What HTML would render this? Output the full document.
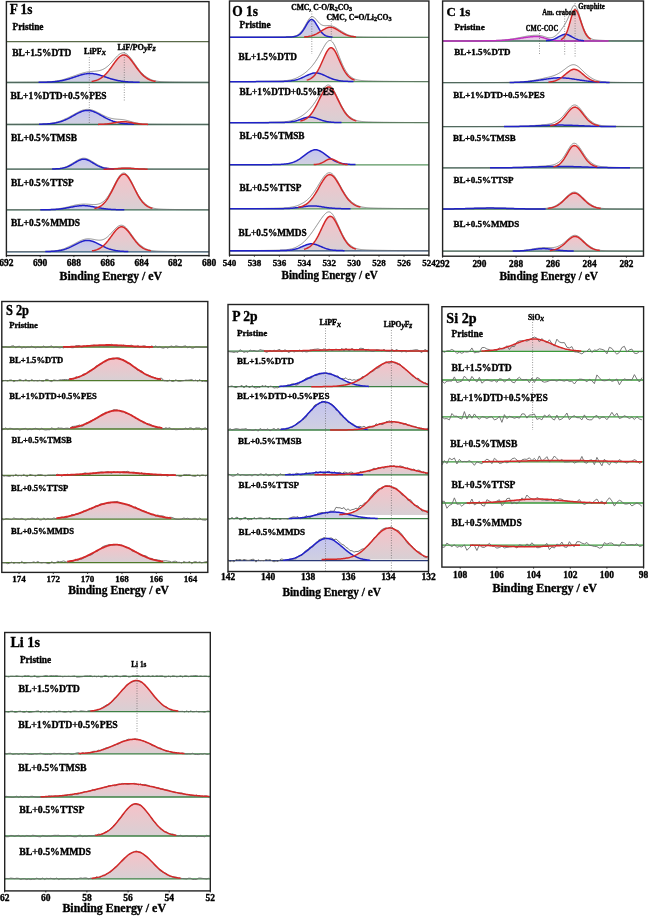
<!DOCTYPE html>
<html><head><meta charset="utf-8"><style>
html,body{margin:0;padding:0;background:#fff;}
svg{display:block;filter:blur(0.3px);}
text{font-family:"Liberation Serif",serif;fill:#000;stroke:#000;stroke-width:0.35px;}
</style></head><body>
<svg width="648" height="916" viewBox="0 0 648 916">
<defs>
<linearGradient id="gr" x1="0" y1="0" x2="0" y2="1"><stop offset="0" stop-color="#f6c2c8"/><stop offset="1" stop-color="#d8d0d4"/></linearGradient>
<linearGradient id="gb" x1="0" y1="0" x2="0" y2="1"><stop offset="0" stop-color="#c4c4f0"/><stop offset="1" stop-color="#d0d0e0"/></linearGradient>
<linearGradient id="gm" x1="0" y1="0" x2="0" y2="1"><stop offset="0" stop-color="#f0c4f0"/><stop offset="1" stop-color="#e0d0e0"/></linearGradient>
</defs>
<rect width="648" height="916" fill="#fff"/>
<clipPath id="cF"><rect x="6.4" y="1.6" width="202.6" height="254.0"/></clipPath>
<g clip-path="url(#cF)">
<line x1="6.4" y1="41.7" x2="209" y2="41.7" stroke="#5a6a48" stroke-width="1.3"/>
<path d="M38.6,82.31 L39.6,82.30 L40.6,82.29 L41.6,82.27 L42.6,82.25 L43.6,82.23 L44.6,82.20 L45.6,82.17 L46.6,82.14 L47.6,82.10 L48.6,82.06 L49.6,82.01 L50.6,81.95 L51.6,81.88 L52.6,81.81 L53.6,81.73 L54.6,81.64 L55.6,81.54 L56.6,81.42 L57.6,81.30 L58.6,81.16 L59.6,81.01 L60.6,80.84 L61.6,80.66 L62.6,80.46 L63.6,80.25 L64.6,80.02 L65.6,79.78 L66.6,79.52 L67.6,79.25 L68.6,78.97 L69.6,78.67 L70.6,78.36 L71.6,78.04 L72.6,77.71 L73.6,77.37 L74.6,77.04 L75.6,76.69 L76.6,76.36 L77.6,76.02 L78.6,75.69 L79.6,75.38 L80.6,75.07 L81.6,74.79 L82.6,74.52 L83.6,74.28 L84.6,74.07 L85.6,73.88 L86.6,73.73 L87.6,73.62 L88.6,73.54 L89.6,73.50 L90.6,73.51 L91.6,73.55 L92.6,73.62 L93.6,73.74 L94.6,73.89 L95.6,74.08 L96.6,74.29 L97.6,74.53 L98.6,74.80 L99.6,75.09 L100.6,75.39 L101.6,75.71 L102.6,76.03 L103.6,76.37 L104.6,76.71 L105.6,77.05 L106.6,77.39 L107.6,77.72 L108.6,78.05 L109.6,78.37 L110.6,78.68 L111.6,78.98 L112.6,79.26 L113.6,79.53 L114.6,79.79 L115.6,80.03 L116.6,80.26 L117.6,80.47 L118.6,80.67 L119.6,80.85 L120.6,81.01 L121.6,81.16 L122.6,81.30 L123.6,81.43 L124.6,81.54 L125.6,81.64 L126.6,81.73 L127.6,81.81 L128.6,81.89 L129.6,81.95 L130.6,82.01 L131.6,82.06 L132.6,82.10 L133.6,82.14 L134.6,82.17 L135.6,82.20 L136.6,82.23 L137.6,82.25 L138.6,82.27 L139.6,82.29 L140.6,82.30 L140.6,82.50 L38.6,82.50 Z" fill="url(#gb)" stroke="none"/>
<path d="M85.8,81.93 L86.8,81.88 L87.8,81.81 L88.8,81.73 L89.8,81.63 L90.8,81.51 L91.8,81.38 L92.8,81.21 L93.8,81.01 L94.8,80.77 L95.8,80.49 L96.8,80.16 L97.8,79.77 L98.8,79.33 L99.8,78.81 L100.8,78.23 L101.8,77.56 L102.8,76.82 L103.8,75.98 L104.8,75.07 L105.8,74.06 L106.8,72.97 L107.8,71.80 L108.8,70.56 L109.8,69.25 L110.8,67.89 L111.8,66.50 L112.8,65.09 L113.8,63.68 L114.8,62.29 L115.8,60.95 L116.8,59.68 L117.8,58.51 L118.8,57.46 L119.8,56.57 L120.8,55.85 L121.8,55.32 L122.8,55.00 L123.8,54.90 L124.8,55.02 L125.8,55.36 L126.8,55.91 L127.8,56.65 L128.8,57.56 L129.8,58.62 L130.8,59.80 L131.8,61.08 L132.8,62.43 L133.8,63.82 L134.8,65.23 L135.8,66.64 L136.8,68.03 L137.8,69.38 L138.8,70.68 L139.8,71.92 L140.8,73.08 L141.8,74.16 L142.8,75.16 L143.8,76.07 L144.8,76.90 L145.8,77.63 L146.8,78.29 L147.8,78.87 L148.8,79.38 L149.8,79.82 L150.8,80.20 L151.8,80.52 L152.8,80.80 L153.8,81.03 L154.8,81.23 L155.8,81.39 L156.8,81.53 L157.8,81.64 L158.8,81.74 L159.8,81.82 L160.8,81.88 L160.8,82.50 L85.8,82.50 Z" fill="url(#gr)" stroke="none"/>
<line x1="6.4" y1="82.5" x2="209" y2="82.5" stroke="#3f6f58" stroke-width="1.3"/>
<path d="M6.4,82.35 L7.4,82.35 L8.4,82.35 L9.4,82.35 L10.4,82.34 L11.4,82.34 L12.4,82.34 L13.4,82.33 L14.4,82.33 L15.4,82.32 L16.4,82.32 L17.4,82.32 L18.4,82.31 L19.4,82.31 L20.4,82.30 L21.4,82.30 L22.4,82.29 L23.4,82.29 L24.4,82.28 L25.4,82.28 L26.4,82.27 L27.4,82.26 L28.4,82.26 L29.4,82.25 L30.4,82.24 L31.4,82.23 L32.4,82.22 L33.4,82.21 L34.4,82.20 L35.4,82.19 L36.4,82.18 L37.4,82.16 L38.4,82.14 L39.4,82.13 L40.4,82.10 L41.4,82.08 L42.4,82.05 L43.4,82.02 L44.4,81.99 L45.4,81.95 L46.4,81.90 L47.4,81.85 L48.4,81.80 L49.4,81.73 L50.4,81.66 L51.4,81.57 L52.4,81.48 L53.4,81.38 L54.4,81.26 L55.4,81.13 L56.4,80.99 L57.4,80.83 L58.4,80.65 L59.4,80.46 L60.4,80.25 L61.4,80.02 L62.4,79.77 L63.4,79.50 L64.4,79.21 L65.4,78.90 L66.4,78.58 L67.4,78.23 L68.4,77.87 L69.4,77.49 L70.4,77.18 L71.4,76.85 L72.4,76.51 L73.4,76.17 L74.4,75.82 L75.4,75.47 L76.4,75.11 L77.4,74.76 L78.4,74.42 L79.4,74.08 L80.4,73.75 L81.4,73.44 L82.4,73.14 L83.4,72.87 L84.4,72.61 L85.4,72.38 L86.4,72.17 L87.4,71.98 L88.4,71.82 L89.4,71.69 L90.4,71.57 L91.4,71.47 L92.4,71.39 L93.4,71.31 L94.4,71.24 L95.4,71.15 L96.4,71.06 L97.4,70.93 L98.4,70.78 L99.4,70.58 L100.4,70.32 L101.4,70.01 L102.4,69.63 L103.4,69.17 L104.4,68.62 L105.4,68.00 L106.4,67.28 L107.4,66.48 L108.4,65.60 L109.4,64.65 L110.4,63.62 L111.4,62.54 L112.4,61.42 L113.4,60.29 L114.4,59.14 L115.4,58.02 L116.4,56.95 L117.4,55.95 L118.4,55.04 L119.4,54.26 L120.4,53.63 L121.4,53.16 L122.4,52.89 L123.4,52.82 L124.4,52.96 L125.4,53.30 L126.4,53.85 L127.4,54.59 L128.4,55.50 L129.4,56.57 L130.4,57.75 L131.4,59.04 L132.4,60.40 L133.4,61.82 L134.4,63.26 L135.4,64.70 L136.4,66.13 L137.4,67.53 L138.4,68.87 L139.4,70.16 L140.4,71.37 L141.4,72.50 L142.4,73.55 L143.4,74.51 L144.4,75.38 L145.4,76.16 L146.4,76.86 L147.4,77.48 L148.4,78.16 L149.4,78.75 L150.4,79.27 L151.4,79.71 L152.4,80.08 L153.4,80.40 L154.4,80.67 L155.4,80.90 L156.4,81.09 L157.4,81.25 L158.4,81.38 L159.4,81.49 L160.4,81.58 L161.4,81.66 L162.4,81.73 L163.4,81.78 L164.4,81.83 L165.4,81.87 L166.4,81.90 L167.4,81.93 L168.4,81.96 L169.4,81.98 L170.4,82.01 L171.4,82.03 L172.4,82.04 L173.4,82.06 L174.4,82.08 L175.4,82.09 L176.4,82.10 L177.4,82.12 L178.4,82.13 L179.4,82.14 L180.4,82.15 L181.4,82.16 L182.4,82.17 L183.4,82.18 L184.4,82.19 L185.4,82.20 L186.4,82.21 L187.4,82.22 L188.4,82.23 L189.4,82.23 L190.4,82.24 L191.4,82.25 L192.4,82.25 L193.4,82.26 L194.4,82.27 L195.4,82.27 L196.4,82.28 L197.4,82.28 L198.4,82.29 L199.4,82.29 L200.4,82.30 L201.4,82.30 L202.4,82.31 L203.4,82.31 L204.4,82.32 L205.4,82.32 L206.4,82.32 L207.4,82.33 L208.4,82.33" fill="none" stroke="#666" stroke-width="0.7"/>
<path d="M38.6,82.31 L39.6,82.30 L40.6,82.29 L41.6,82.27 L42.6,82.25 L43.6,82.23 L44.6,82.20 L45.6,82.17 L46.6,82.14 L47.6,82.10 L48.6,82.06 L49.6,82.01 L50.6,81.95 L51.6,81.88 L52.6,81.81 L53.6,81.73 L54.6,81.64 L55.6,81.54 L56.6,81.42 L57.6,81.30 L58.6,81.16 L59.6,81.01 L60.6,80.84 L61.6,80.66 L62.6,80.46 L63.6,80.25 L64.6,80.02 L65.6,79.78 L66.6,79.52 L67.6,79.25 L68.6,78.97 L69.6,78.67 L70.6,78.36 L71.6,78.04 L72.6,77.71 L73.6,77.37 L74.6,77.04 L75.6,76.69 L76.6,76.36 L77.6,76.02 L78.6,75.69 L79.6,75.38 L80.6,75.07 L81.6,74.79 L82.6,74.52 L83.6,74.28 L84.6,74.07 L85.6,73.88 L86.6,73.73 L87.6,73.62 L88.6,73.54 L89.6,73.50 L90.6,73.51 L91.6,73.55 L92.6,73.62 L93.6,73.74 L94.6,73.89 L95.6,74.08 L96.6,74.29 L97.6,74.53 L98.6,74.80 L99.6,75.09 L100.6,75.39 L101.6,75.71 L102.6,76.03 L103.6,76.37 L104.6,76.71 L105.6,77.05 L106.6,77.39 L107.6,77.72 L108.6,78.05 L109.6,78.37 L110.6,78.68 L111.6,78.98 L112.6,79.26 L113.6,79.53 L114.6,79.79 L115.6,80.03 L116.6,80.26 L117.6,80.47 L118.6,80.67 L119.6,80.85 L120.6,81.01 L121.6,81.16 L122.6,81.30 L123.6,81.43 L124.6,81.54 L125.6,81.64 L126.6,81.73 L127.6,81.81 L128.6,81.89 L129.6,81.95 L130.6,82.01 L131.6,82.06 L132.6,82.10 L133.6,82.14 L134.6,82.17 L135.6,82.20 L136.6,82.23 L137.6,82.25 L138.6,82.27 L139.6,82.29" fill="none" stroke="#2020c8" stroke-width="1.5"/>
<path d="M91.6,81.41 L92.6,81.25 L93.6,81.06 L94.6,80.83 L95.6,80.56 L96.6,80.25 L97.6,79.88 L98.6,79.45 L99.6,78.95 L100.6,78.38 L101.6,77.74 L102.6,77.01 L103.6,76.20 L104.6,75.30 L105.6,74.32 L106.6,73.25 L107.6,72.10 L108.6,70.87 L109.6,69.58 L110.6,68.24 L111.6,66.85 L112.6,65.44 L113.6,64.03 L114.6,62.63 L115.6,61.28 L116.6,59.99 L117.6,58.79 L118.6,57.71 L119.6,56.78 L120.6,56.01 L121.6,55.43 L122.6,55.06 L123.6,54.90 L124.6,54.97 L125.6,55.26 L126.6,55.75 L127.6,56.45 L128.6,57.32 L129.6,58.34 L130.6,59.50 L131.6,60.75 L132.6,62.08 L133.6,63.47 L134.6,64.88 L135.6,66.29 L136.6,67.69 L137.6,69.05 L138.6,70.36 L139.6,71.62 L140.6,72.80 L141.6,73.90 L142.6,74.92 L143.6,75.85 L144.6,76.70 L145.6,77.46 L146.6,78.13 L147.6,78.73 L148.6,79.26 L149.6,79.71 L150.6,80.11 L151.6,80.44 L152.6,80.73 L153.6,80.97 L154.6,81.18 L155.6,81.35" fill="none" stroke="#d42828" stroke-width="1.5"/>
<path d="M39.0,124.21 L40.0,124.19 L41.0,124.16 L42.0,124.13 L43.0,124.10 L44.0,124.06 L45.0,124.02 L46.0,123.96 L47.0,123.90 L48.0,123.84 L49.0,123.76 L50.0,123.67 L51.0,123.56 L52.0,123.45 L53.0,123.31 L54.0,123.16 L55.0,122.99 L56.0,122.81 L57.0,122.59 L58.0,122.36 L59.0,122.10 L60.0,121.82 L61.0,121.51 L62.0,121.17 L63.0,120.81 L64.0,120.42 L65.0,120.00 L66.0,119.56 L67.0,119.09 L68.0,118.60 L69.0,118.09 L70.0,117.56 L71.0,117.01 L72.0,116.46 L73.0,115.89 L74.0,115.33 L75.0,114.77 L76.0,114.21 L77.0,113.67 L78.0,113.15 L79.0,112.66 L80.0,112.20 L81.0,111.78 L82.0,111.41 L83.0,111.09 L84.0,110.82 L85.0,110.62 L86.0,110.48 L87.0,110.41 L88.0,110.41 L89.0,110.48 L90.0,110.61 L91.0,110.82 L92.0,111.08 L93.0,111.40 L94.0,111.77 L95.0,112.19 L96.0,112.65 L97.0,113.14 L98.0,113.66 L99.0,114.20 L100.0,114.76 L101.0,115.32 L102.0,115.88 L103.0,116.45 L104.0,117.00 L105.0,117.55 L106.0,118.08 L107.0,118.59 L108.0,119.08 L109.0,119.55 L110.0,119.99 L111.0,120.41 L112.0,120.80 L113.0,121.17 L114.0,121.50 L115.0,121.81 L116.0,122.10 L117.0,122.36 L118.0,122.59 L119.0,122.80 L120.0,122.99 L121.0,123.16 L122.0,123.31 L123.0,123.44 L124.0,123.56 L125.0,123.66 L126.0,123.76 L127.0,123.83 L128.0,123.90 L129.0,123.96 L130.0,124.02 L131.0,124.06 L132.0,124.10 L133.0,124.13 L134.0,124.16 L135.0,124.19 L136.0,124.21 L136.0,124.50 L39.0,124.50 Z" fill="url(#gb)" stroke="none"/>
<path d="M93.5,124.44 L94.5,124.43 L95.5,124.43 L96.5,124.41 L97.5,124.40 L98.5,124.38 L99.5,124.36 L100.5,124.33 L101.5,124.29 L102.5,124.24 L103.5,124.19 L104.5,124.12 L105.5,124.05 L106.5,123.95 L107.5,123.85 L108.5,123.73 L109.5,123.60 L110.5,123.45 L111.5,123.29 L112.5,123.12 L113.5,122.94 L114.5,122.76 L115.5,122.57 L116.5,122.40 L117.5,122.23 L118.5,122.07 L119.5,121.94 L120.5,121.83 L121.5,121.75 L122.5,121.71 L123.5,121.70 L124.5,121.73 L125.5,121.80 L126.5,121.89 L127.5,122.02 L128.5,122.16 L129.5,122.33 L130.5,122.50 L131.5,122.68 L132.5,122.87 L133.5,123.05 L134.5,123.22 L135.5,123.39 L136.5,123.54 L137.5,123.68 L138.5,123.80 L139.5,123.91 L140.5,124.01 L141.5,124.09 L142.5,124.16 L143.5,124.22 L144.5,124.27 L145.5,124.31 L146.5,124.34 L147.5,124.37 L148.5,124.39 L149.5,124.41 L150.5,124.42 L151.5,124.43 L152.5,124.44 L152.5,124.50 L93.5,124.50 Z" fill="url(#gr)" stroke="none"/>
<line x1="6.4" y1="124.5" x2="209" y2="124.5" stroke="#3f6f58" stroke-width="1.3"/>
<path d="M6.4,124.38 L7.4,124.38 L8.4,124.37 L9.4,124.37 L10.4,124.37 L11.4,124.37 L12.4,124.36 L13.4,124.36 L14.4,124.35 L15.4,124.35 L16.4,124.35 L17.4,124.34 L18.4,124.34 L19.4,124.33 L20.4,124.33 L21.4,124.32 L22.4,124.32 L23.4,124.31 L24.4,124.31 L25.4,124.30 L26.4,124.29 L27.4,124.29 L28.4,124.28 L29.4,124.27 L30.4,124.26 L31.4,124.25 L32.4,124.24 L33.4,124.23 L34.4,124.22 L35.4,124.20 L36.4,124.18 L37.4,124.17 L38.4,124.14 L39.4,124.12 L40.4,124.09 L41.4,124.06 L42.4,124.02 L43.4,123.97 L44.4,123.92 L45.4,123.86 L46.4,123.79 L47.4,123.71 L48.4,123.62 L49.4,123.52 L50.4,123.40 L51.4,123.26 L52.4,123.11 L53.4,122.93 L54.4,122.73 L55.4,122.51 L56.4,122.26 L57.4,121.99 L58.4,121.68 L59.4,121.35 L60.4,120.98 L61.4,120.58 L62.4,120.15 L63.4,119.68 L64.4,119.24 L65.4,118.81 L66.4,118.36 L67.4,117.88 L68.4,117.38 L69.4,116.86 L70.4,116.32 L71.4,115.77 L72.4,115.21 L73.4,114.64 L74.4,114.08 L75.4,113.52 L76.4,112.97 L77.4,112.44 L78.4,111.93 L79.4,111.44 L80.4,111.00 L81.4,110.60 L82.4,110.24 L83.4,109.94 L84.4,109.70 L85.4,109.52 L86.4,109.41 L87.4,109.37 L88.4,109.39 L89.4,109.49 L90.4,109.65 L91.4,109.87 L92.4,110.15 L93.4,110.49 L94.4,110.88 L95.4,111.30 L96.4,111.76 L97.4,112.25 L98.4,112.76 L99.4,113.29 L100.4,113.81 L101.4,114.34 L102.4,114.86 L103.4,115.37 L104.4,115.86 L105.4,116.32 L106.4,116.75 L107.4,117.16 L108.4,117.52 L109.4,117.85 L110.4,118.13 L111.4,118.38 L112.4,118.59 L113.4,118.77 L114.4,118.91 L115.4,119.03 L116.4,119.12 L117.4,119.20 L118.4,119.27 L119.4,119.33 L120.4,119.40 L121.4,119.48 L122.4,119.60 L123.4,119.74 L124.4,119.91 L125.4,120.11 L126.4,120.34 L127.4,120.58 L128.4,120.85 L129.4,121.12 L130.4,121.40 L131.4,121.68 L132.4,121.95 L133.4,122.22 L134.4,122.47 L135.4,122.71 L136.4,122.93 L137.4,123.12 L138.4,123.30 L139.4,123.46 L140.4,123.60 L141.4,123.72 L142.4,123.82 L143.4,123.90 L144.4,123.98 L145.4,124.04 L146.4,124.09 L147.4,124.13 L148.4,124.16 L149.4,124.19 L150.4,124.21 L151.4,124.23 L152.4,124.25 L153.4,124.26 L154.4,124.27 L155.4,124.28 L156.4,124.29 L157.4,124.30 L158.4,124.31 L159.4,124.31 L160.4,124.32 L161.4,124.32 L162.4,124.33 L163.4,124.34 L164.4,124.34 L165.4,124.34 L166.4,124.35 L167.4,124.35 L168.4,124.36 L169.4,124.36 L170.4,124.36 L171.4,124.37 L172.4,124.37 L173.4,124.37 L174.4,124.38 L175.4,124.38 L176.4,124.38 L177.4,124.39 L178.4,124.39 L179.4,124.39 L180.4,124.39 L181.4,124.40 L182.4,124.40 L183.4,124.40 L184.4,124.40 L185.4,124.41 L186.4,124.41 L187.4,124.41 L188.4,124.41 L189.4,124.41 L190.4,124.41 L191.4,124.42 L192.4,124.42 L193.4,124.42 L194.4,124.42 L195.4,124.42 L196.4,124.42 L197.4,124.43 L198.4,124.43 L199.4,124.43 L200.4,124.43 L201.4,124.43 L202.4,124.43 L203.4,124.43 L204.4,124.43 L205.4,124.44 L206.4,124.44 L207.4,124.44 L208.4,124.44" fill="none" stroke="#666" stroke-width="0.7"/>
<path d="M39.0,124.21 L40.0,124.19 L41.0,124.16 L42.0,124.13 L43.0,124.10 L44.0,124.06 L45.0,124.02 L46.0,123.96 L47.0,123.90 L48.0,123.84 L49.0,123.76 L50.0,123.67 L51.0,123.56 L52.0,123.45 L53.0,123.31 L54.0,123.16 L55.0,122.99 L56.0,122.81 L57.0,122.59 L58.0,122.36 L59.0,122.10 L60.0,121.82 L61.0,121.51 L62.0,121.17 L63.0,120.81 L64.0,120.42 L65.0,120.00 L66.0,119.56 L67.0,119.09 L68.0,118.60 L69.0,118.09 L70.0,117.56 L71.0,117.01 L72.0,116.46 L73.0,115.89 L74.0,115.33 L75.0,114.77 L76.0,114.21 L77.0,113.67 L78.0,113.15 L79.0,112.66 L80.0,112.20 L81.0,111.78 L82.0,111.41 L83.0,111.09 L84.0,110.82 L85.0,110.62 L86.0,110.48 L87.0,110.41 L88.0,110.41 L89.0,110.48 L90.0,110.61 L91.0,110.82 L92.0,111.08 L93.0,111.40 L94.0,111.77 L95.0,112.19 L96.0,112.65 L97.0,113.14 L98.0,113.66 L99.0,114.20 L100.0,114.76 L101.0,115.32 L102.0,115.88 L103.0,116.45 L104.0,117.00 L105.0,117.55 L106.0,118.08 L107.0,118.59 L108.0,119.08 L109.0,119.55 L110.0,119.99 L111.0,120.41 L112.0,120.80 L113.0,121.17 L114.0,121.50 L115.0,121.81 L116.0,122.10 L117.0,122.36 L118.0,122.59 L119.0,122.80 L120.0,122.99 L121.0,123.16 L122.0,123.31 L123.0,123.44 L124.0,123.56 L125.0,123.66 L126.0,123.76 L127.0,123.83 L128.0,123.90 L129.0,123.96 L130.0,124.02 L131.0,124.06 L132.0,124.10 L133.0,124.13 L134.0,124.16" fill="none" stroke="#2020c8" stroke-width="1.5"/>
<path d="M98.0,124.39 L99.0,124.37 L100.0,124.34 L101.0,124.31 L102.0,124.27 L103.0,124.22 L104.0,124.16 L105.0,124.09 L106.0,124.00 L107.0,123.90 L108.0,123.79 L109.0,123.66 L110.0,123.52 L111.0,123.37 L112.0,123.20 L113.0,123.03 L114.0,122.85 L115.0,122.67 L116.0,122.48 L117.0,122.31 L118.0,122.15 L119.0,122.00 L120.0,121.88 L121.0,121.79 L122.0,121.73 L123.0,121.70 L124.0,121.71 L125.0,121.76 L126.0,121.84 L127.0,121.95 L128.0,122.09 L129.0,122.24 L130.0,122.41 L131.0,122.59 L132.0,122.78 L133.0,122.96 L134.0,123.14 L135.0,123.30 L136.0,123.46 L137.0,123.61 L138.0,123.74 L139.0,123.86 L140.0,123.96 L141.0,124.05 L142.0,124.13 L143.0,124.19 L144.0,124.25 L145.0,124.29 L146.0,124.33 L147.0,124.36 L148.0,124.38" fill="none" stroke="#d42828" stroke-width="1.5"/>
<path d="M52.1,168.99 L53.1,168.97 L54.1,168.94 L55.1,168.90 L56.1,168.85 L57.1,168.79 L58.1,168.72 L59.1,168.63 L60.1,168.52 L61.1,168.38 L62.1,168.22 L63.1,168.02 L64.1,167.79 L65.1,167.52 L66.1,167.21 L67.1,166.85 L68.1,166.45 L69.1,166.00 L70.1,165.51 L71.1,164.98 L72.1,164.42 L73.1,163.83 L74.1,163.22 L75.1,162.61 L76.1,162.00 L77.1,161.42 L78.1,160.87 L79.1,160.37 L80.1,159.95 L81.1,159.60 L82.1,159.36 L83.1,159.23 L84.1,159.21 L85.1,159.30 L86.1,159.51 L87.1,159.81 L88.1,160.21 L89.1,160.68 L90.1,161.21 L91.1,161.79 L92.1,162.39 L93.1,163.00 L94.1,163.61 L95.1,164.21 L96.1,164.78 L97.1,165.33 L98.1,165.83 L99.1,166.29 L100.1,166.71 L101.1,167.08 L102.1,167.41 L103.1,167.70 L104.1,167.94 L105.1,168.15 L106.1,168.32 L107.1,168.47 L108.1,168.59 L109.1,168.69 L110.1,168.77 L111.1,168.83 L112.1,168.88 L113.1,168.93 L114.1,168.96 L115.1,168.99 L115.1,169.20 L52.1,169.20 Z" fill="url(#gb)" stroke="none"/>
<path d="M99.6,169.18 L100.6,169.18 L101.6,169.17 L102.6,169.17 L103.6,169.16 L104.6,169.15 L105.6,169.14 L106.6,169.13 L107.6,169.11 L108.6,169.09 L109.6,169.06 L110.6,169.03 L111.6,168.99 L112.6,168.94 L113.6,168.89 L114.6,168.83 L115.6,168.77 L116.6,168.70 L117.6,168.63 L118.6,168.55 L119.6,168.48 L120.6,168.41 L121.6,168.35 L122.6,168.29 L123.6,168.25 L124.6,168.22 L125.6,168.20 L126.6,168.20 L127.6,168.22 L128.6,168.25 L129.6,168.30 L130.6,168.36 L131.6,168.42 L132.6,168.49 L133.6,168.57 L134.6,168.64 L135.6,168.71 L136.6,168.78 L137.6,168.84 L138.6,168.90 L139.6,168.95 L140.6,169.00 L141.6,169.03 L142.6,169.06 L143.6,169.09 L144.6,169.11 L145.6,169.13 L146.6,169.14 L147.6,169.15 L148.6,169.16 L149.6,169.17 L150.6,169.17 L151.6,169.18 L151.6,169.20 L99.6,169.20 Z" fill="url(#gr)" stroke="none"/>
<line x1="6.4" y1="169.2" x2="209" y2="169.2" stroke="#3f6f58" stroke-width="1.3"/>
<path d="M6.4,169.16 L7.4,169.16 L8.4,169.16 L9.4,169.16 L10.4,169.16 L11.4,169.15 L12.4,169.15 L13.4,169.15 L14.4,169.15 L15.4,169.15 L16.4,169.15 L17.4,169.15 L18.4,169.14 L19.4,169.14 L20.4,169.14 L21.4,169.14 L22.4,169.14 L23.4,169.13 L24.4,169.13 L25.4,169.13 L26.4,169.13 L27.4,169.13 L28.4,169.12 L29.4,169.12 L30.4,169.12 L31.4,169.11 L32.4,169.11 L33.4,169.11 L34.4,169.10 L35.4,169.10 L36.4,169.10 L37.4,169.09 L38.4,169.09 L39.4,169.08 L40.4,169.08 L41.4,169.07 L42.4,169.07 L43.4,169.06 L44.4,169.05 L45.4,169.04 L46.4,169.04 L47.4,169.02 L48.4,169.01 L49.4,169.00 L50.4,168.98 L51.4,168.96 L52.4,168.93 L53.4,168.90 L54.4,168.86 L55.4,168.81 L56.4,168.74 L57.4,168.66 L58.4,168.57 L59.4,168.44 L60.4,168.30 L61.4,168.12 L62.4,167.90 L63.4,167.64 L64.4,167.34 L65.4,166.99 L66.4,166.58 L67.4,166.12 L68.4,165.60 L69.4,165.03 L70.4,164.40 L71.4,163.82 L72.4,163.25 L73.4,162.66 L74.4,162.05 L75.4,161.43 L76.4,160.83 L77.4,160.25 L78.4,159.72 L79.4,159.24 L80.4,158.84 L81.4,158.52 L82.4,158.31 L83.4,158.20 L84.4,158.21 L85.4,158.34 L86.4,158.57 L87.4,158.91 L88.4,159.33 L89.4,159.82 L90.4,160.36 L91.4,160.94 L92.4,161.55 L93.4,162.16 L94.4,162.77 L95.4,163.36 L96.4,163.92 L97.4,164.52 L98.4,165.13 L99.4,165.69 L100.4,166.19 L101.4,166.64 L102.4,167.03 L103.4,167.36 L104.4,167.65 L105.4,167.88 L106.4,168.07 L107.4,168.22 L108.4,168.34 L109.4,168.42 L110.4,168.48 L111.4,168.50 L112.4,168.51 L113.4,168.50 L114.4,168.46 L115.4,168.42 L116.4,168.36 L117.4,168.29 L118.4,168.21 L119.4,168.14 L120.4,168.06 L121.4,167.99 L122.4,167.92 L123.4,167.87 L124.4,167.84 L125.4,167.82 L126.4,167.83 L127.4,167.85 L128.4,167.89 L129.4,167.95 L130.4,168.03 L131.4,168.11 L132.4,168.20 L133.4,168.30 L134.4,168.39 L135.4,168.49 L136.4,168.58 L137.4,168.66 L138.4,168.73 L139.4,168.80 L140.4,168.86 L141.4,168.91 L142.4,168.96 L143.4,168.99 L144.4,169.02 L145.4,169.05 L146.4,169.07 L147.4,169.08 L148.4,169.10 L149.4,169.11 L150.4,169.11 L151.4,169.12 L152.4,169.12 L153.4,169.13 L154.4,169.13 L155.4,169.14 L156.4,169.14 L157.4,169.14 L158.4,169.14 L159.4,169.15 L160.4,169.15 L161.4,169.15 L162.4,169.15 L163.4,169.15 L164.4,169.15 L165.4,169.15 L166.4,169.16 L167.4,169.16 L168.4,169.16 L169.4,169.16 L170.4,169.16 L171.4,169.16 L172.4,169.16 L173.4,169.16 L174.4,169.16 L175.4,169.17 L176.4,169.17 L177.4,169.17 L178.4,169.17 L179.4,169.17 L180.4,169.17 L181.4,169.17 L182.4,169.17 L183.4,169.17 L184.4,169.17 L185.4,169.17 L186.4,169.17 L187.4,169.17 L188.4,169.17 L189.4,169.17 L190.4,169.18 L191.4,169.18 L192.4,169.18 L193.4,169.18 L194.4,169.18 L195.4,169.18 L196.4,169.18 L197.4,169.18 L198.4,169.18 L199.4,169.18 L200.4,169.18 L201.4,169.18 L202.4,169.18 L203.4,169.18 L204.4,169.18 L205.4,169.18 L206.4,169.18 L207.4,169.18 L208.4,169.18" fill="none" stroke="#666" stroke-width="0.7"/>
<path d="M52.1,168.99 L53.1,168.97 L54.1,168.94 L55.1,168.90 L56.1,168.85 L57.1,168.79 L58.1,168.72 L59.1,168.63 L60.1,168.52 L61.1,168.38 L62.1,168.22 L63.1,168.02 L64.1,167.79 L65.1,167.52 L66.1,167.21 L67.1,166.85 L68.1,166.45 L69.1,166.00 L70.1,165.51 L71.1,164.98 L72.1,164.42 L73.1,163.83 L74.1,163.22 L75.1,162.61 L76.1,162.00 L77.1,161.42 L78.1,160.87 L79.1,160.37 L80.1,159.95 L81.1,159.60 L82.1,159.36 L83.1,159.23 L84.1,159.21 L85.1,159.30 L86.1,159.51 L87.1,159.81 L88.1,160.21 L89.1,160.68 L90.1,161.21 L91.1,161.79 L92.1,162.39 L93.1,163.00 L94.1,163.61 L95.1,164.21 L96.1,164.78 L97.1,165.33 L98.1,165.83 L99.1,166.29 L100.1,166.71 L101.1,167.08 L102.1,167.41 L103.1,167.70 L104.1,167.94 L105.1,168.15 L106.1,168.32 L107.1,168.47 L108.1,168.59 L109.1,168.69 L110.1,168.77 L111.1,168.83 L112.1,168.88 L113.1,168.93 L114.1,168.96" fill="none" stroke="#2020c8" stroke-width="1.5"/>
<path d="M103.6,169.16 L104.6,169.15 L105.6,169.14 L106.6,169.13 L107.6,169.11 L108.6,169.09 L109.6,169.06 L110.6,169.03 L111.6,168.99 L112.6,168.94 L113.6,168.89 L114.6,168.83 L115.6,168.77 L116.6,168.70 L117.6,168.63 L118.6,168.55 L119.6,168.48 L120.6,168.41 L121.6,168.35 L122.6,168.29 L123.6,168.25 L124.6,168.22 L125.6,168.20 L126.6,168.20 L127.6,168.22 L128.6,168.25 L129.6,168.30 L130.6,168.36 L131.6,168.42 L132.6,168.49 L133.6,168.57 L134.6,168.64 L135.6,168.71 L136.6,168.78 L137.6,168.84 L138.6,168.90 L139.6,168.95 L140.6,169.00 L141.6,169.03 L142.6,169.06 L143.6,169.09 L144.6,169.11 L145.6,169.13 L146.6,169.14 L147.6,169.15" fill="none" stroke="#d42828" stroke-width="1.5"/>
<path d="M40.3,209.81 L41.3,209.80 L42.3,209.79 L43.3,209.78 L44.3,209.77 L45.3,209.76 L46.3,209.74 L47.3,209.72 L48.3,209.70 L49.3,209.67 L50.3,209.64 L51.3,209.60 L52.3,209.56 L53.3,209.51 L54.3,209.45 L55.3,209.39 L56.3,209.31 L57.3,209.23 L58.3,209.14 L59.3,209.04 L60.3,208.93 L61.3,208.80 L62.3,208.67 L63.3,208.53 L64.3,208.37 L65.3,208.21 L66.3,208.04 L67.3,207.86 L68.3,207.67 L69.3,207.48 L70.3,207.29 L71.3,207.09 L72.3,206.90 L73.3,206.71 L74.3,206.53 L75.3,206.35 L76.3,206.19 L77.3,206.04 L78.3,205.91 L79.3,205.80 L80.3,205.71 L81.3,205.65 L82.3,205.61 L83.3,205.60 L84.3,205.62 L85.3,205.66 L86.3,205.73 L87.3,205.82 L88.3,205.94 L89.3,206.07 L90.3,206.22 L91.3,206.39 L92.3,206.56 L93.3,206.75 L94.3,206.94 L95.3,207.13 L96.3,207.33 L97.3,207.52 L98.3,207.71 L99.3,207.90 L100.3,208.07 L101.3,208.24 L102.3,208.41 L103.3,208.56 L104.3,208.70 L105.3,208.83 L106.3,208.95 L107.3,209.06 L108.3,209.16 L109.3,209.25 L110.3,209.33 L111.3,209.40 L112.3,209.46 L113.3,209.52 L114.3,209.57 L115.3,209.61 L116.3,209.64 L117.3,209.67 L118.3,209.70 L119.3,209.72 L120.3,209.74 L121.3,209.76 L122.3,209.77 L123.3,209.79 L124.3,209.80 L125.3,209.81 L125.3,209.90 L40.3,209.90 Z" fill="url(#gb)" stroke="none"/>
<path d="M89.2,209.16 L90.2,209.08 L91.2,208.98 L92.2,208.87 L93.2,208.72 L94.2,208.54 L95.2,208.32 L96.2,208.06 L97.2,207.73 L98.2,207.35 L99.2,206.89 L100.2,206.34 L101.2,205.70 L102.2,204.95 L103.2,204.08 L104.2,203.10 L105.2,201.98 L106.2,200.72 L107.2,199.34 L108.2,197.82 L109.2,196.17 L110.2,194.41 L111.2,192.55 L112.2,190.61 L113.2,188.62 L114.2,186.62 L115.2,184.62 L116.2,182.68 L117.2,180.83 L118.2,179.13 L119.2,177.61 L120.2,176.31 L121.2,175.29 L122.2,174.57 L123.2,174.17 L124.2,174.12 L125.2,174.41 L126.2,175.04 L127.2,175.98 L128.2,177.19 L129.2,178.65 L130.2,180.31 L131.2,182.11 L132.2,184.03 L133.2,186.01 L134.2,188.02 L135.2,190.02 L136.2,191.98 L137.2,193.86 L138.2,195.65 L139.2,197.33 L140.2,198.89 L141.2,200.32 L142.2,201.62 L143.2,202.77 L144.2,203.80 L145.2,204.70 L146.2,205.48 L147.2,206.16 L148.2,206.73 L149.2,207.22 L150.2,207.63 L151.2,207.97 L152.2,208.25 L153.2,208.48 L154.2,208.67 L155.2,208.82 L156.2,208.95 L157.2,209.06 L158.2,209.14 L158.2,209.90 L89.2,209.90 Z" fill="url(#gr)" stroke="none"/>
<line x1="6.4" y1="209.9" x2="209" y2="209.9" stroke="#3f6f58" stroke-width="1.3"/>
<path d="M6.4,209.80 L7.4,209.79 L8.4,209.79 L9.4,209.79 L10.4,209.79 L11.4,209.78 L12.4,209.78 L13.4,209.78 L14.4,209.78 L15.4,209.77 L16.4,209.77 L17.4,209.77 L18.4,209.77 L19.4,209.76 L20.4,209.76 L21.4,209.76 L22.4,209.75 L23.4,209.75 L24.4,209.75 L25.4,209.74 L26.4,209.74 L27.4,209.73 L28.4,209.73 L29.4,209.73 L30.4,209.72 L31.4,209.72 L32.4,209.71 L33.4,209.70 L34.4,209.70 L35.4,209.69 L36.4,209.68 L37.4,209.68 L38.4,209.67 L39.4,209.66 L40.4,209.64 L41.4,209.63 L42.4,209.62 L43.4,209.60 L44.4,209.58 L45.4,209.56 L46.4,209.53 L47.4,209.50 L48.4,209.47 L49.4,209.43 L50.4,209.38 L51.4,209.33 L52.4,209.27 L53.4,209.20 L54.4,209.12 L55.4,209.04 L56.4,208.94 L57.4,208.83 L58.4,208.71 L59.4,208.57 L60.4,208.42 L61.4,208.26 L62.4,208.08 L63.4,207.90 L64.4,207.69 L65.4,207.48 L66.4,207.25 L67.4,207.02 L68.4,206.78 L69.4,206.52 L70.4,206.27 L71.4,206.01 L72.4,205.76 L73.4,205.51 L74.4,205.26 L75.4,205.03 L76.4,204.83 L77.4,204.67 L78.4,204.53 L79.4,204.40 L80.4,204.30 L81.4,204.21 L82.4,204.16 L83.4,204.12 L84.4,204.11 L85.4,204.12 L86.4,204.15 L87.4,204.20 L88.4,204.26 L89.4,204.33 L90.4,204.40 L91.4,204.46 L92.4,204.51 L93.4,204.54 L94.4,204.55 L95.4,204.51 L96.4,204.43 L97.4,204.28 L98.4,204.07 L99.4,203.77 L100.4,203.38 L101.4,202.88 L102.4,202.26 L103.4,201.52 L104.4,200.64 L105.4,199.62 L106.4,198.45 L107.4,197.14 L108.4,195.68 L109.4,194.10 L110.4,192.39 L111.4,190.58 L112.4,188.69 L113.4,186.75 L114.4,184.78 L115.4,182.84 L116.4,180.96 L117.4,179.17 L118.4,177.53 L119.4,176.09 L120.4,174.88 L121.4,173.94 L122.4,173.31 L123.4,173.02 L124.4,173.06 L125.4,173.45 L126.4,174.16 L127.4,175.18 L128.4,176.46 L129.4,177.98 L130.4,179.68 L131.4,181.52 L132.4,183.46 L133.4,185.46 L134.4,187.47 L135.4,189.46 L136.4,191.40 L137.4,193.27 L138.4,195.04 L139.4,196.69 L140.4,198.22 L141.4,199.62 L142.4,200.88 L143.4,202.00 L144.4,203.00 L145.4,203.87 L146.4,204.63 L147.4,205.37 L148.4,206.06 L149.4,206.64 L150.4,207.13 L151.4,207.54 L152.4,207.87 L153.4,208.15 L154.4,208.38 L155.4,208.56 L156.4,208.72 L157.4,208.84 L158.4,208.94 L159.4,209.03 L160.4,209.09 L161.4,209.15 L162.4,209.20 L163.4,209.24 L164.4,209.28 L165.4,209.31 L166.4,209.34 L167.4,209.37 L168.4,209.39 L169.4,209.41 L170.4,209.43 L171.4,209.45 L172.4,209.47 L173.4,209.48 L174.4,209.50 L175.4,209.51 L176.4,209.53 L177.4,209.54 L178.4,209.55 L179.4,209.56 L180.4,209.57 L181.4,209.59 L182.4,209.60 L183.4,209.60 L184.4,209.61 L185.4,209.62 L186.4,209.63 L187.4,209.64 L188.4,209.65 L189.4,209.65 L190.4,209.66 L191.4,209.67 L192.4,209.67 L193.4,209.68 L194.4,209.69 L195.4,209.69 L196.4,209.70 L197.4,209.70 L198.4,209.71 L199.4,209.71 L200.4,209.72 L201.4,209.72 L202.4,209.72 L203.4,209.73 L204.4,209.73 L205.4,209.74 L206.4,209.74 L207.4,209.74 L208.4,209.75" fill="none" stroke="#666" stroke-width="0.7"/>
<path d="M40.3,209.81 L41.3,209.80 L42.3,209.79 L43.3,209.78 L44.3,209.77 L45.3,209.76 L46.3,209.74 L47.3,209.72 L48.3,209.70 L49.3,209.67 L50.3,209.64 L51.3,209.60 L52.3,209.56 L53.3,209.51 L54.3,209.45 L55.3,209.39 L56.3,209.31 L57.3,209.23 L58.3,209.14 L59.3,209.04 L60.3,208.93 L61.3,208.80 L62.3,208.67 L63.3,208.53 L64.3,208.37 L65.3,208.21 L66.3,208.04 L67.3,207.86 L68.3,207.67 L69.3,207.48 L70.3,207.29 L71.3,207.09 L72.3,206.90 L73.3,206.71 L74.3,206.53 L75.3,206.35 L76.3,206.19 L77.3,206.04 L78.3,205.91 L79.3,205.80 L80.3,205.71 L81.3,205.65 L82.3,205.61 L83.3,205.60 L84.3,205.62 L85.3,205.66 L86.3,205.73 L87.3,205.82 L88.3,205.94 L89.3,206.07 L90.3,206.22 L91.3,206.39 L92.3,206.56 L93.3,206.75 L94.3,206.94 L95.3,207.13 L96.3,207.33 L97.3,207.52 L98.3,207.71 L99.3,207.90 L100.3,208.07 L101.3,208.24 L102.3,208.41 L103.3,208.56 L104.3,208.70 L105.3,208.83 L106.3,208.95 L107.3,209.06 L108.3,209.16 L109.3,209.25 L110.3,209.33 L111.3,209.40 L112.3,209.46 L113.3,209.52 L114.3,209.57 L115.3,209.61 L116.3,209.64 L117.3,209.67 L118.3,209.70 L119.3,209.72 L120.3,209.74 L121.3,209.76 L122.3,209.77 L123.3,209.79 L124.3,209.80" fill="none" stroke="#2020c8" stroke-width="1.5"/>
<path d="M94.4,208.49 L95.4,208.26 L96.4,207.98 L97.4,207.64 L98.4,207.24 L99.4,206.76 L100.4,206.19 L101.4,205.52 L102.4,204.74 L103.4,203.85 L104.4,202.83 L105.4,201.68 L106.4,200.39 L107.4,198.97 L108.4,197.42 L109.4,195.74 L110.4,193.95 L111.4,192.07 L112.4,190.12 L113.4,188.12 L114.4,186.11 L115.4,184.13 L116.4,182.21 L117.4,180.39 L118.4,178.73 L119.4,177.26 L120.4,176.03 L121.4,175.08 L122.4,174.44 L123.4,174.13 L124.4,174.16 L125.4,174.54 L126.4,175.25 L127.4,176.26 L128.4,177.54 L129.4,179.05 L130.4,180.75 L131.4,182.59 L132.4,184.52 L133.4,186.52 L134.4,188.52 L135.4,190.51 L136.4,192.45 L137.4,194.32 L138.4,196.08 L139.4,197.74 L140.4,199.26 L141.4,200.66 L142.4,201.92 L143.4,203.04 L144.4,204.04 L145.4,204.91 L146.4,205.66 L147.4,206.31 L148.4,206.86 L149.4,207.33 L150.4,207.72 L151.4,208.04 L152.4,208.31" fill="none" stroke="#d42828" stroke-width="1.5"/>
<path d="M45.3,251.57 L46.3,251.54 L47.3,251.52 L48.3,251.49 L49.3,251.46 L50.3,251.42 L51.3,251.37 L52.3,251.32 L53.3,251.25 L54.3,251.18 L55.3,251.09 L56.3,250.98 L57.3,250.87 L58.3,250.73 L59.3,250.57 L60.3,250.39 L61.3,250.19 L62.3,249.96 L63.3,249.71 L64.3,249.43 L65.3,249.12 L66.3,248.78 L67.3,248.41 L68.3,248.02 L69.3,247.60 L70.3,247.15 L71.3,246.68 L72.3,246.18 L73.3,245.68 L74.3,245.16 L75.3,244.64 L76.3,244.11 L77.3,243.59 L78.3,243.09 L79.3,242.61 L80.3,242.15 L81.3,241.74 L82.3,241.36 L83.3,241.04 L84.3,240.78 L85.3,240.58 L86.3,240.46 L87.3,240.40 L88.3,240.42 L89.3,240.51 L90.3,240.68 L91.3,240.91 L92.3,241.20 L93.3,241.55 L94.3,241.95 L95.3,242.39 L96.3,242.85 L97.3,243.35 L98.3,243.86 L99.3,244.38 L100.3,244.91 L101.3,245.43 L102.3,245.94 L103.3,246.44 L104.3,246.92 L105.3,247.38 L106.3,247.82 L107.3,248.23 L108.3,248.61 L109.3,248.96 L110.3,249.28 L111.3,249.58 L112.3,249.85 L113.3,250.09 L114.3,250.30 L115.3,250.49 L116.3,250.66 L117.3,250.80 L118.3,250.93 L119.3,251.04 L120.3,251.13 L121.3,251.22 L122.3,251.29 L123.3,251.35 L124.3,251.40 L125.3,251.44 L126.3,251.48 L127.3,251.51 L128.3,251.53 L129.3,251.56 L129.3,251.80 L45.3,251.80 Z" fill="url(#gb)" stroke="none"/>
<path d="M86.6,251.28 L87.6,251.23 L88.6,251.16 L89.6,251.08 L90.6,250.98 L91.6,250.86 L92.6,250.71 L93.6,250.53 L94.6,250.31 L95.6,250.04 L96.6,249.73 L97.6,249.36 L98.6,248.92 L99.6,248.41 L100.6,247.82 L101.6,247.15 L102.6,246.39 L103.6,245.54 L104.6,244.59 L105.6,243.56 L106.6,242.43 L107.6,241.23 L108.6,239.96 L109.6,238.63 L110.6,237.26 L111.6,235.87 L112.6,234.49 L113.6,233.13 L114.6,231.84 L115.6,230.63 L116.6,229.54 L117.6,228.59 L118.6,227.83 L119.6,227.26 L120.6,226.91 L121.6,226.80 L122.6,226.92 L123.6,227.28 L124.6,227.85 L125.6,228.63 L126.6,229.58 L127.6,230.67 L128.6,231.89 L129.6,233.19 L130.6,234.54 L131.6,235.93 L132.6,237.31 L133.6,238.68 L134.6,240.01 L135.6,241.28 L136.6,242.48 L137.6,243.60 L138.6,244.63 L139.6,245.57 L140.6,246.42 L141.6,247.18 L142.6,247.85 L143.6,248.43 L144.6,248.94 L145.6,249.37 L146.6,249.74 L147.6,250.05 L148.6,250.32 L149.6,250.53 L150.6,250.71 L151.6,250.86 L152.6,250.98 L153.6,251.08 L154.6,251.17 L155.6,251.23 L155.6,251.80 L86.6,251.80 Z" fill="url(#gr)" stroke="none"/>
<line x1="6.4" y1="251.8" x2="209" y2="251.8" stroke="#2f5a78" stroke-width="1.3"/>
<path d="M6.4,251.67 L7.4,251.67 L8.4,251.67 L9.4,251.67 L10.4,251.66 L11.4,251.66 L12.4,251.66 L13.4,251.65 L14.4,251.65 L15.4,251.65 L16.4,251.64 L17.4,251.64 L18.4,251.64 L19.4,251.63 L20.4,251.63 L21.4,251.62 L22.4,251.62 L23.4,251.61 L24.4,251.61 L25.4,251.60 L26.4,251.60 L27.4,251.59 L28.4,251.59 L29.4,251.58 L30.4,251.57 L31.4,251.57 L32.4,251.56 L33.4,251.55 L34.4,251.54 L35.4,251.54 L36.4,251.53 L37.4,251.52 L38.4,251.51 L39.4,251.49 L40.4,251.48 L41.4,251.46 L42.4,251.45 L43.4,251.43 L44.4,251.41 L45.4,251.38 L46.4,251.35 L47.4,251.32 L48.4,251.28 L49.4,251.23 L50.4,251.18 L51.4,251.11 L52.4,251.04 L53.4,250.95 L54.4,250.85 L55.4,250.73 L56.4,250.59 L57.4,250.44 L58.4,250.26 L59.4,250.05 L60.4,249.82 L61.4,249.56 L62.4,249.26 L63.4,248.93 L64.4,248.57 L65.4,248.17 L66.4,247.74 L67.4,247.26 L68.4,246.77 L69.4,246.33 L70.4,245.87 L71.4,245.39 L72.4,244.89 L73.4,244.37 L74.4,243.84 L75.4,243.31 L76.4,242.77 L77.4,242.24 L78.4,241.73 L79.4,241.23 L80.4,240.77 L81.4,240.34 L82.4,239.95 L83.4,239.61 L84.4,239.33 L85.4,239.10 L86.4,238.94 L87.4,238.84 L88.4,238.81 L89.4,238.83 L90.4,238.91 L91.4,239.03 L92.4,239.19 L93.4,239.37 L94.4,239.56 L95.4,239.75 L96.4,239.93 L97.4,240.06 L98.4,240.16 L99.4,240.19 L100.4,240.14 L101.4,240.01 L102.4,239.78 L103.4,239.45 L104.4,239.00 L105.4,238.44 L106.4,237.77 L107.4,236.99 L108.4,236.10 L109.4,235.13 L110.4,234.09 L111.4,232.99 L112.4,231.87 L113.4,230.74 L114.4,229.64 L115.4,228.60 L116.4,227.64 L117.4,226.81 L118.4,226.12 L119.4,225.62 L120.4,225.32 L121.4,225.23 L122.4,225.37 L123.4,225.73 L124.4,226.31 L125.4,227.09 L126.4,228.04 L127.4,229.13 L128.4,230.35 L129.4,231.65 L130.4,233.02 L131.4,234.41 L132.4,235.82 L133.4,237.20 L134.4,238.55 L135.4,239.84 L136.4,241.07 L137.4,242.21 L138.4,243.27 L139.4,244.24 L140.4,245.11 L141.4,245.90 L142.4,246.59 L143.4,247.29 L144.4,247.95 L145.4,248.52 L146.4,249.00 L147.4,249.41 L148.4,249.75 L149.4,250.04 L150.4,250.28 L151.4,250.48 L152.4,250.64 L153.4,250.77 L154.4,250.88 L155.4,250.97 L156.4,251.05 L157.4,251.11 L158.4,251.16 L159.4,251.20 L160.4,251.24 L161.4,251.27 L162.4,251.30 L163.4,251.32 L164.4,251.35 L165.4,251.37 L166.4,251.38 L167.4,251.40 L168.4,251.42 L169.4,251.43 L170.4,251.44 L171.4,251.46 L172.4,251.47 L173.4,251.48 L174.4,251.49 L175.4,251.50 L176.4,251.51 L177.4,251.52 L178.4,251.53 L179.4,251.54 L180.4,251.54 L181.4,251.55 L182.4,251.56 L183.4,251.56 L184.4,251.57 L185.4,251.58 L186.4,251.58 L187.4,251.59 L188.4,251.60 L189.4,251.60 L190.4,251.61 L191.4,251.61 L192.4,251.62 L193.4,251.62 L194.4,251.62 L195.4,251.63 L196.4,251.63 L197.4,251.64 L198.4,251.64 L199.4,251.64 L200.4,251.65 L201.4,251.65 L202.4,251.65 L203.4,251.66 L204.4,251.66 L205.4,251.66 L206.4,251.67 L207.4,251.67 L208.4,251.67" fill="none" stroke="#666" stroke-width="0.7"/>
<path d="M45.3,251.57 L46.3,251.54 L47.3,251.52 L48.3,251.49 L49.3,251.46 L50.3,251.42 L51.3,251.37 L52.3,251.32 L53.3,251.25 L54.3,251.18 L55.3,251.09 L56.3,250.98 L57.3,250.87 L58.3,250.73 L59.3,250.57 L60.3,250.39 L61.3,250.19 L62.3,249.96 L63.3,249.71 L64.3,249.43 L65.3,249.12 L66.3,248.78 L67.3,248.41 L68.3,248.02 L69.3,247.60 L70.3,247.15 L71.3,246.68 L72.3,246.18 L73.3,245.68 L74.3,245.16 L75.3,244.64 L76.3,244.11 L77.3,243.59 L78.3,243.09 L79.3,242.61 L80.3,242.15 L81.3,241.74 L82.3,241.36 L83.3,241.04 L84.3,240.78 L85.3,240.58 L86.3,240.46 L87.3,240.40 L88.3,240.42 L89.3,240.51 L90.3,240.68 L91.3,240.91 L92.3,241.20 L93.3,241.55 L94.3,241.95 L95.3,242.39 L96.3,242.85 L97.3,243.35 L98.3,243.86 L99.3,244.38 L100.3,244.91 L101.3,245.43 L102.3,245.94 L103.3,246.44 L104.3,246.92 L105.3,247.38 L106.3,247.82 L107.3,248.23 L108.3,248.61 L109.3,248.96 L110.3,249.28 L111.3,249.58 L112.3,249.85 L113.3,250.09 L114.3,250.30 L115.3,250.49 L116.3,250.66 L117.3,250.80 L118.3,250.93 L119.3,251.04 L120.3,251.13 L121.3,251.22 L122.3,251.29 L123.3,251.35 L124.3,251.40 L125.3,251.44 L126.3,251.48 L127.3,251.51 L128.3,251.53" fill="none" stroke="#2020c8" stroke-width="1.5"/>
<path d="M91.9,250.81 L92.9,250.66 L93.9,250.46 L94.9,250.23 L95.9,249.95 L96.9,249.62 L97.9,249.23 L98.9,248.77 L99.9,248.24 L100.9,247.63 L101.9,246.93 L102.9,246.14 L103.9,245.27 L104.9,244.29 L105.9,243.23 L106.9,242.08 L107.9,240.86 L108.9,239.56 L109.9,238.22 L110.9,236.84 L111.9,235.45 L112.9,234.08 L113.9,232.74 L114.9,231.46 L115.9,230.29 L116.9,229.24 L117.9,228.34 L118.9,227.63 L119.9,227.13 L120.9,226.85 L121.9,226.81 L122.9,227.01 L123.9,227.43 L124.9,228.06 L125.9,228.89 L126.9,229.89 L127.9,231.03 L128.9,232.27 L129.9,233.59 L130.9,234.96 L131.9,236.34 L132.9,237.73 L133.9,239.09 L134.9,240.40 L135.9,241.65 L136.9,242.83 L137.9,243.92 L138.9,244.93 L139.9,245.84 L140.9,246.66 L141.9,247.39 L142.9,248.03 L143.9,248.59 L144.9,249.08 L145.9,249.49 L146.9,249.84 L147.9,250.14 L148.9,250.39 L149.9,250.59 L150.9,250.76" fill="none" stroke="#d42828" stroke-width="1.5"/>
<line x1="89.3" y1="57" x2="89.3" y2="124" stroke="#555" stroke-width="0.6" stroke-dasharray="1,1.5"/>
<line x1="124.3" y1="52" x2="124.3" y2="102" stroke="#555" stroke-width="0.6" stroke-dasharray="1,1.5"/>
</g>
<rect x="6.4" y="1.6" width="202.6" height="254.0" fill="none" stroke="#222" stroke-width="1.4"/>
<line x1="6.4" y1="255.6" x2="6.4" y2="257.1" stroke="#222" stroke-width="1"/>
<line x1="40.2" y1="255.6" x2="40.2" y2="257.1" stroke="#222" stroke-width="1"/>
<line x1="73.9" y1="255.6" x2="73.9" y2="257.1" stroke="#222" stroke-width="1"/>
<line x1="107.7" y1="255.6" x2="107.7" y2="257.1" stroke="#222" stroke-width="1"/>
<line x1="141.5" y1="255.6" x2="141.5" y2="257.1" stroke="#222" stroke-width="1"/>
<line x1="175.2" y1="255.6" x2="175.2" y2="257.1" stroke="#222" stroke-width="1"/>
<line x1="209.0" y1="255.6" x2="209.0" y2="257.1" stroke="#222" stroke-width="1"/>
<text x="6.4" y="266.0" font-size="9.5" text-anchor="middle" font-weight="bold">692</text>
<text x="40.2" y="266.0" font-size="9.5" text-anchor="middle" font-weight="bold">690</text>
<text x="73.9" y="266.0" font-size="9.5" text-anchor="middle" font-weight="bold">688</text>
<text x="107.7" y="266.0" font-size="9.5" text-anchor="middle" font-weight="bold">686</text>
<text x="141.5" y="266.0" font-size="9.5" text-anchor="middle" font-weight="bold">684</text>
<text x="175.2" y="266.0" font-size="9.5" text-anchor="middle" font-weight="bold">682</text>
<text x="209.0" y="266.0" font-size="9.5" text-anchor="middle" font-weight="bold">680</text>
<text x="59.6" y="279.9" font-size="12.2" text-anchor="start" font-weight="bold" textLength="102.4" lengthAdjust="spacingAndGlyphs">Binding Energy / eV</text>
<text x="9.7" y="14.4" font-size="14.0" text-anchor="start" font-weight="bold" textLength="22.7" lengthAdjust="spacingAndGlyphs">F 1s</text>
<text x="12.5" y="29.6" font-size="9.3" text-anchor="start" font-weight="bold">Pristine</text>
<text x="12.2" y="56.0" font-size="9.45" text-anchor="start" font-weight="bold">BL+1.5%DTD</text>
<text x="10.5" y="99.3" font-size="9.45" text-anchor="start" font-weight="bold">BL+1%DTD+0.5%PES</text>
<text x="11.0" y="140.7" font-size="9.45" text-anchor="start" font-weight="bold">BL+0.5%TMSB</text>
<text x="11.0" y="185.7" font-size="9.45" text-anchor="start" font-weight="bold">BL+0.5%TTSP</text>
<text x="11.0" y="225.5" font-size="9.45" text-anchor="start" font-weight="bold">BL+0.5%MMDS</text>
<text x="84" y="53.9" font-size="7.6" font-weight="bold" textLength="21.8" lengthAdjust="spacingAndGlyphs"><tspan dy="0">LiPF</tspan><tspan dy="1.3" font-style="italic" font-size="7.6">x</tspan></text>
<text x="117.4" y="49.7" font-size="7.6" font-weight="bold" textLength="38.4" lengthAdjust="spacingAndGlyphs"><tspan dy="0">LiF/PO</tspan><tspan dy="1.3" font-style="italic" font-size="7.6">y</tspan><tspan dy="-1.3">F</tspan><tspan dy="1.3" font-style="italic" font-size="7.6">z</tspan></text>
<clipPath id="cO"><rect x="229.5" y="1" width="199.39999999999998" height="254.2"/></clipPath>
<g clip-path="url(#cO)">
<path d="M291.5,36.93 L292.5,36.85 L293.5,36.74 L294.5,36.58 L295.5,36.37 L296.5,36.07 L297.5,35.68 L298.5,35.15 L299.5,34.47 L300.5,33.62 L301.5,32.57 L302.5,31.33 L303.5,29.90 L304.5,28.31 L305.5,26.63 L306.5,24.91 L307.5,23.24 L308.5,21.75 L309.5,20.54 L310.5,19.73 L311.5,19.40 L312.5,19.60 L313.5,20.29 L314.5,21.40 L315.5,22.84 L316.5,24.46 L317.5,26.18 L318.5,27.88 L319.5,29.50 L320.5,30.97 L321.5,32.26 L322.5,33.36 L323.5,34.27 L324.5,34.99 L325.5,35.55 L326.5,35.98 L327.5,36.30 L328.5,36.53 L329.5,36.70 L330.5,36.82 L331.5,36.91 L331.5,37.40 L291.5,37.40 Z" fill="url(#gb)" stroke="none"/>
<path d="M299.3,37.13 L300.3,37.11 L301.3,37.07 L302.3,37.03 L303.3,36.98 L304.3,36.91 L305.3,36.83 L306.3,36.73 L307.3,36.61 L308.3,36.46 L309.3,36.29 L310.3,36.08 L311.3,35.83 L312.3,35.54 L313.3,35.21 L314.3,34.83 L315.3,34.41 L316.3,33.93 L317.3,33.42 L318.3,32.86 L319.3,32.27 L320.3,31.66 L321.3,31.02 L322.3,30.39 L323.3,29.77 L324.3,29.18 L325.3,28.63 L326.3,28.15 L327.3,27.75 L328.3,27.45 L329.3,27.27 L330.3,27.20 L331.3,27.26 L332.3,27.44 L333.3,27.74 L334.3,28.13 L335.3,28.61 L336.3,29.16 L337.3,29.75 L338.3,30.37 L339.3,31.00 L340.3,31.63 L341.3,32.25 L342.3,32.84 L343.3,33.40 L344.3,33.91 L345.3,34.39 L346.3,34.81 L347.3,35.20 L348.3,35.53 L349.3,35.82 L350.3,36.07 L351.3,36.28 L352.3,36.46 L353.3,36.60 L354.3,36.73 L355.3,36.83 L356.3,36.91 L357.3,36.97 L358.3,37.03 L359.3,37.07 L360.3,37.10 L361.3,37.13 L361.3,37.40 L299.3,37.40 Z" fill="url(#gr)" stroke="none"/>
<line x1="229.5" y1="37.4" x2="428.9" y2="37.4" stroke="#5a9660" stroke-width="1.3"/>
<path d="M229.5,37.34 L230.5,37.33 L231.5,37.33 L232.5,37.33 L233.5,37.33 L234.5,37.33 L235.5,37.33 L236.5,37.32 L237.5,37.32 L238.5,37.32 L239.5,37.32 L240.5,37.32 L241.5,37.31 L242.5,37.31 L243.5,37.31 L244.5,37.31 L245.5,37.30 L246.5,37.30 L247.5,37.30 L248.5,37.30 L249.5,37.29 L250.5,37.29 L251.5,37.29 L252.5,37.28 L253.5,37.28 L254.5,37.28 L255.5,37.27 L256.5,37.27 L257.5,37.26 L258.5,37.26 L259.5,37.26 L260.5,37.25 L261.5,37.25 L262.5,37.24 L263.5,37.23 L264.5,37.23 L265.5,37.22 L266.5,37.21 L267.5,37.21 L268.5,37.20 L269.5,37.19 L270.5,37.18 L271.5,37.17 L272.5,37.16 L273.5,37.15 L274.5,37.14 L275.5,37.13 L276.5,37.12 L277.5,37.10 L278.5,37.09 L279.5,37.07 L280.5,37.05 L281.5,37.03 L282.5,37.01 L283.5,36.99 L284.5,36.96 L285.5,36.93 L286.5,36.90 L287.5,36.87 L288.5,36.82 L289.5,36.77 L290.5,36.70 L291.5,36.62 L292.5,36.50 L293.5,36.35 L294.5,36.14 L295.5,35.86 L296.5,35.47 L297.5,34.94 L298.5,34.26 L299.5,33.37 L300.5,32.29 L301.5,31.20 L302.5,29.90 L303.5,28.41 L304.5,26.76 L305.5,24.98 L306.5,23.16 L307.5,21.38 L308.5,19.74 L309.5,18.36 L310.5,17.34 L311.5,16.77 L312.5,16.68 L313.5,17.05 L314.5,17.78 L315.5,18.79 L316.5,19.94 L317.5,21.13 L318.5,22.27 L319.5,23.28 L320.5,24.13 L321.5,24.79 L322.5,25.25 L323.5,25.53 L324.5,25.66 L325.5,25.69 L326.5,25.65 L327.5,25.58 L328.5,25.54 L329.5,25.55 L330.5,25.63 L331.5,25.80 L332.5,26.08 L333.5,26.44 L334.5,26.90 L335.5,27.42 L336.5,28.00 L337.5,28.62 L338.5,29.26 L339.5,29.91 L340.5,30.56 L341.5,31.18 L342.5,31.78 L343.5,32.34 L344.5,32.97 L345.5,33.56 L346.5,34.10 L347.5,34.57 L348.5,34.98 L349.5,35.34 L350.5,35.65 L351.5,35.91 L352.5,36.13 L353.5,36.31 L354.5,36.47 L355.5,36.59 L356.5,36.69 L357.5,36.78 L358.5,36.84 L359.5,36.90 L360.5,36.94 L361.5,36.98 L362.5,37.01 L363.5,37.04 L364.5,37.06 L365.5,37.08 L366.5,37.10 L367.5,37.12 L368.5,37.13 L369.5,37.14 L370.5,37.15 L371.5,37.16 L372.5,37.17 L373.5,37.18 L374.5,37.19 L375.5,37.20 L376.5,37.21 L377.5,37.21 L378.5,37.22 L379.5,37.23 L380.5,37.23 L381.5,37.24 L382.5,37.24 L383.5,37.25 L384.5,37.25 L385.5,37.26 L386.5,37.26 L387.5,37.27 L388.5,37.27 L389.5,37.28 L390.5,37.28 L391.5,37.28 L392.5,37.29 L393.5,37.29 L394.5,37.29 L395.5,37.30 L396.5,37.30 L397.5,37.30 L398.5,37.30 L399.5,37.31 L400.5,37.31 L401.5,37.31 L402.5,37.31 L403.5,37.32 L404.5,37.32 L405.5,37.32 L406.5,37.32 L407.5,37.32 L408.5,37.33 L409.5,37.33 L410.5,37.33 L411.5,37.33 L412.5,37.33 L413.5,37.33 L414.5,37.33 L415.5,37.34 L416.5,37.34 L417.5,37.34 L418.5,37.34 L419.5,37.34 L420.5,37.34 L421.5,37.34 L422.5,37.34 L423.5,37.35 L424.5,37.35 L425.5,37.35 L426.5,37.35 L427.5,37.35 L428.5,37.35" fill="none" stroke="#666" stroke-width="0.7"/>
<path d="M229.5,37.37 L230.5,37.37 L231.5,37.37 L232.5,37.37 L233.5,37.37 L234.5,37.37 L235.5,37.37 L236.5,37.37 L237.5,37.37 L238.5,37.37 L239.5,37.36 L240.5,37.36 L241.5,37.36 L242.5,37.36 L243.5,37.36 L244.5,37.36 L245.5,37.36 L246.5,37.36 L247.5,37.36 L248.5,37.35 L249.5,37.35 L250.5,37.35 L251.5,37.35 L252.5,37.35 L253.5,37.35 L254.5,37.34 L255.5,37.34 L256.5,37.34 L257.5,37.34 L258.5,37.34 L259.5,37.33 L260.5,37.33 L261.5,37.33 L262.5,37.32 L263.5,37.32 L264.5,37.32 L265.5,37.31 L266.5,37.31 L267.5,37.31 L268.5,37.30 L269.5,37.30 L270.5,37.29 L271.5,37.29 L272.5,37.28 L273.5,37.28 L274.5,37.27 L275.5,37.26 L276.5,37.26 L277.5,37.25 L278.5,37.24 L279.5,37.23 L280.5,37.22 L281.5,37.21 L282.5,37.19 L283.5,37.18 L284.5,37.16 L285.5,37.15 L286.5,37.12 L287.5,37.10 L288.5,37.07 L289.5,37.04 L290.5,36.99 L291.5,36.93 L292.5,36.85 L293.5,36.73 L294.5,36.58 L295.5,36.36 L296.5,36.06 L297.5,35.66 L298.5,35.13 L299.5,34.45 L300.5,33.59 L301.5,32.53 L302.5,31.29 L303.5,29.85 L304.5,28.26 L305.5,26.57 L306.5,24.85 L307.5,23.20 L308.5,21.71 L309.5,20.51 L310.5,19.71 L311.5,19.40 L312.5,19.61 L313.5,20.32 L314.5,21.44 L315.5,22.88 L316.5,24.51 L317.5,26.23 L318.5,27.93 L319.5,29.55 L320.5,31.01 L321.5,32.30 L322.5,33.39 L323.5,34.29 L324.5,35.01 L325.5,35.57 L326.5,35.99 L327.5,36.31 L328.5,36.54 L329.5,36.71 L330.5,36.83 L331.5,36.91 L332.5,36.98" fill="none" stroke="#2020c8" stroke-width="1.5"/>
<path d="M304.0,36.93 L305.0,36.86 L306.0,36.76 L307.0,36.65 L308.0,36.51 L309.0,36.34 L310.0,36.14 L311.0,35.91 L312.0,35.63 L313.0,35.31 L314.0,34.95 L315.0,34.54 L316.0,34.08 L317.0,33.58 L318.0,33.03 L319.0,32.45 L320.0,31.84 L321.0,31.22 L322.0,30.58 L323.0,29.96 L324.0,29.35 L325.0,28.79 L326.0,28.29 L327.0,27.86 L328.0,27.53 L329.0,27.31 L330.0,27.21 L331.0,27.23 L332.0,27.38 L333.0,27.64 L334.0,28.01 L335.0,28.46 L336.0,28.99 L337.0,29.57 L338.0,30.18 L339.0,30.81 L340.0,31.44 L341.0,32.06 L342.0,32.66 L343.0,33.23 L344.0,33.76 L345.0,34.25 L346.0,34.69 L347.0,35.09 L348.0,35.43 L349.0,35.74 L350.0,36.00 L351.0,36.22 L352.0,36.41 L353.0,36.56 L354.0,36.69 L355.0,36.80 L356.0,36.88" fill="none" stroke="#d42828" stroke-width="1.5"/>
<path d="M280.2,81.47 L281.2,81.45 L282.2,81.42 L283.2,81.39 L284.2,81.36 L285.2,81.32 L286.2,81.26 L287.2,81.20 L288.2,81.13 L289.2,81.04 L290.2,80.93 L291.2,80.81 L292.2,80.66 L293.2,80.50 L294.2,80.30 L295.2,80.08 L296.2,79.83 L297.2,79.55 L298.2,79.24 L299.2,78.90 L300.2,78.53 L301.2,78.13 L302.2,77.71 L303.2,77.27 L304.2,76.80 L305.2,76.33 L306.2,75.86 L307.2,75.38 L308.2,74.93 L309.2,74.49 L310.2,74.09 L311.2,73.73 L312.2,73.42 L313.2,73.18 L314.2,73.01 L315.2,72.92 L316.2,72.91 L317.2,72.98 L318.2,73.12 L319.2,73.35 L320.2,73.64 L321.2,73.98 L322.2,74.37 L323.2,74.80 L324.2,75.25 L325.2,75.72 L326.2,76.20 L327.2,76.67 L328.2,77.14 L329.2,77.59 L330.2,78.02 L331.2,78.42 L332.2,78.80 L333.2,79.15 L334.2,79.47 L335.2,79.76 L336.2,80.02 L337.2,80.24 L338.2,80.44 L339.2,80.62 L340.2,80.77 L341.2,80.90 L342.2,81.01 L343.2,81.10 L344.2,81.18 L345.2,81.25 L346.2,81.30 L347.2,81.35 L348.2,81.39 L349.2,81.42 L350.2,81.44 L351.2,81.47 L351.2,81.70 L280.2,81.70 Z" fill="url(#gb)" stroke="none"/>
<path d="M302.4,80.81 L303.4,80.71 L304.4,80.58 L305.4,80.42 L306.4,80.22 L307.4,79.97 L308.4,79.65 L309.4,79.25 L310.4,78.76 L311.4,78.16 L312.4,77.44 L313.4,76.57 L314.4,75.54 L315.4,74.34 L316.4,72.97 L317.4,71.41 L318.4,69.67 L319.4,67.76 L320.4,65.70 L321.4,63.53 L322.4,61.27 L323.4,58.99 L324.4,56.74 L325.4,54.58 L326.4,52.59 L327.4,50.85 L328.4,49.43 L329.4,48.40 L330.4,47.82 L331.4,47.72 L332.4,48.10 L333.4,48.95 L334.4,50.21 L335.4,51.83 L336.4,53.72 L337.4,55.82 L338.4,58.04 L339.4,60.32 L340.4,62.59 L341.4,64.80 L342.4,66.91 L343.4,68.88 L344.4,70.70 L345.4,72.33 L346.4,73.79 L347.4,75.06 L348.4,76.16 L349.4,77.09 L350.4,77.88 L351.4,78.53 L352.4,79.06 L353.4,79.49 L354.4,79.84 L355.4,80.12 L356.4,80.34 L357.4,80.52 L358.4,80.66 L359.4,80.77 L359.4,81.70 L302.4,81.70 Z" fill="url(#gr)" stroke="none"/>
<line x1="229.5" y1="81.7" x2="428.9" y2="81.7" stroke="#5a9660" stroke-width="1.3"/>
<path d="M229.5,81.55 L230.5,81.54 L231.5,81.54 L232.5,81.54 L233.5,81.53 L234.5,81.53 L235.5,81.53 L236.5,81.52 L237.5,81.52 L238.5,81.51 L239.5,81.51 L240.5,81.51 L241.5,81.50 L242.5,81.50 L243.5,81.49 L244.5,81.49 L245.5,81.48 L246.5,81.48 L247.5,81.47 L248.5,81.46 L249.5,81.46 L250.5,81.45 L251.5,81.44 L252.5,81.44 L253.5,81.43 L254.5,81.42 L255.5,81.42 L256.5,81.41 L257.5,81.40 L258.5,81.39 L259.5,81.38 L260.5,81.37 L261.5,81.36 L262.5,81.35 L263.5,81.34 L264.5,81.33 L265.5,81.31 L266.5,81.30 L267.5,81.29 L268.5,81.27 L269.5,81.26 L270.5,81.24 L271.5,81.22 L272.5,81.20 L273.5,81.18 L274.5,81.16 L275.5,81.14 L276.5,81.11 L277.5,81.08 L278.5,81.05 L279.5,81.01 L280.5,80.97 L281.5,80.92 L282.5,80.87 L283.5,80.80 L284.5,80.73 L285.5,80.64 L286.5,80.54 L287.5,80.42 L288.5,80.28 L289.5,80.11 L290.5,79.92 L291.5,79.70 L292.5,79.44 L293.5,79.14 L294.5,78.81 L295.5,78.42 L296.5,77.98 L297.5,77.49 L298.5,76.95 L299.5,76.42 L300.5,75.89 L301.5,75.31 L302.5,74.68 L303.5,74.00 L304.5,73.27 L305.5,72.49 L306.5,71.66 L307.5,70.77 L308.5,69.83 L309.5,68.83 L310.5,67.77 L311.5,66.65 L312.5,65.45 L313.5,64.19 L314.5,62.84 L315.5,61.41 L316.5,59.90 L317.5,58.30 L318.5,56.61 L319.5,54.86 L320.5,53.05 L321.5,51.20 L322.5,49.34 L323.5,47.52 L324.5,45.79 L325.5,44.20 L326.5,42.80 L327.5,41.68 L328.5,40.90 L329.5,40.51 L330.5,40.55 L331.5,41.07 L332.5,42.04 L333.5,43.44 L334.5,45.23 L335.5,47.32 L336.5,49.65 L337.5,52.14 L338.5,54.71 L339.5,57.30 L340.5,59.84 L341.5,62.29 L342.5,64.60 L343.5,66.75 L344.5,68.71 L345.5,70.47 L346.5,72.03 L347.5,73.39 L348.5,74.57 L349.5,75.56 L350.5,76.40 L351.5,77.19 L352.5,77.91 L353.5,78.49 L354.5,78.96 L355.5,79.34 L356.5,79.65 L357.5,79.89 L358.5,80.09 L359.5,80.25 L360.5,80.38 L361.5,80.48 L362.5,80.57 L363.5,80.65 L364.5,80.71 L365.5,80.77 L366.5,80.82 L367.5,80.87 L368.5,80.91 L369.5,80.94 L370.5,80.98 L371.5,81.01 L372.5,81.04 L373.5,81.07 L374.5,81.09 L375.5,81.12 L376.5,81.14 L377.5,81.16 L378.5,81.18 L379.5,81.20 L380.5,81.22 L381.5,81.24 L382.5,81.25 L383.5,81.27 L384.5,81.28 L385.5,81.30 L386.5,81.31 L387.5,81.32 L388.5,81.33 L389.5,81.35 L390.5,81.36 L391.5,81.37 L392.5,81.38 L393.5,81.39 L394.5,81.40 L395.5,81.40 L396.5,81.41 L397.5,81.42 L398.5,81.43 L399.5,81.44 L400.5,81.44 L401.5,81.45 L402.5,81.46 L403.5,81.46 L404.5,81.47 L405.5,81.47 L406.5,81.48 L407.5,81.49 L408.5,81.49 L409.5,81.50 L410.5,81.50 L411.5,81.50 L412.5,81.51 L413.5,81.51 L414.5,81.52 L415.5,81.52 L416.5,81.53 L417.5,81.53 L418.5,81.53 L419.5,81.54 L420.5,81.54 L421.5,81.54 L422.5,81.55 L423.5,81.55 L424.5,81.55 L425.5,81.56 L426.5,81.56 L427.5,81.56 L428.5,81.56" fill="none" stroke="#666" stroke-width="0.7"/>
<path d="M229.5,81.66 L230.5,81.66 L231.5,81.66 L232.5,81.66 L233.5,81.66 L234.5,81.66 L235.5,81.66 L236.5,81.66 L237.5,81.65 L238.5,81.65 L239.5,81.65 L240.5,81.65 L241.5,81.65 L242.5,81.65 L243.5,81.65 L244.5,81.65 L245.5,81.64 L246.5,81.64 L247.5,81.64 L248.5,81.64 L249.5,81.64 L250.5,81.64 L251.5,81.63 L252.5,81.63 L253.5,81.63 L254.5,81.63 L255.5,81.63 L256.5,81.62 L257.5,81.62 L258.5,81.62 L259.5,81.61 L260.5,81.61 L261.5,81.61 L262.5,81.61 L263.5,81.60 L264.5,81.60 L265.5,81.59 L266.5,81.59 L267.5,81.59 L268.5,81.58 L269.5,81.58 L270.5,81.57 L271.5,81.56 L272.5,81.56 L273.5,81.55 L274.5,81.54 L275.5,81.53 L276.5,81.52 L277.5,81.51 L278.5,81.50 L279.5,81.48 L280.5,81.46 L281.5,81.44 L282.5,81.42 L283.5,81.38 L284.5,81.35 L285.5,81.30 L286.5,81.24 L287.5,81.18 L288.5,81.10 L289.5,81.00 L290.5,80.89 L291.5,80.76 L292.5,80.61 L293.5,80.43 L294.5,80.23 L295.5,80.00 L296.5,79.74 L297.5,79.45 L298.5,79.13 L299.5,78.78 L300.5,78.40 L301.5,77.99 L302.5,77.56 L303.5,77.11 L304.5,76.64 L305.5,76.17 L306.5,75.69 L307.5,75.23 L308.5,74.77 L309.5,74.35 L310.5,73.96 L311.5,73.62 L312.5,73.33 L313.5,73.11 L314.5,72.97 L315.5,72.90 L316.5,72.92 L317.5,73.02 L318.5,73.19 L319.5,73.44 L320.5,73.75 L321.5,74.11 L322.5,74.51 L323.5,74.95 L324.5,75.41 L325.5,75.88 L326.5,76.36 L327.5,76.83 L328.5,77.29 L329.5,77.74 L330.5,78.16 L331.5,78.56 L332.5,78.92 L333.5,79.26 L334.5,79.57 L335.5,79.85 L336.5,80.10 L337.5,80.31 L338.5,80.51 L339.5,80.67 L340.5,80.82 L341.5,80.94 L342.5,81.04 L343.5,81.13 L344.5,81.21 L345.5,81.27 L346.5,81.32 L347.5,81.36 L348.5,81.40 L349.5,81.43 L350.5,81.45 L351.5,81.47 L352.5,81.49 L353.5,81.50" fill="none" stroke="#2020c8" stroke-width="1.5"/>
<path d="M306.7,80.14 L307.7,79.86 L308.7,79.52 L309.7,79.09 L310.7,78.57 L311.7,77.93 L312.7,77.15 L313.7,76.23 L314.7,75.14 L315.7,73.88 L316.7,72.44 L317.7,70.82 L318.7,69.02 L319.7,67.05 L320.7,64.95 L321.7,62.75 L322.7,60.48 L323.7,58.20 L324.7,55.97 L325.7,53.86 L326.7,51.95 L327.7,50.32 L328.7,49.03 L329.7,48.15 L330.7,47.73 L331.7,47.80 L332.7,48.35 L333.7,49.35 L334.7,50.74 L335.7,52.46 L336.7,54.44 L337.7,56.58 L338.7,58.83 L339.7,61.12 L340.7,63.37 L341.7,65.55 L342.7,67.62 L343.7,69.54 L344.7,71.29 L345.7,72.86 L346.7,74.25 L347.7,75.46 L348.7,76.50 L349.7,77.38 L350.7,78.12 L351.7,78.73 L352.7,79.22 L353.7,79.62 L354.7,79.95" fill="none" stroke="#d42828" stroke-width="1.5"/>
<path d="M279.2,122.55 L280.2,122.54 L281.2,122.52 L282.2,122.50 L283.2,122.47 L284.2,122.43 L285.2,122.38 L286.2,122.33 L287.2,122.26 L288.2,122.18 L289.2,122.08 L290.2,121.96 L291.2,121.82 L292.2,121.66 L293.2,121.47 L294.2,121.25 L295.2,121.01 L296.2,120.75 L297.2,120.46 L298.2,120.14 L299.2,119.81 L300.2,119.47 L301.2,119.12 L302.2,118.77 L303.2,118.43 L304.2,118.10 L305.2,117.81 L306.2,117.55 L307.2,117.35 L308.2,117.20 L309.2,117.12 L310.2,117.10 L311.2,117.16 L312.2,117.28 L313.2,117.47 L314.2,117.71 L315.2,117.99 L316.2,118.30 L317.2,118.64 L318.2,118.98 L319.2,119.34 L320.2,119.68 L321.2,120.02 L322.2,120.34 L323.2,120.64 L324.2,120.92 L325.2,121.17 L326.2,121.39 L327.2,121.59 L328.2,121.76 L329.2,121.91 L330.2,122.04 L331.2,122.14 L332.2,122.23 L333.2,122.30 L334.2,122.36 L335.2,122.41 L336.2,122.45 L337.2,122.48 L338.2,122.51 L339.2,122.53 L340.2,122.55 L340.2,122.70 L279.2,122.70 Z" fill="url(#gb)" stroke="none"/>
<path d="M295.3,121.77 L296.3,121.68 L297.3,121.57 L298.3,121.43 L299.3,121.27 L300.3,121.07 L301.3,120.82 L302.3,120.53 L303.3,120.17 L304.3,119.75 L305.3,119.24 L306.3,118.63 L307.3,117.92 L308.3,117.10 L309.3,116.15 L310.3,115.06 L311.3,113.84 L312.3,112.47 L313.3,110.96 L314.3,109.31 L315.3,107.54 L316.3,105.66 L317.3,103.68 L318.3,101.64 L319.3,99.58 L320.3,97.51 L321.3,95.50 L322.3,93.59 L323.3,91.82 L324.3,90.25 L325.3,88.94 L326.3,87.92 L327.3,87.24 L328.3,86.92 L329.3,86.99 L330.3,87.43 L331.3,88.23 L332.3,89.35 L333.3,90.76 L334.3,92.40 L335.3,94.22 L336.3,96.18 L337.3,98.21 L338.3,100.28 L339.3,102.34 L340.3,104.36 L341.3,106.31 L342.3,108.16 L343.3,109.89 L344.3,111.49 L345.3,112.95 L346.3,114.27 L347.3,115.45 L348.3,116.48 L349.3,117.39 L350.3,118.18 L351.3,118.85 L352.3,119.42 L353.3,119.90 L354.3,120.30 L355.3,120.64 L356.3,120.91 L357.3,121.14 L358.3,121.33 L359.3,121.48 L360.3,121.61 L361.3,121.71 L361.3,122.70 L295.3,122.70 Z" fill="url(#gr)" stroke="none"/>
<line x1="229.5" y1="122.7" x2="428.9" y2="122.7" stroke="#5a9660" stroke-width="1.3"/>
<path d="M229.5,122.55 L230.5,122.54 L231.5,122.54 L232.5,122.54 L233.5,122.53 L234.5,122.53 L235.5,122.53 L236.5,122.52 L237.5,122.52 L238.5,122.51 L239.5,122.51 L240.5,122.51 L241.5,122.50 L242.5,122.50 L243.5,122.49 L244.5,122.49 L245.5,122.48 L246.5,122.48 L247.5,122.47 L248.5,122.46 L249.5,122.46 L250.5,122.45 L251.5,122.44 L252.5,122.44 L253.5,122.43 L254.5,122.42 L255.5,122.41 L256.5,122.41 L257.5,122.40 L258.5,122.39 L259.5,122.38 L260.5,122.37 L261.5,122.36 L262.5,122.35 L263.5,122.34 L264.5,122.33 L265.5,122.31 L266.5,122.30 L267.5,122.29 L268.5,122.27 L269.5,122.26 L270.5,122.24 L271.5,122.22 L272.5,122.20 L273.5,122.18 L274.5,122.16 L275.5,122.14 L276.5,122.11 L277.5,122.08 L278.5,122.05 L279.5,122.02 L280.5,121.98 L281.5,121.93 L282.5,121.87 L283.5,121.81 L284.5,121.74 L285.5,121.65 L286.5,121.54 L287.5,121.42 L288.5,121.28 L289.5,121.10 L290.5,120.90 L291.5,120.67 L292.5,120.39 L293.5,120.08 L294.5,119.72 L295.5,119.31 L296.5,118.85 L297.5,118.33 L298.5,117.76 L299.5,117.24 L300.5,116.68 L301.5,116.08 L302.5,115.42 L303.5,114.71 L304.5,113.95 L305.5,113.14 L306.5,112.27 L307.5,111.34 L308.5,110.36 L309.5,109.31 L310.5,108.20 L311.5,107.02 L312.5,105.77 L313.5,104.42 L314.5,103.00 L315.5,101.49 L316.5,99.90 L317.5,98.25 L318.5,96.56 L319.5,94.84 L320.5,93.13 L321.5,91.47 L322.5,89.90 L323.5,88.46 L324.5,87.22 L325.5,86.21 L326.5,85.48 L327.5,85.07 L328.5,85.01 L329.5,85.30 L330.5,85.95 L331.5,86.93 L332.5,88.21 L333.5,89.74 L334.5,91.49 L335.5,93.39 L336.5,95.40 L337.5,97.48 L338.5,99.57 L339.5,101.65 L340.5,103.67 L341.5,105.61 L342.5,107.44 L343.5,109.15 L344.5,110.73 L345.5,112.17 L346.5,113.46 L347.5,114.61 L348.5,115.62 L349.5,116.50 L350.5,117.26 L351.5,117.97 L352.5,118.66 L353.5,119.24 L354.5,119.73 L355.5,120.13 L356.5,120.46 L357.5,120.74 L358.5,120.96 L359.5,121.15 L360.5,121.30 L361.5,121.43 L362.5,121.53 L363.5,121.62 L364.5,121.70 L365.5,121.76 L366.5,121.82 L367.5,121.86 L368.5,121.91 L369.5,121.95 L370.5,121.98 L371.5,122.01 L372.5,122.04 L373.5,122.07 L374.5,122.10 L375.5,122.12 L376.5,122.14 L377.5,122.16 L378.5,122.18 L379.5,122.20 L380.5,122.22 L381.5,122.24 L382.5,122.25 L383.5,122.27 L384.5,122.28 L385.5,122.30 L386.5,122.31 L387.5,122.32 L388.5,122.33 L389.5,122.35 L390.5,122.36 L391.5,122.37 L392.5,122.38 L393.5,122.39 L394.5,122.39 L395.5,122.40 L396.5,122.41 L397.5,122.42 L398.5,122.43 L399.5,122.43 L400.5,122.44 L401.5,122.45 L402.5,122.45 L403.5,122.46 L404.5,122.47 L405.5,122.47 L406.5,122.48 L407.5,122.48 L408.5,122.49 L409.5,122.49 L410.5,122.50 L411.5,122.50 L412.5,122.51 L413.5,122.51 L414.5,122.52 L415.5,122.52 L416.5,122.52 L417.5,122.53 L418.5,122.53 L419.5,122.54 L420.5,122.54 L421.5,122.54 L422.5,122.55 L423.5,122.55 L424.5,122.55 L425.5,122.55 L426.5,122.56 L427.5,122.56 L428.5,122.56" fill="none" stroke="#666" stroke-width="0.7"/>
<path d="M229.5,122.68 L230.5,122.68 L231.5,122.68 L232.5,122.68 L233.5,122.68 L234.5,122.68 L235.5,122.68 L236.5,122.68 L237.5,122.67 L238.5,122.67 L239.5,122.67 L240.5,122.67 L241.5,122.67 L242.5,122.67 L243.5,122.67 L244.5,122.67 L245.5,122.67 L246.5,122.67 L247.5,122.67 L248.5,122.67 L249.5,122.66 L250.5,122.66 L251.5,122.66 L252.5,122.66 L253.5,122.66 L254.5,122.66 L255.5,122.66 L256.5,122.65 L257.5,122.65 L258.5,122.65 L259.5,122.65 L260.5,122.65 L261.5,122.65 L262.5,122.64 L263.5,122.64 L264.5,122.64 L265.5,122.64 L266.5,122.63 L267.5,122.63 L268.5,122.63 L269.5,122.62 L270.5,122.62 L271.5,122.61 L272.5,122.61 L273.5,122.60 L274.5,122.60 L275.5,122.59 L276.5,122.58 L277.5,122.57 L278.5,122.56 L279.5,122.55 L280.5,122.53 L281.5,122.51 L282.5,122.49 L283.5,122.46 L284.5,122.42 L285.5,122.37 L286.5,122.31 L287.5,122.24 L288.5,122.15 L289.5,122.05 L290.5,121.92 L291.5,121.77 L292.5,121.60 L293.5,121.41 L294.5,121.19 L295.5,120.94 L296.5,120.66 L297.5,120.37 L298.5,120.05 L299.5,119.71 L300.5,119.37 L301.5,119.02 L302.5,118.67 L303.5,118.33 L304.5,118.01 L305.5,117.73 L306.5,117.49 L307.5,117.30 L308.5,117.17 L309.5,117.11 L310.5,117.11 L311.5,117.19 L312.5,117.33 L313.5,117.53 L314.5,117.78 L315.5,118.08 L316.5,118.40 L317.5,118.74 L318.5,119.09 L319.5,119.44 L320.5,119.78 L321.5,120.11 L322.5,120.43 L323.5,120.72 L324.5,120.99 L325.5,121.23 L326.5,121.45 L327.5,121.64 L328.5,121.81 L329.5,121.95 L330.5,122.07 L331.5,122.17 L332.5,122.25 L333.5,122.32 L334.5,122.38 L335.5,122.43 L336.5,122.46 L337.5,122.49 L338.5,122.52 L339.5,122.54 L340.5,122.55 L341.5,122.57" fill="none" stroke="#2020c8" stroke-width="1.5"/>
<path d="M300.3,121.06 L301.3,120.81 L302.3,120.51 L303.3,120.15 L304.3,119.72 L305.3,119.21 L306.3,118.60 L307.3,117.88 L308.3,117.05 L309.3,116.10 L310.3,115.00 L311.3,113.77 L312.3,112.40 L313.3,110.88 L314.3,109.23 L315.3,107.45 L316.3,105.56 L317.3,103.58 L318.3,101.54 L319.3,99.47 L320.3,97.41 L321.3,95.40 L322.3,93.50 L323.3,91.74 L324.3,90.18 L325.3,88.88 L326.3,87.87 L327.3,87.21 L328.3,86.91 L329.3,87.00 L330.3,87.46 L331.3,88.28 L332.3,89.42 L333.3,90.84 L334.3,92.49 L335.3,94.32 L336.3,96.28 L337.3,98.31 L338.3,100.38 L339.3,102.44 L340.3,104.46 L341.3,106.40 L342.3,108.25 L343.3,109.97 L344.3,111.56 L345.3,113.02 L346.3,114.33 L347.3,115.50 L348.3,116.53 L349.3,117.43 L350.3,118.21 L351.3,118.88 L352.3,119.45 L353.3,119.92 L354.3,120.32 L355.3,120.65 L356.3,120.92" fill="none" stroke="#d42828" stroke-width="1.5"/>
<path d="M277.6,164.51 L278.6,164.47 L279.6,164.43 L280.6,164.39 L281.6,164.33 L282.6,164.26 L283.6,164.19 L284.6,164.09 L285.6,163.98 L286.6,163.85 L287.6,163.70 L288.6,163.52 L289.6,163.31 L290.6,163.06 L291.6,162.79 L292.6,162.47 L293.6,162.11 L294.6,161.71 L295.6,161.26 L296.6,160.77 L297.6,160.23 L298.6,159.65 L299.6,159.02 L300.6,158.35 L301.6,157.65 L302.6,156.91 L303.6,156.16 L304.6,155.40 L305.6,154.63 L306.6,153.87 L307.6,153.14 L308.6,152.45 L309.6,151.80 L310.6,151.22 L311.6,150.73 L312.6,150.33 L313.6,150.03 L314.6,149.86 L315.6,149.80 L316.6,149.87 L317.6,150.06 L318.6,150.36 L319.6,150.77 L320.6,151.28 L321.6,151.86 L322.6,152.51 L323.6,153.21 L324.6,153.95 L325.6,154.71 L326.6,155.47 L327.6,156.24 L328.6,156.99 L329.6,157.72 L330.6,158.42 L331.6,159.08 L332.6,159.71 L333.6,160.29 L334.6,160.82 L335.6,161.31 L336.6,161.75 L337.6,162.15 L338.6,162.50 L339.6,162.82 L340.6,163.09 L341.6,163.33 L342.6,163.54 L343.6,163.71 L344.6,163.86 L345.6,163.99 L346.6,164.10 L347.6,164.19 L348.6,164.27 L349.6,164.34 L350.6,164.39 L351.6,164.44 L352.6,164.48 L352.6,164.90 L277.6,164.90 Z" fill="url(#gb)" stroke="none"/>
<path d="M310.7,164.74 L311.7,164.72 L312.7,164.68 L313.7,164.63 L314.7,164.56 L315.7,164.46 L316.7,164.33 L317.7,164.15 L318.7,163.92 L319.7,163.64 L320.7,163.29 L321.7,162.88 L322.7,162.40 L323.7,161.87 L324.7,161.31 L325.7,160.74 L326.7,160.18 L327.7,159.68 L328.7,159.28 L329.7,159.01 L330.7,158.90 L331.7,158.97 L332.7,159.20 L333.7,159.57 L334.7,160.05 L335.7,160.59 L336.7,161.16 L337.7,161.73 L338.7,162.27 L339.7,162.76 L340.7,163.19 L341.7,163.55 L342.7,163.86 L343.7,164.10 L344.7,164.28 L345.7,164.43 L346.7,164.53 L347.7,164.61 L348.7,164.67 L349.7,164.71 L350.7,164.74 L350.7,164.90 L310.7,164.90 Z" fill="url(#gr)" stroke="none"/>
<line x1="229.5" y1="164.9" x2="428.9" y2="164.9" stroke="#5a9660" stroke-width="1.3"/>
<path d="M229.5,164.83 L230.5,164.83 L231.5,164.82 L232.5,164.82 L233.5,164.82 L234.5,164.82 L235.5,164.82 L236.5,164.81 L237.5,164.81 L238.5,164.81 L239.5,164.81 L240.5,164.80 L241.5,164.80 L242.5,164.80 L243.5,164.80 L244.5,164.79 L245.5,164.79 L246.5,164.79 L247.5,164.78 L248.5,164.78 L249.5,164.78 L250.5,164.77 L251.5,164.77 L252.5,164.77 L253.5,164.76 L254.5,164.76 L255.5,164.75 L256.5,164.75 L257.5,164.74 L258.5,164.74 L259.5,164.73 L260.5,164.73 L261.5,164.72 L262.5,164.71 L263.5,164.71 L264.5,164.70 L265.5,164.69 L266.5,164.68 L267.5,164.68 L268.5,164.67 L269.5,164.66 L270.5,164.64 L271.5,164.63 L272.5,164.62 L273.5,164.60 L274.5,164.58 L275.5,164.56 L276.5,164.54 L277.5,164.51 L278.5,164.48 L279.5,164.44 L280.5,164.39 L281.5,164.33 L282.5,164.27 L283.5,164.19 L284.5,164.10 L285.5,163.99 L286.5,163.86 L287.5,163.70 L288.5,163.53 L289.5,163.32 L290.5,163.08 L291.5,162.80 L292.5,162.49 L293.5,162.13 L294.5,161.73 L295.5,161.29 L296.5,160.80 L297.5,160.26 L298.5,159.68 L299.5,159.05 L300.5,158.38 L301.5,157.68 L302.5,156.95 L303.5,156.20 L304.5,155.44 L305.5,154.67 L306.5,153.91 L307.5,153.18 L308.5,152.48 L309.5,151.83 L310.5,151.25 L311.5,150.75 L312.5,150.35 L313.5,150.05 L314.5,149.86 L315.5,149.80 L316.5,149.86 L317.5,150.05 L318.5,150.35 L319.5,150.75 L320.5,151.25 L321.5,151.83 L322.5,152.48 L323.5,153.18 L324.5,153.91 L325.5,154.67 L326.5,155.44 L327.5,156.20 L328.5,156.95 L329.5,157.68 L330.5,158.38 L331.5,159.05 L332.5,159.68 L333.5,160.26 L334.5,160.80 L335.5,161.29 L336.5,161.73 L337.5,162.13 L338.5,162.49 L339.5,162.80 L340.5,163.08 L341.5,163.32 L342.5,163.53 L343.5,163.70 L344.5,163.86 L345.5,163.99 L346.5,164.10 L347.5,164.19 L348.5,164.27 L349.5,164.33 L350.5,164.39 L351.5,164.44 L352.5,164.48 L353.5,164.51 L354.5,164.54 L355.5,164.56" fill="none" stroke="#2020c8" stroke-width="1.5"/>
<path d="M313.7,164.62 L314.7,164.55 L315.7,164.45 L316.7,164.32 L317.7,164.14 L318.7,163.91 L319.7,163.62 L320.7,163.27 L321.7,162.85 L322.7,162.37 L323.7,161.84 L324.7,161.28 L325.7,160.71 L326.7,160.15 L327.7,159.66 L328.7,159.26 L329.7,159.00 L330.7,158.90 L331.7,158.97 L332.7,159.21 L333.7,159.59 L334.7,160.07 L335.7,160.62 L336.7,161.19 L337.7,161.76 L338.7,162.29 L339.7,162.78 L340.7,163.21 L341.7,163.57 L342.7,163.87 L343.7,164.11 L344.7,164.29 L345.7,164.43 L346.7,164.54 L347.7,164.61" fill="none" stroke="#d42828" stroke-width="1.5"/>
<path d="M276.1,208.72 L277.1,208.72 L278.1,208.71 L279.1,208.70 L280.1,208.69 L281.1,208.67 L282.1,208.66 L283.1,208.64 L284.1,208.61 L285.1,208.59 L286.1,208.55 L287.1,208.51 L288.1,208.47 L289.1,208.42 L290.1,208.36 L291.1,208.29 L292.1,208.21 L293.1,208.12 L294.1,208.03 L295.1,207.92 L296.1,207.80 L297.1,207.68 L298.1,207.54 L299.1,207.40 L300.1,207.25 L301.1,207.10 L302.1,206.95 L303.1,206.79 L304.1,206.64 L305.1,206.50 L306.1,206.36 L307.1,206.24 L308.1,206.13 L309.1,206.04 L310.1,205.97 L311.1,205.92 L312.1,205.90 L313.1,205.91 L314.1,205.94 L315.1,205.99 L316.1,206.07 L317.1,206.17 L318.1,206.29 L319.1,206.42 L320.1,206.56 L321.1,206.70 L322.1,206.86 L323.1,207.01 L324.1,207.16 L325.1,207.31 L326.1,207.46 L327.1,207.60 L328.1,207.73 L329.1,207.85 L330.1,207.96 L331.1,208.07 L332.1,208.16 L333.1,208.24 L334.1,208.32 L335.1,208.38 L336.1,208.44 L337.1,208.49 L338.1,208.53 L339.1,208.57 L340.1,208.60 L341.1,208.62 L342.1,208.65 L343.1,208.67 L344.1,208.68 L345.1,208.69 L346.1,208.70 L347.1,208.71 L348.1,208.72 L348.1,208.80 L276.1,208.80 Z" fill="url(#gb)" stroke="none"/>
<path d="M292.8,207.91 L293.8,207.83 L294.8,207.74 L295.8,207.63 L296.8,207.50 L297.8,207.34 L298.8,207.15 L299.8,206.93 L300.8,206.66 L301.8,206.34 L302.8,205.97 L303.8,205.53 L304.8,205.02 L305.8,204.43 L306.8,203.76 L307.8,202.98 L308.8,202.11 L309.8,201.13 L310.8,200.04 L311.8,198.84 L312.8,197.53 L313.8,196.11 L314.8,194.60 L315.8,192.99 L316.8,191.31 L317.8,189.58 L318.8,187.80 L319.8,186.02 L320.8,184.25 L321.8,182.53 L322.8,180.89 L323.8,179.37 L324.8,178.00 L325.8,176.82 L326.8,175.87 L327.8,175.16 L328.8,174.74 L329.8,174.60 L330.8,174.76 L331.8,175.21 L332.8,175.93 L333.8,176.91 L334.8,178.11 L335.8,179.49 L336.8,181.02 L337.8,182.67 L338.8,184.39 L339.8,186.16 L340.8,187.95 L341.8,189.72 L342.8,191.45 L343.8,193.12 L344.8,194.72 L345.8,196.23 L346.8,197.64 L347.8,198.94 L348.8,200.13 L349.8,201.21 L350.8,202.18 L351.8,203.05 L352.8,203.81 L353.8,204.48 L354.8,205.07 L355.8,205.57 L356.8,206.00 L357.8,206.37 L358.8,206.68 L359.8,206.95 L360.8,207.17 L361.8,207.35 L362.8,207.51 L363.8,207.64 L364.8,207.75 L365.8,207.84 L365.8,208.80 L292.8,208.80 Z" fill="url(#gr)" stroke="none"/>
<line x1="229.5" y1="208.8" x2="428.9" y2="208.8" stroke="#5a9660" stroke-width="1.3"/>
<path d="M229.5,208.64 L230.5,208.63 L231.5,208.63 L232.5,208.63 L233.5,208.62 L234.5,208.62 L235.5,208.62 L236.5,208.61 L237.5,208.61 L238.5,208.60 L239.5,208.60 L240.5,208.59 L241.5,208.59 L242.5,208.59 L243.5,208.58 L244.5,208.57 L245.5,208.57 L246.5,208.56 L247.5,208.56 L248.5,208.55 L249.5,208.55 L250.5,208.54 L251.5,208.53 L252.5,208.53 L253.5,208.52 L254.5,208.51 L255.5,208.50 L256.5,208.50 L257.5,208.49 L258.5,208.48 L259.5,208.47 L260.5,208.46 L261.5,208.45 L262.5,208.44 L263.5,208.43 L264.5,208.42 L265.5,208.40 L266.5,208.39 L267.5,208.38 L268.5,208.36 L269.5,208.35 L270.5,208.33 L271.5,208.31 L272.5,208.30 L273.5,208.28 L274.5,208.26 L275.5,208.23 L276.5,208.21 L277.5,208.18 L278.5,208.15 L279.5,208.12 L280.5,208.08 L281.5,208.04 L282.5,207.99 L283.5,207.94 L284.5,207.88 L285.5,207.81 L286.5,207.73 L287.5,207.64 L288.5,207.53 L289.5,207.41 L290.5,207.27 L291.5,207.12 L292.5,206.94 L293.5,206.73 L294.5,206.49 L295.5,206.23 L296.5,205.92 L297.5,205.57 L298.5,205.18 L299.5,204.74 L300.5,204.23 L301.5,203.70 L302.5,203.19 L303.5,202.62 L304.5,201.99 L305.5,201.29 L306.5,200.51 L307.5,199.65 L308.5,198.71 L309.5,197.68 L310.5,196.57 L311.5,195.37 L312.5,194.09 L313.5,192.72 L314.5,191.28 L315.5,189.77 L316.5,188.20 L317.5,186.59 L318.5,184.95 L319.5,183.30 L320.5,181.66 L321.5,180.07 L322.5,178.56 L323.5,177.15 L324.5,175.87 L325.5,174.77 L326.5,173.88 L327.5,173.22 L328.5,172.83 L329.5,172.71 L330.5,172.88 L331.5,173.33 L332.5,174.05 L333.5,175.02 L334.5,176.22 L335.5,177.61 L336.5,179.15 L337.5,180.80 L338.5,182.55 L339.5,184.34 L340.5,186.15 L341.5,187.95 L342.5,189.72 L343.5,191.43 L344.5,193.07 L345.5,194.63 L346.5,196.08 L347.5,197.43 L348.5,198.66 L349.5,199.79 L350.5,200.80 L351.5,201.71 L352.5,202.51 L353.5,203.21 L354.5,203.83 L355.5,204.50 L356.5,205.07 L357.5,205.56 L358.5,205.97 L359.5,206.32 L360.5,206.62 L361.5,206.87 L362.5,207.08 L363.5,207.25 L364.5,207.40 L365.5,207.52 L366.5,207.62 L367.5,207.71 L368.5,207.79 L369.5,207.85 L370.5,207.91 L371.5,207.96 L372.5,208.00 L373.5,208.04 L374.5,208.07 L375.5,208.11 L376.5,208.13 L377.5,208.16 L378.5,208.19 L379.5,208.21 L380.5,208.23 L381.5,208.25 L382.5,208.27 L383.5,208.29 L384.5,208.31 L385.5,208.32 L386.5,208.34 L387.5,208.35 L388.5,208.37 L389.5,208.38 L390.5,208.40 L391.5,208.41 L392.5,208.42 L393.5,208.43 L394.5,208.44 L395.5,208.45 L396.5,208.46 L397.5,208.47 L398.5,208.48 L399.5,208.49 L400.5,208.50 L401.5,208.51 L402.5,208.51 L403.5,208.52 L404.5,208.53 L405.5,208.53 L406.5,208.54 L407.5,208.55 L408.5,208.55 L409.5,208.56 L410.5,208.57 L411.5,208.57 L412.5,208.58 L413.5,208.58 L414.5,208.59 L415.5,208.59 L416.5,208.60 L417.5,208.60 L418.5,208.60 L419.5,208.61 L420.5,208.61 L421.5,208.62 L422.5,208.62 L423.5,208.62 L424.5,208.63 L425.5,208.63 L426.5,208.63 L427.5,208.64 L428.5,208.64" fill="none" stroke="#666" stroke-width="0.7"/>
<path d="M229.5,208.79 L230.5,208.79 L231.5,208.79 L232.5,208.79 L233.5,208.78 L234.5,208.78 L235.5,208.78 L236.5,208.78 L237.5,208.78 L238.5,208.78 L239.5,208.78 L240.5,208.78 L241.5,208.78 L242.5,208.78 L243.5,208.78 L244.5,208.78 L245.5,208.78 L246.5,208.78 L247.5,208.78 L248.5,208.78 L249.5,208.78 L250.5,208.78 L251.5,208.77 L252.5,208.77 L253.5,208.77 L254.5,208.77 L255.5,208.77 L256.5,208.77 L257.5,208.77 L258.5,208.77 L259.5,208.77 L260.5,208.77 L261.5,208.76 L262.5,208.76 L263.5,208.76 L264.5,208.76 L265.5,208.76 L266.5,208.76 L267.5,208.75 L268.5,208.75 L269.5,208.75 L270.5,208.75 L271.5,208.74 L272.5,208.74 L273.5,208.74 L274.5,208.73 L275.5,208.73 L276.5,208.72 L277.5,208.71 L278.5,208.71 L279.5,208.70 L280.5,208.68 L281.5,208.67 L282.5,208.65 L283.5,208.63 L284.5,208.60 L285.5,208.57 L286.5,208.54 L287.5,208.50 L288.5,208.45 L289.5,208.39 L290.5,208.33 L291.5,208.26 L292.5,208.18 L293.5,208.08 L294.5,207.98 L295.5,207.87 L296.5,207.75 L297.5,207.62 L298.5,207.49 L299.5,207.34 L300.5,207.19 L301.5,207.04 L302.5,206.89 L303.5,206.73 L304.5,206.58 L305.5,206.44 L306.5,206.31 L307.5,206.19 L308.5,206.09 L309.5,206.01 L310.5,205.95 L311.5,205.91 L312.5,205.90 L313.5,205.92 L314.5,205.96 L315.5,206.02 L316.5,206.11 L317.5,206.21 L318.5,206.34 L319.5,206.47 L320.5,206.61 L321.5,206.76 L322.5,206.92 L323.5,207.07 L324.5,207.22 L325.5,207.37 L326.5,207.51 L327.5,207.65 L328.5,207.78 L329.5,207.90 L330.5,208.00 L331.5,208.10 L332.5,208.19 L333.5,208.27 L334.5,208.34 L335.5,208.41 L336.5,208.46 L337.5,208.51 L338.5,208.55 L339.5,208.58 L340.5,208.61 L341.5,208.63 L342.5,208.65 L343.5,208.67 L344.5,208.69 L345.5,208.70 L346.5,208.71 L347.5,208.72 L348.5,208.72 L349.5,208.73 L350.5,208.73" fill="none" stroke="#2020c8" stroke-width="1.5"/>
<path d="M298.4,207.23 L299.4,207.02 L300.4,206.77 L301.4,206.48 L302.4,206.13 L303.4,205.72 L304.4,205.24 L305.4,204.68 L306.4,204.04 L307.4,203.31 L308.4,202.47 L309.4,201.54 L310.4,200.49 L311.4,199.33 L312.4,198.07 L313.4,196.69 L314.4,195.21 L315.4,193.64 L316.4,191.99 L317.4,190.28 L318.4,188.52 L319.4,186.73 L320.4,184.96 L321.4,183.21 L322.4,181.54 L323.4,179.96 L324.4,178.53 L325.4,177.27 L326.4,176.22 L327.4,175.41 L328.4,174.87 L329.4,174.62 L330.4,174.66 L331.4,175.00 L332.4,175.61 L333.4,176.49 L334.4,177.60 L335.4,178.92 L336.4,180.39 L337.4,182.00 L338.4,183.70 L339.4,185.45 L340.4,187.23 L341.4,189.01 L342.4,190.76 L343.4,192.46 L344.4,194.09 L345.4,195.64 L346.4,197.09 L347.4,198.43 L348.4,199.67 L349.4,200.79 L350.4,201.81 L351.4,202.72 L352.4,203.52 L353.4,204.23 L354.4,204.84 L355.4,205.38 L356.4,205.84 L357.4,206.23 L358.4,206.56 L359.4,206.85 L360.4,207.08" fill="none" stroke="#d42828" stroke-width="1.5"/>
<path d="M280.6,250.62 L281.6,250.60 L282.6,250.57 L283.6,250.55 L284.6,250.51 L285.6,250.46 L286.6,250.41 L287.6,250.34 L288.6,250.26 L289.6,250.16 L290.6,250.04 L291.6,249.89 L292.6,249.72 L293.6,249.52 L294.6,249.30 L295.6,249.04 L296.6,248.75 L297.6,248.42 L298.6,248.07 L299.6,247.69 L300.6,247.28 L301.6,246.86 L302.6,246.42 L303.6,245.99 L304.6,245.56 L305.6,245.16 L306.6,244.78 L307.6,244.45 L308.6,244.18 L309.6,243.97 L310.6,243.84 L311.6,243.80 L312.6,243.84 L313.6,243.97 L314.6,244.17 L315.6,244.44 L316.6,244.77 L317.6,245.14 L318.6,245.55 L319.6,245.97 L320.6,246.41 L321.6,246.84 L322.6,247.26 L323.6,247.67 L324.6,248.05 L325.6,248.41 L326.6,248.73 L327.6,249.03 L328.6,249.29 L329.6,249.52 L330.6,249.72 L331.6,249.89 L332.6,250.03 L333.6,250.15 L334.6,250.25 L335.6,250.34 L336.6,250.41 L337.6,250.46 L338.6,250.51 L339.6,250.54 L340.6,250.57 L341.6,250.60 L342.6,250.62 L342.6,250.80 L280.6,250.80 Z" fill="url(#gb)" stroke="none"/>
<path d="M299.3,249.90 L300.3,249.81 L301.3,249.69 L302.3,249.54 L303.3,249.37 L304.3,249.14 L305.3,248.87 L306.3,248.54 L307.3,248.13 L308.3,247.63 L309.3,247.04 L310.3,246.33 L311.3,245.49 L312.3,244.52 L313.3,243.39 L314.3,242.11 L315.3,240.67 L316.3,239.08 L317.3,237.33 L318.3,235.45 L319.3,233.45 L320.3,231.37 L321.3,229.24 L322.3,227.10 L323.3,225.00 L324.3,222.99 L325.3,221.15 L326.3,219.52 L327.3,218.17 L328.3,217.15 L329.3,216.52 L330.3,216.30 L331.3,216.50 L332.3,217.12 L333.3,218.12 L334.3,219.46 L335.3,221.08 L336.3,222.92 L337.3,224.91 L338.3,227.01 L339.3,229.15 L340.3,231.29 L341.3,233.37 L342.3,235.37 L343.3,237.26 L344.3,239.01 L345.3,240.61 L346.3,242.06 L347.3,243.34 L348.3,244.47 L349.3,245.45 L350.3,246.30 L351.3,247.01 L352.3,247.61 L353.3,248.11 L354.3,248.52 L355.3,248.86 L356.3,249.13 L357.3,249.36 L358.3,249.54 L359.3,249.68 L360.3,249.80 L361.3,249.90 L361.3,250.80 L299.3,250.80 Z" fill="url(#gr)" stroke="none"/>
<line x1="229.5" y1="250.8" x2="428.9" y2="250.8" stroke="#2a4a72" stroke-width="1.3"/>
<path d="M229.5,250.65 L230.5,250.65 L231.5,250.64 L232.5,250.64 L233.5,250.64 L234.5,250.63 L235.5,250.63 L236.5,250.62 L237.5,250.62 L238.5,250.62 L239.5,250.61 L240.5,250.61 L241.5,250.60 L242.5,250.60 L243.5,250.59 L244.5,250.59 L245.5,250.58 L246.5,250.58 L247.5,250.57 L248.5,250.57 L249.5,250.56 L250.5,250.55 L251.5,250.55 L252.5,250.54 L253.5,250.53 L254.5,250.52 L255.5,250.52 L256.5,250.51 L257.5,250.50 L258.5,250.49 L259.5,250.48 L260.5,250.47 L261.5,250.46 L262.5,250.45 L263.5,250.44 L264.5,250.43 L265.5,250.41 L266.5,250.40 L267.5,250.39 L268.5,250.37 L269.5,250.36 L270.5,250.34 L271.5,250.32 L272.5,250.30 L273.5,250.28 L274.5,250.26 L275.5,250.24 L276.5,250.21 L277.5,250.18 L278.5,250.15 L279.5,250.12 L280.5,250.08 L281.5,250.03 L282.5,249.98 L283.5,249.92 L284.5,249.85 L285.5,249.77 L286.5,249.67 L287.5,249.56 L288.5,249.42 L289.5,249.26 L290.5,249.06 L291.5,248.83 L292.5,248.56 L293.5,248.25 L294.5,247.88 L295.5,247.46 L296.5,246.97 L297.5,246.41 L298.5,245.79 L299.5,245.22 L300.5,244.59 L301.5,243.88 L302.5,243.11 L303.5,242.26 L304.5,241.34 L305.5,240.34 L306.5,239.28 L307.5,238.14 L308.5,236.94 L309.5,235.69 L310.5,234.38 L311.5,233.03 L312.5,231.63 L313.5,230.20 L314.5,228.74 L315.5,227.26 L316.5,225.76 L317.5,224.25 L318.5,222.75 L319.5,221.25 L320.5,219.78 L321.5,218.36 L322.5,216.98 L323.5,215.70 L324.5,214.53 L325.5,213.52 L326.5,212.71 L327.5,212.15 L328.5,211.88 L329.5,211.94 L330.5,212.36 L331.5,213.13 L332.5,214.24 L333.5,215.67 L334.5,217.37 L335.5,219.29 L336.5,221.37 L337.5,223.55 L338.5,225.79 L339.5,228.04 L340.5,230.25 L341.5,232.38 L342.5,234.41 L343.5,236.31 L344.5,238.07 L345.5,239.66 L346.5,241.09 L347.5,242.36 L348.5,243.48 L349.5,244.44 L350.5,245.26 L351.5,246.00 L352.5,246.74 L353.5,247.35 L354.5,247.85 L355.5,248.26 L356.5,248.60 L357.5,248.87 L358.5,249.10 L359.5,249.28 L360.5,249.43 L361.5,249.55 L362.5,249.65 L363.5,249.73 L364.5,249.80 L365.5,249.87 L366.5,249.92 L367.5,249.97 L368.5,250.01 L369.5,250.05 L370.5,250.08 L371.5,250.11 L372.5,250.14 L373.5,250.17 L374.5,250.20 L375.5,250.22 L376.5,250.24 L377.5,250.27 L378.5,250.29 L379.5,250.30 L380.5,250.32 L381.5,250.34 L382.5,250.36 L383.5,250.37 L384.5,250.39 L385.5,250.40 L386.5,250.41 L387.5,250.43 L388.5,250.44 L389.5,250.45 L390.5,250.46 L391.5,250.47 L392.5,250.48 L393.5,250.49 L394.5,250.50 L395.5,250.51 L396.5,250.51 L397.5,250.52 L398.5,250.53 L399.5,250.54 L400.5,250.54 L401.5,250.55 L402.5,250.56 L403.5,250.56 L404.5,250.57 L405.5,250.58 L406.5,250.58 L407.5,250.59 L408.5,250.59 L409.5,250.60 L410.5,250.60 L411.5,250.61 L412.5,250.61 L413.5,250.62 L414.5,250.62 L415.5,250.62 L416.5,250.63 L417.5,250.63 L418.5,250.63 L419.5,250.64 L420.5,250.64 L421.5,250.64 L422.5,250.65 L423.5,250.65 L424.5,250.65 L425.5,250.66 L426.5,250.66 L427.5,250.66 L428.5,250.67" fill="none" stroke="#666" stroke-width="0.7"/>
<path d="M229.5,250.78 L230.5,250.77 L231.5,250.77 L232.5,250.77 L233.5,250.77 L234.5,250.77 L235.5,250.77 L236.5,250.77 L237.5,250.77 L238.5,250.77 L239.5,250.77 L240.5,250.77 L241.5,250.77 L242.5,250.76 L243.5,250.76 L244.5,250.76 L245.5,250.76 L246.5,250.76 L247.5,250.76 L248.5,250.76 L249.5,250.76 L250.5,250.76 L251.5,250.75 L252.5,250.75 L253.5,250.75 L254.5,250.75 L255.5,250.75 L256.5,250.75 L257.5,250.74 L258.5,250.74 L259.5,250.74 L260.5,250.74 L261.5,250.73 L262.5,250.73 L263.5,250.73 L264.5,250.73 L265.5,250.72 L266.5,250.72 L267.5,250.72 L268.5,250.71 L269.5,250.71 L270.5,250.70 L271.5,250.70 L272.5,250.70 L273.5,250.69 L274.5,250.68 L275.5,250.68 L276.5,250.67 L277.5,250.66 L278.5,250.65 L279.5,250.63 L280.5,250.62 L281.5,250.60 L282.5,250.58 L283.5,250.55 L284.5,250.51 L285.5,250.47 L286.5,250.41 L287.5,250.35 L288.5,250.27 L289.5,250.17 L290.5,250.05 L291.5,249.91 L292.5,249.74 L293.5,249.54 L294.5,249.32 L295.5,249.06 L296.5,248.77 L297.5,248.45 L298.5,248.10 L299.5,247.72 L300.5,247.31 L301.5,246.89 L302.5,246.46 L303.5,246.03 L304.5,245.60 L305.5,245.19 L306.5,244.81 L307.5,244.48 L308.5,244.20 L309.5,243.99 L310.5,243.85 L311.5,243.80 L312.5,243.83 L313.5,243.95 L314.5,244.15 L315.5,244.42 L316.5,244.74 L317.5,245.11 L318.5,245.51 L319.5,245.94 L320.5,246.37 L321.5,246.81 L322.5,247.23 L323.5,247.64 L324.5,248.02 L325.5,248.38 L326.5,248.71 L327.5,249.00 L328.5,249.27 L329.5,249.50 L330.5,249.70 L331.5,249.87 L332.5,250.02 L333.5,250.14 L334.5,250.25 L335.5,250.33 L336.5,250.40 L337.5,250.46 L338.5,250.50 L339.5,250.54 L340.5,250.57 L341.5,250.60 L342.5,250.62 L343.5,250.63 L344.5,250.65" fill="none" stroke="#2020c8" stroke-width="1.5"/>
<path d="M304.0,249.22 L305.0,248.96 L306.0,248.64 L307.0,248.26 L308.0,247.79 L309.0,247.23 L310.0,246.55 L311.0,245.76 L312.0,244.82 L313.0,243.74 L314.0,242.51 L315.0,241.12 L316.0,239.57 L317.0,237.87 L318.0,236.03 L319.0,234.06 L320.0,232.00 L321.0,229.88 L322.0,227.74 L323.0,225.62 L324.0,223.58 L325.0,221.68 L326.0,219.98 L327.0,218.54 L328.0,217.42 L329.0,216.67 L330.0,216.32 L331.0,216.40 L332.0,216.89 L333.0,217.78 L334.0,219.02 L335.0,220.56 L336.0,222.34 L337.0,224.30 L338.0,226.37 L339.0,228.51 L340.0,230.65 L341.0,232.75 L342.0,234.78 L343.0,236.70 L344.0,238.50 L345.0,240.15 L346.0,241.64 L347.0,242.97 L348.0,244.15 L349.0,245.18 L350.0,246.06 L351.0,246.81 L352.0,247.44 L353.0,247.97 L354.0,248.41 L355.0,248.77 L356.0,249.06" fill="none" stroke="#d42828" stroke-width="1.5"/>
<line x1="311.8" y1="11" x2="311.8" y2="54" stroke="#555" stroke-width="0.6" stroke-dasharray="1,1.5"/>
<line x1="331.3" y1="21" x2="331.3" y2="41" stroke="#555" stroke-width="0.6" stroke-dasharray="1,1.5"/>
</g>
<rect x="229.5" y="1" width="199.39999999999998" height="254.2" fill="none" stroke="#222" stroke-width="1.4"/>
<line x1="229.5" y1="255.2" x2="229.5" y2="256.7" stroke="#222" stroke-width="1"/>
<line x1="254.4" y1="255.2" x2="254.4" y2="256.7" stroke="#222" stroke-width="1"/>
<line x1="279.4" y1="255.2" x2="279.4" y2="256.7" stroke="#222" stroke-width="1"/>
<line x1="304.3" y1="255.2" x2="304.3" y2="256.7" stroke="#222" stroke-width="1"/>
<line x1="329.2" y1="255.2" x2="329.2" y2="256.7" stroke="#222" stroke-width="1"/>
<line x1="354.1" y1="255.2" x2="354.1" y2="256.7" stroke="#222" stroke-width="1"/>
<line x1="379.0" y1="255.2" x2="379.0" y2="256.7" stroke="#222" stroke-width="1"/>
<line x1="404.0" y1="255.2" x2="404.0" y2="256.7" stroke="#222" stroke-width="1"/>
<line x1="428.9" y1="255.2" x2="428.9" y2="256.7" stroke="#222" stroke-width="1"/>
<text x="229.5" y="265.6" font-size="9.0" text-anchor="middle" font-weight="bold">540</text>
<text x="254.4" y="265.6" font-size="9.0" text-anchor="middle" font-weight="bold">538</text>
<text x="279.4" y="265.6" font-size="9.0" text-anchor="middle" font-weight="bold">536</text>
<text x="304.3" y="265.6" font-size="9.0" text-anchor="middle" font-weight="bold">534</text>
<text x="329.2" y="265.6" font-size="9.0" text-anchor="middle" font-weight="bold">532</text>
<text x="354.1" y="265.6" font-size="9.0" text-anchor="middle" font-weight="bold">530</text>
<text x="379.0" y="265.6" font-size="9.0" text-anchor="middle" font-weight="bold">528</text>
<text x="404.0" y="265.6" font-size="9.0" text-anchor="middle" font-weight="bold">526</text>
<text x="428.9" y="265.6" font-size="9.0" text-anchor="middle" font-weight="bold">524</text>
<text x="281.5" y="279.0" font-size="12.4" text-anchor="start" font-weight="bold" textLength="96.3" lengthAdjust="spacingAndGlyphs">Binding Energy / eV</text>
<text x="232.2" y="16.2" font-size="13.7" text-anchor="start" font-weight="bold" textLength="25.8" lengthAdjust="spacingAndGlyphs">O 1s</text>
<text x="239.6" y="28.4" font-size="9.3" text-anchor="start" font-weight="bold">Pristine</text>
<text x="238.6" y="60.0" font-size="9.3" text-anchor="start" font-weight="bold">BL+1.5%DTD</text>
<text x="239.6" y="94.6" font-size="9.3" text-anchor="start" font-weight="bold">BL+1%DTD+0.5%PES</text>
<text x="239.6" y="139.3" font-size="9.3" text-anchor="start" font-weight="bold">BL+0.5%TMSB</text>
<text x="239.6" y="190.8" font-size="9.3" text-anchor="start" font-weight="bold">BL+0.5%TTSP</text>
<text x="238.6" y="236.2" font-size="9.3" text-anchor="start" font-weight="bold">BL+0.5%MMDS</text>
<text x="291.2" y="10.2" font-size="7.2" font-weight="bold" textLength="61" lengthAdjust="spacingAndGlyphs"><tspan dy="0">CMC, C-O/R</tspan><tspan dy="1.2" font-size="5.8">2</tspan><tspan dy="-1.2">CO</tspan><tspan dy="1.2" font-size="5.8">3</tspan></text>
<text x="326.6" y="19.6" font-size="7.2" font-weight="bold" textLength="65" lengthAdjust="spacingAndGlyphs"><tspan dy="0">CMC, C=O/Li</tspan><tspan dy="1.2" font-size="5.8">2</tspan><tspan dy="-1.2">CO</tspan><tspan dy="1.2" font-size="5.8">3</tspan></text>
<clipPath id="cC"><rect x="442.6" y="1" width="200.89999999999998" height="255.2"/></clipPath>
<g clip-path="url(#cC)">
<path d="M481.1,40.88 L482.1,40.88 L483.1,40.87 L484.1,40.86 L485.1,40.85 L486.1,40.84 L487.1,40.83 L488.1,40.82 L489.1,40.80 L490.1,40.78 L491.1,40.77 L492.1,40.75 L493.1,40.72 L494.1,40.70 L495.1,40.67 L496.1,40.63 L497.1,40.60 L498.1,40.56 L499.1,40.51 L500.1,40.46 L501.1,40.41 L502.1,40.35 L503.1,40.29 L504.1,40.22 L505.1,40.14 L506.1,40.06 L507.1,39.97 L508.1,39.88 L509.1,39.78 L510.1,39.67 L511.1,39.56 L512.1,39.44 L513.1,39.31 L514.1,39.18 L515.1,39.05 L516.1,38.91 L517.1,38.76 L518.1,38.61 L519.1,38.46 L520.1,38.31 L521.1,38.15 L522.1,38.00 L523.1,37.85 L524.1,37.69 L525.1,37.55 L526.1,37.40 L527.1,37.27 L528.1,37.13 L529.1,37.01 L530.1,36.90 L531.1,36.80 L532.1,36.71 L533.1,36.64 L534.1,36.58 L535.1,36.54 L536.1,36.51 L537.1,36.50 L538.1,36.53 L539.1,36.64 L540.1,36.81 L541.1,37.04 L542.1,37.31 L543.1,37.61 L544.1,37.93 L545.1,38.26 L546.1,38.59 L547.1,38.90 L548.1,39.19 L549.1,39.46 L550.1,39.71 L551.1,39.92 L552.1,40.11 L553.1,40.27 L554.1,40.40 L555.1,40.51 L556.1,40.60 L557.1,40.67 L558.1,40.73 L559.1,40.77 L560.1,40.81 L561.1,40.84 L562.1,40.86 L563.1,40.88 L563.1,41.00 L481.1,41.00 Z" fill="url(#gm)" stroke="none"/>
<path d="M542.5,40.83 L543.5,40.80 L544.5,40.76 L545.5,40.72 L546.5,40.66 L547.5,40.57 L548.5,40.47 L549.5,40.33 L550.5,40.15 L551.5,39.92 L552.5,39.65 L553.5,39.32 L554.5,38.93 L555.5,38.49 L556.5,37.99 L557.5,37.46 L558.5,36.90 L559.5,36.33 L560.5,35.78 L561.5,35.28 L562.5,34.85 L563.5,34.53 L564.5,34.35 L565.5,34.30 L566.5,34.41 L567.5,34.67 L568.5,35.04 L569.5,35.50 L570.5,36.03 L571.5,36.59 L572.5,37.16 L573.5,37.71 L574.5,38.22 L575.5,38.70 L576.5,39.11 L577.5,39.48 L578.5,39.78 L579.5,40.03 L580.5,40.23 L581.5,40.39 L582.5,40.52 L583.5,40.61 L584.5,40.69 L585.5,40.74 L586.5,40.78 L587.5,40.81 L587.5,41.00 L542.5,41.00 Z" fill="url(#gb)" stroke="none"/>
<path d="M558.3,40.18 L559.3,40.01 L560.3,39.75 L561.3,39.36 L562.3,38.79 L563.3,37.97 L564.3,36.82 L565.3,35.27 L566.3,33.25 L567.3,30.73 L568.3,27.75 L569.3,24.37 L570.3,20.78 L571.3,17.22 L572.3,14.00 L573.3,11.48 L574.3,9.99 L575.3,9.75 L576.3,10.53 L577.3,12.14 L578.3,14.42 L579.3,17.16 L580.3,20.15 L581.3,23.19 L582.3,26.13 L583.3,28.84 L584.3,31.26 L585.3,33.33 L586.3,35.04 L587.3,36.43 L588.3,37.51 L589.3,38.33 L590.3,38.95 L591.3,39.40 L592.3,39.72 L593.3,39.96 L594.3,40.12 L594.3,41.00 L558.3,41.00 Z" fill="url(#gr)" stroke="none"/>
<line x1="442.6" y1="41" x2="643.5" y2="41" stroke="#3f6f58" stroke-width="1.3"/>
<path d="M442.6,40.93 L443.6,40.93 L444.6,40.92 L445.6,40.92 L446.6,40.92 L447.6,40.92 L448.6,40.92 L449.6,40.92 L450.6,40.91 L451.6,40.91 L452.6,40.91 L453.6,40.91 L454.6,40.91 L455.6,40.90 L456.6,40.90 L457.6,40.90 L458.6,40.90 L459.6,40.90 L460.6,40.89 L461.6,40.89 L462.6,40.89 L463.6,40.89 L464.6,40.88 L465.6,40.88 L466.6,40.88 L467.6,40.87 L468.6,40.87 L469.6,40.87 L470.6,40.86 L471.6,40.86 L472.6,40.86 L473.6,40.85 L474.6,40.85 L475.6,40.84 L476.6,40.83 L477.6,40.83 L478.6,40.82 L479.6,40.81 L480.6,40.81 L481.6,40.80 L482.6,40.79 L483.6,40.78 L484.6,40.76 L485.6,40.75 L486.6,40.74 L487.6,40.72 L488.6,40.70 L489.6,40.68 L490.6,40.66 L491.6,40.63 L492.6,40.60 L493.6,40.57 L494.6,40.53 L495.6,40.49 L496.6,40.45 L497.6,40.40 L498.6,40.34 L499.6,40.28 L500.6,40.21 L501.6,40.14 L502.6,40.06 L503.6,39.98 L504.6,39.88 L505.6,39.78 L506.6,39.67 L507.6,39.56 L508.6,39.43 L509.6,39.30 L510.6,39.16 L511.6,39.01 L512.6,38.85 L513.6,38.69 L514.6,38.52 L515.6,38.34 L516.6,38.15 L517.6,37.97 L518.6,37.77 L519.6,37.58 L520.6,37.38 L521.6,37.18 L522.6,36.98 L523.6,36.78 L524.6,36.58 L525.6,36.39 L526.6,36.21 L527.6,36.03 L528.6,35.89 L529.6,35.76 L530.6,35.65 L531.6,35.54 L532.6,35.45 L533.6,35.37 L534.6,35.31 L535.6,35.26 L536.6,35.22 L537.6,35.21 L538.6,35.26 L539.6,35.37 L540.6,35.55 L541.6,35.77 L542.6,36.03 L543.6,36.37 L544.6,36.71 L545.6,37.03 L546.6,37.32 L547.6,37.55 L548.6,37.72 L549.6,37.81 L550.6,37.79 L551.6,37.66 L552.6,37.38 L553.6,36.96 L554.6,36.37 L555.6,35.68 L556.6,34.92 L557.6,34.02 L558.6,32.98 L559.6,31.81 L560.6,30.54 L561.6,29.19 L562.6,27.76 L563.6,26.27 L564.6,24.70 L565.6,23.02 L566.6,21.19 L567.6,19.13 L568.6,16.82 L569.6,14.31 L570.6,11.70 L571.6,9.19 L572.6,7.08 L573.6,5.68 L574.6,5.29 L575.6,6.02 L576.6,7.59 L577.6,9.87 L578.6,12.67 L579.6,15.79 L580.6,19.04 L581.6,22.25 L582.6,25.27 L583.6,28.02 L584.6,30.43 L585.6,32.47 L586.6,34.14 L587.6,35.47 L588.6,36.64 L589.6,37.62 L590.6,38.35 L591.6,38.89 L592.6,39.28 L593.6,39.56 L594.6,39.76 L595.6,39.91 L596.6,40.03 L597.6,40.12 L598.6,40.19 L599.6,40.25 L600.6,40.31 L601.6,40.35 L602.6,40.40 L603.6,40.43 L604.6,40.47 L605.6,40.50 L606.6,40.53 L607.6,40.55 L608.6,40.57 L609.6,40.60 L610.6,40.62 L611.6,40.64 L612.6,40.65 L613.6,40.67 L614.6,40.68 L615.6,40.70 L616.6,40.71 L617.6,40.72 L618.6,40.74 L619.6,40.75 L620.6,40.76 L621.6,40.77 L622.6,40.77 L623.6,40.78 L624.6,40.79 L625.6,40.80 L626.6,40.81 L627.6,40.81 L628.6,40.82 L629.6,40.83 L630.6,40.83 L631.6,40.84 L632.6,40.84 L633.6,40.85 L634.6,40.85 L635.6,40.86 L636.6,40.86 L637.6,40.86 L638.6,40.87 L639.6,40.87 L640.6,40.88 L641.6,40.88 L642.6,40.88" fill="none" stroke="#666" stroke-width="0.7"/>
<path d="M442.6,40.96 L443.6,40.96 L444.6,40.96 L445.6,40.96 L446.6,40.96 L447.6,40.96 L448.6,40.96 L449.6,40.96 L450.6,40.95 L451.6,40.95 L452.6,40.95 L453.6,40.95 L454.6,40.95 L455.6,40.95 L456.6,40.95 L457.6,40.95 L458.6,40.95 L459.6,40.94 L460.6,40.94 L461.6,40.94 L462.6,40.94 L463.6,40.94 L464.6,40.94 L465.6,40.93 L466.6,40.93 L467.6,40.93 L468.6,40.93 L469.6,40.93 L470.6,40.92 L471.6,40.92 L472.6,40.92 L473.6,40.92 L474.6,40.91 L475.6,40.91 L476.6,40.91 L477.6,40.90 L478.6,40.90 L479.6,40.89 L480.6,40.89 L481.6,40.88 L482.6,40.87 L483.6,40.86 L484.6,40.86 L485.6,40.85 L486.6,40.84 L487.6,40.82 L488.6,40.81 L489.6,40.79 L490.6,40.78 L491.6,40.76 L492.6,40.73 L493.6,40.71 L494.6,40.68 L495.6,40.65 L496.6,40.62 L497.6,40.58 L498.6,40.54 L499.6,40.49 L500.6,40.44 L501.6,40.38 L502.6,40.32 L503.6,40.25 L504.6,40.18 L505.6,40.10 L506.6,40.02 L507.6,39.93 L508.6,39.83 L509.6,39.73 L510.6,39.62 L511.6,39.50 L512.6,39.38 L513.6,39.25 L514.6,39.12 L515.6,38.98 L516.6,38.84 L517.6,38.69 L518.6,38.54 L519.6,38.39 L520.6,38.23 L521.6,38.08 L522.6,37.92 L523.6,37.77 L524.6,37.62 L525.6,37.47 L526.6,37.33 L527.6,37.20 L528.6,37.07 L529.6,36.96 L530.6,36.85 L531.6,36.76 L532.6,36.67 L533.6,36.61 L534.6,36.56 L535.6,36.52 L536.6,36.50 L537.6,36.51 L538.6,36.57 L539.6,36.71 L540.6,36.91 L541.6,37.17 L542.6,37.46 L543.6,37.77 L544.6,38.10 L545.6,38.42 L546.6,38.74 L547.6,39.05 L548.6,39.33 L549.6,39.59 L550.6,39.82 L551.6,40.02 L552.6,40.19 L553.6,40.34 L554.6,40.46 L555.6,40.56 L556.6,40.64 L557.6,40.70 L558.6,40.75 L559.6,40.79 L560.6,40.82 L561.6,40.85 L562.6,40.87 L563.6,40.88 L564.6,40.89 L565.6,40.90 L566.6,40.91 L567.6,40.92 L568.6,40.92 L569.6,40.93 L570.6,40.93 L571.6,40.94 L572.6,40.94 L573.6,40.94 L574.6,40.95 L575.6,40.95 L576.6,40.95 L577.6,40.95 L578.6,40.96 L579.6,40.96 L580.6,40.96 L581.6,40.96 L582.6,40.96 L583.6,40.96 L584.6,40.97 L585.6,40.97 L586.6,40.97 L587.6,40.97 L588.6,40.97 L589.6,40.97 L590.6,40.97 L591.6,40.97 L592.6,40.97 L593.6,40.98 L594.6,40.98 L595.6,40.98 L596.6,40.98 L597.6,40.98 L598.6,40.98 L599.6,40.98 L600.6,40.98 L601.6,40.98 L602.6,40.98 L603.6,40.98 L604.6,40.98 L605.6,40.98 L606.6,40.98 L607.6,40.98 L608.6,40.98" fill="none" stroke="#c030c0" stroke-width="1.5"/>
<path d="M546.0,40.69 L547.0,40.62 L548.0,40.53 L549.0,40.41 L550.0,40.25 L551.0,40.05 L552.0,39.81 L553.0,39.51 L554.0,39.15 L555.0,38.74 L556.0,38.27 L557.0,37.76 L558.0,37.21 L559.0,36.64 L560.0,36.08 L561.0,35.55 L562.0,35.08 L563.0,34.70 L564.0,34.43 L565.0,34.31 L566.0,34.34 L567.0,34.51 L568.0,34.82 L569.0,35.24 L570.0,35.74 L571.0,36.28 L572.0,36.85 L573.0,37.41 L574.0,37.94 L575.0,38.44 L576.0,38.89 L577.0,39.28 L578.0,39.62 L579.0,39.90 L580.0,40.13 L581.0,40.31 L582.0,40.45 L583.0,40.57 L584.0,40.65" fill="none" stroke="#2020c8" stroke-width="1.5"/>
<path d="M560.9,39.56 L561.9,39.09 L562.9,38.40 L563.9,37.41 L564.9,36.06 L565.9,34.27 L566.9,31.99 L567.9,29.22 L568.9,26.01 L569.9,22.50 L570.9,18.89 L571.9,15.47 L572.9,12.57 L573.9,10.55 L574.9,9.71 L575.9,10.05 L576.9,11.28 L577.9,13.27 L578.9,15.82 L579.9,18.71 L580.9,21.75 L581.9,24.75 L582.9,27.59 L583.9,30.15 L584.9,32.39 L585.9,34.27 L586.9,35.81 L587.9,37.03 L588.9,37.97 L589.9,38.68 L590.9,39.20" fill="none" stroke="#d42828" stroke-width="1.5"/>
<path d="M500.6,82.57 L501.6,82.57 L502.6,82.56 L503.6,82.55 L504.6,82.54 L505.6,82.53 L506.6,82.52 L507.6,82.51 L508.6,82.49 L509.6,82.47 L510.6,82.46 L511.6,82.44 L512.6,82.41 L513.6,82.39 L514.6,82.36 L515.6,82.33 L516.6,82.30 L517.6,82.26 L518.6,82.22 L519.6,82.17 L520.6,82.12 L521.6,82.07 L522.6,82.01 L523.6,81.94 L524.6,81.87 L525.6,81.80 L526.6,81.72 L527.6,81.63 L528.6,81.54 L529.6,81.44 L530.6,81.33 L531.6,81.22 L532.6,81.10 L533.6,80.98 L534.6,80.85 L535.6,80.71 L536.6,80.57 L537.6,80.43 L538.6,80.28 L539.6,80.13 L540.6,79.97 L541.6,79.82 L542.6,79.66 L543.6,79.50 L544.6,79.34 L545.6,79.18 L546.6,79.03 L547.6,78.88 L548.6,78.73 L549.6,78.59 L550.6,78.46 L551.6,78.34 L552.6,78.22 L553.6,78.12 L554.6,78.03 L555.6,77.96 L556.6,77.89 L557.6,77.85 L558.6,77.82 L559.6,77.80 L560.6,77.80 L561.6,77.82 L562.6,77.86 L563.6,77.91 L564.6,77.97 L565.6,78.05 L566.6,78.14 L567.6,78.25 L568.6,78.36 L569.6,78.49 L570.6,78.62 L571.6,78.76 L572.6,78.91 L573.6,79.06 L574.6,79.21 L575.6,79.37 L576.6,79.53 L577.6,79.69 L578.6,79.85 L579.6,80.00 L580.6,80.16 L581.6,80.31 L582.6,80.46 L583.6,80.60 L584.6,80.74 L585.6,80.88 L586.6,81.00 L587.6,81.13 L588.6,81.24 L589.6,81.35 L590.6,81.46 L591.6,81.56 L592.6,81.65 L593.6,81.73 L594.6,81.81 L595.6,81.89 L596.6,81.96 L597.6,82.02 L598.6,82.08 L599.6,82.13 L600.6,82.18 L601.6,82.23 L602.6,82.27 L603.6,82.30 L604.6,82.34 L605.6,82.37 L606.6,82.39 L607.6,82.42 L608.6,82.44 L609.6,82.46 L610.6,82.48 L611.6,82.49 L612.6,82.51 L613.6,82.52 L614.6,82.53 L615.6,82.54 L616.6,82.55 L617.6,82.56 L618.6,82.57 L618.6,82.70 L500.6,82.70 Z" fill="url(#gb)" stroke="none"/>
<path d="M543.9,82.35 L544.9,82.31 L545.9,82.27 L546.9,82.21 L547.9,82.14 L548.9,82.05 L549.9,81.94 L550.9,81.80 L551.9,81.63 L552.9,81.43 L553.9,81.18 L554.9,80.89 L555.9,80.54 L556.9,80.14 L557.9,79.68 L558.9,79.15 L559.9,78.56 L560.9,77.90 L561.9,77.19 L562.9,76.42 L563.9,75.61 L564.9,74.78 L565.9,73.93 L566.9,73.08 L567.9,72.27 L568.9,71.50 L569.9,70.81 L570.9,70.23 L571.9,69.77 L572.9,69.46 L573.9,69.31 L574.9,69.34 L575.9,69.53 L576.9,69.88 L577.9,70.38 L578.9,71.00 L579.9,71.71 L580.9,72.49 L581.9,73.32 L582.9,74.16 L583.9,75.01 L584.9,75.84 L585.9,76.64 L586.9,77.39 L587.9,78.09 L588.9,78.73 L589.9,79.30 L590.9,79.81 L591.9,80.26 L592.9,80.65 L593.9,80.98 L594.9,81.26 L595.9,81.49 L596.9,81.68 L597.9,81.84 L598.9,81.97 L599.9,82.07 L600.9,82.16 L601.9,82.23 L602.9,82.28 L603.9,82.32 L603.9,82.70 L543.9,82.70 Z" fill="url(#gr)" stroke="none"/>
<line x1="442.6" y1="82.7" x2="643.5" y2="82.7" stroke="#3f6f58" stroke-width="1.3"/>
<path d="M442.6,82.64 L443.6,82.64 L444.6,82.64 L445.6,82.64 L446.6,82.63 L447.6,82.63 L448.6,82.63 L449.6,82.63 L450.6,82.63 L451.6,82.63 L452.6,82.63 L453.6,82.63 L454.6,82.63 L455.6,82.62 L456.6,82.62 L457.6,82.62 L458.6,82.62 L459.6,82.62 L460.6,82.62 L461.6,82.62 L462.6,82.61 L463.6,82.61 L464.6,82.61 L465.6,82.61 L466.6,82.61 L467.6,82.60 L468.6,82.60 L469.6,82.60 L470.6,82.60 L471.6,82.60 L472.6,82.59 L473.6,82.59 L474.6,82.59 L475.6,82.59 L476.6,82.58 L477.6,82.58 L478.6,82.58 L479.6,82.58 L480.6,82.57 L481.6,82.57 L482.6,82.57 L483.6,82.56 L484.6,82.56 L485.6,82.56 L486.6,82.55 L487.6,82.55 L488.6,82.55 L489.6,82.54 L490.6,82.54 L491.6,82.53 L492.6,82.53 L493.6,82.52 L494.6,82.52 L495.6,82.51 L496.6,82.50 L497.6,82.50 L498.6,82.49 L499.6,82.48 L500.6,82.47 L501.6,82.46 L502.6,82.45 L503.6,82.44 L504.6,82.42 L505.6,82.41 L506.6,82.39 L507.6,82.37 L508.6,82.35 L509.6,82.33 L510.6,82.30 L511.6,82.27 L512.6,82.24 L513.6,82.21 L514.6,82.17 L515.6,82.13 L516.6,82.08 L517.6,82.03 L518.6,81.98 L519.6,81.91 L520.6,81.85 L521.6,81.77 L522.6,81.70 L523.6,81.61 L524.6,81.52 L525.6,81.42 L526.6,81.31 L527.6,81.19 L528.6,81.07 L529.6,80.94 L530.6,80.80 L531.6,80.65 L532.6,80.49 L533.6,80.33 L534.6,80.15 L535.6,79.97 L536.6,79.78 L537.6,79.59 L538.6,79.39 L539.6,79.18 L540.6,78.96 L541.6,78.74 L542.6,78.51 L543.6,78.28 L544.6,78.03 L545.6,77.78 L546.6,77.56 L547.6,77.34 L548.6,77.11 L549.6,76.87 L550.6,76.61 L551.6,76.33 L552.6,76.03 L553.6,75.69 L554.6,75.33 L555.6,74.92 L556.6,74.48 L557.6,73.99 L558.6,73.45 L559.6,72.87 L560.6,72.23 L561.6,71.56 L562.6,70.84 L563.6,70.10 L564.6,69.33 L565.6,68.57 L566.6,67.81 L567.6,67.08 L568.6,66.41 L569.6,65.82 L570.6,65.33 L571.6,64.97 L572.6,64.75 L573.6,64.70 L574.6,64.82 L575.6,65.12 L576.6,65.58 L577.6,66.19 L578.6,66.92 L579.6,67.76 L580.6,68.68 L581.6,69.64 L582.6,70.63 L583.6,71.63 L584.6,72.61 L585.6,73.55 L586.6,74.45 L587.6,75.29 L588.6,76.06 L589.6,76.77 L590.6,77.41 L591.6,78.04 L592.6,78.66 L593.6,79.21 L594.6,79.68 L595.6,80.08 L596.6,80.42 L597.6,80.71 L598.6,80.96 L599.6,81.17 L600.6,81.34 L601.6,81.49 L602.6,81.61 L603.6,81.72 L604.6,81.81 L605.6,81.89 L606.6,81.95 L607.6,82.01 L608.6,82.06 L609.6,82.10 L610.6,82.14 L611.6,82.18 L612.6,82.21 L613.6,82.24 L614.6,82.26 L615.6,82.29 L616.6,82.31 L617.6,82.33 L618.6,82.34 L619.6,82.36 L620.6,82.38 L621.6,82.39 L622.6,82.40 L623.6,82.41 L624.6,82.42 L625.6,82.43 L626.6,82.44 L627.6,82.45 L628.6,82.46 L629.6,82.47 L630.6,82.48 L631.6,82.48 L632.6,82.49 L633.6,82.50 L634.6,82.50 L635.6,82.51 L636.6,82.51 L637.6,82.52 L638.6,82.52 L639.6,82.53 L640.6,82.53 L641.6,82.54 L642.6,82.54" fill="none" stroke="#666" stroke-width="0.7"/>
<path d="M509.6,82.47 L510.6,82.46 L511.6,82.44 L512.6,82.41 L513.6,82.39 L514.6,82.36 L515.6,82.33 L516.6,82.30 L517.6,82.26 L518.6,82.22 L519.6,82.17 L520.6,82.12 L521.6,82.07 L522.6,82.01 L523.6,81.94 L524.6,81.87 L525.6,81.80 L526.6,81.72 L527.6,81.63 L528.6,81.54 L529.6,81.44 L530.6,81.33 L531.6,81.22 L532.6,81.10 L533.6,80.98 L534.6,80.85 L535.6,80.71 L536.6,80.57 L537.6,80.43 L538.6,80.28 L539.6,80.13 L540.6,79.97 L541.6,79.82 L542.6,79.66 L543.6,79.50 L544.6,79.34 L545.6,79.18 L546.6,79.03 L547.6,78.88 L548.6,78.73 L549.6,78.59 L550.6,78.46 L551.6,78.34 L552.6,78.22 L553.6,78.12 L554.6,78.03 L555.6,77.96 L556.6,77.89 L557.6,77.85 L558.6,77.82 L559.6,77.80 L560.6,77.80 L561.6,77.82 L562.6,77.86 L563.6,77.91 L564.6,77.97 L565.6,78.05 L566.6,78.14 L567.6,78.25 L568.6,78.36 L569.6,78.49 L570.6,78.62 L571.6,78.76 L572.6,78.91 L573.6,79.06 L574.6,79.21 L575.6,79.37 L576.6,79.53 L577.6,79.69 L578.6,79.85 L579.6,80.00 L580.6,80.16 L581.6,80.31 L582.6,80.46 L583.6,80.60 L584.6,80.74 L585.6,80.88 L586.6,81.00 L587.6,81.13 L588.6,81.24 L589.6,81.35 L590.6,81.46 L591.6,81.56 L592.6,81.65 L593.6,81.73 L594.6,81.81 L595.6,81.89 L596.6,81.96 L597.6,82.02 L598.6,82.08 L599.6,82.13 L600.6,82.18 L601.6,82.23 L602.6,82.27 L603.6,82.30 L604.6,82.34 L605.6,82.37 L606.6,82.39 L607.6,82.42 L608.6,82.44 L609.6,82.46" fill="none" stroke="#2020c8" stroke-width="1.5"/>
<path d="M548.5,82.08 L549.5,81.98 L550.5,81.86 L551.5,81.70 L552.5,81.51 L553.5,81.29 L554.5,81.01 L555.5,80.69 L556.5,80.31 L557.5,79.87 L558.5,79.37 L559.5,78.80 L560.5,78.17 L561.5,77.48 L562.5,76.73 L563.5,75.94 L564.5,75.11 L565.5,74.27 L566.5,73.42 L567.5,72.59 L568.5,71.80 L569.5,71.08 L570.5,70.45 L571.5,69.94 L572.5,69.56 L573.5,69.35 L574.5,69.30 L575.5,69.43 L576.5,69.72 L577.5,70.16 L578.5,70.74 L579.5,71.41 L580.5,72.17 L581.5,72.98 L582.5,73.82 L583.5,74.68 L584.5,75.51 L585.5,76.33 L586.5,77.10 L587.5,77.82 L588.5,78.48 L589.5,79.08 L590.5,79.62 L591.5,80.09 L592.5,80.50 L593.5,80.85 L594.5,81.15 L595.5,81.40 L596.5,81.61 L597.5,81.78 L598.5,81.92 L599.5,82.03" fill="none" stroke="#d42828" stroke-width="1.5"/>
<path d="M494.0,126.56 L495.0,126.56 L496.0,126.56 L497.0,126.55 L498.0,126.55 L499.0,126.55 L500.0,126.55 L501.0,126.54 L502.0,126.54 L503.0,126.54 L504.0,126.53 L505.0,126.53 L506.0,126.52 L507.0,126.51 L508.0,126.51 L509.0,126.50 L510.0,126.49 L511.0,126.48 L512.0,126.47 L513.0,126.46 L514.0,126.45 L515.0,126.44 L516.0,126.43 L517.0,126.41 L518.0,126.40 L519.0,126.38 L520.0,126.36 L521.0,126.34 L522.0,126.32 L523.0,126.30 L524.0,126.27 L525.0,126.25 L526.0,126.22 L527.0,126.19 L528.0,126.16 L529.0,126.13 L530.0,126.10 L531.0,126.06 L532.0,126.03 L533.0,125.99 L534.0,125.95 L535.0,125.91 L536.0,125.87 L537.0,125.83 L538.0,125.78 L539.0,125.74 L540.0,125.70 L541.0,125.65 L542.0,125.61 L543.0,125.57 L544.0,125.52 L545.0,125.48 L546.0,125.44 L547.0,125.40 L548.0,125.36 L549.0,125.32 L550.0,125.29 L551.0,125.25 L552.0,125.22 L553.0,125.20 L554.0,125.17 L555.0,125.15 L556.0,125.13 L557.0,125.12 L558.0,125.11 L559.0,125.10 L560.0,125.10 L561.0,125.10 L562.0,125.11 L563.0,125.12 L564.0,125.13 L565.0,125.15 L566.0,125.17 L567.0,125.20 L568.0,125.22 L569.0,125.25 L570.0,125.29 L571.0,125.32 L572.0,125.36 L573.0,125.40 L574.0,125.44 L575.0,125.48 L576.0,125.52 L577.0,125.57 L578.0,125.61 L579.0,125.65 L580.0,125.70 L581.0,125.74 L582.0,125.78 L583.0,125.83 L584.0,125.87 L585.0,125.91 L586.0,125.95 L587.0,125.99 L588.0,126.03 L589.0,126.06 L590.0,126.10 L591.0,126.13 L592.0,126.16 L593.0,126.19 L594.0,126.22 L595.0,126.25 L596.0,126.27 L597.0,126.30 L598.0,126.32 L599.0,126.34 L600.0,126.36 L601.0,126.38 L602.0,126.40 L603.0,126.41 L604.0,126.43 L605.0,126.44 L606.0,126.45 L607.0,126.46 L608.0,126.47 L609.0,126.48 L610.0,126.49 L611.0,126.50 L612.0,126.51 L613.0,126.51 L614.0,126.52 L615.0,126.53 L616.0,126.53 L617.0,126.54 L618.0,126.54 L619.0,126.54 L620.0,126.55 L621.0,126.55 L622.0,126.55 L623.0,126.55 L624.0,126.56 L625.0,126.56 L626.0,126.56 L626.0,126.60 L494.0,126.60 Z" fill="url(#gb)" stroke="none"/>
<path d="M545.8,126.09 L546.8,126.03 L547.8,125.96 L548.8,125.87 L549.8,125.76 L550.8,125.62 L551.8,125.44 L552.8,125.22 L553.8,124.94 L554.8,124.61 L555.8,124.21 L556.8,123.72 L557.8,123.15 L558.8,122.49 L559.8,121.72 L560.8,120.86 L561.8,119.89 L562.8,118.82 L563.8,117.67 L564.8,116.45 L565.8,115.18 L566.8,113.89 L567.8,112.60 L568.8,111.36 L569.8,110.21 L570.8,109.17 L571.8,108.31 L572.8,107.66 L573.8,107.25 L574.8,107.10 L575.8,107.23 L576.8,107.62 L577.8,108.25 L578.8,109.10 L579.8,110.12 L580.8,111.27 L581.8,112.50 L582.8,113.79 L583.8,115.08 L584.8,116.35 L585.8,117.58 L586.8,118.73 L587.8,119.81 L588.8,120.78 L589.8,121.66 L590.8,122.43 L591.8,123.10 L592.8,123.68 L593.8,124.17 L594.8,124.58 L595.8,124.92 L596.8,125.20 L597.8,125.42 L598.8,125.60 L599.8,125.75 L600.8,125.86 L601.8,125.96 L602.8,126.03 L603.8,126.09 L603.8,126.60 L545.8,126.60 Z" fill="url(#gr)" stroke="none"/>
<line x1="442.6" y1="126.6" x2="643.5" y2="126.6" stroke="#3f6f58" stroke-width="1.3"/>
<path d="M442.6,126.56 L443.6,126.56 L444.6,126.55 L445.6,126.55 L446.6,126.55 L447.6,126.55 L448.6,126.55 L449.6,126.55 L450.6,126.55 L451.6,126.55 L452.6,126.55 L453.6,126.55 L454.6,126.55 L455.6,126.55 L456.6,126.54 L457.6,126.54 L458.6,126.54 L459.6,126.54 L460.6,126.54 L461.6,126.54 L462.6,126.54 L463.6,126.54 L464.6,126.54 L465.6,126.53 L466.6,126.53 L467.6,126.53 L468.6,126.53 L469.6,126.53 L470.6,126.53 L471.6,126.53 L472.6,126.52 L473.6,126.52 L474.6,126.52 L475.6,126.52 L476.6,126.52 L477.6,126.52 L478.6,126.51 L479.6,126.51 L480.6,126.51 L481.6,126.51 L482.6,126.51 L483.6,126.50 L484.6,126.50 L485.6,126.50 L486.6,126.50 L487.6,126.49 L488.6,126.49 L489.6,126.49 L490.6,126.48 L491.6,126.48 L492.6,126.48 L493.6,126.47 L494.6,126.47 L495.6,126.47 L496.6,126.46 L497.6,126.46 L498.6,126.45 L499.6,126.44 L500.6,126.44 L501.6,126.43 L502.6,126.42 L503.6,126.42 L504.6,126.41 L505.6,126.40 L506.6,126.39 L507.6,126.38 L508.6,126.36 L509.6,126.35 L510.6,126.34 L511.6,126.32 L512.6,126.30 L513.6,126.29 L514.6,126.27 L515.6,126.25 L516.6,126.22 L517.6,126.20 L518.6,126.17 L519.6,126.14 L520.6,126.11 L521.6,126.08 L522.6,126.05 L523.6,126.01 L524.6,125.97 L525.6,125.93 L526.6,125.89 L527.6,125.84 L528.6,125.79 L529.6,125.74 L530.6,125.69 L531.6,125.63 L532.6,125.58 L533.6,125.52 L534.6,125.45 L535.6,125.39 L536.6,125.32 L537.6,125.25 L538.6,125.18 L539.6,125.10 L540.6,125.02 L541.6,124.94 L542.6,124.85 L543.6,124.76 L544.6,124.65 L545.6,124.55 L546.6,124.42 L547.6,124.29 L548.6,124.13 L549.6,123.95 L550.6,123.73 L551.6,123.48 L552.6,123.18 L553.6,122.81 L554.6,122.38 L555.6,121.87 L556.6,121.33 L557.6,120.76 L558.6,120.11 L559.6,119.35 L560.6,118.50 L561.6,117.55 L562.6,116.51 L563.6,115.39 L564.6,114.19 L565.6,112.95 L566.6,111.68 L567.6,110.42 L568.6,109.20 L569.6,108.06 L570.6,107.04 L571.6,106.18 L572.6,105.53 L573.6,105.12 L574.6,104.97 L575.6,105.09 L576.6,105.49 L577.6,106.13 L578.6,106.99 L579.6,108.03 L580.6,109.20 L581.6,110.47 L582.6,111.79 L583.6,113.12 L584.6,114.44 L585.6,115.72 L586.6,116.93 L587.6,118.05 L588.6,119.08 L589.6,120.01 L590.6,120.83 L591.6,121.55 L592.6,122.32 L593.6,122.98 L594.6,123.55 L595.6,124.02 L596.6,124.40 L597.6,124.72 L598.6,124.99 L599.6,125.20 L600.6,125.37 L601.6,125.51 L602.6,125.63 L603.6,125.73 L604.6,125.80 L605.6,125.87 L606.6,125.93 L607.6,125.98 L608.6,126.02 L609.6,126.06 L610.6,126.09 L611.6,126.12 L612.6,126.15 L613.6,126.17 L614.6,126.19 L615.6,126.22 L616.6,126.23 L617.6,126.25 L618.6,126.27 L619.6,126.28 L620.6,126.30 L621.6,126.31 L622.6,126.32 L623.6,126.33 L624.6,126.35 L625.6,126.36 L626.6,126.36 L627.6,126.37 L628.6,126.38 L629.6,126.39 L630.6,126.40 L631.6,126.40 L632.6,126.41 L633.6,126.42 L634.6,126.42 L635.6,126.43 L636.6,126.43 L637.6,126.44 L638.6,126.44 L639.6,126.45 L640.6,126.45 L641.6,126.46 L642.6,126.46" fill="none" stroke="#666" stroke-width="0.7"/>
<path d="M504.0,126.53 L505.0,126.53 L506.0,126.52 L507.0,126.51 L508.0,126.51 L509.0,126.50 L510.0,126.49 L511.0,126.48 L512.0,126.47 L513.0,126.46 L514.0,126.45 L515.0,126.44 L516.0,126.43 L517.0,126.41 L518.0,126.40 L519.0,126.38 L520.0,126.36 L521.0,126.34 L522.0,126.32 L523.0,126.30 L524.0,126.27 L525.0,126.25 L526.0,126.22 L527.0,126.19 L528.0,126.16 L529.0,126.13 L530.0,126.10 L531.0,126.06 L532.0,126.03 L533.0,125.99 L534.0,125.95 L535.0,125.91 L536.0,125.87 L537.0,125.83 L538.0,125.78 L539.0,125.74 L540.0,125.70 L541.0,125.65 L542.0,125.61 L543.0,125.57 L544.0,125.52 L545.0,125.48 L546.0,125.44 L547.0,125.40 L548.0,125.36 L549.0,125.32 L550.0,125.29 L551.0,125.25 L552.0,125.22 L553.0,125.20 L554.0,125.17 L555.0,125.15 L556.0,125.13 L557.0,125.12 L558.0,125.11 L559.0,125.10 L560.0,125.10 L561.0,125.10 L562.0,125.11 L563.0,125.12 L564.0,125.13 L565.0,125.15 L566.0,125.17 L567.0,125.20 L568.0,125.22 L569.0,125.25 L570.0,125.29 L571.0,125.32 L572.0,125.36 L573.0,125.40 L574.0,125.44 L575.0,125.48 L576.0,125.52 L577.0,125.57 L578.0,125.61 L579.0,125.65 L580.0,125.70 L581.0,125.74 L582.0,125.78 L583.0,125.83 L584.0,125.87 L585.0,125.91 L586.0,125.95 L587.0,125.99 L588.0,126.03 L589.0,126.06 L590.0,126.10 L591.0,126.13 L592.0,126.16 L593.0,126.19 L594.0,126.22 L595.0,126.25 L596.0,126.27 L597.0,126.30 L598.0,126.32 L599.0,126.34 L600.0,126.36 L601.0,126.38 L602.0,126.40 L603.0,126.41 L604.0,126.43 L605.0,126.44 L606.0,126.45 L607.0,126.46 L608.0,126.47 L609.0,126.48 L610.0,126.49 L611.0,126.50 L612.0,126.51 L613.0,126.51 L614.0,126.52 L615.0,126.53 L616.0,126.53" fill="none" stroke="#2020c8" stroke-width="1.5"/>
<path d="M550.2,125.70 L551.2,125.55 L552.2,125.35 L553.2,125.11 L554.2,124.82 L555.2,124.46 L556.2,124.02 L557.2,123.51 L558.2,122.90 L559.2,122.20 L560.2,121.39 L561.2,120.48 L562.2,119.47 L563.2,118.37 L564.2,117.19 L565.2,115.95 L566.2,114.67 L567.2,113.37 L568.2,112.10 L569.2,110.89 L570.2,109.78 L571.2,108.81 L572.2,108.02 L573.2,107.46 L574.2,107.16 L575.2,107.12 L576.2,107.35 L577.2,107.84 L578.2,108.57 L579.2,109.49 L580.2,110.56 L581.2,111.75 L582.2,113.01 L583.2,114.30 L584.2,115.59 L585.2,116.85 L586.2,118.05 L587.2,119.17 L588.2,120.21 L589.2,121.14 L590.2,121.98 L591.2,122.71 L592.2,123.35 L593.2,123.89 L594.2,124.34 L595.2,124.72 L596.2,125.04 L597.2,125.29 L598.2,125.50 L599.2,125.66" fill="none" stroke="#d42828" stroke-width="1.5"/>
<path d="M477.5,167.86 L478.5,167.86 L479.5,167.86 L480.5,167.86 L481.5,167.85 L482.5,167.85 L483.5,167.85 L484.5,167.85 L485.5,167.85 L486.5,167.84 L487.5,167.84 L488.5,167.84 L489.5,167.83 L490.5,167.83 L491.5,167.83 L492.5,167.82 L493.5,167.82 L494.5,167.81 L495.5,167.81 L496.5,167.80 L497.5,167.79 L498.5,167.79 L499.5,167.78 L500.5,167.77 L501.5,167.76 L502.5,167.75 L503.5,167.74 L504.5,167.73 L505.5,167.72 L506.5,167.71 L507.5,167.70 L508.5,167.68 L509.5,167.67 L510.5,167.65 L511.5,167.64 L512.5,167.62 L513.5,167.60 L514.5,167.58 L515.5,167.56 L516.5,167.54 L517.5,167.52 L518.5,167.50 L519.5,167.47 L520.5,167.45 L521.5,167.42 L522.5,167.40 L523.5,167.37 L524.5,167.34 L525.5,167.31 L526.5,167.28 L527.5,167.25 L528.5,167.22 L529.5,167.19 L530.5,167.15 L531.5,167.12 L532.5,167.08 L533.5,167.05 L534.5,167.02 L535.5,166.98 L536.5,166.95 L537.5,166.91 L538.5,166.88 L539.5,166.84 L540.5,166.81 L541.5,166.77 L542.5,166.74 L543.5,166.71 L544.5,166.67 L545.5,166.64 L546.5,166.61 L547.5,166.59 L548.5,166.56 L549.5,166.54 L550.5,166.51 L551.5,166.49 L552.5,166.47 L553.5,166.45 L554.5,166.44 L555.5,166.43 L556.5,166.42 L557.5,166.41 L558.5,166.40 L559.5,166.40 L560.5,166.40 L561.5,166.40 L562.5,166.41 L563.5,166.42 L564.5,166.43 L565.5,166.44 L566.5,166.45 L567.5,166.47 L568.5,166.49 L569.5,166.51 L570.5,166.54 L571.5,166.56 L572.5,166.59 L573.5,166.61 L574.5,166.64 L575.5,166.67 L576.5,166.71 L577.5,166.74 L578.5,166.77 L579.5,166.81 L580.5,166.84 L581.5,166.88 L582.5,166.91 L583.5,166.95 L584.5,166.98 L585.5,167.02 L586.5,167.05 L587.5,167.08 L588.5,167.12 L589.5,167.15 L590.5,167.19 L591.5,167.22 L592.5,167.25 L593.5,167.28 L594.5,167.31 L595.5,167.34 L596.5,167.37 L597.5,167.40 L598.5,167.42 L599.5,167.45 L600.5,167.47 L601.5,167.50 L602.5,167.52 L603.5,167.54 L604.5,167.56 L605.5,167.58 L606.5,167.60 L607.5,167.62 L608.5,167.64 L609.5,167.65 L610.5,167.67 L611.5,167.68 L612.5,167.70 L613.5,167.71 L614.5,167.72 L615.5,167.73 L616.5,167.74 L617.5,167.75 L618.5,167.76 L619.5,167.77 L620.5,167.78 L621.5,167.79 L622.5,167.79 L623.5,167.80 L624.5,167.81 L625.5,167.81 L626.5,167.82 L627.5,167.82 L628.5,167.83 L629.5,167.83 L630.5,167.83 L631.5,167.84 L632.5,167.84 L633.5,167.84 L634.5,167.85 L635.5,167.85 L636.5,167.85 L637.5,167.85 L638.5,167.85 L639.5,167.86 L640.5,167.86 L641.5,167.86 L642.5,167.86 L642.5,167.90 L477.5,167.90 Z" fill="url(#gb)" stroke="none"/>
<path d="M549.5,167.32 L550.5,167.24 L551.5,167.13 L552.5,167.00 L553.5,166.82 L554.5,166.59 L555.5,166.30 L556.5,165.92 L557.5,165.45 L558.5,164.85 L559.5,164.13 L560.5,163.25 L561.5,162.22 L562.5,161.03 L563.5,159.68 L564.5,158.18 L565.5,156.57 L566.5,154.86 L567.5,153.12 L568.5,151.40 L569.5,149.76 L570.5,148.29 L571.5,147.06 L572.5,146.15 L573.5,145.62 L574.5,145.51 L575.5,145.76 L576.5,146.33 L577.5,147.19 L578.5,148.29 L579.5,149.58 L580.5,151.00 L581.5,152.51 L582.5,154.04 L583.5,155.57 L584.5,157.05 L585.5,158.46 L586.5,159.76 L587.5,160.96 L588.5,162.02 L589.5,162.97 L590.5,163.79 L591.5,164.49 L592.5,165.08 L593.5,165.57 L594.5,165.97 L595.5,166.30 L596.5,166.56 L597.5,166.77 L598.5,166.94 L599.5,167.07 L600.5,167.18 L601.5,167.26 L601.5,167.90 L549.5,167.90 Z" fill="url(#gr)" stroke="none"/>
<line x1="442.6" y1="167.9" x2="643.5" y2="167.9" stroke="#3f6f58" stroke-width="1.3"/>
<path d="M442.6,167.85 L443.6,167.85 L444.6,167.85 L445.6,167.85 L446.6,167.85 L447.6,167.85 L448.6,167.85 L449.6,167.85 L450.6,167.85 L451.6,167.85 L452.6,167.84 L453.6,167.84 L454.6,167.84 L455.6,167.84 L456.6,167.84 L457.6,167.84 L458.6,167.84 L459.6,167.84 L460.6,167.84 L461.6,167.83 L462.6,167.83 L463.6,167.83 L464.6,167.83 L465.6,167.83 L466.6,167.83 L467.6,167.83 L468.6,167.82 L469.6,167.82 L470.6,167.82 L471.6,167.82 L472.6,167.82 L473.6,167.81 L474.6,167.81 L475.6,167.81 L476.6,167.81 L477.6,167.80 L478.6,167.80 L479.6,167.80 L480.6,167.80 L481.6,167.79 L482.6,167.79 L483.6,167.78 L484.6,167.78 L485.6,167.78 L486.6,167.77 L487.6,167.77 L488.6,167.76 L489.6,167.76 L490.6,167.75 L491.6,167.74 L492.6,167.74 L493.6,167.73 L494.6,167.72 L495.6,167.71 L496.6,167.70 L497.6,167.69 L498.6,167.68 L499.6,167.67 L500.6,167.66 L501.6,167.64 L502.6,167.63 L503.6,167.62 L504.6,167.60 L505.6,167.58 L506.6,167.57 L507.6,167.55 L508.6,167.53 L509.6,167.51 L510.6,167.48 L511.6,167.46 L512.6,167.43 L513.6,167.41 L514.6,167.38 L515.6,167.35 L516.6,167.32 L517.6,167.29 L518.6,167.26 L519.6,167.22 L520.6,167.18 L521.6,167.15 L522.6,167.11 L523.6,167.07 L524.6,167.02 L525.6,166.98 L526.6,166.94 L527.6,166.89 L528.6,166.84 L529.6,166.79 L530.6,166.74 L531.6,166.69 L532.6,166.64 L533.6,166.58 L534.6,166.53 L535.6,166.47 L536.6,166.41 L537.6,166.35 L538.6,166.29 L539.6,166.23 L540.6,166.17 L541.6,166.10 L542.6,166.04 L543.6,165.97 L544.6,165.90 L545.6,165.83 L546.6,165.75 L547.6,165.66 L548.6,165.57 L549.6,165.46 L550.6,165.33 L551.6,165.17 L552.6,164.98 L553.6,164.73 L554.6,164.42 L555.6,164.03 L556.6,163.54 L557.6,162.93 L558.6,162.32 L559.6,161.59 L560.6,160.71 L561.6,159.67 L562.6,158.48 L563.6,157.12 L564.6,155.63 L565.6,154.02 L566.6,152.33 L567.6,150.61 L568.6,148.91 L569.6,147.30 L570.6,145.86 L571.6,144.67 L572.6,143.80 L573.6,143.32 L574.6,143.26 L575.6,143.56 L576.6,144.18 L577.6,145.08 L578.6,146.23 L579.6,147.56 L580.6,149.02 L581.6,150.56 L582.6,152.13 L583.6,153.70 L584.6,155.21 L585.6,156.64 L586.6,157.98 L587.6,159.20 L588.6,160.30 L589.6,161.27 L590.6,162.11 L591.6,162.84 L592.6,163.59 L593.6,164.24 L594.6,164.78 L595.6,165.22 L596.6,165.58 L597.6,165.88 L598.6,166.12 L599.6,166.31 L600.6,166.47 L601.6,166.61 L602.6,166.72 L603.6,166.81 L604.6,166.89 L605.6,166.96 L606.6,167.02 L607.6,167.08 L608.6,167.13 L609.6,167.17 L610.6,167.21 L611.6,167.25 L612.6,167.29 L613.6,167.32 L614.6,167.35 L615.6,167.38 L616.6,167.41 L617.6,167.43 L618.6,167.46 L619.6,167.48 L620.6,167.50 L621.6,167.52 L622.6,167.54 L623.6,167.55 L624.6,167.57 L625.6,167.58 L626.6,167.60 L627.6,167.61 L628.6,167.62 L629.6,167.63 L630.6,167.65 L631.6,167.66 L632.6,167.66 L633.6,167.67 L634.6,167.68 L635.6,167.69 L636.6,167.70 L637.6,167.70 L638.6,167.71 L639.6,167.72 L640.6,167.72 L641.6,167.73 L642.6,167.73" fill="none" stroke="#666" stroke-width="0.7"/>
<path d="M490.0,167.83 L491.0,167.83 L492.0,167.82 L493.0,167.82 L494.0,167.81 L495.0,167.81 L496.0,167.80 L497.0,167.80 L498.0,167.79 L499.0,167.78 L500.0,167.77 L501.0,167.77 L502.0,167.76 L503.0,167.75 L504.0,167.74 L505.0,167.73 L506.0,167.71 L507.0,167.70 L508.0,167.69 L509.0,167.68 L510.0,167.66 L511.0,167.64 L512.0,167.63 L513.0,167.61 L514.0,167.59 L515.0,167.57 L516.0,167.55 L517.0,167.53 L518.0,167.51 L519.0,167.49 L520.0,167.46 L521.0,167.44 L522.0,167.41 L523.0,167.38 L524.0,167.35 L525.0,167.33 L526.0,167.30 L527.0,167.26 L528.0,167.23 L529.0,167.20 L530.0,167.17 L531.0,167.14 L532.0,167.10 L533.0,167.07 L534.0,167.03 L535.0,167.00 L536.0,166.96 L537.0,166.93 L538.0,166.89 L539.0,166.86 L540.0,166.82 L541.0,166.79 L542.0,166.76 L543.0,166.72 L544.0,166.69 L545.0,166.66 L546.0,166.63 L547.0,166.60 L548.0,166.57 L549.0,166.55 L550.0,166.52 L551.0,166.50 L552.0,166.48 L553.0,166.46 L554.0,166.45 L555.0,166.43 L556.0,166.42 L557.0,166.41 L558.0,166.41 L559.0,166.40 L560.0,166.40 L561.0,166.40 L562.0,166.41 L563.0,166.41 L564.0,166.42 L565.0,166.43 L566.0,166.45 L567.0,166.46 L568.0,166.48 L569.0,166.50 L570.0,166.52 L571.0,166.55 L572.0,166.57 L573.0,166.60 L574.0,166.63 L575.0,166.66 L576.0,166.69 L577.0,166.72 L578.0,166.76 L579.0,166.79 L580.0,166.82 L581.0,166.86 L582.0,166.89 L583.0,166.93 L584.0,166.96 L585.0,167.00 L586.0,167.03 L587.0,167.07 L588.0,167.10 L589.0,167.14 L590.0,167.17 L591.0,167.20 L592.0,167.23 L593.0,167.26 L594.0,167.30 L595.0,167.33 L596.0,167.35 L597.0,167.38 L598.0,167.41 L599.0,167.44 L600.0,167.46 L601.0,167.49 L602.0,167.51 L603.0,167.53 L604.0,167.55 L605.0,167.57 L606.0,167.59 L607.0,167.61 L608.0,167.63 L609.0,167.64 L610.0,167.66 L611.0,167.68 L612.0,167.69 L613.0,167.70 L614.0,167.71 L615.0,167.73 L616.0,167.74 L617.0,167.75 L618.0,167.76 L619.0,167.77 L620.0,167.77 L621.0,167.78 L622.0,167.79 L623.0,167.80 L624.0,167.80 L625.0,167.81 L626.0,167.81 L627.0,167.82 L628.0,167.82 L629.0,167.83 L630.0,167.83" fill="none" stroke="#2020c8" stroke-width="1.5"/>
<path d="M553.3,166.87 L554.3,166.66 L555.3,166.38 L556.3,166.03 L557.3,165.58 L558.3,165.01 L559.3,164.32 L560.3,163.49 L561.3,162.50 L562.3,161.34 L563.3,160.03 L564.3,158.57 L565.3,156.98 L566.3,155.29 L567.3,153.56 L568.3,151.82 L569.3,150.16 L570.3,148.64 L571.3,147.34 L572.3,146.34 L573.3,145.72 L574.3,145.50 L575.3,145.67 L576.3,146.16 L577.3,146.95 L578.3,148.00 L579.3,149.24 L580.3,150.64 L581.3,152.13 L582.3,153.66 L583.3,155.19 L584.3,156.69 L585.3,158.11 L586.3,159.45 L587.3,160.67 L588.3,161.77 L589.3,162.74 L590.3,163.59 L591.3,164.32 L592.3,164.94 L593.3,165.45 L594.3,165.88 L595.3,166.22 L596.3,166.50 L597.3,166.73" fill="none" stroke="#d42828" stroke-width="1.5"/>
<path d="M442.6,209.01 L443.6,209.00 L444.6,209.00 L445.6,208.99 L446.6,208.98 L447.6,208.97 L448.6,208.96 L449.6,208.95 L450.6,208.93 L451.6,208.92 L452.6,208.90 L453.6,208.89 L454.6,208.87 L455.6,208.85 L456.6,208.84 L457.6,208.82 L458.6,208.79 L459.6,208.77 L460.6,208.75 L461.6,208.73 L462.6,208.70 L463.6,208.68 L464.6,208.65 L465.6,208.62 L466.6,208.60 L467.6,208.57 L468.6,208.54 L469.6,208.51 L470.6,208.48 L471.6,208.45 L472.6,208.42 L473.6,208.39 L474.6,208.37 L475.6,208.34 L476.6,208.31 L477.6,208.28 L478.6,208.26 L479.6,208.23 L480.6,208.21 L481.6,208.19 L482.6,208.17 L483.6,208.15 L484.6,208.14 L485.6,208.13 L486.6,208.12 L487.6,208.11 L488.6,208.10 L489.6,208.10 L490.6,208.10 L491.6,208.10 L492.6,208.11 L493.6,208.12 L494.6,208.13 L495.6,208.14 L496.6,208.16 L497.6,208.17 L498.6,208.19 L499.6,208.22 L500.6,208.24 L501.6,208.26 L502.6,208.29 L503.6,208.32 L504.6,208.34 L505.6,208.37 L506.6,208.40 L507.6,208.43 L508.6,208.46 L509.6,208.49 L510.6,208.52 L511.6,208.54 L512.6,208.57 L513.6,208.60 L514.6,208.63 L515.6,208.66 L516.6,208.68 L517.6,208.71 L518.6,208.73 L519.6,208.75 L520.6,208.78 L521.6,208.80 L522.6,208.82 L523.6,208.84 L524.6,208.86 L525.6,208.88 L526.6,208.89 L527.6,208.91 L528.6,208.92 L529.6,208.94 L530.6,208.95 L531.6,208.96 L532.6,208.97 L533.6,208.98 L534.6,208.99 L535.6,209.00 L536.6,209.01 L537.6,209.01 L538.6,209.02 L539.6,209.03 L540.6,209.03 L541.6,209.04 L542.6,209.04 L543.6,209.05 L544.6,209.05 L545.6,209.05 L546.6,209.06 L547.6,209.06 L548.6,209.06 L549.6,209.06 L550.6,209.07 L551.6,209.07 L552.6,209.07 L553.6,209.07 L554.6,209.07 L555.6,209.07 L555.6,209.10 L442.6,209.10 Z" fill="url(#gb)" stroke="none"/>
<path d="M542.9,208.68 L543.9,208.64 L544.9,208.59 L545.9,208.52 L546.9,208.44 L547.9,208.34 L548.9,208.21 L549.9,208.06 L550.9,207.88 L551.9,207.65 L552.9,207.39 L553.9,207.07 L554.9,206.69 L555.9,206.25 L556.9,205.75 L557.9,205.17 L558.9,204.52 L559.9,203.80 L560.9,203.01 L561.9,202.16 L562.9,201.25 L563.9,200.31 L564.9,199.33 L565.9,198.35 L566.9,197.38 L567.9,196.44 L568.9,195.57 L569.9,194.79 L570.9,194.14 L571.9,193.62 L572.9,193.27 L573.9,193.11 L574.9,193.14 L575.9,193.36 L576.9,193.76 L577.9,194.32 L578.9,195.02 L579.9,195.83 L580.9,196.72 L581.9,197.66 L582.9,198.64 L583.9,199.62 L584.9,200.59 L585.9,201.53 L586.9,202.42 L587.9,203.26 L588.9,204.02 L589.9,204.72 L590.9,205.35 L591.9,205.90 L592.9,206.39 L593.9,206.81 L594.9,207.17 L595.9,207.47 L596.9,207.73 L597.9,207.94 L598.9,208.11 L599.9,208.25 L600.9,208.37 L601.9,208.46 L602.9,208.54 L603.9,208.60 L604.9,208.65 L604.9,209.10 L542.9,209.10 Z" fill="url(#gr)" stroke="none"/>
<line x1="442.6" y1="209.1" x2="643.5" y2="209.1" stroke="#3f6f58" stroke-width="1.3"/>
<path d="M442.6,208.96 L443.6,208.95 L444.6,208.94 L445.6,208.93 L446.6,208.92 L447.6,208.90 L448.6,208.89 L449.6,208.87 L450.6,208.86 L451.6,208.84 L452.6,208.82 L453.6,208.80 L454.6,208.78 L455.6,208.76 L456.6,208.73 L457.6,208.71 L458.6,208.68 L459.6,208.65 L460.6,208.62 L461.6,208.59 L462.6,208.56 L463.6,208.53 L464.6,208.50 L465.6,208.46 L466.6,208.43 L467.6,208.39 L468.6,208.35 L469.6,208.32 L470.6,208.28 L471.6,208.24 L472.6,208.21 L473.6,208.17 L474.6,208.13 L475.6,208.10 L476.6,208.06 L477.6,208.03 L478.6,207.99 L479.6,207.96 L480.6,207.93 L481.6,207.91 L482.6,207.88 L483.6,207.86 L484.6,207.84 L485.6,207.82 L486.6,207.81 L487.6,207.79 L488.6,207.79 L489.6,207.78 L490.6,207.78 L491.6,207.78 L492.6,207.79 L493.6,207.80 L494.6,207.81 L495.6,207.82 L496.6,207.84 L497.6,207.86 L498.6,207.88 L499.6,207.91 L500.6,207.93 L501.6,207.96 L502.6,207.99 L503.6,208.02 L504.6,208.05 L505.6,208.09 L506.6,208.12 L507.6,208.15 L508.6,208.18 L509.6,208.22 L510.6,208.25 L511.6,208.28 L512.6,208.31 L513.6,208.35 L514.6,208.38 L515.6,208.40 L516.6,208.43 L517.6,208.46 L518.6,208.48 L519.6,208.51 L520.6,208.53 L521.6,208.55 L522.6,208.57 L523.6,208.59 L524.6,208.60 L525.6,208.62 L526.6,208.63 L527.6,208.64 L528.6,208.65 L529.6,208.66 L530.6,208.66 L531.6,208.67 L532.6,208.67 L533.6,208.67 L534.6,208.67 L535.6,208.66 L536.6,208.65 L537.6,208.64 L538.6,208.63 L539.6,208.61 L540.6,208.59 L541.6,208.56 L542.6,208.52 L543.6,208.48 L544.6,208.42 L545.6,208.35 L546.6,208.26 L547.6,208.14 L548.6,208.00 L549.6,207.83 L550.6,207.62 L551.6,207.36 L552.6,207.04 L553.6,206.67 L554.6,206.23 L555.6,205.71 L556.6,205.11 L557.6,204.42 L558.6,203.73 L559.6,203.04 L560.6,202.27 L561.6,201.44 L562.6,200.56 L563.6,199.62 L564.6,198.65 L565.6,197.67 L566.6,196.69 L567.6,195.75 L568.6,194.85 L569.6,194.04 L570.6,193.33 L571.6,192.77 L572.6,192.36 L573.6,192.13 L574.6,192.09 L575.6,192.25 L576.6,192.59 L577.6,193.09 L578.6,193.75 L579.6,194.52 L580.6,195.38 L581.6,196.32 L582.6,197.29 L583.6,198.27 L584.6,199.25 L585.6,200.20 L586.6,201.10 L587.6,201.96 L588.6,202.75 L589.6,203.48 L590.6,204.13 L591.6,204.86 L592.6,205.50 L593.6,206.05 L594.6,206.52 L595.6,206.93 L596.6,207.27 L597.6,207.55 L598.6,207.78 L599.6,207.97 L600.6,208.13 L601.6,208.26 L602.6,208.36 L603.6,208.44 L604.6,208.51 L605.6,208.57 L606.6,208.61 L607.6,208.65 L608.6,208.68 L609.6,208.71 L610.6,208.73 L611.6,208.75 L612.6,208.77 L613.6,208.79 L614.6,208.80 L615.6,208.82 L616.6,208.83 L617.6,208.84 L618.6,208.85 L619.6,208.86 L620.6,208.87 L621.6,208.88 L622.6,208.89 L623.6,208.90 L624.6,208.90 L625.6,208.91 L626.6,208.92 L627.6,208.92 L628.6,208.93 L629.6,208.94 L630.6,208.94 L631.6,208.95 L632.6,208.95 L633.6,208.96 L634.6,208.96 L635.6,208.96 L636.6,208.97 L637.6,208.97 L638.6,208.98 L639.6,208.98 L640.6,208.98 L641.6,208.99 L642.6,208.99" fill="none" stroke="#666" stroke-width="0.7"/>
<path d="M442.6,209.01 L443.6,209.00 L444.6,209.00 L445.6,208.99 L446.6,208.98 L447.6,208.97 L448.6,208.96 L449.6,208.95 L450.6,208.93 L451.6,208.92 L452.6,208.90 L453.6,208.89 L454.6,208.87 L455.6,208.85 L456.6,208.84 L457.6,208.82 L458.6,208.79 L459.6,208.77 L460.6,208.75 L461.6,208.73 L462.6,208.70 L463.6,208.68 L464.6,208.65 L465.6,208.62 L466.6,208.60 L467.6,208.57 L468.6,208.54 L469.6,208.51 L470.6,208.48 L471.6,208.45 L472.6,208.42 L473.6,208.39 L474.6,208.37 L475.6,208.34 L476.6,208.31 L477.6,208.28 L478.6,208.26 L479.6,208.23 L480.6,208.21 L481.6,208.19 L482.6,208.17 L483.6,208.15 L484.6,208.14 L485.6,208.13 L486.6,208.12 L487.6,208.11 L488.6,208.10 L489.6,208.10 L490.6,208.10 L491.6,208.10 L492.6,208.11 L493.6,208.12 L494.6,208.13 L495.6,208.14 L496.6,208.16 L497.6,208.17 L498.6,208.19 L499.6,208.22 L500.6,208.24 L501.6,208.26 L502.6,208.29 L503.6,208.32 L504.6,208.34 L505.6,208.37 L506.6,208.40 L507.6,208.43 L508.6,208.46 L509.6,208.49 L510.6,208.52 L511.6,208.54 L512.6,208.57 L513.6,208.60 L514.6,208.63 L515.6,208.66 L516.6,208.68 L517.6,208.71 L518.6,208.73 L519.6,208.75 L520.6,208.78 L521.6,208.80 L522.6,208.82 L523.6,208.84 L524.6,208.86 L525.6,208.88 L526.6,208.89 L527.6,208.91 L528.6,208.92 L529.6,208.94 L530.6,208.95 L531.6,208.96 L532.6,208.97 L533.6,208.98 L534.6,208.99 L535.6,209.00 L536.6,209.01 L537.6,209.01 L538.6,209.02 L539.6,209.03 L540.6,209.03 L541.6,209.04 L542.6,209.04 L543.6,209.05 L544.6,209.05 L545.6,209.05" fill="none" stroke="#2020c8" stroke-width="1.5"/>
<path d="M547.7,208.37 L548.7,208.25 L549.7,208.10 L550.7,207.93 L551.7,207.71 L552.7,207.46 L553.7,207.15 L554.7,206.79 L555.7,206.37 L556.7,205.88 L557.7,205.32 L558.7,204.69 L559.7,203.99 L560.7,203.21 L561.7,202.38 L562.7,201.48 L563.7,200.55 L564.7,199.58 L565.7,198.59 L566.7,197.62 L567.7,196.67 L568.7,195.78 L569.7,194.98 L570.7,194.29 L571.7,193.73 L572.7,193.34 L573.7,193.13 L574.7,193.12 L575.7,193.29 L576.7,193.64 L577.7,194.16 L578.7,194.83 L579.7,195.61 L580.7,196.49 L581.7,197.42 L582.7,198.40 L583.7,199.38 L584.7,200.35 L585.7,201.30 L586.7,202.20 L587.7,203.05 L588.7,203.84 L589.7,204.55 L590.7,205.20 L591.7,205.77 L592.7,206.27 L593.7,206.71 L594.7,207.08 L595.7,207.40 L596.7,207.67 L597.7,207.89 L598.7,208.07 L599.7,208.22 L600.7,208.34" fill="none" stroke="#d42828" stroke-width="1.5"/>
<path d="M507.2,251.13 L508.2,251.13 L509.2,251.12 L510.2,251.11 L511.2,251.10 L512.2,251.09 L513.2,251.07 L514.2,251.06 L515.2,251.03 L516.2,251.01 L517.2,250.98 L518.2,250.94 L519.2,250.90 L520.2,250.86 L521.2,250.80 L522.2,250.74 L523.2,250.67 L524.2,250.59 L525.2,250.51 L526.2,250.41 L527.2,250.30 L528.2,250.19 L529.2,250.07 L530.2,249.95 L531.2,249.81 L532.2,249.68 L533.2,249.54 L534.2,249.40 L535.2,249.27 L536.2,249.14 L537.2,249.01 L538.2,248.90 L539.2,248.80 L540.2,248.72 L541.2,248.66 L542.2,248.62 L543.2,248.60 L544.2,248.61 L545.2,248.63 L546.2,248.68 L547.2,248.75 L548.2,248.84 L549.2,248.95 L550.2,249.06 L551.2,249.19 L552.2,249.32 L553.2,249.46 L554.2,249.59 L555.2,249.73 L556.2,249.87 L557.2,250.00 L558.2,250.12 L559.2,250.24 L560.2,250.35 L561.2,250.45 L562.2,250.54 L563.2,250.62 L564.2,250.70 L565.2,250.77 L566.2,250.82 L567.2,250.88 L568.2,250.92 L569.2,250.96 L570.2,250.99 L571.2,251.02 L572.2,251.04 L573.2,251.06 L574.2,251.08 L575.2,251.09 L576.2,251.10 L577.2,251.11 L578.2,251.12 L579.2,251.13 L579.2,251.20 L507.2,251.20 Z" fill="url(#gb)" stroke="none"/>
<path d="M545.3,250.81 L546.3,250.77 L547.3,250.72 L548.3,250.65 L549.3,250.57 L550.3,250.47 L551.3,250.34 L552.3,250.18 L553.3,249.98 L554.3,249.74 L555.3,249.46 L556.3,249.11 L557.3,248.71 L558.3,248.23 L559.3,247.69 L560.3,247.07 L561.3,246.38 L562.3,245.61 L563.3,244.78 L564.3,243.89 L565.3,242.97 L566.3,242.01 L567.3,241.05 L568.3,240.11 L569.3,239.22 L570.3,238.40 L571.3,237.68 L572.3,237.10 L573.3,236.68 L574.3,236.45 L575.3,236.41 L576.3,236.57 L577.3,236.91 L578.3,237.43 L579.3,238.10 L580.3,238.88 L581.3,239.75 L582.3,240.67 L583.3,241.63 L584.3,242.59 L585.3,243.53 L586.3,244.43 L587.3,245.29 L588.3,246.08 L589.3,246.80 L590.3,247.45 L591.3,248.02 L592.3,248.53 L593.3,248.96 L594.3,249.33 L595.3,249.64 L596.3,249.89 L597.3,250.10 L598.3,250.28 L599.3,250.42 L600.3,250.53 L601.3,250.62 L602.3,250.69 L603.3,250.75 L604.3,250.80 L604.3,251.20 L545.3,251.20 Z" fill="url(#gr)" stroke="none"/>
<line x1="442.6" y1="251.2" x2="643.5" y2="251.2" stroke="#3f6f58" stroke-width="1.3"/>
<path d="M442.6,251.17 L443.6,251.17 L444.6,251.16 L445.6,251.16 L446.6,251.16 L447.6,251.16 L448.6,251.16 L449.6,251.16 L450.6,251.16 L451.6,251.16 L452.6,251.16 L453.6,251.16 L454.6,251.16 L455.6,251.16 L456.6,251.16 L457.6,251.16 L458.6,251.15 L459.6,251.15 L460.6,251.15 L461.6,251.15 L462.6,251.15 L463.6,251.15 L464.6,251.15 L465.6,251.15 L466.6,251.15 L467.6,251.15 L468.6,251.14 L469.6,251.14 L470.6,251.14 L471.6,251.14 L472.6,251.14 L473.6,251.14 L474.6,251.14 L475.6,251.14 L476.6,251.13 L477.6,251.13 L478.6,251.13 L479.6,251.13 L480.6,251.13 L481.6,251.13 L482.6,251.12 L483.6,251.12 L484.6,251.12 L485.6,251.12 L486.6,251.12 L487.6,251.11 L488.6,251.11 L489.6,251.11 L490.6,251.11 L491.6,251.10 L492.6,251.10 L493.6,251.10 L494.6,251.09 L495.6,251.09 L496.6,251.09 L497.6,251.08 L498.6,251.08 L499.6,251.08 L500.6,251.07 L501.6,251.07 L502.6,251.06 L503.6,251.05 L504.6,251.05 L505.6,251.04 L506.6,251.03 L507.6,251.02 L508.6,251.01 L509.6,251.00 L510.6,250.99 L511.6,250.97 L512.6,250.95 L513.6,250.93 L514.6,250.90 L515.6,250.87 L516.6,250.83 L517.6,250.79 L518.6,250.73 L519.6,250.68 L520.6,250.61 L521.6,250.53 L522.6,250.45 L523.6,250.35 L524.6,250.24 L525.6,250.12 L526.6,249.99 L527.6,249.85 L528.6,249.70 L529.6,249.54 L530.6,249.37 L531.6,249.19 L532.6,249.01 L533.6,248.83 L534.6,248.65 L535.6,248.47 L536.6,248.29 L537.6,248.13 L538.6,247.98 L539.6,247.85 L540.6,247.74 L541.6,247.65 L542.6,247.58 L543.6,247.54 L544.6,247.52 L545.6,247.52 L546.6,247.53 L547.6,247.56 L548.6,247.59 L549.6,247.61 L550.6,247.63 L551.6,247.62 L552.6,247.57 L553.6,247.49 L554.6,247.34 L555.6,247.13 L556.6,246.85 L557.6,246.47 L558.6,246.05 L559.6,245.59 L560.6,245.06 L561.6,244.44 L562.6,243.74 L563.6,242.98 L564.6,242.15 L565.6,241.27 L566.6,240.37 L567.6,239.46 L568.6,238.57 L569.6,237.73 L570.6,236.97 L571.6,236.32 L572.6,235.81 L573.6,235.46 L574.6,235.30 L575.6,235.33 L576.6,235.56 L577.6,235.97 L578.6,236.54 L579.6,237.25 L580.6,238.07 L581.6,238.96 L582.6,239.90 L583.6,240.86 L584.6,241.82 L585.6,242.76 L586.6,243.65 L587.6,244.49 L588.6,245.26 L589.6,245.96 L590.6,246.69 L591.6,247.38 L592.6,247.99 L593.6,248.50 L594.6,248.94 L595.6,249.31 L596.6,249.61 L597.6,249.87 L598.6,250.07 L599.6,250.23 L600.6,250.37 L601.6,250.47 L602.6,250.56 L603.6,250.63 L604.6,250.69 L605.6,250.73 L606.6,250.77 L607.6,250.80 L608.6,250.83 L609.6,250.85 L610.6,250.87 L611.6,250.89 L612.6,250.90 L613.6,250.92 L614.6,250.93 L615.6,250.94 L616.6,250.95 L617.6,250.96 L618.6,250.97 L619.6,250.98 L620.6,250.99 L621.6,251.00 L622.6,251.01 L623.6,251.02 L624.6,251.02 L625.6,251.03 L626.6,251.03 L627.6,251.04 L628.6,251.05 L629.6,251.05 L630.6,251.06 L631.6,251.06 L632.6,251.07 L633.6,251.07 L634.6,251.07 L635.6,251.08 L636.6,251.08 L637.6,251.08 L638.6,251.09 L639.6,251.09 L640.6,251.09 L641.6,251.10 L642.6,251.10" fill="none" stroke="#666" stroke-width="0.7"/>
<path d="M512.7,251.08 L513.7,251.06 L514.7,251.04 L515.7,251.02 L516.7,250.99 L517.7,250.96 L518.7,250.92 L519.7,250.88 L520.7,250.83 L521.7,250.77 L522.7,250.71 L523.7,250.63 L524.7,250.55 L525.7,250.46 L526.7,250.36 L527.7,250.25 L528.7,250.13 L529.7,250.01 L530.7,249.88 L531.7,249.75 L532.7,249.61 L533.7,249.47 L534.7,249.33 L535.7,249.20 L536.7,249.07 L537.7,248.96 L538.7,248.85 L539.7,248.76 L540.7,248.69 L541.7,248.64 L542.7,248.61 L543.7,248.60 L544.7,248.62 L545.7,248.66 L546.7,248.72 L547.7,248.80 L548.7,248.89 L549.7,249.00 L550.7,249.12 L551.7,249.25 L552.7,249.39 L553.7,249.53 L554.7,249.66 L555.7,249.80 L556.7,249.93 L557.7,250.06 L558.7,250.18 L559.7,250.29 L560.7,250.40 L561.7,250.50 L562.7,250.58 L563.7,250.66 L564.7,250.73 L565.7,250.80 L566.7,250.85 L567.7,250.90 L568.7,250.94 L569.7,250.98 L570.7,251.01 L571.7,251.03 L572.7,251.05 L573.7,251.07" fill="none" stroke="#2020c8" stroke-width="1.5"/>
<path d="M549.8,250.52 L550.8,250.41 L551.8,250.26 L552.8,250.09 L553.8,249.87 L554.8,249.61 L555.8,249.29 L556.8,248.92 L557.8,248.48 L558.8,247.97 L559.8,247.39 L560.8,246.73 L561.8,246.00 L562.8,245.20 L563.8,244.34 L564.8,243.43 L565.8,242.49 L566.8,241.53 L567.8,240.58 L568.8,239.66 L569.8,238.79 L570.8,238.02 L571.8,237.37 L572.8,236.87 L573.8,236.54 L574.8,236.40 L575.8,236.46 L576.8,236.72 L577.8,237.15 L578.8,237.75 L579.8,238.47 L580.8,239.30 L581.8,240.20 L582.8,241.15 L583.8,242.11 L584.8,243.06 L585.8,243.98 L586.8,244.87 L587.8,245.69 L588.8,246.45 L589.8,247.13 L590.8,247.75 L591.8,248.28 L592.8,248.75 L593.8,249.15 L594.8,249.49 L595.8,249.77 L596.8,250.00 L597.8,250.20 L598.8,250.35 L599.8,250.48" fill="none" stroke="#d42828" stroke-width="1.5"/>
<line x1="539.5" y1="33" x2="539.5" y2="55" stroke="#555" stroke-width="0.6" stroke-dasharray="1,1.5"/>
<line x1="564.7" y1="16" x2="564.7" y2="55" stroke="#555" stroke-width="0.6" stroke-dasharray="1,1.5"/>
<line x1="575.1" y1="3" x2="575.1" y2="58" stroke="#555" stroke-width="0.6" stroke-dasharray="1,1.5"/>
</g>
<rect x="442.6" y="1" width="200.89999999999998" height="255.2" fill="none" stroke="#222" stroke-width="1.4"/>
<line x1="442.6" y1="256.2" x2="442.6" y2="257.7" stroke="#222" stroke-width="1"/>
<line x1="479.4" y1="256.2" x2="479.4" y2="257.7" stroke="#222" stroke-width="1"/>
<line x1="516.1" y1="256.2" x2="516.1" y2="257.7" stroke="#222" stroke-width="1"/>
<line x1="552.9" y1="256.2" x2="552.9" y2="257.7" stroke="#222" stroke-width="1"/>
<line x1="589.6" y1="256.2" x2="589.6" y2="257.7" stroke="#222" stroke-width="1"/>
<line x1="626.4" y1="256.2" x2="626.4" y2="257.7" stroke="#222" stroke-width="1"/>
<text x="442.6" y="266.6" font-size="9.3" text-anchor="middle" font-weight="bold">292</text>
<text x="479.4" y="266.6" font-size="9.3" text-anchor="middle" font-weight="bold">290</text>
<text x="516.1" y="266.6" font-size="9.3" text-anchor="middle" font-weight="bold">288</text>
<text x="552.9" y="266.6" font-size="9.3" text-anchor="middle" font-weight="bold">286</text>
<text x="589.6" y="266.6" font-size="9.3" text-anchor="middle" font-weight="bold">284</text>
<text x="626.4" y="266.6" font-size="9.3" text-anchor="middle" font-weight="bold">282</text>
<text x="499.4" y="279.9" font-size="12.6" text-anchor="start" font-weight="bold" textLength="98.6" lengthAdjust="spacingAndGlyphs">Binding Energy / eV</text>
<text x="446.4" y="16.0" font-size="12.9" text-anchor="start" font-weight="bold">C 1s</text>
<text x="454.4" y="29.9" font-size="9.1" text-anchor="start" font-weight="bold">Pristine</text>
<text x="454.2" y="55.2" font-size="9.0" text-anchor="start" font-weight="bold">BL+1.5%DTD</text>
<text x="453.3" y="97.5" font-size="9.0" text-anchor="start" font-weight="bold">BL+1%DTD+0.5%PES</text>
<text x="452.9" y="140.8" font-size="9.0" text-anchor="start" font-weight="bold">BL+0.5%TMSB</text>
<text x="453.5" y="183.4" font-size="9.0" text-anchor="start" font-weight="bold">BL+0.5%TTSP</text>
<text x="453.5" y="226.8" font-size="9.0" text-anchor="start" font-weight="bold">BL+0.5%MMDS</text>
<text x="578.3" y="9.4" font-size="7.6" font-weight="bold" textLength="26.4" lengthAdjust="spacingAndGlyphs">Graphite</text>
<text x="542.2" y="15" font-size="7.6" font-weight="bold" textLength="33.4" lengthAdjust="spacingAndGlyphs">Am. crabon</text>
<text x="525.8" y="31.2" font-size="7.6" font-weight="bold" textLength="32.4" lengthAdjust="spacingAndGlyphs">CMC-COC</text>
<clipPath id="cS"><rect x="1.8" y="301.5" width="206.0" height="270.9"/></clipPath>
<g clip-path="url(#cS)">
<path d="M48.6,346.99 L49.6,346.99 L50.6,346.99 L51.6,346.99 L52.6,346.98 L53.6,346.98 L54.6,346.98 L55.6,346.97 L56.6,346.97 L57.6,346.96 L58.6,346.95 L59.6,346.95 L60.6,346.94 L61.6,346.93 L62.6,346.92 L63.6,346.90 L64.6,346.89 L65.6,346.88 L66.6,346.86 L67.6,346.84 L68.6,346.82 L69.6,346.79 L70.6,346.77 L71.6,346.74 L72.6,346.71 L73.6,346.68 L74.6,346.64 L75.6,346.60 L76.6,346.56 L77.6,346.52 L78.6,346.47 L79.6,346.42 L80.6,346.37 L81.6,346.32 L82.6,346.26 L83.6,346.20 L84.6,346.14 L85.6,346.08 L86.6,346.01 L87.6,345.95 L88.6,345.88 L89.6,345.81 L90.6,345.75 L91.6,345.68 L92.6,345.61 L93.6,345.55 L94.6,345.48 L95.6,345.42 L96.6,345.36 L97.6,345.31 L98.6,345.25 L99.6,345.21 L100.6,345.16 L101.6,345.12 L102.6,345.09 L103.6,345.06 L104.6,345.04 L105.6,345.02 L106.6,345.01 L107.6,345.00 L108.6,345.00 L109.6,345.01 L110.6,345.02 L111.6,345.04 L112.6,345.06 L113.6,345.09 L114.6,345.13 L115.6,345.17 L116.6,345.22 L117.6,345.27 L118.6,345.32 L119.6,345.38 L120.6,345.43 L121.6,345.50 L122.6,345.56 L123.6,345.63 L124.6,345.69 L125.6,345.76 L126.6,345.83 L127.6,345.89 L128.6,345.96 L129.6,346.03 L130.6,346.09 L131.6,346.15 L132.6,346.21 L133.6,346.27 L134.6,346.33 L135.6,346.38 L136.6,346.43 L137.6,346.48 L138.6,346.53 L139.6,346.57 L140.6,346.61 L141.6,346.65 L142.6,346.68 L143.6,346.72 L144.6,346.75 L145.6,346.77 L146.6,346.80 L147.6,346.82 L148.6,346.84 L149.6,346.86 L150.6,346.88 L151.6,346.89 L152.6,346.91 L153.6,346.92 L154.6,346.93 L155.6,346.94 L156.6,346.95 L157.6,346.96 L158.6,346.96 L159.6,346.97 L160.6,346.97 L161.6,346.98 L162.6,346.98 L163.6,346.98 L164.6,346.99 L165.6,346.99 L166.6,346.99 L166.6,347.00 L48.6,347.00 Z" fill="url(#gr)" stroke="none"/>
<line x1="1.8" y1="347" x2="207.8" y2="347" stroke="#4f7a2c" stroke-width="1.3"/>
<path d="M1.8,346.37 L3.8,347.11 L5.8,346.69 L7.8,347.25 L9.8,347.30 L11.8,345.96 L13.8,345.83 L15.8,347.81 L17.8,346.42 L19.8,346.36 L21.8,348.19 L23.8,346.93 L25.8,347.81 L27.8,346.94 L29.8,347.33 L31.8,346.16 L33.8,347.32 L35.8,347.88 L37.8,347.05 L39.8,347.58 L41.8,347.41 L43.8,345.95 L45.8,347.61 L47.8,347.21 L49.8,346.51 L51.8,345.86 L53.8,347.86 L55.8,346.90 L57.8,347.48 L59.8,347.85 L61.8,347.44 L63.8,347.91 L65.8,346.62 L67.8,347.56 L69.8,346.66 L71.8,347.78 L73.8,347.58 L75.8,345.63 L77.8,345.64 L79.8,345.73 L81.8,347.42 L83.8,346.04 L85.8,346.37 L87.8,345.46 L89.8,345.82 L91.8,345.39 L93.8,345.18 L95.8,345.61 L97.8,345.50 L99.8,346.17 L101.8,345.55 L103.8,346.08 L105.8,345.87 L107.8,346.18 L109.8,345.42 L111.8,344.24 L113.8,345.97 L115.8,346.29 L117.8,346.25 L119.8,345.55 L121.8,346.02 L123.8,344.95 L125.8,346.57 L127.8,346.08 L129.8,345.52 L131.8,345.12 L133.8,347.13 L135.8,347.57 L137.8,345.50 L139.8,347.30 L141.8,346.44 L143.8,345.89 L145.8,346.28 L147.8,347.47 L149.8,347.76 L151.8,345.80 L153.8,347.20 L155.8,345.85 L157.8,347.48 L159.8,346.56 L161.8,347.89 L163.8,348.14 L165.8,347.00 L167.8,348.19 L169.8,346.54 L171.8,345.98 L173.8,347.24 L175.8,345.87 L177.8,346.27 L179.8,346.78 L181.8,347.26 L183.8,346.17 L185.8,345.90 L187.8,347.88 L189.8,346.55 L191.8,348.10 L193.8,347.95 L195.8,346.71 L197.8,346.90 L199.8,347.05 L201.8,347.35 L203.8,347.23 L205.8,347.14 L207.8,347.29" fill="none" stroke="#6a6a6a" stroke-width="0.9"/>
<path d="M63.0,346.91 L64.0,346.90 L65.0,346.88 L66.0,346.87 L67.0,346.85 L68.0,346.83 L69.0,346.81 L70.0,346.78 L71.0,346.76 L72.0,346.73 L73.0,346.70 L74.0,346.66 L75.0,346.63 L76.0,346.59 L77.0,346.55 L78.0,346.50 L79.0,346.45 L80.0,346.40 L81.0,346.35 L82.0,346.30 L83.0,346.24 L84.0,346.18 L85.0,346.12 L86.0,346.05 L87.0,345.99 L88.0,345.92 L89.0,345.85 L90.0,345.79 L91.0,345.72 L92.0,345.65 L93.0,345.59 L94.0,345.52 L95.0,345.46 L96.0,345.40 L97.0,345.34 L98.0,345.29 L99.0,345.24 L100.0,345.19 L101.0,345.15 L102.0,345.11 L103.0,345.08 L104.0,345.05 L105.0,345.03 L106.0,345.01 L107.0,345.00 L108.0,345.00 L109.0,345.00 L110.0,345.01 L111.0,345.03 L112.0,345.05 L113.0,345.08 L114.0,345.11 L115.0,345.15 L116.0,345.19 L117.0,345.24 L118.0,345.29 L119.0,345.34 L120.0,345.40 L121.0,345.46 L122.0,345.52 L123.0,345.59 L124.0,345.65 L125.0,345.72 L126.0,345.79 L127.0,345.85 L128.0,345.92 L129.0,345.99 L130.0,346.05 L131.0,346.12 L132.0,346.18 L133.0,346.24 L134.0,346.30 L135.0,346.35 L136.0,346.40 L137.0,346.45 L138.0,346.50 L139.0,346.55 L140.0,346.59 L141.0,346.63 L142.0,346.66 L143.0,346.70 L144.0,346.73 L145.0,346.76 L146.0,346.78 L147.0,346.81 L148.0,346.83 L149.0,346.85 L150.0,346.87 L151.0,346.88 L152.0,346.90 L153.0,346.91" fill="none" stroke="#d42828" stroke-width="1.8"/>
<path d="M51.8,380.50 L52.8,380.49 L53.8,380.46 L54.8,380.44 L55.8,380.41 L56.8,380.38 L57.8,380.34 L58.8,380.30 L59.8,380.25 L60.8,380.19 L61.8,380.13 L62.8,380.06 L63.8,379.98 L64.8,379.88 L65.8,379.78 L66.8,379.67 L67.8,379.54 L68.8,379.39 L69.8,379.23 L70.8,379.05 L71.8,378.86 L72.8,378.64 L73.8,378.41 L74.8,378.15 L75.8,377.87 L76.8,377.57 L77.8,377.24 L78.8,376.89 L79.8,376.51 L80.8,376.10 L81.8,375.67 L82.8,375.21 L83.8,374.73 L84.8,374.21 L85.8,373.67 L86.8,373.11 L87.8,372.52 L88.8,371.91 L89.8,371.28 L90.8,370.63 L91.8,369.96 L92.8,369.28 L93.8,368.59 L94.8,367.89 L95.8,367.19 L96.8,366.48 L97.8,365.78 L98.8,365.09 L99.8,364.41 L100.8,363.74 L101.8,363.09 L102.8,362.47 L103.8,361.88 L104.8,361.32 L105.8,360.80 L106.8,360.32 L107.8,359.88 L108.8,359.49 L109.8,359.15 L110.8,358.87 L111.8,358.64 L112.8,358.47 L113.8,358.36 L114.8,358.30 L115.8,358.31 L116.8,358.38 L117.8,358.51 L118.8,358.70 L119.8,358.94 L120.8,359.24 L121.8,359.59 L122.8,360.00 L123.8,360.45 L124.8,360.94 L125.8,361.47 L126.8,362.04 L127.8,362.64 L128.8,363.27 L129.8,363.93 L130.8,364.60 L131.8,365.28 L132.8,365.98 L133.8,366.68 L134.8,367.38 L135.8,368.09 L136.8,368.78 L137.8,369.47 L138.8,370.15 L139.8,370.81 L140.8,371.46 L141.8,372.08 L142.8,372.69 L143.8,373.27 L144.8,373.83 L145.8,374.36 L146.8,374.86 L147.8,375.34 L148.8,375.79 L149.8,376.22 L150.8,376.62 L151.8,376.99 L152.8,377.34 L153.8,377.66 L154.8,377.95 L155.8,378.23 L156.8,378.48 L157.8,378.71 L158.8,378.92 L159.8,379.11 L160.8,379.28 L161.8,379.43 L162.8,379.57 L163.8,379.70 L164.8,379.81 L165.8,379.91 L166.8,380.00 L167.8,380.08 L168.8,380.15 L169.8,380.21 L170.8,380.27 L171.8,380.31 L172.8,380.35 L173.8,380.39 L174.8,380.42 L175.8,380.45 L176.8,380.47 L177.8,380.49 L177.8,380.60 L51.8,380.60 Z" fill="url(#gr)" stroke="none"/>
<line x1="1.8" y1="380.6" x2="207.8" y2="380.6" stroke="#4f7a2c" stroke-width="1.3"/>
<path d="M1.8,381.66 L3.8,380.62 L5.8,380.43 L7.8,381.13 L9.8,379.97 L11.8,380.12 L13.8,381.75 L15.8,380.65 L17.8,380.72 L19.8,379.43 L21.8,380.40 L23.8,380.79 L25.8,379.45 L27.8,380.88 L29.8,380.92 L31.8,379.54 L33.8,380.90 L35.8,380.51 L37.8,381.02 L39.8,380.24 L41.8,381.08 L43.8,381.15 L45.8,379.42 L47.8,379.50 L49.8,380.96 L51.8,381.62 L53.8,379.87 L55.8,380.31 L57.8,380.57 L59.8,379.82 L61.8,379.81 L63.8,379.53 L65.8,379.47 L67.8,379.77 L69.8,378.76 L71.8,378.57 L73.8,379.07 L75.8,376.75 L77.8,377.42 L79.8,377.09 L81.8,375.23 L83.8,374.08 L85.8,374.42 L87.8,371.92 L89.8,370.55 L91.8,369.83 L93.8,369.09 L95.8,366.26 L97.8,365.38 L99.8,364.03 L101.8,363.92 L103.8,361.76 L105.8,361.67 L107.8,359.10 L109.8,358.77 L111.8,359.01 L113.8,359.28 L115.8,358.19 L117.8,357.84 L119.8,358.02 L121.8,359.65 L123.8,359.69 L125.8,362.19 L127.8,363.43 L129.8,363.14 L131.8,364.72 L133.8,367.39 L135.8,368.40 L137.8,370.18 L139.8,370.41 L141.8,371.17 L143.8,372.75 L145.8,375.04 L147.8,374.78 L149.8,375.83 L151.8,376.78 L153.8,377.45 L155.8,378.00 L157.8,379.71 L159.8,378.27 L161.8,378.24 L163.8,380.76 L165.8,380.82 L167.8,381.25 L169.8,380.05 L171.8,381.39 L173.8,381.41 L175.8,379.78 L177.8,381.08 L179.8,381.33 L181.8,380.94 L183.8,380.61 L185.8,380.07 L187.8,380.20 L189.8,379.93 L191.8,379.56 L193.8,380.81 L195.8,380.09 L197.8,381.34 L199.8,379.51 L201.8,381.57 L203.8,381.06 L205.8,381.62 L207.8,381.55" fill="none" stroke="#6a6a6a" stroke-width="0.9"/>
<path d="M69.1,379.35 L70.1,379.18 L71.1,379.00 L72.1,378.80 L73.1,378.58 L74.1,378.34 L75.1,378.08 L76.1,377.79 L77.1,377.48 L78.1,377.15 L79.1,376.78 L80.1,376.40 L81.1,375.99 L82.1,375.55 L83.1,375.08 L84.1,374.58 L85.1,374.06 L86.1,373.52 L87.1,372.95 L88.1,372.35 L89.1,371.74 L90.1,371.10 L91.1,370.44 L92.1,369.77 L93.1,369.09 L94.1,368.39 L95.1,367.69 L96.1,366.99 L97.1,366.29 L98.1,365.59 L99.1,364.90 L100.1,364.22 L101.1,363.56 L102.1,362.92 L103.1,362.30 L104.1,361.72 L105.1,361.17 L106.1,360.66 L107.1,360.19 L108.1,359.77 L109.1,359.39 L110.1,359.07 L111.1,358.80 L112.1,358.59 L113.1,358.43 L114.1,358.34 L115.1,358.30 L116.1,358.33 L117.1,358.41 L118.1,358.56 L119.1,358.76 L120.1,359.02 L121.1,359.34 L122.1,359.70 L123.1,360.12 L124.1,360.58 L125.1,361.09 L126.1,361.63 L127.1,362.21 L128.1,362.82 L129.1,363.45 L130.1,364.11 L131.1,364.79 L132.1,365.48 L133.1,366.17 L134.1,366.88 L135.1,367.58 L136.1,368.28 L137.1,368.98 L138.1,369.66 L139.1,370.34 L140.1,370.99 L141.1,371.63 L142.1,372.25 L143.1,372.85 L144.1,373.43 L145.1,373.98 L146.1,374.50 L147.1,375.00 L148.1,375.47 L149.1,375.92 L150.1,376.33 L151.1,376.72 L152.1,377.09 L153.1,377.43 L154.1,377.74 L155.1,378.03 L156.1,378.30 L157.1,378.54 L158.1,378.77 L159.1,378.97 L160.1,379.16 L161.1,379.32" fill="none" stroke="#d42828" stroke-width="1.8"/>
<path d="M53.0,428.92 L54.0,428.91 L55.0,428.89 L56.0,428.87 L57.0,428.84 L58.0,428.82 L59.0,428.79 L60.0,428.75 L61.0,428.71 L62.0,428.66 L63.0,428.61 L64.0,428.55 L65.0,428.48 L66.0,428.41 L67.0,428.32 L68.0,428.22 L69.0,428.12 L70.0,428.00 L71.0,427.86 L72.0,427.72 L73.0,427.56 L74.0,427.38 L75.0,427.18 L76.0,426.97 L77.0,426.74 L78.0,426.49 L79.0,426.21 L80.0,425.92 L81.0,425.61 L82.0,425.27 L83.0,424.91 L84.0,424.53 L85.0,424.13 L86.0,423.70 L87.0,423.25 L88.0,422.79 L89.0,422.30 L90.0,421.79 L91.0,421.27 L92.0,420.73 L93.0,420.17 L94.0,419.61 L95.0,419.04 L96.0,418.46 L97.0,417.87 L98.0,417.29 L99.0,416.71 L100.0,416.13 L101.0,415.57 L102.0,415.01 L103.0,414.48 L104.0,413.96 L105.0,413.47 L106.0,413.01 L107.0,412.57 L108.0,412.17 L109.0,411.81 L110.0,411.49 L111.0,411.21 L112.0,410.97 L113.0,410.78 L114.0,410.64 L115.0,410.55 L116.0,410.50 L117.0,410.51 L118.0,410.57 L119.0,410.67 L120.0,410.83 L121.0,411.03 L122.0,411.28 L123.0,411.57 L124.0,411.91 L125.0,412.28 L126.0,412.69 L127.0,413.13 L128.0,413.61 L129.0,414.10 L130.0,414.63 L131.0,415.17 L132.0,415.72 L133.0,416.29 L134.0,416.87 L135.0,417.45 L136.0,418.04 L137.0,418.62 L138.0,419.20 L139.0,419.77 L140.0,420.33 L141.0,420.88 L142.0,421.42 L143.0,421.93 L144.0,422.44 L145.0,422.92 L146.0,423.38 L147.0,423.82 L148.0,424.24 L149.0,424.64 L150.0,425.01 L151.0,425.37 L152.0,425.70 L153.0,426.01 L154.0,426.29 L155.0,426.56 L156.0,426.80 L157.0,427.03 L158.0,427.24 L159.0,427.43 L160.0,427.60 L161.0,427.76 L162.0,427.90 L163.0,428.03 L164.0,428.15 L165.0,428.25 L166.0,428.35 L167.0,428.43 L168.0,428.50 L169.0,428.57 L170.0,428.63 L171.0,428.68 L172.0,428.72 L173.0,428.76 L174.0,428.80 L175.0,428.83 L176.0,428.85 L177.0,428.87 L178.0,428.89 L179.0,428.91 L179.0,429.00 L53.0,429.00 Z" fill="url(#gr)" stroke="none"/>
<line x1="1.8" y1="429" x2="207.8" y2="429" stroke="#4f7a2c" stroke-width="1.3"/>
<path d="M1.8,429.96 L3.8,429.18 L5.8,427.83 L7.8,429.59 L9.8,428.21 L11.8,428.52 L13.8,429.39 L15.8,429.06 L17.8,428.79 L19.8,430.05 L21.8,429.27 L23.8,428.62 L25.8,428.41 L27.8,429.87 L29.8,428.94 L31.8,429.68 L33.8,428.64 L35.8,428.27 L37.8,429.08 L39.8,429.75 L41.8,428.20 L43.8,429.69 L45.8,429.99 L47.8,429.70 L49.8,429.73 L51.8,427.75 L53.8,429.22 L55.8,429.74 L57.8,427.74 L59.8,428.21 L61.8,428.12 L63.8,428.63 L65.8,428.24 L67.8,428.18 L69.8,428.69 L71.8,426.56 L73.8,426.35 L75.8,426.13 L77.8,425.65 L79.8,424.96 L81.8,426.49 L83.8,425.47 L85.8,422.81 L87.8,422.90 L89.8,421.47 L91.8,420.41 L93.8,419.39 L95.8,418.95 L97.8,417.64 L99.8,415.94 L101.8,414.40 L103.8,413.67 L105.8,412.21 L107.8,412.40 L109.8,412.08 L111.8,410.74 L113.8,409.66 L115.8,409.74 L117.8,410.24 L119.8,411.04 L121.8,411.90 L123.8,411.54 L125.8,413.31 L127.8,413.78 L129.8,414.33 L131.8,415.28 L133.8,416.72 L135.8,418.38 L137.8,418.87 L139.8,420.66 L141.8,421.19 L143.8,421.71 L145.8,423.36 L147.8,424.61 L149.8,423.90 L151.8,425.44 L153.8,426.05 L155.8,427.66 L157.8,428.24 L159.8,427.26 L161.8,428.82 L163.8,428.82 L165.8,427.75 L167.8,428.40 L169.8,427.71 L171.8,429.46 L173.8,429.18 L175.8,429.78 L177.8,429.59 L179.8,429.32 L181.8,429.51 L183.8,429.11 L185.8,428.02 L187.8,429.19 L189.8,427.80 L191.8,428.14 L193.8,429.65 L195.8,427.90 L197.8,428.02 L199.8,428.04 L201.8,429.91 L203.8,428.23 L205.8,427.86 L207.8,429.82" fill="none" stroke="#6a6a6a" stroke-width="0.9"/>
<path d="M70.3,427.96 L71.3,427.82 L72.3,427.67 L73.3,427.51 L74.3,427.32 L75.3,427.12 L76.3,426.91 L77.3,426.67 L78.3,426.41 L79.3,426.13 L80.3,425.84 L81.3,425.51 L82.3,425.17 L83.3,424.81 L84.3,424.42 L85.3,424.01 L86.3,423.58 L87.3,423.12 L88.3,422.65 L89.3,422.16 L90.3,421.65 L91.3,421.12 L92.3,420.57 L93.3,420.02 L94.3,419.45 L95.3,418.87 L96.3,418.29 L97.3,417.71 L98.3,417.13 L99.3,416.55 L100.3,415.97 L101.3,415.41 L102.3,414.86 L103.3,414.33 L104.3,413.82 L105.3,413.34 L106.3,412.88 L107.3,412.46 L108.3,412.07 L109.3,411.72 L110.3,411.40 L111.3,411.14 L112.3,410.91 L113.3,410.74 L114.3,410.61 L115.3,410.53 L116.3,410.50 L117.3,410.52 L118.3,410.59 L119.3,410.71 L120.3,410.88 L121.3,411.10 L122.3,411.36 L123.3,411.66 L124.3,412.01 L125.3,412.39 L126.3,412.81 L127.3,413.26 L128.3,413.74 L129.3,414.25 L130.3,414.78 L131.3,415.32 L132.3,415.88 L133.3,416.45 L134.3,417.03 L135.3,417.62 L136.3,418.20 L137.3,418.78 L138.3,419.36 L139.3,419.93 L140.3,420.49 L141.3,421.03 L142.3,421.56 L143.3,422.08 L144.3,422.57 L145.3,423.05 L146.3,423.51 L147.3,423.94 L148.3,424.35 L149.3,424.75 L150.3,425.11 L151.3,425.46 L152.3,425.79 L153.3,426.09 L154.3,426.37 L155.3,426.63 L156.3,426.87 L157.3,427.09 L158.3,427.29 L159.3,427.48 L160.3,427.65 L161.3,427.80 L162.3,427.94" fill="none" stroke="#d42828" stroke-width="1.8"/>
<path d="M33.5,475.39 L34.5,475.38 L35.5,475.38 L36.5,475.38 L37.5,475.38 L38.5,475.37 L39.5,475.37 L40.5,475.37 L41.5,475.36 L42.5,475.36 L43.5,475.35 L44.5,475.34 L45.5,475.34 L46.5,475.33 L47.5,475.32 L48.5,475.31 L49.5,475.30 L50.5,475.29 L51.5,475.28 L52.5,475.27 L53.5,475.26 L54.5,475.24 L55.5,475.22 L56.5,475.21 L57.5,475.19 L58.5,475.17 L59.5,475.14 L60.5,475.12 L61.5,475.09 L62.5,475.07 L63.5,475.04 L64.5,475.00 L65.5,474.97 L66.5,474.94 L67.5,474.90 L68.5,474.86 L69.5,474.81 L70.5,474.77 L71.5,474.72 L72.5,474.67 L73.5,474.62 L74.5,474.57 L75.5,474.51 L76.5,474.45 L77.5,474.39 L78.5,474.33 L79.5,474.26 L80.5,474.20 L81.5,474.13 L82.5,474.06 L83.5,473.98 L84.5,473.91 L85.5,473.83 L86.5,473.76 L87.5,473.68 L88.5,473.60 L89.5,473.52 L90.5,473.44 L91.5,473.36 L92.5,473.28 L93.5,473.20 L94.5,473.12 L95.5,473.04 L96.5,472.97 L97.5,472.89 L98.5,472.82 L99.5,472.75 L100.5,472.68 L101.5,472.61 L102.5,472.55 L103.5,472.49 L104.5,472.43 L105.5,472.38 L106.5,472.33 L107.5,472.29 L108.5,472.25 L109.5,472.21 L110.5,472.18 L111.5,472.15 L112.5,472.13 L113.5,472.12 L114.5,472.11 L115.5,472.10 L116.5,472.10 L117.5,472.11 L118.5,472.12 L119.5,472.13 L120.5,472.15 L121.5,472.18 L122.5,472.21 L123.5,472.25 L124.5,472.29 L125.5,472.33 L126.5,472.38 L127.5,472.43 L128.5,472.49 L129.5,472.55 L130.5,472.61 L131.5,472.68 L132.5,472.75 L133.5,472.82 L134.5,472.89 L135.5,472.97 L136.5,473.04 L137.5,473.12 L138.5,473.20 L139.5,473.28 L140.5,473.36 L141.5,473.44 L142.5,473.52 L143.5,473.60 L144.5,473.68 L145.5,473.76 L146.5,473.83 L147.5,473.91 L148.5,473.98 L149.5,474.06 L150.5,474.13 L151.5,474.20 L152.5,474.26 L153.5,474.33 L154.5,474.39 L155.5,474.45 L156.5,474.51 L157.5,474.57 L158.5,474.62 L159.5,474.67 L160.5,474.72 L161.5,474.77 L162.5,474.81 L163.5,474.86 L164.5,474.90 L165.5,474.94 L166.5,474.97 L167.5,475.00 L168.5,475.04 L169.5,475.07 L170.5,475.09 L171.5,475.12 L172.5,475.14 L173.5,475.17 L174.5,475.19 L175.5,475.21 L176.5,475.22 L177.5,475.24 L178.5,475.26 L179.5,475.27 L180.5,475.28 L181.5,475.29 L182.5,475.30 L183.5,475.31 L184.5,475.32 L185.5,475.33 L186.5,475.34 L187.5,475.34 L188.5,475.35 L189.5,475.36 L190.5,475.36 L191.5,475.37 L192.5,475.37 L193.5,475.37 L194.5,475.38 L195.5,475.38 L196.5,475.38 L197.5,475.38 L198.5,475.39 L198.5,475.40 L33.5,475.40 Z" fill="url(#gr)" stroke="none"/>
<line x1="1.8" y1="475.4" x2="207.8" y2="475.4" stroke="#4f7a2c" stroke-width="1.3"/>
<path d="M1.8,474.49 L3.8,476.23 L5.8,475.82 L7.8,476.21 L9.8,476.49 L11.8,475.59 L13.8,476.12 L15.8,474.29 L17.8,476.04 L19.8,475.43 L21.8,475.91 L23.8,474.45 L25.8,475.99 L27.8,476.44 L29.8,474.34 L31.8,474.97 L33.8,475.54 L35.8,476.17 L37.8,474.76 L39.8,474.60 L41.8,474.76 L43.8,475.63 L45.8,475.94 L47.8,475.07 L49.8,474.98 L51.8,475.03 L53.8,474.89 L55.8,475.02 L57.8,474.18 L59.8,475.14 L61.8,476.22 L63.8,474.82 L65.8,475.55 L67.8,474.07 L69.8,475.26 L71.8,475.32 L73.8,475.02 L75.8,474.54 L77.8,474.33 L79.8,474.59 L81.8,475.06 L83.8,473.12 L85.8,472.84 L87.8,474.25 L89.8,474.49 L91.8,473.38 L93.8,473.04 L95.8,473.54 L97.8,472.11 L99.8,472.17 L101.8,471.87 L103.8,472.68 L105.8,471.92 L107.8,471.63 L109.8,472.66 L111.8,473.23 L113.8,471.62 L115.8,472.59 L117.8,471.90 L119.8,472.99 L121.8,472.39 L123.8,471.70 L125.8,471.67 L127.8,471.30 L129.8,472.52 L131.8,472.42 L133.8,472.05 L135.8,472.65 L137.8,472.72 L139.8,473.96 L141.8,472.61 L143.8,474.80 L145.8,473.73 L147.8,474.17 L149.8,474.00 L151.8,475.02 L153.8,475.12 L155.8,474.61 L157.8,474.54 L159.8,475.22 L161.8,475.64 L163.8,474.63 L165.8,475.51 L167.8,476.12 L169.8,475.00 L171.8,474.48 L173.8,474.54 L175.8,475.73 L177.8,475.67 L179.8,476.37 L181.8,476.15 L183.8,474.70 L185.8,474.59 L187.8,474.77 L189.8,474.61 L191.8,475.86 L193.8,476.23 L195.8,476.34 L197.8,474.80 L199.8,476.26 L201.8,474.94 L203.8,475.21 L205.8,475.94 L207.8,474.40" fill="none" stroke="#6a6a6a" stroke-width="0.9"/>
<path d="M56.0,475.21 L57.0,475.20 L58.0,475.18 L59.0,475.15 L60.0,475.13 L61.0,475.11 L62.0,475.08 L63.0,475.05 L64.0,475.02 L65.0,474.99 L66.0,474.95 L67.0,474.92 L68.0,474.88 L69.0,474.84 L70.0,474.79 L71.0,474.75 L72.0,474.70 L73.0,474.65 L74.0,474.60 L75.0,474.54 L76.0,474.48 L77.0,474.42 L78.0,474.36 L79.0,474.30 L80.0,474.23 L81.0,474.16 L82.0,474.09 L83.0,474.02 L84.0,473.95 L85.0,473.87 L86.0,473.79 L87.0,473.72 L88.0,473.64 L89.0,473.56 L90.0,473.48 L91.0,473.40 L92.0,473.32 L93.0,473.24 L94.0,473.16 L95.0,473.08 L96.0,473.00 L97.0,472.93 L98.0,472.85 L99.0,472.78 L100.0,472.71 L101.0,472.64 L102.0,472.58 L103.0,472.52 L104.0,472.46 L105.0,472.40 L106.0,472.35 L107.0,472.31 L108.0,472.26 L109.0,472.23 L110.0,472.19 L111.0,472.17 L112.0,472.14 L113.0,472.12 L114.0,472.11 L115.0,472.10 L116.0,472.10 L117.0,472.10 L118.0,472.11 L119.0,472.12 L120.0,472.14 L121.0,472.17 L122.0,472.19 L123.0,472.23 L124.0,472.26 L125.0,472.31 L126.0,472.35 L127.0,472.40 L128.0,472.46 L129.0,472.52 L130.0,472.58 L131.0,472.64 L132.0,472.71 L133.0,472.78 L134.0,472.85 L135.0,472.93 L136.0,473.00 L137.0,473.08 L138.0,473.16 L139.0,473.24 L140.0,473.32 L141.0,473.40 L142.0,473.48 L143.0,473.56 L144.0,473.64 L145.0,473.72 L146.0,473.79 L147.0,473.87 L148.0,473.95 L149.0,474.02 L150.0,474.09 L151.0,474.16 L152.0,474.23 L153.0,474.30 L154.0,474.36 L155.0,474.42 L156.0,474.48 L157.0,474.54 L158.0,474.60 L159.0,474.65 L160.0,474.70 L161.0,474.75 L162.0,474.79 L163.0,474.84 L164.0,474.88 L165.0,474.92 L166.0,474.95 L167.0,474.99 L168.0,475.02 L169.0,475.05 L170.0,475.08 L171.0,475.11 L172.0,475.13 L173.0,475.15 L174.0,475.18 L175.0,475.20 L176.0,475.21" fill="none" stroke="#d42828" stroke-width="1.8"/>
<path d="M34.8,519.03 L35.8,519.02 L36.8,519.00 L37.8,518.99 L38.8,518.98 L39.8,518.96 L40.8,518.94 L41.8,518.92 L42.8,518.89 L43.8,518.87 L44.8,518.84 L45.8,518.80 L46.8,518.77 L47.8,518.73 L48.8,518.68 L49.8,518.63 L50.8,518.58 L51.8,518.52 L52.8,518.45 L53.8,518.38 L54.8,518.30 L55.8,518.21 L56.8,518.12 L57.8,518.02 L58.8,517.91 L59.8,517.79 L60.8,517.66 L61.8,517.52 L62.8,517.37 L63.8,517.22 L64.8,517.05 L65.8,516.86 L66.8,516.67 L67.8,516.47 L68.8,516.25 L69.8,516.02 L70.8,515.78 L71.8,515.52 L72.8,515.25 L73.8,514.97 L74.8,514.67 L75.8,514.37 L76.8,514.05 L77.8,513.71 L78.8,513.37 L79.8,513.01 L80.8,512.65 L81.8,512.27 L82.8,511.88 L83.8,511.49 L84.8,511.09 L85.8,510.68 L86.8,510.26 L87.8,509.84 L88.8,509.42 L89.8,509.00 L90.8,508.57 L91.8,508.15 L92.8,507.73 L93.8,507.31 L94.8,506.90 L95.8,506.50 L96.8,506.10 L97.8,505.72 L98.8,505.35 L99.8,505.00 L100.8,504.66 L101.8,504.34 L102.8,504.03 L103.8,503.75 L104.8,503.49 L105.8,503.25 L106.8,503.04 L107.8,502.85 L108.8,502.69 L109.8,502.56 L110.8,502.45 L111.8,502.37 L112.8,502.32 L113.8,502.30 L114.8,502.31 L115.8,502.35 L116.8,502.41 L117.8,502.51 L118.8,502.63 L119.8,502.78 L120.8,502.96 L121.8,503.16 L122.8,503.39 L123.8,503.64 L124.8,503.92 L125.8,504.21 L126.8,504.53 L127.8,504.86 L128.8,505.21 L129.8,505.57 L130.8,505.95 L131.8,506.34 L132.8,506.74 L133.8,507.15 L134.8,507.56 L135.8,507.98 L136.8,508.40 L137.8,508.83 L138.8,509.25 L139.8,509.67 L140.8,510.09 L141.8,510.51 L142.8,510.92 L143.8,511.33 L144.8,511.73 L145.8,512.12 L146.8,512.50 L147.8,512.87 L148.8,513.23 L149.8,513.58 L150.8,513.91 L151.8,514.24 L152.8,514.55 L153.8,514.85 L154.8,515.14 L155.8,515.41 L156.8,515.67 L157.8,515.92 L158.8,516.16 L159.8,516.38 L160.8,516.59 L161.8,516.79 L162.8,516.97 L163.8,517.15 L164.8,517.31 L165.8,517.46 L166.8,517.61 L167.8,517.74 L168.8,517.86 L169.8,517.97 L170.8,518.08 L171.8,518.18 L172.8,518.26 L173.8,518.35 L174.8,518.42 L175.8,518.49 L176.8,518.55 L177.8,518.61 L178.8,518.66 L179.8,518.71 L180.8,518.75 L181.8,518.79 L182.8,518.82 L183.8,518.86 L184.8,518.88 L185.8,518.91 L186.8,518.93 L187.8,518.95 L188.8,518.97 L189.8,518.99 L190.8,519.00 L191.8,519.01 L192.8,519.02 L192.8,519.10 L34.8,519.10 Z" fill="url(#gr)" stroke="none"/>
<line x1="1.8" y1="519.1" x2="207.8" y2="519.1" stroke="#4f7a2c" stroke-width="1.3"/>
<path d="M1.8,518.12 L3.8,519.90 L5.8,518.60 L7.8,518.76 L9.8,519.29 L11.8,519.52 L13.8,517.91 L15.8,518.70 L17.8,518.94 L19.8,519.06 L21.8,518.39 L23.8,519.29 L25.8,520.17 L27.8,518.81 L29.8,519.17 L31.8,518.14 L33.8,518.50 L35.8,519.41 L37.8,518.06 L39.8,519.89 L41.8,519.90 L43.8,517.90 L45.8,519.86 L47.8,518.42 L49.8,519.28 L51.8,519.13 L53.8,517.89 L55.8,518.63 L57.8,518.39 L59.8,518.52 L61.8,516.96 L63.8,517.83 L65.8,517.97 L67.8,516.88 L69.8,516.11 L71.8,514.59 L73.8,514.95 L75.8,514.01 L77.8,514.24 L79.8,513.44 L81.8,512.43 L83.8,510.73 L85.8,511.03 L87.8,510.16 L89.8,508.23 L91.8,509.08 L93.8,507.68 L95.8,505.59 L97.8,506.76 L99.8,504.14 L101.8,503.93 L103.8,504.28 L105.8,503.49 L107.8,502.98 L109.8,502.91 L111.8,502.27 L113.8,501.85 L115.8,501.57 L117.8,501.47 L119.8,503.30 L121.8,503.77 L123.8,503.75 L125.8,504.79 L127.8,504.52 L129.8,505.01 L131.8,506.06 L133.8,508.04 L135.8,506.88 L137.8,508.84 L139.8,509.07 L141.8,511.16 L143.8,510.98 L145.8,511.72 L147.8,512.64 L149.8,513.68 L151.8,514.89 L153.8,514.50 L155.8,516.25 L157.8,514.99 L159.8,515.83 L161.8,515.83 L163.8,516.22 L165.8,518.13 L167.8,518.28 L169.8,517.22 L171.8,517.43 L173.8,518.15 L175.8,519.07 L177.8,519.37 L179.8,519.31 L181.8,519.01 L183.8,518.01 L185.8,518.66 L187.8,518.22 L189.8,519.05 L191.8,519.18 L193.8,518.32 L195.8,518.45 L197.8,519.74 L199.8,517.94 L201.8,519.81 L203.8,520.02 L205.8,520.17 L207.8,518.81" fill="none" stroke="#6a6a6a" stroke-width="0.9"/>
<path d="M56.4,518.16 L57.4,518.06 L58.4,517.95 L59.4,517.84 L60.4,517.71 L61.4,517.58 L62.4,517.43 L63.4,517.28 L64.4,517.11 L65.4,516.94 L66.4,516.75 L67.4,516.55 L68.4,516.34 L69.4,516.11 L70.4,515.87 L71.4,515.62 L72.4,515.36 L73.4,515.08 L74.4,514.79 L75.4,514.49 L76.4,514.18 L77.4,513.85 L78.4,513.51 L79.4,513.16 L80.4,512.79 L81.4,512.42 L82.4,512.04 L83.4,511.65 L84.4,511.25 L85.4,510.84 L86.4,510.43 L87.4,510.01 L88.4,509.59 L89.4,509.16 L90.4,508.74 L91.4,508.32 L92.4,507.89 L93.4,507.48 L94.4,507.06 L95.4,506.66 L96.4,506.26 L97.4,505.87 L98.4,505.50 L99.4,505.14 L100.4,504.79 L101.4,504.46 L102.4,504.15 L103.4,503.86 L104.4,503.59 L105.4,503.34 L106.4,503.12 L107.4,502.92 L108.4,502.75 L109.4,502.61 L110.4,502.49 L111.4,502.40 L112.4,502.34 L113.4,502.31 L114.4,502.30 L115.4,502.33 L116.4,502.38 L117.4,502.47 L118.4,502.58 L119.4,502.72 L120.4,502.89 L121.4,503.08 L122.4,503.30 L123.4,503.54 L124.4,503.81 L125.4,504.09 L126.4,504.40 L127.4,504.72 L128.4,505.07 L129.4,505.43 L130.4,505.80 L131.4,506.18 L132.4,506.58 L133.4,506.98 L134.4,507.39 L135.4,507.81 L136.4,508.23 L137.4,508.66 L138.4,509.08 L139.4,509.50 L140.4,509.93 L141.4,510.34 L142.4,510.76 L143.4,511.17 L144.4,511.57 L145.4,511.96 L146.4,512.35 L147.4,512.72 L148.4,513.09 L149.4,513.44 L150.4,513.78 L151.4,514.11 L152.4,514.43 L153.4,514.73 L154.4,515.03 L155.4,515.31 L156.4,515.57 L157.4,515.82 L158.4,516.07 L159.4,516.29 L160.4,516.51 L161.4,516.71 L162.4,516.90 L163.4,517.08 L164.4,517.25 L165.4,517.40 L166.4,517.55 L167.4,517.69 L168.4,517.81 L169.4,517.93 L170.4,518.04 L171.4,518.14" fill="none" stroke="#d42828" stroke-width="1.8"/>
<path d="M49.2,562.52 L50.2,562.51 L51.2,562.49 L52.2,562.47 L53.2,562.45 L54.2,562.43 L55.2,562.40 L56.2,562.37 L57.2,562.33 L58.2,562.29 L59.2,562.24 L60.2,562.19 L61.2,562.13 L62.2,562.06 L63.2,561.99 L64.2,561.90 L65.2,561.81 L66.2,561.70 L67.2,561.59 L68.2,561.46 L69.2,561.32 L70.2,561.17 L71.2,561.00 L72.2,560.82 L73.2,560.62 L74.2,560.40 L75.2,560.16 L76.2,559.91 L77.2,559.64 L78.2,559.35 L79.2,559.04 L80.2,558.71 L81.2,558.36 L82.2,557.99 L83.2,557.60 L84.2,557.19 L85.2,556.76 L86.2,556.31 L87.2,555.84 L88.2,555.36 L89.2,554.87 L90.2,554.36 L91.2,553.84 L92.2,553.31 L93.2,552.77 L94.2,552.23 L95.2,551.68 L96.2,551.14 L97.2,550.59 L98.2,550.06 L99.2,549.53 L100.2,549.01 L101.2,548.51 L102.2,548.03 L103.2,547.57 L104.2,547.13 L105.2,546.72 L106.2,546.33 L107.2,545.98 L108.2,545.67 L109.2,545.39 L110.2,545.15 L111.2,544.96 L112.2,544.80 L113.2,544.69 L114.2,544.62 L115.2,544.60 L116.2,544.62 L117.2,544.69 L118.2,544.80 L119.2,544.96 L120.2,545.15 L121.2,545.39 L122.2,545.67 L123.2,545.98 L124.2,546.33 L125.2,546.72 L126.2,547.13 L127.2,547.57 L128.2,548.03 L129.2,548.51 L130.2,549.01 L131.2,549.53 L132.2,550.06 L133.2,550.59 L134.2,551.14 L135.2,551.68 L136.2,552.23 L137.2,552.77 L138.2,553.31 L139.2,553.84 L140.2,554.36 L141.2,554.87 L142.2,555.36 L143.2,555.84 L144.2,556.31 L145.2,556.76 L146.2,557.19 L147.2,557.60 L148.2,557.99 L149.2,558.36 L150.2,558.71 L151.2,559.04 L152.2,559.35 L153.2,559.64 L154.2,559.91 L155.2,560.16 L156.2,560.40 L157.2,560.62 L158.2,560.82 L159.2,561.00 L160.2,561.17 L161.2,561.32 L162.2,561.46 L163.2,561.59 L164.2,561.70 L165.2,561.81 L166.2,561.90 L167.2,561.99 L168.2,562.06 L169.2,562.13 L170.2,562.19 L171.2,562.24 L172.2,562.29 L173.2,562.33 L174.2,562.37 L175.2,562.40 L176.2,562.43 L177.2,562.45 L178.2,562.47 L179.2,562.49 L180.2,562.51 L181.2,562.52 L181.2,562.60 L49.2,562.60 Z" fill="url(#gr)" stroke="none"/>
<line x1="1.8" y1="562.6" x2="207.8" y2="562.6" stroke="#4f7a2c" stroke-width="1.3"/>
<path d="M1.8,562.73 L3.8,562.80 L5.8,562.92 L7.8,563.74 L9.8,563.05 L11.8,562.12 L13.8,563.46 L15.8,562.56 L17.8,562.84 L19.8,563.14 L21.8,561.41 L23.8,563.25 L25.8,562.99 L27.8,562.58 L29.8,562.65 L31.8,562.50 L33.8,561.86 L35.8,562.66 L37.8,561.48 L39.8,562.59 L41.8,562.93 L43.8,562.44 L45.8,562.71 L47.8,563.64 L49.8,563.46 L51.8,561.61 L53.8,563.14 L55.8,562.68 L57.8,561.23 L59.8,561.88 L61.8,561.45 L63.8,560.92 L65.8,561.84 L67.8,562.55 L69.8,560.81 L71.8,561.78 L73.8,560.95 L75.8,559.14 L77.8,560.33 L79.8,559.08 L81.8,559.16 L83.8,557.87 L85.8,557.07 L87.8,555.18 L89.8,555.30 L91.8,554.56 L93.8,553.31 L95.8,551.20 L97.8,550.89 L99.8,549.18 L101.8,547.28 L103.8,546.20 L105.8,545.47 L107.8,545.07 L109.8,544.43 L111.8,544.85 L113.8,545.12 L115.8,544.70 L117.8,544.56 L119.8,545.43 L121.8,545.09 L123.8,546.10 L125.8,547.58 L127.8,547.60 L129.8,548.04 L131.8,550.80 L133.8,551.45 L135.8,551.69 L137.8,552.78 L139.8,554.22 L141.8,555.40 L143.8,555.46 L145.8,555.82 L147.8,557.13 L149.8,559.25 L151.8,558.37 L153.8,559.71 L155.8,559.58 L157.8,560.04 L159.8,560.31 L161.8,561.18 L163.8,560.86 L165.8,560.73 L167.8,561.10 L169.8,561.37 L171.8,562.25 L173.8,561.30 L175.8,561.27 L177.8,562.34 L179.8,562.28 L181.8,563.02 L183.8,561.47 L185.8,562.33 L187.8,562.33 L189.8,561.45 L191.8,563.71 L193.8,561.92 L195.8,561.62 L197.8,562.54 L199.8,561.79 L201.8,562.89 L203.8,562.23 L205.8,561.70 L207.8,561.52" fill="none" stroke="#6a6a6a" stroke-width="0.9"/>
<path d="M67.2,561.59 L68.2,561.46 L69.2,561.32 L70.2,561.17 L71.2,561.00 L72.2,560.82 L73.2,560.62 L74.2,560.40 L75.2,560.16 L76.2,559.91 L77.2,559.64 L78.2,559.35 L79.2,559.04 L80.2,558.71 L81.2,558.36 L82.2,557.99 L83.2,557.60 L84.2,557.19 L85.2,556.76 L86.2,556.31 L87.2,555.84 L88.2,555.36 L89.2,554.87 L90.2,554.36 L91.2,553.84 L92.2,553.31 L93.2,552.77 L94.2,552.23 L95.2,551.68 L96.2,551.14 L97.2,550.59 L98.2,550.06 L99.2,549.53 L100.2,549.01 L101.2,548.51 L102.2,548.03 L103.2,547.57 L104.2,547.13 L105.2,546.72 L106.2,546.33 L107.2,545.98 L108.2,545.67 L109.2,545.39 L110.2,545.15 L111.2,544.96 L112.2,544.80 L113.2,544.69 L114.2,544.62 L115.2,544.60 L116.2,544.62 L117.2,544.69 L118.2,544.80 L119.2,544.96 L120.2,545.15 L121.2,545.39 L122.2,545.67 L123.2,545.98 L124.2,546.33 L125.2,546.72 L126.2,547.13 L127.2,547.57 L128.2,548.03 L129.2,548.51 L130.2,549.01 L131.2,549.53 L132.2,550.06 L133.2,550.59 L134.2,551.14 L135.2,551.68 L136.2,552.23 L137.2,552.77 L138.2,553.31 L139.2,553.84 L140.2,554.36 L141.2,554.87 L142.2,555.36 L143.2,555.84 L144.2,556.31 L145.2,556.76 L146.2,557.19 L147.2,557.60 L148.2,557.99 L149.2,558.36 L150.2,558.71 L151.2,559.04 L152.2,559.35 L153.2,559.64 L154.2,559.91 L155.2,560.16 L156.2,560.40 L157.2,560.62 L158.2,560.82 L159.2,561.00 L160.2,561.17 L161.2,561.32 L162.2,561.46 L163.2,561.59" fill="none" stroke="#d42828" stroke-width="1.8"/>
</g>
<rect x="1.8" y="301.5" width="206.0" height="270.9" fill="none" stroke="#222" stroke-width="1.4"/>
<line x1="19.0" y1="572.4" x2="19.0" y2="573.9" stroke="#222" stroke-width="1"/>
<line x1="53.3" y1="572.4" x2="53.3" y2="573.9" stroke="#222" stroke-width="1"/>
<line x1="87.6" y1="572.4" x2="87.6" y2="573.9" stroke="#222" stroke-width="1"/>
<line x1="122.0" y1="572.4" x2="122.0" y2="573.9" stroke="#222" stroke-width="1"/>
<line x1="156.3" y1="572.4" x2="156.3" y2="573.9" stroke="#222" stroke-width="1"/>
<line x1="190.6" y1="572.4" x2="190.6" y2="573.9" stroke="#222" stroke-width="1"/>
<text x="19.0" y="582.2" font-size="9.0" text-anchor="middle" font-weight="bold">174</text>
<text x="53.3" y="582.2" font-size="9.0" text-anchor="middle" font-weight="bold">172</text>
<text x="87.6" y="582.2" font-size="9.0" text-anchor="middle" font-weight="bold">170</text>
<text x="122.0" y="582.2" font-size="9.0" text-anchor="middle" font-weight="bold">168</text>
<text x="156.3" y="582.2" font-size="9.0" text-anchor="middle" font-weight="bold">166</text>
<text x="190.6" y="582.2" font-size="9.0" text-anchor="middle" font-weight="bold">164</text>
<text x="68.3" y="594.3" font-size="12.2" text-anchor="start" font-weight="bold" textLength="100.6" lengthAdjust="spacingAndGlyphs">Binding Energy / eV</text>
<text x="5.9" y="314.8" font-size="13.8" text-anchor="start" font-weight="bold" textLength="23.1" lengthAdjust="spacingAndGlyphs">S 2p</text>
<text x="9.3" y="328.2" font-size="8.6" text-anchor="start" font-weight="bold">Pristine</text>
<text x="9.3" y="363.0" font-size="8.6" text-anchor="start" font-weight="bold">BL+1.5%DTD</text>
<text x="9.3" y="399.0" font-size="8.6" text-anchor="start" font-weight="bold">BL+1%DTD+0.5%PES</text>
<text x="11.6" y="443.1" font-size="8.6" text-anchor="start" font-weight="bold">BL+0.5%TMSB</text>
<text x="11.0" y="490.9" font-size="8.6" text-anchor="start" font-weight="bold">BL+0.5%TTSP</text>
<text x="11.0" y="534.0" font-size="8.6" text-anchor="start" font-weight="bold">BL+0.5%MMDS</text>
<clipPath id="cP"><rect x="228" y="304.5" width="200.5" height="267.0"/></clipPath>
<g clip-path="url(#cP)">
<path d="M249.0,351.09 L250.0,351.09 L251.0,351.09 L252.0,351.09 L253.0,351.09 L254.0,351.09 L255.0,351.09 L256.0,351.09 L257.0,351.08 L258.0,351.08 L259.0,351.08 L260.0,351.08 L261.0,351.08 L262.0,351.08 L263.0,351.07 L264.0,351.07 L265.0,351.07 L266.0,351.06 L267.0,351.06 L268.0,351.06 L269.0,351.05 L270.0,351.05 L271.0,351.04 L272.0,351.04 L273.0,351.03 L274.0,351.03 L275.0,351.02 L276.0,351.02 L277.0,351.01 L278.0,351.00 L279.0,350.99 L280.0,350.99 L281.0,350.98 L282.0,350.97 L283.0,350.96 L284.0,350.95 L285.0,350.93 L286.0,350.92 L287.0,350.91 L288.0,350.90 L289.0,350.88 L290.0,350.87 L291.0,350.85 L292.0,350.84 L293.0,350.82 L294.0,350.80 L295.0,350.78 L296.0,350.77 L297.0,350.75 L298.0,350.73 L299.0,350.70 L300.0,350.68 L301.0,350.66 L302.0,350.64 L303.0,350.61 L304.0,350.59 L305.0,350.56 L306.0,350.54 L307.0,350.51 L308.0,350.48 L309.0,350.46 L310.0,350.43 L311.0,350.40 L312.0,350.37 L313.0,350.34 L314.0,350.31 L315.0,350.28 L316.0,350.25 L317.0,350.22 L318.0,350.19 L319.0,350.16 L320.0,350.13 L321.0,350.10 L322.0,350.07 L323.0,350.04 L324.0,350.01 L325.0,349.98 L326.0,349.95 L327.0,349.93 L328.0,349.90 L329.0,349.87 L330.0,349.85 L331.0,349.82 L332.0,349.80 L333.0,349.78 L334.0,349.75 L335.0,349.73 L336.0,349.72 L337.0,349.70 L338.0,349.68 L339.0,349.67 L340.0,349.65 L341.0,349.64 L342.0,349.63 L343.0,349.62 L344.0,349.61 L345.0,349.61 L346.0,349.60 L347.0,349.60 L348.0,349.60 L349.0,349.60 L350.0,349.60 L351.0,349.61 L352.0,349.61 L353.0,349.62 L354.0,349.63 L355.0,349.64 L356.0,349.65 L357.0,349.67 L358.0,349.68 L359.0,349.70 L360.0,349.72 L361.0,349.73 L362.0,349.75 L363.0,349.78 L364.0,349.80 L365.0,349.82 L366.0,349.85 L367.0,349.87 L368.0,349.90 L369.0,349.93 L370.0,349.95 L371.0,349.98 L372.0,350.01 L373.0,350.04 L374.0,350.07 L375.0,350.10 L376.0,350.13 L377.0,350.16 L378.0,350.19 L379.0,350.22 L380.0,350.25 L381.0,350.28 L382.0,350.31 L383.0,350.34 L384.0,350.37 L385.0,350.40 L386.0,350.43 L387.0,350.46 L388.0,350.48 L389.0,350.51 L390.0,350.54 L391.0,350.56 L392.0,350.59 L393.0,350.61 L394.0,350.64 L395.0,350.66 L396.0,350.68 L397.0,350.70 L398.0,350.73 L399.0,350.75 L400.0,350.77 L401.0,350.78 L402.0,350.80 L403.0,350.82 L404.0,350.84 L405.0,350.85 L406.0,350.87 L407.0,350.88 L408.0,350.90 L409.0,350.91 L410.0,350.92 L411.0,350.93 L412.0,350.95 L413.0,350.96 L414.0,350.97 L415.0,350.98 L416.0,350.99 L417.0,350.99 L418.0,351.00 L419.0,351.01 L420.0,351.02 L421.0,351.02 L422.0,351.03 L423.0,351.03 L424.0,351.04 L425.0,351.04 L426.0,351.05 L427.0,351.05 L428.0,351.06 L428.0,351.10 L249.0,351.10 Z" fill="url(#gr)" stroke="none"/>
<line x1="228" y1="351.1" x2="428.5" y2="351.1" stroke="#3d8045" stroke-width="1.3"/>
<path d="M228.0,351.47 L230.0,351.82 L232.0,351.98 L234.0,352.43 L236.0,351.82 L238.0,352.37 L240.0,349.68 L242.0,350.99 L244.0,352.43 L246.0,351.54 L248.0,352.30 L250.0,349.93 L252.0,351.00 L254.0,350.33 L256.0,351.22 L258.0,351.31 L260.0,349.62 L262.0,350.23 L264.0,350.41 L266.0,352.31 L268.0,351.85 L270.0,350.03 L272.0,351.93 L274.0,349.94 L276.0,351.37 L278.0,349.88 L280.0,349.49 L282.0,352.08 L284.0,350.07 L286.0,350.07 L288.0,352.34 L290.0,351.99 L292.0,350.21 L294.0,352.19 L296.0,350.88 L298.0,351.26 L300.0,349.80 L302.0,351.96 L304.0,351.16 L306.0,351.94 L308.0,351.66 L310.0,349.82 L312.0,349.95 L314.0,349.31 L316.0,349.19 L318.0,348.89 L320.0,349.53 L322.0,350.38 L324.0,348.52 L326.0,350.49 L328.0,349.41 L330.0,349.28 L332.0,350.75 L334.0,349.70 L336.0,349.16 L338.0,349.62 L340.0,350.27 L342.0,348.30 L344.0,351.04 L346.0,348.17 L348.0,350.35 L350.0,350.64 L352.0,348.17 L354.0,350.49 L356.0,349.25 L358.0,349.92 L360.0,348.24 L362.0,348.39 L364.0,348.84 L366.0,351.21 L368.0,348.99 L370.0,350.72 L372.0,351.30 L374.0,351.40 L376.0,349.66 L378.0,349.75 L380.0,350.32 L382.0,351.14 L384.0,349.19 L386.0,351.17 L388.0,351.38 L390.0,351.62 L392.0,349.20 L394.0,351.97 L396.0,349.46 L398.0,350.25 L400.0,351.10 L402.0,352.06 L404.0,350.36 L406.0,352.14 L408.0,351.03 L410.0,350.36 L412.0,350.40 L414.0,350.00 L416.0,349.72 L418.0,349.95 L420.0,351.58 L422.0,352.52 L424.0,350.02 L426.0,349.69 L428.0,352.52" fill="none" stroke="#6a6a6a" stroke-width="0.9"/>
<path d="M264.0,351.07 L265.0,351.07 L266.0,351.06 L267.0,351.06 L268.0,351.06 L269.0,351.05 L270.0,351.05 L271.0,351.04 L272.0,351.04 L273.0,351.03 L274.0,351.03 L275.0,351.02 L276.0,351.02 L277.0,351.01 L278.0,351.00 L279.0,350.99 L280.0,350.99 L281.0,350.98 L282.0,350.97 L283.0,350.96 L284.0,350.95 L285.0,350.93 L286.0,350.92 L287.0,350.91 L288.0,350.90 L289.0,350.88 L290.0,350.87 L291.0,350.85 L292.0,350.84 L293.0,350.82 L294.0,350.80 L295.0,350.78 L296.0,350.77 L297.0,350.75 L298.0,350.73 L299.0,350.70 L300.0,350.68 L301.0,350.66 L302.0,350.64 L303.0,350.61 L304.0,350.59 L305.0,350.56 L306.0,350.54 L307.0,350.51 L308.0,350.48 L309.0,350.46 L310.0,350.43 L311.0,350.40 L312.0,350.37 L313.0,350.34 L314.0,350.31 L315.0,350.28 L316.0,350.25 L317.0,350.22 L318.0,350.19 L319.0,350.16 L320.0,350.13 L321.0,350.10 L322.0,350.07 L323.0,350.04 L324.0,350.01 L325.0,349.98 L326.0,349.95 L327.0,349.93 L328.0,349.90 L329.0,349.87 L330.0,349.85 L331.0,349.82 L332.0,349.80 L333.0,349.78 L334.0,349.75 L335.0,349.73 L336.0,349.72 L337.0,349.70 L338.0,349.68 L339.0,349.67 L340.0,349.65 L341.0,349.64 L342.0,349.63 L343.0,349.62 L344.0,349.61 L345.0,349.61 L346.0,349.60 L347.0,349.60 L348.0,349.60 L349.0,349.60 L350.0,349.60 L351.0,349.61 L352.0,349.61 L353.0,349.62 L354.0,349.63 L355.0,349.64 L356.0,349.65 L357.0,349.67 L358.0,349.68 L359.0,349.70 L360.0,349.72 L361.0,349.73 L362.0,349.75 L363.0,349.78 L364.0,349.80 L365.0,349.82 L366.0,349.85 L367.0,349.87 L368.0,349.90 L369.0,349.93 L370.0,349.95 L371.0,349.98 L372.0,350.01 L373.0,350.04 L374.0,350.07 L375.0,350.10 L376.0,350.13 L377.0,350.16 L378.0,350.19 L379.0,350.22 L380.0,350.25 L381.0,350.28 L382.0,350.31 L383.0,350.34 L384.0,350.37 L385.0,350.40 L386.0,350.43 L387.0,350.46 L388.0,350.48 L389.0,350.51 L390.0,350.54 L391.0,350.56 L392.0,350.59 L393.0,350.61 L394.0,350.64 L395.0,350.66 L396.0,350.68 L397.0,350.70 L398.0,350.73 L399.0,350.75 L400.0,350.77 L401.0,350.78 L402.0,350.80 L403.0,350.82 L404.0,350.84 L405.0,350.85 L406.0,350.87 L407.0,350.88 L408.0,350.90 L409.0,350.91 L410.0,350.92 L411.0,350.93 L412.0,350.95 L413.0,350.96 L414.0,350.97 L415.0,350.98 L416.0,350.99 L417.0,350.99 L418.0,351.00 L419.0,351.01 L420.0,351.02 L421.0,351.02 L422.0,351.03 L423.0,351.03 L424.0,351.04 L425.0,351.04 L426.0,351.05 L427.0,351.05 L428.0,351.06" fill="none" stroke="#d42828" stroke-width="1.5"/>
<path d="M270.8,386.64 L271.8,386.63 L272.8,386.61 L273.8,386.59 L274.8,386.57 L275.8,386.54 L276.8,386.51 L277.8,386.48 L278.8,386.43 L279.8,386.39 L280.8,386.33 L281.8,386.26 L282.8,386.19 L283.8,386.10 L284.8,386.00 L285.8,385.89 L286.8,385.76 L287.8,385.62 L288.8,385.46 L289.8,385.28 L290.8,385.09 L291.8,384.87 L292.8,384.64 L293.8,384.38 L294.8,384.10 L295.8,383.79 L296.8,383.47 L297.8,383.12 L298.8,382.74 L299.8,382.35 L300.8,381.93 L301.8,381.50 L302.8,381.04 L303.8,380.57 L304.8,380.09 L305.8,379.59 L306.8,379.09 L307.8,378.58 L308.8,378.07 L309.8,377.57 L310.8,377.07 L311.8,376.58 L312.8,376.11 L313.8,375.66 L314.8,375.23 L315.8,374.83 L316.8,374.47 L317.8,374.14 L318.8,373.85 L319.8,373.61 L320.8,373.41 L321.8,373.26 L322.8,373.16 L323.8,373.11 L324.8,373.11 L325.8,373.16 L326.8,373.27 L327.8,373.42 L328.8,373.62 L329.8,373.87 L330.8,374.16 L331.8,374.50 L332.8,374.86 L333.8,375.27 L334.8,375.69 L335.8,376.15 L336.8,376.62 L337.8,377.11 L338.8,377.61 L339.8,378.12 L340.8,378.62 L341.8,379.13 L342.8,379.63 L343.8,380.13 L344.8,380.61 L345.8,381.08 L346.8,381.53 L347.8,381.97 L348.8,382.38 L349.8,382.78 L350.8,383.15 L351.8,383.49 L352.8,383.82 L353.8,384.12 L354.8,384.40 L355.8,384.66 L356.8,384.89 L357.8,385.11 L358.8,385.30 L359.8,385.47 L360.8,385.63 L361.8,385.77 L362.8,385.90 L363.8,386.01 L364.8,386.11 L365.8,386.19 L366.8,386.27 L367.8,386.33 L368.8,386.39 L369.8,386.44 L370.8,386.48 L371.8,386.52 L372.8,386.55 L373.8,386.57 L374.8,386.60 L375.8,386.61 L376.8,386.63 L376.8,386.70 L270.8,386.70 Z" fill="url(#gb)" stroke="none"/>
<path d="M325.2,386.59 L326.2,386.57 L327.2,386.55 L328.2,386.53 L329.2,386.50 L330.2,386.46 L331.2,386.42 L332.2,386.38 L333.2,386.33 L334.2,386.27 L335.2,386.21 L336.2,386.13 L337.2,386.05 L338.2,385.96 L339.2,385.85 L340.2,385.74 L341.2,385.61 L342.2,385.46 L343.2,385.30 L344.2,385.13 L345.2,384.93 L346.2,384.72 L347.2,384.49 L348.2,384.23 L349.2,383.95 L350.2,383.65 L351.2,383.33 L352.2,382.98 L353.2,382.60 L354.2,382.20 L355.2,381.77 L356.2,381.31 L357.2,380.83 L358.2,380.32 L359.2,379.78 L360.2,379.21 L361.2,378.62 L362.2,378.00 L363.2,377.35 L364.2,376.69 L365.2,376.00 L366.2,375.30 L367.2,374.58 L368.2,373.85 L369.2,373.10 L370.2,372.35 L371.2,371.60 L372.2,370.84 L373.2,370.09 L374.2,369.35 L375.2,368.62 L376.2,367.90 L377.2,367.21 L378.2,366.54 L379.2,365.90 L380.2,365.30 L381.2,364.73 L382.2,364.20 L383.2,363.71 L384.2,363.28 L385.2,362.90 L386.2,362.57 L387.2,362.29 L388.2,362.08 L389.2,361.92 L390.2,361.83 L391.2,361.80 L392.2,361.84 L393.2,361.97 L394.2,362.18 L395.2,362.48 L396.2,362.85 L397.2,363.30 L398.2,363.82 L399.2,364.41 L400.2,365.06 L401.2,365.76 L402.2,366.50 L403.2,367.29 L404.2,368.11 L405.2,368.96 L406.2,369.83 L407.2,370.71 L408.2,371.60 L409.2,372.48 L410.2,373.37 L411.2,374.24 L412.2,375.09 L413.2,375.92 L414.2,376.73 L415.2,377.51 L416.2,378.26 L417.2,378.97 L418.2,379.65 L419.2,380.29 L420.2,380.89 L421.2,381.45 L422.2,381.98 L423.2,382.47 L424.2,382.92 L425.2,383.33 L426.2,383.71 L427.2,384.06 L428.2,384.37 L428.2,386.70 L325.2,386.70 Z" fill="url(#gr)" stroke="none"/>
<line x1="228" y1="386.7" x2="428.5" y2="386.7" stroke="#3d8045" stroke-width="1.3"/>
<path d="M228.0,386.80 L230.0,386.42 L232.0,385.91 L234.0,386.98 L236.0,387.68 L238.0,386.57 L240.0,386.47 L242.0,385.37 L244.0,387.95 L246.0,385.30 L248.0,386.68 L250.0,387.71 L252.0,385.59 L254.0,387.39 L256.0,388.05 L258.0,387.09 L260.0,387.56 L262.0,385.51 L264.0,386.49 L266.0,385.63 L268.0,387.70 L270.0,386.04 L272.0,386.49 L274.0,388.09 L276.0,387.60 L278.0,387.90 L280.0,386.24 L282.0,386.21 L284.0,386.77 L286.0,385.81 L288.0,384.97 L290.0,384.97 L292.0,383.78 L294.0,383.97 L296.0,385.21 L298.0,384.44 L300.0,382.66 L302.0,381.42 L304.0,380.01 L306.0,378.28 L308.0,377.81 L310.0,378.33 L312.0,377.60 L314.0,375.16 L316.0,375.61 L318.0,374.88 L320.0,374.11 L322.0,373.67 L324.0,373.79 L326.0,372.64 L328.0,373.89 L330.0,373.03 L332.0,374.20 L334.0,375.72 L336.0,376.24 L338.0,375.85 L340.0,378.59 L342.0,378.45 L344.0,378.91 L346.0,377.75 L348.0,379.76 L350.0,379.10 L352.0,380.41 L354.0,379.64 L356.0,380.35 L358.0,379.30 L360.0,379.02 L362.0,376.76 L364.0,376.58 L366.0,375.66 L368.0,374.62 L370.0,371.80 L372.0,371.84 L374.0,370.48 L376.0,368.53 L378.0,368.05 L380.0,366.75 L382.0,364.33 L384.0,363.44 L386.0,361.62 L388.0,363.12 L390.0,363.15 L392.0,361.76 L394.0,362.71 L396.0,363.43 L398.0,364.41 L400.0,363.94 L402.0,367.19 L404.0,368.19 L406.0,370.15 L408.0,371.18 L410.0,373.56 L412.0,375.74 L414.0,376.98 L416.0,378.77 L418.0,378.10 L420.0,379.75 L422.0,381.70 L424.0,383.28 L426.0,382.79 L428.0,384.87" fill="none" stroke="#6a6a6a" stroke-width="0.9"/>
<path d="M278.9,386.43 L279.9,386.38 L280.9,386.32 L281.9,386.25 L282.9,386.18 L283.9,386.09 L284.9,385.99 L285.9,385.88 L286.9,385.75 L287.9,385.60 L288.9,385.44 L289.9,385.27 L290.9,385.07 L291.9,384.85 L292.9,384.61 L293.9,384.35 L294.9,384.07 L295.9,383.76 L296.9,383.43 L297.9,383.08 L298.9,382.71 L299.9,382.31 L300.9,381.89 L301.9,381.45 L302.9,381.00 L303.9,380.53 L304.9,380.04 L305.9,379.54 L306.9,379.04 L307.9,378.53 L308.9,378.02 L309.9,377.52 L310.9,377.02 L311.9,376.53 L312.9,376.06 L313.9,375.62 L314.9,375.19 L315.9,374.80 L316.9,374.43 L317.9,374.11 L318.9,373.82 L319.9,373.58 L320.9,373.39 L321.9,373.24 L322.9,373.15 L323.9,373.10 L324.9,373.11 L325.9,373.17 L326.9,373.28 L327.9,373.44 L328.9,373.65 L329.9,373.90 L330.9,374.20 L331.9,374.53 L332.9,374.90 L333.9,375.31 L334.9,375.74 L335.9,376.19 L336.9,376.67 L337.9,377.16 L338.9,377.66 L339.9,378.17 L340.9,378.68 L341.9,379.18 L342.9,379.68 L343.9,380.18 L344.9,380.66 L345.9,381.13 L346.9,381.58 L347.9,382.01 L348.9,382.42 L349.9,382.81 L350.9,383.18 L351.9,383.53 L352.9,383.85 L353.9,384.15 L354.9,384.43 L355.9,384.68 L356.9,384.91 L357.9,385.13 L358.9,385.32 L359.9,385.49 L360.9,385.65 L361.9,385.79 L362.9,385.91 L363.9,386.02 L364.9,386.12 L365.9,386.20 L366.9,386.27 L367.9,386.34 L368.9,386.39" fill="none" stroke="#2020c8" stroke-width="1.5"/>
<path d="M311.2,386.69 L312.2,386.69 L313.2,386.69 L314.2,386.68 L315.2,386.68 L316.2,386.68 L317.2,386.67 L318.2,386.67 L319.2,386.66 L320.2,386.65 L321.2,386.65 L322.2,386.64 L323.2,386.62 L324.2,386.61 L325.2,386.59 L326.2,386.57 L327.2,386.55 L328.2,386.53 L329.2,386.50 L330.2,386.46 L331.2,386.42 L332.2,386.38 L333.2,386.33 L334.2,386.27 L335.2,386.21 L336.2,386.13 L337.2,386.05 L338.2,385.96 L339.2,385.85 L340.2,385.74 L341.2,385.61 L342.2,385.46 L343.2,385.30 L344.2,385.13 L345.2,384.93 L346.2,384.72 L347.2,384.49 L348.2,384.23 L349.2,383.95 L350.2,383.65 L351.2,383.33 L352.2,382.98 L353.2,382.60 L354.2,382.20 L355.2,381.77 L356.2,381.31 L357.2,380.83 L358.2,380.32 L359.2,379.78 L360.2,379.21 L361.2,378.62 L362.2,378.00 L363.2,377.35 L364.2,376.69 L365.2,376.00 L366.2,375.30 L367.2,374.58 L368.2,373.85 L369.2,373.10 L370.2,372.35 L371.2,371.60 L372.2,370.84 L373.2,370.09 L374.2,369.35 L375.2,368.62 L376.2,367.90 L377.2,367.21 L378.2,366.54 L379.2,365.90 L380.2,365.30 L381.2,364.73 L382.2,364.20 L383.2,363.71 L384.2,363.28 L385.2,362.90 L386.2,362.57 L387.2,362.29 L388.2,362.08 L389.2,361.92 L390.2,361.83 L391.2,361.80 L392.2,361.84 L393.2,361.97 L394.2,362.18 L395.2,362.48 L396.2,362.85 L397.2,363.30 L398.2,363.82 L399.2,364.41 L400.2,365.06 L401.2,365.76 L402.2,366.50 L403.2,367.29 L404.2,368.11 L405.2,368.96 L406.2,369.83 L407.2,370.71 L408.2,371.60 L409.2,372.48 L410.2,373.37 L411.2,374.24 L412.2,375.09 L413.2,375.92 L414.2,376.73 L415.2,377.51 L416.2,378.26 L417.2,378.97 L418.2,379.65 L419.2,380.29 L420.2,380.89 L421.2,381.45 L422.2,381.98 L423.2,382.47 L424.2,382.92 L425.2,383.33 L426.2,383.71 L427.2,384.06 L428.2,384.37" fill="none" stroke="#d42828" stroke-width="1.5"/>
<path d="M272.8,429.88 L273.8,429.85 L274.8,429.82 L275.8,429.77 L276.8,429.73 L277.8,429.67 L278.8,429.60 L279.8,429.52 L280.8,429.42 L281.8,429.31 L282.8,429.18 L283.8,429.03 L284.8,428.85 L285.8,428.65 L286.8,428.43 L287.8,428.17 L288.8,427.88 L289.8,427.55 L290.8,427.18 L291.8,426.77 L292.8,426.32 L293.8,425.82 L294.8,425.27 L295.8,424.67 L296.8,424.02 L297.8,423.32 L298.8,422.57 L299.8,421.77 L300.8,420.92 L301.8,420.02 L302.8,419.07 L303.8,418.09 L304.8,417.07 L305.8,416.02 L306.8,414.95 L307.8,413.86 L308.8,412.76 L309.8,411.67 L310.8,410.59 L311.8,409.52 L312.8,408.49 L313.8,407.50 L314.8,406.55 L315.8,405.67 L316.8,404.86 L317.8,404.13 L318.8,403.49 L319.8,402.94 L320.8,402.49 L321.8,402.15 L322.8,401.93 L323.8,401.81 L324.8,401.82 L325.8,401.93 L326.8,402.17 L327.8,402.51 L328.8,402.96 L329.8,403.51 L330.8,404.16 L331.8,404.89 L332.8,405.71 L333.8,406.59 L334.8,407.54 L335.8,408.53 L336.8,409.56 L337.8,410.63 L338.8,411.71 L339.8,412.81 L340.8,413.90 L341.8,414.99 L342.8,416.06 L343.8,417.11 L344.8,418.13 L345.8,419.11 L346.8,420.05 L347.8,420.95 L348.8,421.80 L349.8,422.60 L350.8,423.35 L351.8,424.05 L352.8,424.70 L353.8,425.29 L354.8,425.84 L355.8,426.34 L356.8,426.79 L357.8,427.20 L358.8,427.56 L359.8,427.89 L360.8,428.18 L361.8,428.44 L362.8,428.66 L363.8,428.86 L364.8,429.03 L365.8,429.18 L366.8,429.31 L367.8,429.42 L368.8,429.52 L369.8,429.60 L370.8,429.67 L371.8,429.73 L372.8,429.78 L373.8,429.82 L374.8,429.85 L374.8,430.00 L272.8,430.00 Z" fill="url(#gb)" stroke="none"/>
<path d="M341.0,429.96 L342.0,429.96 L343.0,429.95 L344.0,429.93 L345.0,429.92 L346.0,429.90 L347.0,429.88 L348.0,429.86 L349.0,429.83 L350.0,429.80 L351.0,429.76 L352.0,429.72 L353.0,429.67 L354.0,429.61 L355.0,429.54 L356.0,429.47 L357.0,429.38 L358.0,429.29 L359.0,429.18 L360.0,429.06 L361.0,428.93 L362.0,428.78 L363.0,428.62 L364.0,428.45 L365.0,428.26 L366.0,428.06 L367.0,427.84 L368.0,427.61 L369.0,427.36 L370.0,427.10 L371.0,426.82 L372.0,426.54 L373.0,426.24 L374.0,425.93 L375.0,425.62 L376.0,425.31 L377.0,424.99 L378.0,424.67 L379.0,424.35 L380.0,424.05 L381.0,423.75 L382.0,423.46 L383.0,423.18 L384.0,422.93 L385.0,422.69 L386.0,422.48 L387.0,422.29 L388.0,422.13 L389.0,422.00 L390.0,421.90 L391.0,421.84 L392.0,421.80 L393.0,421.80 L394.0,421.84 L395.0,421.91 L396.0,422.01 L397.0,422.14 L398.0,422.30 L399.0,422.49 L400.0,422.70 L401.0,422.94 L402.0,423.19 L403.0,423.47 L404.0,423.76 L405.0,424.06 L406.0,424.37 L407.0,424.68 L408.0,425.00 L409.0,425.32 L410.0,425.64 L411.0,425.95 L412.0,426.25 L413.0,426.55 L414.0,426.83 L415.0,427.11 L416.0,427.37 L417.0,427.62 L418.0,427.85 L419.0,428.07 L420.0,428.27 L421.0,428.46 L422.0,428.63 L423.0,428.79 L424.0,428.94 L425.0,429.07 L426.0,429.18 L427.0,429.29 L428.0,429.39 L428.0,430.00 L341.0,430.00 Z" fill="url(#gr)" stroke="none"/>
<line x1="228" y1="430" x2="428.5" y2="430" stroke="#3d8045" stroke-width="1.3"/>
<path d="M228.0,430.39 L230.0,428.63 L232.0,429.91 L234.0,429.18 L236.0,428.66 L238.0,428.90 L240.0,429.45 L242.0,429.04 L244.0,429.08 L246.0,428.61 L248.0,429.90 L250.0,429.64 L252.0,430.33 L254.0,430.27 L256.0,429.21 L258.0,431.21 L260.0,428.50 L262.0,429.71 L264.0,429.32 L266.0,429.70 L268.0,428.80 L270.0,430.93 L272.0,429.52 L274.0,428.45 L276.0,430.11 L278.0,428.44 L280.0,429.64 L282.0,428.80 L284.0,429.24 L286.0,429.99 L288.0,429.07 L290.0,427.24 L292.0,427.63 L294.0,426.15 L296.0,424.17 L298.0,422.12 L300.0,421.91 L302.0,420.04 L304.0,419.28 L306.0,417.23 L308.0,413.99 L310.0,411.03 L312.0,410.51 L314.0,405.83 L316.0,404.35 L318.0,404.21 L320.0,403.20 L322.0,401.03 L324.0,402.19 L326.0,403.14 L328.0,402.21 L330.0,403.41 L332.0,404.21 L334.0,406.12 L336.0,410.12 L338.0,410.44 L340.0,414.36 L342.0,416.38 L344.0,417.52 L346.0,418.47 L348.0,422.41 L350.0,422.53 L352.0,423.64 L354.0,424.46 L356.0,427.34 L358.0,426.53 L360.0,426.37 L362.0,427.20 L364.0,426.21 L366.0,427.64 L368.0,426.88 L370.0,426.10 L372.0,427.12 L374.0,426.75 L376.0,423.74 L378.0,424.70 L380.0,423.32 L382.0,424.74 L384.0,423.76 L386.0,421.71 L388.0,421.43 L390.0,420.86 L392.0,423.27 L394.0,421.22 L396.0,422.33 L398.0,422.22 L400.0,423.13 L402.0,423.50 L404.0,424.48 L406.0,423.22 L408.0,425.78 L410.0,425.03 L412.0,426.35 L414.0,426.34 L416.0,426.75 L418.0,427.93 L420.0,428.16 L422.0,428.21 L424.0,429.67 L426.0,429.45 L428.0,427.99" fill="none" stroke="#6a6a6a" stroke-width="0.9"/>
<path d="M280.6,429.44 L281.6,429.33 L282.6,429.21 L283.6,429.06 L284.6,428.89 L285.6,428.70 L286.6,428.47 L287.6,428.22 L288.6,427.94 L289.6,427.62 L290.6,427.26 L291.6,426.86 L292.6,426.41 L293.6,425.92 L294.6,425.38 L295.6,424.80 L296.6,424.16 L297.6,423.47 L298.6,422.73 L299.6,421.93 L300.6,421.09 L301.6,420.20 L302.6,419.26 L303.6,418.29 L304.6,417.27 L305.6,416.23 L306.6,415.16 L307.6,414.08 L308.6,412.98 L309.6,411.89 L310.6,410.80 L311.6,409.73 L312.6,408.69 L313.6,407.69 L314.6,406.74 L315.6,405.84 L316.6,405.02 L317.6,404.27 L318.6,403.61 L319.6,403.04 L320.6,402.57 L321.6,402.21 L322.6,401.96 L323.6,401.83 L324.6,401.81 L325.6,401.90 L326.6,402.11 L327.6,402.43 L328.6,402.86 L329.6,403.39 L330.6,404.02 L331.6,404.74 L332.6,405.54 L333.6,406.41 L334.6,407.34 L335.6,408.33 L336.6,409.35 L337.6,410.41 L338.6,411.50 L339.6,412.59 L340.6,413.68 L341.6,414.77 L342.6,415.85 L343.6,416.90 L344.6,417.93 L345.6,418.92 L346.6,419.87 L347.6,420.77 L348.6,421.63 L349.6,422.45 L350.6,423.21 L351.6,423.91 L352.6,424.57 L353.6,425.18 L354.6,425.73 L355.6,426.24 L356.6,426.70 L357.6,427.12 L358.6,427.49 L359.6,427.83 L360.6,428.12 L361.6,428.39 L362.6,428.62 L363.6,428.82 L364.6,429.00 L365.6,429.16 L366.6,429.29 L367.6,429.40" fill="none" stroke="#2020c8" stroke-width="1.5"/>
<path d="M330.1,430.00 L331.1,430.00 L332.1,430.00 L333.1,429.99 L334.1,429.99 L335.1,429.99 L336.1,429.99 L337.1,429.99 L338.1,429.98 L339.1,429.98 L340.1,429.97 L341.1,429.96 L342.1,429.96 L343.1,429.95 L344.1,429.93 L345.1,429.92 L346.1,429.90 L347.1,429.88 L348.1,429.86 L349.1,429.83 L350.1,429.80 L351.1,429.76 L352.1,429.71 L353.1,429.66 L354.1,429.60 L355.1,429.54 L356.1,429.46 L357.1,429.38 L358.1,429.28 L359.1,429.17 L360.1,429.05 L361.1,428.92 L362.1,428.77 L363.1,428.61 L364.1,428.44 L365.1,428.25 L366.1,428.04 L367.1,427.82 L368.1,427.59 L369.1,427.34 L370.1,427.08 L371.1,426.80 L372.1,426.51 L373.1,426.22 L374.1,425.91 L375.1,425.60 L376.1,425.28 L377.1,424.96 L378.1,424.64 L379.1,424.33 L380.1,424.02 L381.1,423.72 L382.1,423.43 L383.1,423.16 L384.1,422.91 L385.1,422.67 L386.1,422.46 L387.1,422.28 L388.1,422.12 L389.1,421.99 L390.1,421.90 L391.1,421.83 L392.1,421.80 L393.1,421.81 L394.1,421.84 L395.1,421.91 L396.1,422.02 L397.1,422.15 L398.1,422.31 L399.1,422.50 L400.1,422.72 L401.1,422.96 L402.1,423.21 L403.1,423.49 L404.1,423.78 L405.1,424.08 L406.1,424.39 L407.1,424.71 L408.1,425.03 L409.1,425.34 L410.1,425.66 L411.1,425.97 L412.1,426.28 L413.1,426.57 L414.1,426.86 L415.1,427.13 L416.1,427.39 L417.1,427.63 L418.1,427.87 L419.1,428.08 L420.1,428.29 L421.1,428.47 L422.1,428.64 L423.1,428.80 L424.1,428.95 L425.1,429.08 L426.1,429.19 L427.1,429.30 L428.1,429.39" fill="none" stroke="#d42828" stroke-width="1.5"/>
<path d="M278.1,474.79 L279.1,474.79 L280.1,474.78 L281.1,474.78 L282.1,474.77 L283.1,474.77 L284.1,474.76 L285.1,474.75 L286.1,474.74 L287.1,474.72 L288.1,474.71 L289.1,474.69 L290.1,474.67 L291.1,474.64 L292.1,474.62 L293.1,474.58 L294.1,474.55 L295.1,474.50 L296.1,474.46 L297.1,474.41 L298.1,474.35 L299.1,474.29 L300.1,474.22 L301.1,474.14 L302.1,474.06 L303.1,473.97 L304.1,473.88 L305.1,473.78 L306.1,473.68 L307.1,473.58 L308.1,473.47 L309.1,473.36 L310.1,473.25 L311.1,473.13 L312.1,473.02 L313.1,472.91 L314.1,472.81 L315.1,472.70 L316.1,472.61 L317.1,472.52 L318.1,472.44 L319.1,472.37 L320.1,472.31 L321.1,472.27 L322.1,472.23 L323.1,472.21 L324.1,472.20 L325.1,472.20 L326.1,472.22 L327.1,472.25 L328.1,472.29 L329.1,472.35 L330.1,472.41 L331.1,472.49 L332.1,472.57 L333.1,472.67 L334.1,472.76 L335.1,472.87 L336.1,472.98 L337.1,473.09 L338.1,473.20 L339.1,473.31 L340.1,473.42 L341.1,473.53 L342.1,473.64 L343.1,473.74 L344.1,473.84 L345.1,473.94 L346.1,474.03 L347.1,474.11 L348.1,474.19 L349.1,474.26 L350.1,474.32 L351.1,474.38 L352.1,474.44 L353.1,474.49 L354.1,474.53 L355.1,474.57 L356.1,474.60 L357.1,474.63 L358.1,474.66 L359.1,474.68 L360.1,474.70 L361.1,474.72 L362.1,474.73 L363.1,474.74 L364.1,474.75 L365.1,474.76 L366.1,474.77 L367.1,474.78 L368.1,474.78 L369.1,474.78 L370.1,474.79 L370.1,474.80 L278.1,474.80 Z" fill="url(#gb)" stroke="none"/>
<path d="M328.1,474.76 L329.1,474.76 L330.1,474.75 L331.1,474.74 L332.1,474.73 L333.1,474.72 L334.1,474.70 L335.1,474.69 L336.1,474.67 L337.1,474.65 L338.1,474.63 L339.1,474.60 L340.1,474.57 L341.1,474.53 L342.1,474.50 L343.1,474.45 L344.1,474.41 L345.1,474.35 L346.1,474.30 L347.1,474.23 L348.1,474.16 L349.1,474.08 L350.1,474.00 L351.1,473.90 L352.1,473.80 L353.1,473.69 L354.1,473.57 L355.1,473.44 L356.1,473.30 L357.1,473.16 L358.1,473.00 L359.1,472.83 L360.1,472.65 L361.1,472.47 L362.1,472.27 L363.1,472.06 L364.1,471.85 L365.1,471.62 L366.1,471.39 L367.1,471.15 L368.1,470.90 L369.1,470.65 L370.1,470.39 L371.1,470.13 L372.1,469.87 L373.1,469.60 L374.1,469.34 L375.1,469.08 L376.1,468.82 L377.1,468.56 L378.1,468.32 L379.1,468.08 L380.1,467.84 L381.1,467.62 L382.1,467.42 L383.1,467.22 L384.1,467.04 L385.1,466.88 L386.1,466.74 L387.1,466.61 L388.1,466.51 L389.1,466.42 L390.1,466.36 L391.1,466.32 L392.1,466.30 L393.1,466.30 L394.1,466.33 L395.1,466.38 L396.1,466.45 L397.1,466.54 L398.1,466.65 L399.1,466.78 L400.1,466.93 L401.1,467.10 L402.1,467.28 L403.1,467.48 L404.1,467.69 L405.1,467.91 L406.1,468.15 L407.1,468.39 L408.1,468.64 L409.1,468.90 L410.1,469.16 L411.1,469.42 L412.1,469.68 L413.1,469.95 L414.1,470.21 L415.1,470.47 L416.1,470.73 L417.1,470.98 L418.1,471.22 L419.1,471.46 L420.1,471.69 L421.1,471.91 L422.1,472.12 L423.1,472.33 L424.1,472.52 L425.1,472.71 L426.1,472.88 L427.1,473.05 L428.1,473.20 L428.1,474.80 L328.1,474.80 Z" fill="url(#gr)" stroke="none"/>
<line x1="228" y1="474.8" x2="428.5" y2="474.8" stroke="#3d8045" stroke-width="1.3"/>
<path d="M228.0,474.06 L230.0,474.67 L232.0,476.05 L234.0,475.96 L236.0,474.94 L238.0,473.34 L240.0,475.64 L242.0,474.58 L244.0,475.03 L246.0,475.42 L248.0,475.20 L250.0,474.75 L252.0,476.04 L254.0,474.46 L256.0,474.48 L258.0,475.86 L260.0,473.89 L262.0,474.19 L264.0,475.79 L266.0,473.50 L268.0,475.81 L270.0,475.38 L272.0,474.60 L274.0,474.15 L276.0,475.64 L278.0,476.02 L280.0,473.71 L282.0,474.71 L284.0,474.91 L286.0,474.73 L288.0,474.20 L290.0,473.63 L292.0,474.88 L294.0,475.49 L296.0,473.17 L298.0,473.54 L300.0,475.18 L302.0,474.94 L304.0,474.38 L306.0,472.27 L308.0,474.15 L310.0,474.69 L312.0,474.53 L314.0,473.42 L316.0,471.26 L318.0,473.47 L320.0,471.47 L322.0,472.66 L324.0,473.54 L326.0,472.83 L328.0,471.16 L330.0,471.73 L332.0,473.75 L334.0,471.61 L336.0,473.17 L338.0,472.76 L340.0,472.17 L342.0,473.70 L344.0,472.08 L346.0,472.35 L348.0,473.19 L350.0,472.24 L352.0,472.12 L354.0,473.54 L356.0,473.85 L358.0,474.01 L360.0,471.48 L362.0,472.02 L364.0,471.28 L366.0,471.69 L368.0,470.89 L370.0,471.73 L372.0,469.52 L374.0,468.04 L376.0,469.45 L378.0,467.30 L380.0,468.27 L382.0,467.46 L384.0,468.30 L386.0,466.92 L388.0,466.89 L390.0,465.66 L392.0,466.46 L394.0,465.59 L396.0,467.19 L398.0,466.68 L400.0,465.81 L402.0,466.45 L404.0,467.27 L406.0,468.82 L408.0,467.64 L410.0,469.76 L412.0,470.11 L414.0,468.93 L416.0,471.19 L418.0,469.96 L420.0,470.53 L422.0,472.38 L424.0,471.71 L426.0,473.99 L428.0,473.12" fill="none" stroke="#6a6a6a" stroke-width="0.9"/>
<path d="M285.1,474.75 L286.1,474.74 L287.1,474.72 L288.1,474.71 L289.1,474.69 L290.1,474.67 L291.1,474.64 L292.1,474.62 L293.1,474.58 L294.1,474.55 L295.1,474.50 L296.1,474.46 L297.1,474.41 L298.1,474.35 L299.1,474.29 L300.1,474.22 L301.1,474.14 L302.1,474.06 L303.1,473.97 L304.1,473.88 L305.1,473.78 L306.1,473.68 L307.1,473.58 L308.1,473.47 L309.1,473.36 L310.1,473.25 L311.1,473.13 L312.1,473.02 L313.1,472.91 L314.1,472.81 L315.1,472.70 L316.1,472.61 L317.1,472.52 L318.1,472.44 L319.1,472.37 L320.1,472.31 L321.1,472.27 L322.1,472.23 L323.1,472.21 L324.1,472.20 L325.1,472.20 L326.1,472.22 L327.1,472.25 L328.1,472.29 L329.1,472.35 L330.1,472.41 L331.1,472.49 L332.1,472.57 L333.1,472.67 L334.1,472.76 L335.1,472.87 L336.1,472.98 L337.1,473.09 L338.1,473.20 L339.1,473.31 L340.1,473.42 L341.1,473.53 L342.1,473.64 L343.1,473.74 L344.1,473.84 L345.1,473.94 L346.1,474.03 L347.1,474.11 L348.1,474.19 L349.1,474.26 L350.1,474.32 L351.1,474.38 L352.1,474.44 L353.1,474.49 L354.1,474.53 L355.1,474.57 L356.1,474.60 L357.1,474.63 L358.1,474.66 L359.1,474.68 L360.1,474.70 L361.1,474.72 L362.1,474.73 L363.1,474.74" fill="none" stroke="#2020c8" stroke-width="1.5"/>
<path d="M314.5,474.80 L315.5,474.80 L316.5,474.80 L317.5,474.79 L318.5,474.79 L319.5,474.79 L320.5,474.79 L321.5,474.79 L322.5,474.79 L323.5,474.78 L324.5,474.78 L325.5,474.78 L326.5,474.77 L327.5,474.77 L328.5,474.76 L329.5,474.75 L330.5,474.75 L331.5,474.74 L332.5,474.73 L333.5,474.71 L334.5,474.70 L335.5,474.68 L336.5,474.66 L337.5,474.64 L338.5,474.62 L339.5,474.59 L340.5,474.56 L341.5,474.52 L342.5,474.48 L343.5,474.44 L344.5,474.39 L345.5,474.33 L346.5,474.27 L347.5,474.21 L348.5,474.13 L349.5,474.05 L350.5,473.96 L351.5,473.87 L352.5,473.76 L353.5,473.65 L354.5,473.53 L355.5,473.40 L356.5,473.25 L357.5,473.10 L358.5,472.94 L359.5,472.77 L360.5,472.59 L361.5,472.40 L362.5,472.20 L363.5,471.99 L364.5,471.77 L365.5,471.54 L366.5,471.31 L367.5,471.06 L368.5,470.81 L369.5,470.56 L370.5,470.30 L371.5,470.04 L372.5,469.78 L373.5,469.51 L374.5,469.25 L375.5,468.99 L376.5,468.73 L377.5,468.48 L378.5,468.23 L379.5,467.99 L380.5,467.77 L381.5,467.55 L382.5,467.35 L383.5,467.16 L384.5,466.99 L385.5,466.83 L386.5,466.69 L387.5,466.57 L388.5,466.48 L389.5,466.40 L390.5,466.34 L391.5,466.31 L392.5,466.30 L393.5,466.31 L394.5,466.34 L395.5,466.40 L396.5,466.48 L397.5,466.57 L398.5,466.69 L399.5,466.83 L400.5,466.99 L401.5,467.16 L402.5,467.35 L403.5,467.55 L404.5,467.77 L405.5,467.99 L406.5,468.23 L407.5,468.48 L408.5,468.73 L409.5,468.99 L410.5,469.25 L411.5,469.51 L412.5,469.78 L413.5,470.04 L414.5,470.30 L415.5,470.56 L416.5,470.81 L417.5,471.06 L418.5,471.31 L419.5,471.54 L420.5,471.77 L421.5,471.99 L422.5,472.20 L423.5,472.40 L424.5,472.59 L425.5,472.77 L426.5,472.94 L427.5,473.10 L428.5,473.25" fill="none" stroke="#d42828" stroke-width="1.5"/>
<path d="M280.7,518.57 L281.7,518.57 L282.7,518.56 L283.7,518.55 L284.7,518.54 L285.7,518.52 L286.7,518.51 L287.7,518.49 L288.7,518.47 L289.7,518.44 L290.7,518.42 L291.7,518.38 L292.7,518.34 L293.7,518.30 L294.7,518.25 L295.7,518.19 L296.7,518.13 L297.7,518.06 L298.7,517.98 L299.7,517.89 L300.7,517.79 L301.7,517.68 L302.7,517.57 L303.7,517.44 L304.7,517.29 L305.7,517.14 L306.7,516.98 L307.7,516.80 L308.7,516.61 L309.7,516.42 L310.7,516.21 L311.7,515.99 L312.7,515.76 L313.7,515.53 L314.7,515.29 L315.7,515.05 L316.7,514.80 L317.7,514.55 L318.7,514.30 L319.7,514.05 L320.7,513.81 L321.7,513.57 L322.7,513.34 L323.7,513.13 L324.7,512.93 L325.7,512.74 L326.7,512.57 L327.7,512.42 L328.7,512.29 L329.7,512.18 L330.7,512.10 L331.7,512.04 L332.7,512.01 L333.7,512.00 L334.7,512.02 L335.7,512.06 L336.7,512.13 L337.7,512.22 L338.7,512.34 L339.7,512.48 L340.7,512.64 L341.7,512.81 L342.7,513.01 L343.7,513.21 L344.7,513.43 L345.7,513.66 L346.7,513.90 L347.7,514.15 L348.7,514.40 L349.7,514.65 L350.7,514.90 L351.7,515.14 L352.7,515.39 L353.7,515.63 L354.7,515.86 L355.7,516.08 L356.7,516.29 L357.7,516.50 L358.7,516.69 L359.7,516.87 L360.7,517.04 L361.7,517.20 L362.7,517.35 L363.7,517.49 L364.7,517.61 L365.7,517.73 L366.7,517.83 L367.7,517.93 L368.7,518.01 L369.7,518.09 L370.7,518.16 L371.7,518.22 L372.7,518.27 L373.7,518.32 L374.7,518.36 L375.7,518.40 L376.7,518.43 L377.7,518.45 L378.7,518.48 L379.7,518.50 L380.7,518.51 L381.7,518.53 L382.7,518.54 L383.7,518.55 L384.7,518.56 L385.7,518.57 L385.7,518.60 L280.7,518.60 Z" fill="url(#gb)" stroke="none"/>
<path d="M334.5,514.88 L335.5,514.85 L336.5,514.81 L337.5,514.77 L338.5,514.72 L339.5,514.67 L340.5,514.60 L341.5,514.52 L342.5,514.43 L343.5,514.32 L344.5,514.19 L345.5,514.05 L346.5,513.88 L347.5,513.69 L348.5,513.47 L349.5,513.23 L350.5,512.95 L351.5,512.64 L352.5,512.29 L353.5,511.90 L354.5,511.47 L355.5,510.99 L356.5,510.47 L357.5,509.90 L358.5,509.28 L359.5,508.61 L360.5,507.89 L361.5,507.12 L362.5,506.31 L363.5,505.44 L364.5,504.53 L365.5,503.58 L366.5,502.59 L367.5,501.56 L368.5,500.51 L369.5,499.44 L370.5,498.35 L371.5,497.25 L372.5,496.16 L373.5,495.08 L374.5,494.01 L375.5,492.98 L376.5,491.99 L377.5,491.04 L378.5,490.16 L379.5,489.34 L380.5,488.60 L381.5,487.94 L382.5,487.37 L383.5,486.90 L384.5,486.54 L385.5,486.28 L386.5,486.14 L387.5,486.10 L388.5,486.16 L389.5,486.30 L390.5,486.51 L391.5,486.80 L392.5,487.17 L393.5,487.61 L394.5,488.12 L395.5,488.70 L396.5,489.33 L397.5,490.02 L398.5,490.75 L399.5,491.54 L400.5,492.35 L401.5,493.21 L402.5,494.09 L403.5,494.98 L404.5,495.90 L405.5,496.82 L406.5,497.75 L407.5,498.68 L408.5,499.59 L409.5,500.50 L410.5,501.39 L411.5,502.27 L412.5,503.12 L413.5,503.94 L414.5,504.74 L415.5,505.51 L416.5,506.24 L417.5,506.94 L418.5,507.60 L419.5,508.23 L420.5,508.82 L421.5,509.38 L422.5,509.90 L423.5,510.38 L424.5,510.83 L425.5,511.25 L426.5,511.64 L427.5,511.99 L428.5,512.31 L428.5,515.00 L334.5,515.00 Z" fill="url(#gr)" stroke="none"/>
<line x1="228" y1="518.6" x2="428.5" y2="518.6" stroke="#3d8045" stroke-width="1.3"/>
<path d="M228.0,518.07 L230.0,519.49 L232.0,517.19 L234.0,519.28 L236.0,517.26 L238.0,517.55 L240.0,519.96 L242.0,519.14 L244.0,517.77 L246.0,517.45 L248.0,520.02 L250.0,519.10 L252.0,519.56 L254.0,517.52 L256.0,518.97 L258.0,518.16 L260.0,517.80 L262.0,518.10 L264.0,518.94 L266.0,518.15 L268.0,518.26 L270.0,517.51 L272.0,519.59 L274.0,519.04 L276.0,519.50 L278.0,518.38 L280.0,519.63 L282.0,518.62 L284.0,518.82 L286.0,518.74 L288.0,519.20 L290.0,518.12 L292.0,517.16 L294.0,516.89 L296.0,517.28 L298.0,516.66 L300.0,519.03 L302.0,517.59 L304.0,518.17 L306.0,515.59 L308.0,516.66 L310.0,517.52 L312.0,516.28 L314.0,515.24 L316.0,514.87 L318.0,513.27 L320.0,512.94 L322.0,512.47 L324.0,512.68 L326.0,512.32 L328.0,513.49 L330.0,511.06 L332.0,511.22 L334.0,511.22 L336.0,507.30 L338.0,507.77 L340.0,507.76 L342.0,508.69 L344.0,507.53 L346.0,510.38 L348.0,508.81 L350.0,510.53 L352.0,509.65 L354.0,509.30 L356.0,508.20 L358.0,508.89 L360.0,505.44 L362.0,505.88 L364.0,503.29 L366.0,502.77 L368.0,501.08 L370.0,497.39 L372.0,495.44 L374.0,492.85 L376.0,491.48 L378.0,489.19 L380.0,488.56 L382.0,489.00 L384.0,486.26 L386.0,485.60 L388.0,486.00 L390.0,485.73 L392.0,487.67 L394.0,488.51 L396.0,487.99 L398.0,489.60 L400.0,492.46 L402.0,494.96 L404.0,495.88 L406.0,497.08 L408.0,500.56 L410.0,499.47 L412.0,501.38 L414.0,505.18 L416.0,505.61 L418.0,505.91 L420.0,508.68 L422.0,511.11 L424.0,510.67 L426.0,511.00 L428.0,510.94" fill="none" stroke="#6a6a6a" stroke-width="0.9"/>
<path d="M288.7,518.47 L289.7,518.44 L290.7,518.42 L291.7,518.38 L292.7,518.34 L293.7,518.30 L294.7,518.25 L295.7,518.19 L296.7,518.13 L297.7,518.06 L298.7,517.98 L299.7,517.89 L300.7,517.79 L301.7,517.68 L302.7,517.57 L303.7,517.44 L304.7,517.29 L305.7,517.14 L306.7,516.98 L307.7,516.80 L308.7,516.61 L309.7,516.42 L310.7,516.21 L311.7,515.99 L312.7,515.76 L313.7,515.53 L314.7,515.29 L315.7,515.05 L316.7,514.80 L317.7,514.55 L318.7,514.30 L319.7,514.05 L320.7,513.81 L321.7,513.57 L322.7,513.34 L323.7,513.13 L324.7,512.93 L325.7,512.74 L326.7,512.57 L327.7,512.42 L328.7,512.29 L329.7,512.18 L330.7,512.10 L331.7,512.04 L332.7,512.01 L333.7,512.00 L334.7,512.02 L335.7,512.06 L336.7,512.13 L337.7,512.22 L338.7,512.34 L339.7,512.48 L340.7,512.64 L341.7,512.81 L342.7,513.01 L343.7,513.21 L344.7,513.43 L345.7,513.66 L346.7,513.90 L347.7,514.15 L348.7,514.40 L349.7,514.65 L350.7,514.90 L351.7,515.14 L352.7,515.39 L353.7,515.63 L354.7,515.86 L355.7,516.08 L356.7,516.29 L357.7,516.50 L358.7,516.69 L359.7,516.87 L360.7,517.04 L361.7,517.20 L362.7,517.35 L363.7,517.49 L364.7,517.61 L365.7,517.73 L366.7,517.83 L367.7,517.93 L368.7,518.01 L369.7,518.09 L370.7,518.16 L371.7,518.22 L372.7,518.27 L373.7,518.32 L374.7,518.36 L375.7,518.40 L376.7,518.43 L377.7,518.45" fill="none" stroke="#2020c8" stroke-width="1.5"/>
<path d="M339.3,514.68 L340.3,514.61 L341.3,514.54 L342.3,514.45 L343.3,514.34 L344.3,514.22 L345.3,514.08 L346.3,513.92 L347.3,513.73 L348.3,513.52 L349.3,513.28 L350.3,513.01 L351.3,512.70 L352.3,512.36 L353.3,511.98 L354.3,511.56 L355.3,511.09 L356.3,510.58 L357.3,510.02 L358.3,509.41 L359.3,508.75 L360.3,508.04 L361.3,507.28 L362.3,506.47 L363.3,505.62 L364.3,504.72 L365.3,503.77 L366.3,502.79 L367.3,501.77 L368.3,500.72 L369.3,499.65 L370.3,498.57 L371.3,497.47 L372.3,496.38 L373.3,495.29 L374.3,494.22 L375.3,493.19 L376.3,492.18 L377.3,491.23 L378.3,490.33 L379.3,489.50 L380.3,488.74 L381.3,488.06 L382.3,487.48 L383.3,486.99 L384.3,486.60 L385.3,486.32 L386.3,486.16 L387.3,486.10 L388.3,486.14 L389.3,486.26 L390.3,486.46 L391.3,486.74 L392.3,487.09 L393.3,487.52 L394.3,488.02 L395.3,488.58 L396.3,489.20 L397.3,489.87 L398.3,490.60 L399.3,491.38 L400.3,492.19 L401.3,493.03 L402.3,493.91 L403.3,494.80 L404.3,495.72 L405.3,496.64 L406.3,497.56 L407.3,498.49 L408.3,499.41 L409.3,500.32 L410.3,501.22 L411.3,502.10 L412.3,502.95 L413.3,503.78 L414.3,504.58 L415.3,505.35 L416.3,506.09 L417.3,506.80 L418.3,507.47 L419.3,508.11 L420.3,508.71 L421.3,509.27 L422.3,509.80 L423.3,510.29 L424.3,510.75 L425.3,511.17 L426.3,511.56 L427.3,511.92 L428.3,512.25" fill="none" stroke="#d42828" stroke-width="1.5"/>
<path d="M275.4,560.60 L276.4,560.58 L277.4,560.55 L278.4,560.52 L279.4,560.48 L280.4,560.44 L281.4,560.38 L282.4,560.32 L283.4,560.24 L284.4,560.15 L285.4,560.05 L286.4,559.93 L287.4,559.79 L288.4,559.64 L289.4,559.46 L290.4,559.25 L291.4,559.02 L292.4,558.76 L293.4,558.47 L294.4,558.15 L295.4,557.79 L296.4,557.39 L297.4,556.96 L298.4,556.49 L299.4,555.97 L300.4,555.42 L301.4,554.83 L302.4,554.19 L303.4,553.52 L304.4,552.80 L305.4,552.06 L306.4,551.28 L307.4,550.47 L308.4,549.64 L309.4,548.80 L310.4,547.94 L311.4,547.07 L312.4,546.20 L313.4,545.35 L314.4,544.51 L315.4,543.69 L316.4,542.90 L317.4,542.16 L318.4,541.46 L319.4,540.82 L320.4,540.24 L321.4,539.73 L322.4,539.30 L323.4,538.95 L324.4,538.68 L325.4,538.50 L326.4,538.41 L327.4,538.41 L328.4,538.51 L329.4,538.69 L330.4,538.96 L331.4,539.32 L332.4,539.75 L333.4,540.27 L334.4,540.85 L335.4,541.49 L336.4,542.19 L337.4,542.94 L338.4,543.72 L339.4,544.54 L340.4,545.38 L341.4,546.24 L342.4,547.11 L343.4,547.97 L344.4,548.83 L345.4,549.68 L346.4,550.51 L347.4,551.31 L348.4,552.09 L349.4,552.83 L350.4,553.54 L351.4,554.22 L352.4,554.85 L353.4,555.44 L354.4,556.00 L355.4,556.51 L356.4,556.98 L357.4,557.41 L358.4,557.80 L359.4,558.16 L360.4,558.48 L361.4,558.77 L362.4,559.03 L363.4,559.26 L364.4,559.46 L365.4,559.64 L366.4,559.80 L367.4,559.94 L368.4,560.05 L369.4,560.16 L370.4,560.24 L371.4,560.32 L372.4,560.38 L373.4,560.44 L374.4,560.48 L375.4,560.52 L376.4,560.56 L377.4,560.58 L377.4,560.70 L275.4,560.70 Z" fill="url(#gb)" stroke="none"/>
<path d="M333.5,559.26 L334.5,559.24 L335.5,559.20 L336.5,559.16 L337.5,559.11 L338.5,559.06 L339.5,558.99 L340.5,558.91 L341.5,558.82 L342.5,558.72 L343.5,558.60 L344.5,558.47 L345.5,558.31 L346.5,558.13 L347.5,557.93 L348.5,557.71 L349.5,557.45 L350.5,557.16 L351.5,556.84 L352.5,556.49 L353.5,556.10 L354.5,555.66 L355.5,555.19 L356.5,554.67 L357.5,554.10 L358.5,553.49 L359.5,552.83 L360.5,552.12 L361.5,551.36 L362.5,550.56 L363.5,549.71 L364.5,548.81 L365.5,547.87 L366.5,546.89 L367.5,545.87 L368.5,544.82 L369.5,543.74 L370.5,542.64 L371.5,541.53 L372.5,540.41 L373.5,539.28 L374.5,538.17 L375.5,537.07 L376.5,535.99 L377.5,534.95 L378.5,533.95 L379.5,533.00 L380.5,532.10 L381.5,531.28 L382.5,530.53 L383.5,529.86 L384.5,529.29 L385.5,528.80 L386.5,528.42 L387.5,528.14 L388.5,527.97 L389.5,527.90 L390.5,527.95 L391.5,528.11 L392.5,528.38 L393.5,528.77 L394.5,529.26 L395.5,529.85 L396.5,530.54 L397.5,531.31 L398.5,532.16 L399.5,533.09 L400.5,534.08 L401.5,535.11 L402.5,536.20 L403.5,537.31 L404.5,538.45 L405.5,539.60 L406.5,540.76 L407.5,541.91 L408.5,543.05 L409.5,544.18 L410.5,545.28 L411.5,546.35 L412.5,547.38 L413.5,548.37 L414.5,549.31 L415.5,550.21 L416.5,551.06 L417.5,551.86 L418.5,552.61 L419.5,553.30 L420.5,553.95 L421.5,554.54 L422.5,555.09 L423.5,555.58 L424.5,556.04 L425.5,556.45 L426.5,556.82 L427.5,557.15 L428.5,557.44 L428.5,559.40 L333.5,559.40 Z" fill="url(#gr)" stroke="none"/>
<line x1="228" y1="560.7" x2="428.5" y2="560.7" stroke="#2a3a78" stroke-width="1.3"/>
<path d="M228.0,559.41 L230.0,561.90 L232.0,560.67 L234.0,562.01 L236.0,559.36 L238.0,559.93 L240.0,559.35 L242.0,560.39 L244.0,559.38 L246.0,559.97 L248.0,560.42 L250.0,560.12 L252.0,559.35 L254.0,559.31 L256.0,562.11 L258.0,559.74 L260.0,560.72 L262.0,560.40 L264.0,560.79 L266.0,559.44 L268.0,560.12 L270.0,559.50 L272.0,560.78 L274.0,561.89 L276.0,560.89 L278.0,561.61 L280.0,559.60 L282.0,558.90 L284.0,560.31 L286.0,559.94 L288.0,559.92 L290.0,558.97 L292.0,559.25 L294.0,558.96 L296.0,558.80 L298.0,556.11 L300.0,555.50 L302.0,555.44 L304.0,552.28 L306.0,550.46 L308.0,549.43 L310.0,547.06 L312.0,547.38 L314.0,545.81 L316.0,542.67 L318.0,540.63 L320.0,539.22 L322.0,538.70 L324.0,537.52 L326.0,538.19 L328.0,538.64 L330.0,538.00 L332.0,538.14 L334.0,539.75 L336.0,539.01 L338.0,540.87 L340.0,542.64 L342.0,544.44 L344.0,545.10 L346.0,547.45 L348.0,548.33 L350.0,550.62 L352.0,550.73 L354.0,552.14 L356.0,551.48 L358.0,551.52 L360.0,550.36 L362.0,549.02 L364.0,548.90 L366.0,546.88 L368.0,546.02 L370.0,543.39 L372.0,541.23 L374.0,537.79 L376.0,537.31 L378.0,533.99 L380.0,531.37 L382.0,529.55 L384.0,528.54 L386.0,527.87 L388.0,528.56 L390.0,527.26 L392.0,526.92 L394.0,529.79 L396.0,530.35 L398.0,530.31 L400.0,532.23 L402.0,534.54 L404.0,537.45 L406.0,541.26 L408.0,543.83 L410.0,545.07 L412.0,546.06 L414.0,548.63 L416.0,550.23 L418.0,551.73 L420.0,552.17 L422.0,555.07 L424.0,556.80 L426.0,557.32 L428.0,556.09" fill="none" stroke="#6a6a6a" stroke-width="0.9"/>
<path d="M283.2,560.26 L284.2,560.17 L285.2,560.07 L286.2,559.96 L287.2,559.82 L288.2,559.67 L289.2,559.49 L290.2,559.29 L291.2,559.07 L292.2,558.82 L293.2,558.53 L294.2,558.21 L295.2,557.86 L296.2,557.48 L297.2,557.05 L298.2,556.59 L299.2,556.08 L300.2,555.53 L301.2,554.95 L302.2,554.32 L303.2,553.65 L304.2,552.95 L305.2,552.21 L306.2,551.44 L307.2,550.64 L308.2,549.81 L309.2,548.97 L310.2,548.11 L311.2,547.24 L312.2,546.38 L313.2,545.52 L314.2,544.67 L315.2,543.85 L316.2,543.06 L317.2,542.31 L318.2,541.60 L319.2,540.95 L320.2,540.35 L321.2,539.83 L322.2,539.38 L323.2,539.01 L324.2,538.73 L325.2,538.53 L326.2,538.42 L327.2,538.40 L328.2,538.48 L329.2,538.65 L330.2,538.90 L331.2,539.24 L332.2,539.66 L333.2,540.16 L334.2,540.72 L335.2,541.36 L336.2,542.04 L337.2,542.78 L338.2,543.56 L339.2,544.37 L340.2,545.21 L341.2,546.07 L342.2,546.93 L343.2,547.80 L344.2,548.66 L345.2,549.51 L346.2,550.34 L347.2,551.15 L348.2,551.94 L349.2,552.69 L350.2,553.40 L351.2,554.08 L352.2,554.73 L353.2,555.33 L354.2,555.89 L355.2,556.41 L356.2,556.89 L357.2,557.33 L358.2,557.73 L359.2,558.09 L360.2,558.42 L361.2,558.72 L362.2,558.98 L363.2,559.22 L364.2,559.42 L365.2,559.61 L366.2,559.77 L367.2,559.91 L368.2,560.03 L369.2,560.14 L370.2,560.23" fill="none" stroke="#2020c8" stroke-width="1.5"/>
<path d="M321.6,559.39 L322.6,559.39 L323.6,559.38 L324.6,559.38 L325.6,559.37 L326.6,559.37 L327.6,559.36 L328.6,559.35 L329.6,559.34 L330.6,559.32 L331.6,559.31 L332.6,559.29 L333.6,559.26 L334.6,559.23 L335.6,559.20 L336.6,559.16 L337.6,559.11 L338.6,559.05 L339.6,558.98 L340.6,558.91 L341.6,558.82 L342.6,558.71 L343.6,558.59 L344.6,558.45 L345.6,558.29 L346.6,558.11 L347.6,557.91 L348.6,557.68 L349.6,557.42 L350.6,557.13 L351.6,556.81 L352.6,556.45 L353.6,556.05 L354.6,555.62 L355.6,555.14 L356.6,554.61 L357.6,554.04 L358.6,553.43 L359.6,552.76 L360.6,552.05 L361.6,551.29 L362.6,550.48 L363.6,549.62 L364.6,548.72 L365.6,547.77 L366.6,546.79 L367.6,545.77 L368.6,544.71 L369.6,543.63 L370.6,542.53 L371.6,541.42 L372.6,540.29 L373.6,539.17 L374.6,538.06 L375.6,536.96 L376.6,535.89 L377.6,534.85 L378.6,533.85 L379.6,532.90 L380.6,532.02 L381.6,531.20 L382.6,530.46 L383.6,529.80 L384.6,529.23 L385.6,528.76 L386.6,528.39 L387.6,528.12 L388.6,527.95 L389.6,527.90 L390.6,527.96 L391.6,528.13 L392.6,528.42 L393.6,528.81 L394.6,529.31 L395.6,529.92 L396.6,530.61 L397.6,531.39 L398.6,532.25 L399.6,533.18 L400.6,534.18 L401.6,535.22 L402.6,536.31 L403.6,537.42 L404.6,538.56 L405.6,539.72 L406.6,540.87 L407.6,542.03 L408.6,543.17 L409.6,544.29 L410.6,545.39 L411.6,546.45 L412.6,547.48 L413.6,548.46 L414.6,549.40 L415.6,550.30 L416.6,551.14 L417.6,551.94 L418.6,552.68 L419.6,553.37 L420.6,554.01 L421.6,554.60 L422.6,555.14 L423.6,555.63 L424.6,556.08 L425.6,556.49 L426.6,556.85 L427.6,557.18" fill="none" stroke="#d42828" stroke-width="1.5"/>
<line x1="325.5" y1="328" x2="325.5" y2="571" stroke="#555" stroke-width="0.6" stroke-dasharray="1,1.5"/>
<line x1="391.4" y1="330" x2="391.4" y2="571" stroke="#555" stroke-width="0.6" stroke-dasharray="1,1.5"/>
</g>
<rect x="228" y="304.5" width="200.5" height="267.0" fill="none" stroke="#222" stroke-width="1.4"/>
<line x1="228.0" y1="571.5" x2="228.0" y2="573.0" stroke="#222" stroke-width="1"/>
<line x1="268.1" y1="571.5" x2="268.1" y2="573.0" stroke="#222" stroke-width="1"/>
<line x1="308.2" y1="571.5" x2="308.2" y2="573.0" stroke="#222" stroke-width="1"/>
<line x1="348.3" y1="571.5" x2="348.3" y2="573.0" stroke="#222" stroke-width="1"/>
<line x1="388.4" y1="571.5" x2="388.4" y2="573.0" stroke="#222" stroke-width="1"/>
<line x1="428.5" y1="571.5" x2="428.5" y2="573.0" stroke="#222" stroke-width="1"/>
<text x="228.0" y="580.2" font-size="9.5" text-anchor="middle" font-weight="bold">142</text>
<text x="268.1" y="580.2" font-size="9.5" text-anchor="middle" font-weight="bold">140</text>
<text x="308.2" y="580.2" font-size="9.5" text-anchor="middle" font-weight="bold">138</text>
<text x="348.3" y="580.2" font-size="9.5" text-anchor="middle" font-weight="bold">136</text>
<text x="388.4" y="580.2" font-size="9.5" text-anchor="middle" font-weight="bold">134</text>
<text x="428.5" y="580.2" font-size="9.5" text-anchor="middle" font-weight="bold">132</text>
<text x="282.4" y="595.8" font-size="12.2" text-anchor="start" font-weight="bold" textLength="98.5" lengthAdjust="spacingAndGlyphs">Binding Energy / eV</text>
<text x="232.3" y="320.7" font-size="13.6" text-anchor="start" font-weight="bold">P 2p</text>
<text x="237.0" y="336.3" font-size="9.1" text-anchor="start" font-weight="bold">Pristine</text>
<text x="237.0" y="363.8" font-size="9.1" text-anchor="start" font-weight="bold">BL+1.5%DTD</text>
<text x="237.0" y="398.7" font-size="9.1" text-anchor="start" font-weight="bold">BL+1%DTD+0.5%PES</text>
<text x="238.0" y="444.4" font-size="9.1" text-anchor="start" font-weight="bold">BL+0.5%TMSB</text>
<text x="238.6" y="487.8" font-size="9.1" text-anchor="start" font-weight="bold">BL+0.5%TTSP</text>
<text x="238.6" y="534.8" font-size="9.1" text-anchor="start" font-weight="bold">BL+0.5%MMDS</text>
<text x="319.6" y="325.3" font-size="7.2" font-weight="bold" textLength="21.4" lengthAdjust="spacingAndGlyphs"><tspan dy="0">LiPF</tspan><tspan dy="1.3" font-style="italic" font-size="7.2">x</tspan></text>
<text x="383.8" y="327" font-size="7.2" font-weight="bold" textLength="28.5" lengthAdjust="spacingAndGlyphs"><tspan dy="0">LiPO</tspan><tspan dy="1.3" font-style="italic" font-size="7.2">y</tspan><tspan dy="-1.3">F</tspan><tspan dy="1.3" font-style="italic" font-size="7.2">z</tspan></text>
<clipPath id="cSi"><rect x="441.9" y="306.7" width="201.70000000000005" height="260.40000000000003"/></clipPath>
<g clip-path="url(#cSi)">
<path d="M471.8,351.25 L472.8,351.24 L473.8,351.23 L474.8,351.21 L475.8,351.20 L476.8,351.18 L477.8,351.16 L478.8,351.13 L479.8,351.10 L480.8,351.07 L481.8,351.04 L482.8,351.00 L483.8,350.95 L484.8,350.90 L485.8,350.84 L486.8,350.77 L487.8,350.70 L488.8,350.62 L489.8,350.53 L490.8,350.43 L491.8,350.32 L492.8,350.19 L493.8,350.06 L494.8,349.91 L495.8,349.75 L496.8,349.58 L497.8,349.40 L498.8,349.19 L499.8,348.98 L500.8,348.75 L501.8,348.50 L502.8,348.24 L503.8,347.97 L504.8,347.67 L505.8,347.37 L506.8,347.05 L507.8,346.72 L508.8,346.37 L509.8,346.02 L510.8,345.65 L511.8,345.28 L512.8,344.89 L513.8,344.51 L514.8,344.11 L515.8,343.72 L516.8,343.33 L517.8,342.94 L518.8,342.56 L519.8,342.18 L520.8,341.82 L521.8,341.46 L522.8,341.12 L523.8,340.80 L524.8,340.50 L525.8,340.22 L526.8,339.97 L527.8,339.74 L528.8,339.54 L529.8,339.37 L530.8,339.23 L531.8,339.12 L532.8,339.05 L533.8,339.01 L534.8,339.00 L535.8,339.04 L536.8,339.11 L537.8,339.23 L538.8,339.39 L539.8,339.58 L540.8,339.82 L541.8,340.08 L542.8,340.38 L543.8,340.71 L544.8,341.06 L545.8,341.44 L546.8,341.83 L547.8,342.24 L548.8,342.67 L549.8,343.10 L550.8,343.53 L551.8,343.97 L552.8,344.41 L553.8,344.84 L554.8,345.27 L555.8,345.69 L556.8,346.10 L557.8,346.49 L558.8,346.87 L559.8,347.24 L560.8,347.58 L561.8,347.91 L562.8,348.22 L563.8,348.51 L564.8,348.79 L565.8,349.04 L566.8,349.28 L567.8,349.49 L568.8,349.69 L569.8,349.88 L570.8,350.04 L571.8,350.19 L572.8,350.33 L573.8,350.45 L574.8,350.56 L575.8,350.66 L576.8,350.74 L577.8,350.82 L578.8,350.89 L579.8,350.95 L580.8,351.00 L581.8,351.04 L582.8,351.08 L583.8,351.12 L584.8,351.15 L585.8,351.17 L586.8,351.19 L587.8,351.21 L588.8,351.23 L589.8,351.24 L589.8,351.30 L471.8,351.30 Z" fill="url(#gr)" stroke="none"/>
<line x1="441.9" y1="351.3" x2="643.6" y2="351.3" stroke="#3a9a3a" stroke-width="1.3"/>
<path d="M441.9,350.79 L444.4,352.31 L446.9,350.85 L449.4,350.68 L451.9,349.46 L454.4,350.88 L456.9,353.50 L459.4,352.13 L461.9,353.34 L464.4,351.78 L466.9,352.06 L469.4,351.63 L471.9,347.95 L474.4,352.91 L476.9,352.18 L479.4,352.10 L481.9,347.68 L484.4,347.47 L486.9,349.01 L489.4,349.64 L491.9,350.91 L494.4,349.88 L496.9,350.60 L499.4,347.80 L501.9,349.09 L504.4,348.57 L506.9,345.71 L509.4,349.56 L511.9,346.34 L514.4,346.64 L516.9,342.06 L519.4,340.87 L521.9,340.75 L524.4,340.41 L526.9,341.20 L529.4,339.93 L531.9,338.23 L534.4,337.11 L536.9,338.09 L539.4,341.92 L541.9,338.51 L544.4,341.39 L546.9,342.67 L549.4,339.76 L551.9,343.46 L554.4,346.11 L556.9,339.18 L559.4,342.09 L561.9,342.73 L564.4,342.61 L566.9,347.19 L569.4,348.01 L571.9,346.60 L574.4,351.93 L576.9,352.02 L579.4,352.79 L581.9,353.90 L584.4,351.85 L586.9,351.43 L589.4,348.66 L591.9,352.48 L594.4,350.06 L596.9,350.39 L599.4,348.79 L601.9,349.38 L604.4,350.25 L606.9,353.85 L609.4,347.28 L611.9,348.41 L614.4,351.77 L616.9,354.16 L619.4,352.45 L621.9,347.54 L624.4,346.31 L626.9,352.01 L629.4,349.84 L631.9,349.08 L634.4,353.24 L636.9,353.48 L639.4,351.61 L641.9,351.79" fill="none" stroke="#6a6a6a" stroke-width="0.9"/>
<path d="M481.3,351.06 L482.3,351.02 L483.3,350.97 L484.3,350.92 L485.3,350.87 L486.3,350.81 L487.3,350.74 L488.3,350.66 L489.3,350.57 L490.3,350.48 L491.3,350.37 L492.3,350.26 L493.3,350.13 L494.3,349.99 L495.3,349.84 L496.3,349.67 L497.3,349.49 L498.3,349.30 L499.3,349.09 L500.3,348.87 L501.3,348.63 L502.3,348.37 L503.3,348.11 L504.3,347.82 L505.3,347.52 L506.3,347.21 L507.3,346.89 L508.3,346.55 L509.3,346.20 L510.3,345.83 L511.3,345.46 L512.3,345.08 L513.3,344.70 L514.3,344.31 L515.3,343.92 L516.3,343.53 L517.3,343.14 L518.3,342.75 L519.3,342.37 L520.3,342.00 L521.3,341.64 L522.3,341.29 L523.3,340.96 L524.3,340.65 L525.3,340.36 L526.3,340.09 L527.3,339.85 L528.3,339.64 L529.3,339.45 L530.3,339.30 L531.3,339.17 L532.3,339.08 L533.3,339.02 L534.3,339.00 L535.3,339.01 L536.3,339.07 L537.3,339.17 L538.3,339.30 L539.3,339.48 L540.3,339.70 L541.3,339.95 L542.3,340.23 L543.3,340.54 L544.3,340.88 L545.3,341.25 L546.3,341.63 L547.3,342.04 L548.3,342.45 L549.3,342.88 L550.3,343.31 L551.3,343.75 L552.3,344.19 L553.3,344.63 L554.3,345.06 L555.3,345.48 L556.3,345.89 L557.3,346.30 L558.3,346.68 L559.3,347.06 L560.3,347.41 L561.3,347.75 L562.3,348.07 L563.3,348.37 L564.3,348.65 L565.3,348.92 L566.3,349.16 L567.3,349.39 L568.3,349.60 L569.3,349.79 L570.3,349.96 L571.3,350.12 L572.3,350.26 L573.3,350.39 L574.3,350.51 L575.3,350.61 L576.3,350.70 L577.3,350.78 L578.3,350.85 L579.3,350.92 L580.3,350.97 L581.3,351.02" fill="none" stroke="#d42828" stroke-width="1.5"/>
<line x1="441.9" y1="380" x2="643.6" y2="380" stroke="#3a9a3a" stroke-width="1.3"/>
<path d="M441.9,380.86 L444.4,383.16 L446.9,381.23 L449.4,381.03 L451.9,381.08 L454.4,376.89 L456.9,382.54 L459.4,381.89 L461.9,381.05 L464.4,376.09 L466.9,378.75 L469.4,381.67 L471.9,376.41 L474.4,379.64 L476.9,382.02 L479.4,377.40 L481.9,383.19 L484.4,381.09 L486.9,379.70 L489.4,380.64 L491.9,381.29 L494.4,380.24 L496.9,382.27 L499.4,378.69 L501.9,379.18 L504.4,382.06 L506.9,380.05 L509.4,378.26 L511.9,381.87 L514.4,382.90 L516.9,379.12 L519.4,377.27 L521.9,379.73 L524.4,379.70 L526.9,379.41 L529.4,382.78 L531.9,377.97 L534.4,382.50 L536.9,377.49 L539.4,378.44 L541.9,381.25 L544.4,382.23 L546.9,381.70 L549.4,380.68 L551.9,380.28 L554.4,380.30 L556.9,381.14 L559.4,379.65 L561.9,380.55 L564.4,381.13 L566.9,380.00 L569.4,381.51 L571.9,381.12 L574.4,383.98 L576.9,380.64 L579.4,379.15 L581.9,379.26 L584.4,379.97 L586.9,381.83 L589.4,379.33 L591.9,380.76 L594.4,383.64 L596.9,374.92 L599.4,377.77 L601.9,380.48 L604.4,380.79 L606.9,380.47 L609.4,379.15 L611.9,381.30 L614.4,380.56 L616.9,378.97 L619.4,384.81 L621.9,380.70 L624.4,378.90 L626.9,379.80 L629.4,379.55 L631.9,379.88 L634.4,374.60 L636.9,379.04 L639.4,382.00 L641.9,377.69" fill="none" stroke="#6a6a6a" stroke-width="0.9"/>
<line x1="441.9" y1="416.9" x2="643.6" y2="416.9" stroke="#3a9a3a" stroke-width="1.3"/>
<path d="M441.9,416.77 L444.4,418.79 L446.9,418.60 L449.4,419.85 L451.9,413.53 L454.4,416.20 L456.9,416.22 L459.4,418.13 L461.9,419.06 L464.4,411.59 L466.9,419.06 L469.4,414.03 L471.9,418.25 L474.4,413.95 L476.9,417.25 L479.4,419.27 L481.9,416.60 L484.4,417.28 L486.9,418.48 L489.4,417.18 L491.9,416.72 L494.4,419.94 L496.9,418.98 L499.4,416.32 L501.9,422.34 L504.4,414.63 L506.9,418.71 L509.4,416.37 L511.9,417.16 L514.4,418.30 L516.9,417.34 L519.4,418.16 L521.9,413.88 L524.4,413.91 L526.9,418.12 L529.4,414.99 L531.9,414.87 L534.4,413.99 L536.9,419.41 L539.4,418.38 L541.9,419.82 L544.4,415.04 L546.9,416.90 L549.4,414.64 L551.9,418.42 L554.4,420.05 L556.9,415.14 L559.4,419.99 L561.9,418.86 L564.4,416.55 L566.9,413.00 L569.4,419.69 L571.9,416.71 L574.4,415.71 L576.9,417.69 L579.4,417.71 L581.9,419.87 L584.4,414.88 L586.9,419.15 L589.4,419.84 L591.9,419.78 L594.4,416.54 L596.9,415.43 L599.4,418.92 L601.9,417.13 L604.4,417.15 L606.9,419.72 L609.4,416.38 L611.9,412.35 L614.4,416.13 L616.9,413.23 L619.4,418.52 L621.9,417.53 L624.4,415.69 L626.9,416.88 L629.4,418.55 L631.9,417.06 L634.4,419.53 L636.9,416.78 L639.4,418.96 L641.9,419.85" fill="none" stroke="#6a6a6a" stroke-width="0.9"/>
<path d="M441.9,461.88 L442.9,461.88 L443.9,461.88 L444.9,461.88 L445.9,461.88 L446.9,461.88 L447.9,461.87 L448.9,461.87 L449.9,461.87 L450.9,461.87 L451.9,461.87 L452.9,461.86 L453.9,461.86 L454.9,461.86 L455.9,461.86 L456.9,461.85 L457.9,461.85 L458.9,461.85 L459.9,461.84 L460.9,461.84 L461.9,461.83 L462.9,461.83 L463.9,461.83 L464.9,461.82 L465.9,461.82 L466.9,461.81 L467.9,461.81 L468.9,461.80 L469.9,461.79 L470.9,461.79 L471.9,461.78 L472.9,461.77 L473.9,461.77 L474.9,461.76 L475.9,461.75 L476.9,461.74 L477.9,461.74 L478.9,461.73 L479.9,461.72 L480.9,461.71 L481.9,461.70 L482.9,461.69 L483.9,461.68 L484.9,461.67 L485.9,461.65 L486.9,461.64 L487.9,461.63 L488.9,461.62 L489.9,461.60 L490.9,461.59 L491.9,461.58 L492.9,461.56 L493.9,461.55 L494.9,461.53 L495.9,461.52 L496.9,461.50 L497.9,461.48 L498.9,461.47 L499.9,461.45 L500.9,461.43 L501.9,461.41 L502.9,461.40 L503.9,461.38 L504.9,461.36 L505.9,461.34 L506.9,461.32 L507.9,461.30 L508.9,461.28 L509.9,461.26 L510.9,461.24 L511.9,461.22 L512.9,461.19 L513.9,461.17 L514.9,461.15 L515.9,461.13 L516.9,461.11 L517.9,461.08 L518.9,461.06 L519.9,461.04 L520.9,461.02 L521.9,460.99 L522.9,460.97 L523.9,460.95 L524.9,460.92 L525.9,460.90 L526.9,460.88 L527.9,460.86 L528.9,460.83 L529.9,460.81 L530.9,460.79 L531.9,460.77 L532.9,460.75 L533.9,460.73 L534.9,460.71 L535.9,460.69 L536.9,460.67 L537.9,460.65 L538.9,460.63 L539.9,460.61 L540.9,460.59 L541.9,460.58 L542.9,460.56 L543.9,460.55 L544.9,460.53 L545.9,460.52 L546.9,460.50 L547.9,460.49 L548.9,460.48 L549.9,460.47 L550.9,460.46 L551.9,460.45 L552.9,460.44 L553.9,460.43 L554.9,460.42 L555.9,460.42 L556.9,460.41 L557.9,460.41 L558.9,460.40 L559.9,460.40 L560.9,460.40 L561.9,460.40 L562.9,460.40 L563.9,460.40 L564.9,460.40 L565.9,460.41 L566.9,460.41 L567.9,460.42 L568.9,460.42 L569.9,460.43 L570.9,460.44 L571.9,460.45 L572.9,460.45 L573.9,460.46 L574.9,460.48 L575.9,460.49 L576.9,460.50 L577.9,460.51 L578.9,460.53 L579.9,460.54 L580.9,460.56 L581.9,460.57 L582.9,460.59 L583.9,460.61 L584.9,460.63 L585.9,460.65 L586.9,460.66 L587.9,460.68 L588.9,460.70 L589.9,460.72 L590.9,460.74 L591.9,460.77 L592.9,460.79 L593.9,460.81 L594.9,460.83 L595.9,460.85 L596.9,460.87 L597.9,460.90 L598.9,460.92 L599.9,460.94 L600.9,460.97 L601.9,460.99 L602.9,461.01 L603.9,461.03 L604.9,461.06 L605.9,461.08 L606.9,461.10 L607.9,461.12 L608.9,461.15 L609.9,461.17 L610.9,461.19 L611.9,461.21 L612.9,461.23 L613.9,461.25 L614.9,461.27 L615.9,461.29 L616.9,461.32 L617.9,461.34 L618.9,461.35 L619.9,461.37 L620.9,461.39 L621.9,461.41 L622.9,461.43 L623.9,461.45 L624.9,461.46 L625.9,461.48 L626.9,461.50 L627.9,461.51 L628.9,461.53 L629.9,461.54 L630.9,461.56 L631.9,461.57 L632.9,461.59 L633.9,461.60 L634.9,461.62 L635.9,461.63 L636.9,461.64 L637.9,461.65 L638.9,461.66 L639.9,461.67 L640.9,461.69 L641.9,461.70 L642.9,461.71 L642.9,461.90 L441.9,461.90 Z" fill="url(#gr)" stroke="none"/>
<line x1="441.9" y1="461.9" x2="643.6" y2="461.9" stroke="#3a9a3a" stroke-width="1.3"/>
<path d="M441.9,465.07 L444.4,460.55 L446.9,463.62 L449.4,458.16 L451.9,459.72 L454.4,457.97 L456.9,463.97 L459.4,459.40 L461.9,461.81 L464.4,461.44 L466.9,461.75 L469.4,460.63 L471.9,462.24 L474.4,465.31 L476.9,461.83 L479.4,462.77 L481.9,463.68 L484.4,461.28 L486.9,459.15 L489.4,460.51 L491.9,463.70 L494.4,458.28 L496.9,460.32 L499.4,463.45 L501.9,462.98 L504.4,461.38 L506.9,462.91 L509.4,461.60 L511.9,458.88 L514.4,458.06 L516.9,459.84 L519.4,462.88 L521.9,459.87 L524.4,459.15 L526.9,459.35 L529.4,457.79 L531.9,460.54 L534.4,458.38 L536.9,461.39 L539.4,455.95 L541.9,461.23 L544.4,459.27 L546.9,456.66 L549.4,461.91 L551.9,459.90 L554.4,456.01 L556.9,458.68 L559.4,460.98 L561.9,459.49 L564.4,461.95 L566.9,461.89 L569.4,461.74 L571.9,461.09 L574.4,463.11 L576.9,461.81 L579.4,461.43 L581.9,456.45 L584.4,462.39 L586.9,463.26 L589.4,460.13 L591.9,459.84 L594.4,464.66 L596.9,457.39 L599.4,461.86 L601.9,465.79 L604.4,459.21 L606.9,462.47 L609.4,464.89 L611.9,460.97 L614.4,462.38 L616.9,463.10 L619.4,459.57 L621.9,461.23 L624.4,462.04 L626.9,463.13 L629.4,461.47 L631.9,461.19 L634.4,459.60 L636.9,460.93 L639.4,463.43 L641.9,461.90" fill="none" stroke="#6a6a6a" stroke-width="0.9"/>
<path d="M482.0,461.70 L483.0,461.69 L484.0,461.68 L485.0,461.66 L486.0,461.65 L487.0,461.64 L488.0,461.63 L489.0,461.62 L490.0,461.60 L491.0,461.59 L492.0,461.58 L493.0,461.56 L494.0,461.55 L495.0,461.53 L496.0,461.52 L497.0,461.50 L498.0,461.48 L499.0,461.47 L500.0,461.45 L501.0,461.43 L502.0,461.41 L503.0,461.39 L504.0,461.38 L505.0,461.36 L506.0,461.34 L507.0,461.32 L508.0,461.30 L509.0,461.28 L510.0,461.26 L511.0,461.23 L512.0,461.21 L513.0,461.19 L514.0,461.17 L515.0,461.15 L516.0,461.13 L517.0,461.10 L518.0,461.08 L519.0,461.06 L520.0,461.04 L521.0,461.01 L522.0,460.99 L523.0,460.97 L524.0,460.94 L525.0,460.92 L526.0,460.90 L527.0,460.88 L528.0,460.85 L529.0,460.83 L530.0,460.81 L531.0,460.79 L532.0,460.77 L533.0,460.75 L534.0,460.73 L535.0,460.71 L536.0,460.69 L537.0,460.67 L538.0,460.65 L539.0,460.63 L540.0,460.61 L541.0,460.59 L542.0,460.58 L543.0,460.56 L544.0,460.54 L545.0,460.53 L546.0,460.52 L547.0,460.50 L548.0,460.49 L549.0,460.48 L550.0,460.47 L551.0,460.46 L552.0,460.45 L553.0,460.44 L554.0,460.43 L555.0,460.42 L556.0,460.42 L557.0,460.41 L558.0,460.41 L559.0,460.40 L560.0,460.40 L561.0,460.40 L562.0,460.40 L563.0,460.40 L564.0,460.40 L565.0,460.40 L566.0,460.41 L567.0,460.41 L568.0,460.42 L569.0,460.42 L570.0,460.43 L571.0,460.44 L572.0,460.45 L573.0,460.46 L574.0,460.47 L575.0,460.48 L576.0,460.49 L577.0,460.50 L578.0,460.52 L579.0,460.53 L580.0,460.54 L581.0,460.56 L582.0,460.58 L583.0,460.59 L584.0,460.61 L585.0,460.63 L586.0,460.65 L587.0,460.67 L588.0,460.69 L589.0,460.71 L590.0,460.73 L591.0,460.75 L592.0,460.77 L593.0,460.79 L594.0,460.81 L595.0,460.83 L596.0,460.85 L597.0,460.88 L598.0,460.90 L599.0,460.92 L600.0,460.94 L601.0,460.97 L602.0,460.99 L603.0,461.01 L604.0,461.04 L605.0,461.06 L606.0,461.08 L607.0,461.10 L608.0,461.13 L609.0,461.15 L610.0,461.17 L611.0,461.19 L612.0,461.21 L613.0,461.23 L614.0,461.26 L615.0,461.28 L616.0,461.30 L617.0,461.32 L618.0,461.34 L619.0,461.36 L620.0,461.38 L621.0,461.39 L622.0,461.41 L623.0,461.43 L624.0,461.45 L625.0,461.47 L626.0,461.48 L627.0,461.50 L628.0,461.52 L629.0,461.53 L630.0,461.55 L631.0,461.56 L632.0,461.58 L633.0,461.59 L634.0,461.60 L635.0,461.62 L636.0,461.63 L637.0,461.64 L638.0,461.65 L639.0,461.66 L640.0,461.68 L641.0,461.69 L642.0,461.70" fill="none" stroke="#d42828" stroke-width="1.5"/>
<path d="M454.3,502.98 L455.3,502.98 L456.3,502.98 L457.3,502.97 L458.3,502.97 L459.3,502.97 L460.3,502.96 L461.3,502.96 L462.3,502.95 L463.3,502.95 L464.3,502.94 L465.3,502.93 L466.3,502.92 L467.3,502.92 L468.3,502.91 L469.3,502.90 L470.3,502.88 L471.3,502.87 L472.3,502.86 L473.3,502.84 L474.3,502.82 L475.3,502.81 L476.3,502.79 L477.3,502.76 L478.3,502.74 L479.3,502.72 L480.3,502.69 L481.3,502.66 L482.3,502.63 L483.3,502.59 L484.3,502.56 L485.3,502.52 L486.3,502.48 L487.3,502.44 L488.3,502.39 L489.3,502.34 L490.3,502.29 L491.3,502.24 L492.3,502.18 L493.3,502.12 L494.3,502.06 L495.3,501.99 L496.3,501.92 L497.3,501.85 L498.3,501.78 L499.3,501.70 L500.3,501.62 L501.3,501.54 L502.3,501.46 L503.3,501.37 L504.3,501.28 L505.3,501.19 L506.3,501.10 L507.3,501.01 L508.3,500.91 L509.3,500.82 L510.3,500.72 L511.3,500.62 L512.3,500.53 L513.3,500.43 L514.3,500.33 L515.3,500.24 L516.3,500.14 L517.3,500.05 L518.3,499.96 L519.3,499.87 L520.3,499.78 L521.3,499.70 L522.3,499.62 L523.3,499.54 L524.3,499.47 L525.3,499.40 L526.3,499.34 L527.3,499.28 L528.3,499.22 L529.3,499.18 L530.3,499.13 L531.3,499.10 L532.3,499.06 L533.3,499.04 L534.3,499.02 L535.3,499.01 L536.3,499.00 L537.3,499.00 L538.3,499.01 L539.3,499.02 L540.3,499.04 L541.3,499.06 L542.3,499.10 L543.3,499.13 L544.3,499.18 L545.3,499.22 L546.3,499.28 L547.3,499.34 L548.3,499.40 L549.3,499.47 L550.3,499.54 L551.3,499.62 L552.3,499.70 L553.3,499.78 L554.3,499.87 L555.3,499.96 L556.3,500.05 L557.3,500.14 L558.3,500.24 L559.3,500.33 L560.3,500.43 L561.3,500.53 L562.3,500.62 L563.3,500.72 L564.3,500.82 L565.3,500.91 L566.3,501.01 L567.3,501.10 L568.3,501.19 L569.3,501.28 L570.3,501.37 L571.3,501.46 L572.3,501.54 L573.3,501.62 L574.3,501.70 L575.3,501.78 L576.3,501.85 L577.3,501.92 L578.3,501.99 L579.3,502.06 L580.3,502.12 L581.3,502.18 L582.3,502.24 L583.3,502.29 L584.3,502.34 L585.3,502.39 L586.3,502.44 L587.3,502.48 L588.3,502.52 L589.3,502.56 L590.3,502.59 L591.3,502.63 L592.3,502.66 L593.3,502.69 L594.3,502.72 L595.3,502.74 L596.3,502.76 L597.3,502.79 L598.3,502.81 L599.3,502.82 L600.3,502.84 L601.3,502.86 L602.3,502.87 L603.3,502.88 L604.3,502.90 L605.3,502.91 L606.3,502.92 L607.3,502.92 L608.3,502.93 L609.3,502.94 L610.3,502.95 L611.3,502.95 L612.3,502.96 L613.3,502.96 L614.3,502.97 L615.3,502.97 L616.3,502.97 L617.3,502.98 L618.3,502.98 L619.3,502.98 L619.3,503.00 L454.3,503.00 Z" fill="url(#gr)" stroke="none"/>
<line x1="441.9" y1="503" x2="643.6" y2="503" stroke="#3a9a3a" stroke-width="1.3"/>
<path d="M441.9,501.31 L444.4,501.33 L446.9,508.27 L449.4,505.25 L451.9,504.25 L454.4,497.85 L456.9,504.21 L459.4,503.92 L461.9,506.29 L464.4,503.79 L466.9,502.79 L469.4,503.93 L471.9,499.01 L474.4,504.87 L476.9,503.42 L479.4,501.32 L481.9,505.27 L484.4,506.14 L486.9,499.68 L489.4,501.02 L491.9,502.78 L494.4,502.41 L496.9,501.09 L499.4,499.76 L501.9,505.69 L504.4,503.33 L506.9,498.68 L509.4,498.14 L511.9,503.94 L514.4,502.28 L516.9,503.69 L519.4,501.46 L521.9,497.92 L524.4,499.98 L526.9,495.02 L529.4,497.69 L531.9,498.96 L534.4,500.05 L536.9,497.56 L539.4,498.78 L541.9,499.99 L544.4,499.93 L546.9,500.58 L549.4,499.89 L551.9,499.03 L554.4,501.44 L556.9,500.20 L559.4,498.71 L561.9,499.34 L564.4,500.82 L566.9,500.85 L569.4,501.60 L571.9,501.51 L574.4,502.06 L576.9,501.63 L579.4,499.57 L581.9,503.05 L584.4,504.43 L586.9,503.32 L589.4,502.19 L591.9,503.53 L594.4,500.81 L596.9,499.02 L599.4,502.94 L601.9,501.02 L604.4,504.36 L606.9,500.78 L609.4,497.74 L611.9,500.90 L614.4,506.09 L616.9,502.22 L619.4,500.27 L621.9,501.48 L624.4,504.02 L626.9,503.98 L629.4,503.35 L631.9,505.94 L634.4,504.40 L636.9,502.96 L639.4,504.18 L641.9,506.28" fill="none" stroke="#6a6a6a" stroke-width="0.9"/>
<path d="M466.8,502.92 L467.8,502.91 L468.8,502.90 L469.8,502.89 L470.8,502.88 L471.8,502.86 L472.8,502.85 L473.8,502.83 L474.8,502.82 L475.8,502.80 L476.8,502.78 L477.8,502.75 L478.8,502.73 L479.8,502.70 L480.8,502.67 L481.8,502.64 L482.8,502.61 L483.8,502.58 L484.8,502.54 L485.8,502.50 L486.8,502.46 L487.8,502.41 L488.8,502.37 L489.8,502.32 L490.8,502.26 L491.8,502.21 L492.8,502.15 L493.8,502.09 L494.8,502.02 L495.8,501.96 L496.8,501.89 L497.8,501.82 L498.8,501.74 L499.8,501.66 L500.8,501.58 L501.8,501.50 L502.8,501.41 L503.8,501.33 L504.8,501.24 L505.8,501.15 L506.8,501.05 L507.8,500.96 L508.8,500.86 L509.8,500.77 L510.8,500.67 L511.8,500.57 L512.8,500.48 L513.8,500.38 L514.8,500.28 L515.8,500.19 L516.8,500.10 L517.8,500.00 L518.8,499.91 L519.8,499.83 L520.8,499.74 L521.8,499.66 L522.8,499.58 L523.8,499.51 L524.8,499.44 L525.8,499.37 L526.8,499.31 L527.8,499.25 L528.8,499.20 L529.8,499.15 L530.8,499.11 L531.8,499.08 L532.8,499.05 L533.8,499.03 L534.8,499.01 L535.8,499.00 L536.8,499.00 L537.8,499.00 L538.8,499.01 L539.8,499.03 L540.8,499.05 L541.8,499.08 L542.8,499.11 L543.8,499.15 L544.8,499.20 L545.8,499.25 L546.8,499.31 L547.8,499.37 L548.8,499.44 L549.8,499.51 L550.8,499.58 L551.8,499.66 L552.8,499.74 L553.8,499.83 L554.8,499.91 L555.8,500.00 L556.8,500.10 L557.8,500.19 L558.8,500.28 L559.8,500.38 L560.8,500.48 L561.8,500.57 L562.8,500.67 L563.8,500.77 L564.8,500.86 L565.8,500.96 L566.8,501.05 L567.8,501.15 L568.8,501.24 L569.8,501.33 L570.8,501.41 L571.8,501.50 L572.8,501.58 L573.8,501.66 L574.8,501.74 L575.8,501.82 L576.8,501.89 L577.8,501.96 L578.8,502.02 L579.8,502.09 L580.8,502.15 L581.8,502.21 L582.8,502.26 L583.8,502.32 L584.8,502.37 L585.8,502.41 L586.8,502.46 L587.8,502.50 L588.8,502.54 L589.8,502.58 L590.8,502.61 L591.8,502.64 L592.8,502.67 L593.8,502.70 L594.8,502.73 L595.8,502.75 L596.8,502.78 L597.8,502.80 L598.8,502.82 L599.8,502.83 L600.8,502.85 L601.8,502.86 L602.8,502.88 L603.8,502.89 L604.8,502.90 L605.8,502.91 L606.8,502.92" fill="none" stroke="#d42828" stroke-width="1.5"/>
<line x1="441.9" y1="545.2" x2="643.6" y2="545.2" stroke="#3a9a3a" stroke-width="1.3"/>
<path d="M441.9,547.12 L444.4,547.23 L446.9,543.06 L449.4,544.91 L451.9,546.65 L454.4,544.62 L456.9,547.33 L459.4,546.40 L461.9,547.02 L464.4,544.82 L466.9,550.29 L469.4,547.72 L471.9,544.86 L474.4,545.49 L476.9,550.49 L479.4,544.71 L481.9,547.17 L484.4,547.43 L486.9,545.57 L489.4,543.32 L491.9,546.09 L494.4,546.52 L496.9,548.14 L499.4,547.56 L501.9,546.17 L504.4,547.92 L506.9,547.41 L509.4,546.85 L511.9,546.65 L514.4,546.14 L516.9,548.05 L519.4,544.66 L521.9,545.54 L524.4,546.81 L526.9,543.90 L529.4,545.91 L531.9,542.75 L534.4,545.31 L536.9,547.71 L539.4,547.61 L541.9,546.28 L544.4,545.83 L546.9,543.37 L549.4,549.68 L551.9,546.98 L554.4,548.02 L556.9,544.01 L559.4,545.30 L561.9,541.99 L564.4,547.07 L566.9,547.31 L569.4,541.65 L571.9,545.26 L574.4,546.58 L576.9,541.81 L579.4,541.66 L581.9,543.15 L584.4,544.00 L586.9,542.45 L589.4,545.28 L591.9,545.71 L594.4,546.47 L596.9,546.60 L599.4,548.18 L601.9,547.51 L604.4,542.60 L606.9,544.20 L609.4,543.10 L611.9,543.07 L614.4,545.04 L616.9,545.21 L619.4,546.17 L621.9,542.06 L624.4,542.75 L626.9,545.15 L629.4,544.81 L631.9,544.58 L634.4,545.07 L636.9,543.70 L639.4,546.59 L641.9,545.90" fill="none" stroke="#6a6a6a" stroke-width="0.9"/>
<path d="M470.0,545.27 L471.0,545.28 L472.0,545.29 L473.0,545.30 L474.0,545.31 L475.0,545.32 L476.0,545.33 L477.0,545.35 L478.0,545.36 L479.0,545.38 L480.0,545.40 L481.0,545.42 L482.0,545.44 L483.0,545.46 L484.0,545.48 L485.0,545.51 L486.0,545.53 L487.0,545.56 L488.0,545.59 L489.0,545.62 L490.0,545.65 L491.0,545.68 L492.0,545.72 L493.0,545.76 L494.0,545.79 L495.0,545.83 L496.0,545.87 L497.0,545.91 L498.0,545.95 L499.0,546.00 L500.0,546.04 L501.0,546.08 L502.0,546.13 L503.0,546.17 L504.0,546.21 L505.0,546.26 L506.0,546.30 L507.0,546.34 L508.0,546.39 L509.0,546.43 L510.0,546.47 L511.0,546.51 L512.0,546.54 L513.0,546.58 L514.0,546.61 L515.0,546.64 L516.0,546.67 L517.0,546.70 L518.0,546.72 L519.0,546.74 L520.0,546.76 L521.0,546.77 L522.0,546.79 L523.0,546.79 L524.0,546.80 L525.0,546.80 L526.0,546.80 L527.0,546.79 L528.0,546.79 L529.0,546.77 L530.0,546.76 L531.0,546.74 L532.0,546.72 L533.0,546.70 L534.0,546.67 L535.0,546.64 L536.0,546.61 L537.0,546.58 L538.0,546.54 L539.0,546.51 L540.0,546.47 L541.0,546.43 L542.0,546.39 L543.0,546.34 L544.0,546.30 L545.0,546.26 L546.0,546.21 L547.0,546.17 L548.0,546.13 L549.0,546.08 L550.0,546.04 L551.0,546.00 L552.0,545.95 L553.0,545.91 L554.0,545.87 L555.0,545.83 L556.0,545.79 L557.0,545.76 L558.0,545.72 L559.0,545.68 L560.0,545.65 L561.0,545.62 L562.0,545.59 L563.0,545.56 L564.0,545.53 L565.0,545.51 L566.0,545.48 L567.0,545.46 L568.0,545.44 L569.0,545.42 L570.0,545.40 L571.0,545.38 L572.0,545.36 L573.0,545.35 L574.0,545.33 L575.0,545.32 L576.0,545.31 L577.0,545.30 L578.0,545.29 L579.0,545.28 L580.0,545.27" fill="none" stroke="#d42828" stroke-width="1.5"/>
<line x1="532.6" y1="322" x2="532.6" y2="430" stroke="#555" stroke-width="0.6" stroke-dasharray="1,1.5"/>
</g>
<rect x="441.9" y="306.7" width="201.70000000000005" height="260.40000000000003" fill="none" stroke="#222" stroke-width="1.4"/>
<line x1="460.2" y1="567.1" x2="460.2" y2="568.6" stroke="#222" stroke-width="1"/>
<line x1="496.9" y1="567.1" x2="496.9" y2="568.6" stroke="#222" stroke-width="1"/>
<line x1="533.6" y1="567.1" x2="533.6" y2="568.6" stroke="#222" stroke-width="1"/>
<line x1="570.3" y1="567.1" x2="570.3" y2="568.6" stroke="#222" stroke-width="1"/>
<line x1="606.9" y1="567.1" x2="606.9" y2="568.6" stroke="#222" stroke-width="1"/>
<line x1="643.6" y1="567.1" x2="643.6" y2="568.6" stroke="#222" stroke-width="1"/>
<text x="460.2" y="577.9" font-size="9.5" text-anchor="middle" font-weight="bold">108</text>
<text x="496.9" y="577.9" font-size="9.5" text-anchor="middle" font-weight="bold">106</text>
<text x="533.6" y="577.9" font-size="9.5" text-anchor="middle" font-weight="bold">104</text>
<text x="570.3" y="577.9" font-size="9.5" text-anchor="middle" font-weight="bold">102</text>
<text x="606.9" y="577.9" font-size="9.5" text-anchor="middle" font-weight="bold">100</text>
<text x="643.6" y="577.9" font-size="9.5" text-anchor="middle" font-weight="bold">98</text>
<text x="492.4" y="592.0" font-size="12.7" text-anchor="start" font-weight="bold" textLength="104.6" lengthAdjust="spacingAndGlyphs">Binding Energy / eV</text>
<text x="446.3" y="322.9" font-size="14.9" text-anchor="start" font-weight="bold" textLength="30.3" lengthAdjust="spacingAndGlyphs">Si 2p</text>
<text x="451.6" y="336.6" font-size="9.4" text-anchor="start" font-weight="bold">Pristine</text>
<text x="451.6" y="370.6" font-size="9.6" text-anchor="start" font-weight="bold">BL+1.5%DTD</text>
<text x="450.3" y="400.7" font-size="9.6" text-anchor="start" font-weight="bold">BL+1%DTD+0.5%PES</text>
<text x="450.3" y="446.7" font-size="9.6" text-anchor="start" font-weight="bold">BL+0.5%TMSB</text>
<text x="451.6" y="487.8" font-size="9.6" text-anchor="start" font-weight="bold">BL+0.5%TTSP</text>
<text x="451.6" y="526.0" font-size="9.6" text-anchor="start" font-weight="bold">BL+0.5%MMDS</text>
<text x="528.1" y="319.7" font-size="8.0" font-weight="bold" textLength="16" lengthAdjust="spacingAndGlyphs"><tspan dy="0">SiO</tspan><tspan dy="1.3" font-style="italic" font-size="8.0">x</tspan></text>
<clipPath id="cLi"><rect x="4.7" y="632.5" width="205.60000000000002" height="258.4"/></clipPath>
<g clip-path="url(#cLi)">
<line x1="4.7" y1="676.3" x2="210.3" y2="676.3" stroke="#3d8045" stroke-width="1.3"/>
<path d="M4.7,676.22 L6.7,676.40 L8.7,676.98 L10.7,676.25 L12.7,676.31 L14.7,676.44 L16.7,675.80 L18.7,676.32 L20.7,676.51 L22.7,676.77 L24.7,675.65 L26.7,675.99 L28.7,675.65 L30.7,676.80 L32.7,676.61 L34.7,675.57 L36.7,677.07 L38.7,677.04 L40.7,676.55 L42.7,676.48 L44.7,675.75 L46.7,675.52 L48.7,676.35 L50.7,675.60 L52.7,675.80 L54.7,675.89 L56.7,675.55 L58.7,676.24 L60.7,676.20 L62.7,676.85 L64.7,676.33 L66.7,676.52 L68.7,676.30 L70.7,676.56 L72.7,676.23 L74.7,675.95 L76.7,677.10 L78.7,677.09 L80.7,676.84 L82.7,676.63 L84.7,676.00 L86.7,675.87 L88.7,675.96 L90.7,675.61 L92.7,676.73 L94.7,676.14 L96.7,676.85 L98.7,676.12 L100.7,677.03 L102.7,676.86 L104.7,675.50 L106.7,675.84 L108.7,676.96 L110.7,676.25 L112.7,677.07 L114.7,676.14 L116.7,675.62 L118.7,676.51 L120.7,676.75 L122.7,675.93 L124.7,675.64 L126.7,676.03 L128.7,677.04 L130.7,676.71 L132.7,675.69 L134.7,675.89 L136.7,675.66 L138.7,675.60 L140.7,676.78 L142.7,675.78 L144.7,676.39 L146.7,676.22 L148.7,675.81 L150.7,676.67 L152.7,675.71 L154.7,676.53 L156.7,675.69 L158.7,676.17 L160.7,675.84 L162.7,675.93 L164.7,677.05 L166.7,676.79 L168.7,675.99 L170.7,676.92 L172.7,675.84 L174.7,676.13 L176.7,676.87 L178.7,676.53 L180.7,675.66 L182.7,677.08 L184.7,675.84 L186.7,675.91 L188.7,676.74 L190.7,676.03 L192.7,675.97 L194.7,675.62 L196.7,675.64 L198.7,676.43 L200.7,675.89 L202.7,676.46 L204.7,676.09 L206.7,676.23 L208.7,677.03" fill="none" stroke="#6a6a6a" stroke-width="0.9"/>
<path d="M82.1,711.56 L83.1,711.54 L84.1,711.50 L85.1,711.46 L86.1,711.41 L87.1,711.35 L88.1,711.28 L89.1,711.20 L90.1,711.10 L91.1,711.00 L92.1,710.87 L93.1,710.72 L94.1,710.56 L95.1,710.37 L96.1,710.15 L97.1,709.90 L98.1,709.63 L99.1,709.32 L100.1,708.97 L101.1,708.59 L102.1,708.16 L103.1,707.69 L104.1,707.17 L105.1,706.61 L106.1,706.00 L107.1,705.34 L108.1,704.62 L109.1,703.86 L110.1,703.04 L111.1,702.17 L112.1,701.26 L113.1,700.30 L114.1,699.30 L115.1,698.25 L116.1,697.18 L117.1,696.08 L118.1,694.95 L119.1,693.81 L120.1,692.66 L121.1,691.51 L122.1,690.37 L123.1,689.25 L124.1,688.15 L125.1,687.10 L126.1,686.09 L127.1,685.13 L128.1,684.25 L129.1,683.43 L130.1,682.70 L131.1,682.06 L132.1,681.52 L133.1,681.08 L134.1,680.74 L135.1,680.52 L136.1,680.41 L137.1,680.42 L138.1,680.57 L139.1,680.85 L140.1,681.26 L141.1,681.81 L142.1,682.47 L143.1,683.25 L144.1,684.12 L145.1,685.09 L146.1,686.14 L147.1,687.26 L148.1,688.43 L149.1,689.64 L150.1,690.89 L151.1,692.15 L152.1,693.41 L153.1,694.67 L154.1,695.91 L155.1,697.13 L156.1,698.31 L157.1,699.45 L158.1,700.55 L159.1,701.59 L160.1,702.57 L161.1,703.50 L162.1,704.36 L163.1,705.17 L164.1,705.91 L165.1,706.58 L166.1,707.20 L167.1,707.77 L168.1,708.27 L169.1,708.73 L170.1,709.13 L171.1,709.49 L172.1,709.81 L173.1,710.09 L174.1,710.34 L175.1,710.55 L176.1,710.73 L177.1,710.89 L178.1,711.02 L179.1,711.14 L180.1,711.24 L181.1,711.32 L182.1,711.39 L183.1,711.45 L184.1,711.49 L185.1,711.53 L185.1,711.70 L82.1,711.70 Z" fill="url(#gr)" stroke="none"/>
<line x1="4.7" y1="711.7" x2="210.3" y2="711.7" stroke="#3d8045" stroke-width="1.3"/>
<path d="M4.7,711.67 L6.7,711.82 L8.7,712.29 L10.7,711.19 L12.7,711.15 L14.7,712.35 L16.7,712.21 L18.7,711.30 L20.7,711.20 L22.7,712.08 L24.7,712.40 L26.7,711.21 L28.7,712.42 L30.7,712.31 L32.7,711.87 L34.7,711.57 L36.7,711.07 L38.7,710.96 L40.7,712.44 L42.7,711.28 L44.7,712.03 L46.7,711.31 L48.7,712.22 L50.7,711.85 L52.7,711.37 L54.7,711.18 L56.7,712.05 L58.7,711.01 L60.7,711.26 L62.7,711.79 L64.7,712.26 L66.7,711.88 L68.7,711.34 L70.7,712.36 L72.7,711.21 L74.7,710.90 L76.7,711.29 L78.7,711.55 L80.7,710.89 L82.7,711.03 L84.7,711.26 L86.7,711.49 L88.7,710.64 L90.7,710.81 L92.7,711.40 L94.7,711.20 L96.7,710.24 L98.7,709.74 L100.7,708.86 L102.7,707.28 L104.7,706.07 L106.7,704.80 L108.7,704.79 L110.7,702.80 L112.7,701.38 L114.7,697.86 L116.7,696.68 L118.7,694.18 L120.7,692.28 L122.7,689.35 L124.7,688.26 L126.7,684.78 L128.7,683.78 L130.7,682.65 L132.7,681.86 L134.7,680.97 L136.7,680.73 L138.7,681.20 L140.7,682.27 L142.7,682.73 L144.7,685.04 L146.7,687.50 L148.7,689.81 L150.7,691.57 L152.7,694.70 L154.7,697.29 L156.7,699.18 L158.7,701.43 L160.7,702.99 L162.7,705.02 L164.7,706.53 L166.7,706.90 L168.7,708.80 L170.7,710.16 L172.7,710.61 L174.7,710.84 L176.7,710.66 L178.7,711.48 L180.7,711.42 L182.7,711.33 L184.7,712.06 L186.7,710.92 L188.7,712.03 L190.7,710.90 L192.7,711.83 L194.7,711.65 L196.7,711.26 L198.7,712.01 L200.7,711.69 L202.7,711.88 L204.7,712.37 L206.7,711.31 L208.7,710.92" fill="none" stroke="#6a6a6a" stroke-width="0.9"/>
<path d="M90.3,711.08 L91.3,710.97 L92.3,710.83 L93.3,710.68 L94.3,710.51 L95.3,710.31 L96.3,710.09 L97.3,709.84 L98.3,709.55 L99.3,709.24 L100.3,708.88 L101.3,708.48 L102.3,708.05 L103.3,707.57 L104.3,707.04 L105.3,706.46 L106.3,705.84 L107.3,705.16 L108.3,704.43 L109.3,703.66 L110.3,702.83 L111.3,701.95 L112.3,701.02 L113.3,700.05 L114.3,699.04 L115.3,697.99 L116.3,696.91 L117.3,695.80 L118.3,694.66 L119.3,693.52 L120.3,692.37 L121.3,691.22 L122.3,690.09 L123.3,688.97 L124.3,687.89 L125.3,686.84 L126.3,685.84 L127.3,684.91 L128.3,684.04 L129.3,683.24 L130.3,682.53 L131.3,681.92 L132.3,681.40 L133.3,680.98 L134.3,680.68 L135.3,680.48 L136.3,680.40 L137.3,680.44 L138.3,680.62 L139.3,680.94 L140.3,681.39 L141.3,681.96 L142.3,682.65 L143.3,683.46 L144.3,684.36 L145.3,685.35 L146.3,686.42 L147.3,687.55 L148.3,688.73 L149.3,689.95 L150.3,691.20 L151.3,692.46 L152.3,693.73 L153.3,694.98 L154.3,696.22 L155.3,697.43 L156.3,698.60 L157.3,699.73 L158.3,700.81 L159.3,701.84 L160.3,702.81 L161.3,703.72 L162.3,704.57 L163.3,705.36 L164.3,706.08 L165.3,706.74 L166.3,707.35 L167.3,707.90 L168.3,708.39 L169.3,708.83 L170.3,709.23 L171.3,709.58 L172.3,709.89 L173.3,710.16 L174.3,710.39 L175.3,710.60 L176.3,710.77 L177.3,710.93 L178.3,711.06" fill="none" stroke="#d42828" stroke-width="1.5"/>
<path d="M68.5,753.74 L69.5,753.73 L70.5,753.71 L71.5,753.70 L72.5,753.68 L73.5,753.66 L74.5,753.64 L75.5,753.61 L76.5,753.58 L77.5,753.55 L78.5,753.51 L79.5,753.47 L80.5,753.42 L81.5,753.37 L82.5,753.31 L83.5,753.24 L84.5,753.16 L85.5,753.08 L86.5,752.99 L87.5,752.88 L88.5,752.77 L89.5,752.65 L90.5,752.51 L91.5,752.36 L92.5,752.20 L93.5,752.03 L94.5,751.84 L95.5,751.63 L96.5,751.42 L97.5,751.18 L98.5,750.93 L99.5,750.66 L100.5,750.38 L101.5,750.08 L102.5,749.77 L103.5,749.44 L104.5,749.09 L105.5,748.73 L106.5,748.36 L107.5,747.97 L108.5,747.57 L109.5,747.16 L110.5,746.74 L111.5,746.32 L112.5,745.88 L113.5,745.44 L114.5,745.01 L115.5,744.57 L116.5,744.13 L117.5,743.70 L118.5,743.27 L119.5,742.85 L120.5,742.45 L121.5,742.06 L122.5,741.69 L123.5,741.34 L124.5,741.00 L125.5,740.70 L126.5,740.41 L127.5,740.16 L128.5,739.94 L129.5,739.75 L130.5,739.59 L131.5,739.46 L132.5,739.37 L133.5,739.32 L134.5,739.30 L135.5,739.32 L136.5,739.39 L137.5,739.50 L138.5,739.65 L139.5,739.85 L140.5,740.08 L141.5,740.36 L142.5,740.66 L143.5,741.00 L144.5,741.37 L145.5,741.77 L146.5,742.19 L147.5,742.63 L148.5,743.08 L149.5,743.55 L150.5,744.03 L151.5,744.52 L152.5,745.01 L153.5,745.49 L154.5,745.98 L155.5,746.46 L156.5,746.93 L157.5,747.39 L158.5,747.84 L159.5,748.27 L160.5,748.69 L161.5,749.09 L162.5,749.48 L163.5,749.84 L164.5,750.18 L165.5,750.51 L166.5,750.81 L167.5,751.10 L168.5,751.36 L169.5,751.61 L170.5,751.84 L171.5,752.05 L172.5,752.24 L173.5,752.41 L174.5,752.57 L175.5,752.72 L176.5,752.85 L177.5,752.96 L178.5,753.07 L179.5,753.16 L180.5,753.25 L181.5,753.32 L182.5,753.39 L183.5,753.44 L184.5,753.49 L185.5,753.54 L186.5,753.58 L187.5,753.61 L188.5,753.64 L189.5,753.66 L190.5,753.69 L191.5,753.70 L192.5,753.72 L193.5,753.73 L193.5,753.80 L68.5,753.80 Z" fill="url(#gr)" stroke="none"/>
<line x1="4.7" y1="753.8" x2="210.3" y2="753.8" stroke="#3d8045" stroke-width="1.3"/>
<path d="M4.7,753.48 L6.7,754.09 L8.7,753.32 L10.7,753.27 L12.7,754.45 L14.7,754.06 L16.7,753.71 L18.7,754.43 L20.7,753.52 L22.7,754.07 L24.7,753.32 L26.7,753.69 L28.7,754.29 L30.7,754.46 L32.7,754.41 L34.7,753.62 L36.7,753.93 L38.7,753.51 L40.7,753.22 L42.7,753.79 L44.7,754.34 L46.7,754.36 L48.7,754.14 L50.7,754.52 L52.7,753.44 L54.7,753.27 L56.7,753.71 L58.7,753.43 L60.7,753.33 L62.7,753.64 L64.7,753.97 L66.7,753.74 L68.7,753.44 L70.7,754.25 L72.7,754.45 L74.7,753.56 L76.7,752.90 L78.7,752.75 L80.7,754.01 L82.7,752.56 L84.7,753.48 L86.7,753.08 L88.7,752.44 L90.7,752.95 L92.7,751.40 L94.7,751.22 L96.7,751.30 L98.7,750.12 L100.7,750.85 L102.7,749.28 L104.7,748.45 L106.7,747.56 L108.7,747.70 L110.7,746.57 L112.7,746.00 L114.7,745.17 L116.7,744.53 L118.7,743.92 L120.7,742.67 L122.7,741.14 L124.7,740.90 L126.7,739.85 L128.7,739.11 L130.7,739.51 L132.7,739.70 L134.7,738.79 L136.7,739.04 L138.7,739.44 L140.7,740.45 L142.7,740.76 L144.7,741.63 L146.7,742.69 L148.7,743.01 L150.7,744.60 L152.7,745.75 L154.7,745.41 L156.7,747.71 L158.7,748.28 L160.7,748.18 L162.7,749.48 L164.7,750.45 L166.7,751.53 L168.7,751.22 L170.7,751.99 L172.7,752.88 L174.7,753.08 L176.7,753.58 L178.7,753.03 L180.7,753.50 L182.7,752.93 L184.7,753.86 L186.7,754.09 L188.7,753.87 L190.7,754.04 L192.7,753.26 L194.7,754.39 L196.7,754.53 L198.7,754.54 L200.7,753.84 L202.7,754.25 L204.7,753.51 L206.7,754.45 L208.7,754.37" fill="none" stroke="#6a6a6a" stroke-width="0.9"/>
<path d="M78.5,753.51 L79.5,753.47 L80.5,753.42 L81.5,753.37 L82.5,753.31 L83.5,753.24 L84.5,753.16 L85.5,753.08 L86.5,752.99 L87.5,752.88 L88.5,752.77 L89.5,752.65 L90.5,752.51 L91.5,752.36 L92.5,752.20 L93.5,752.03 L94.5,751.84 L95.5,751.63 L96.5,751.42 L97.5,751.18 L98.5,750.93 L99.5,750.66 L100.5,750.38 L101.5,750.08 L102.5,749.77 L103.5,749.44 L104.5,749.09 L105.5,748.73 L106.5,748.36 L107.5,747.97 L108.5,747.57 L109.5,747.16 L110.5,746.74 L111.5,746.32 L112.5,745.88 L113.5,745.44 L114.5,745.01 L115.5,744.57 L116.5,744.13 L117.5,743.70 L118.5,743.27 L119.5,742.85 L120.5,742.45 L121.5,742.06 L122.5,741.69 L123.5,741.34 L124.5,741.00 L125.5,740.70 L126.5,740.41 L127.5,740.16 L128.5,739.94 L129.5,739.75 L130.5,739.59 L131.5,739.46 L132.5,739.37 L133.5,739.32 L134.5,739.30 L135.5,739.32 L136.5,739.39 L137.5,739.50 L138.5,739.65 L139.5,739.85 L140.5,740.08 L141.5,740.36 L142.5,740.66 L143.5,741.00 L144.5,741.37 L145.5,741.77 L146.5,742.19 L147.5,742.63 L148.5,743.08 L149.5,743.55 L150.5,744.03 L151.5,744.52 L152.5,745.01 L153.5,745.49 L154.5,745.98 L155.5,746.46 L156.5,746.93 L157.5,747.39 L158.5,747.84 L159.5,748.27 L160.5,748.69 L161.5,749.09 L162.5,749.48 L163.5,749.84 L164.5,750.18 L165.5,750.51 L166.5,750.81 L167.5,751.10 L168.5,751.36 L169.5,751.61 L170.5,751.84 L171.5,752.05 L172.5,752.24 L173.5,752.41 L174.5,752.57 L175.5,752.72 L176.5,752.85 L177.5,752.96 L178.5,753.07 L179.5,753.16 L180.5,753.25 L181.5,753.32 L182.5,753.39 L183.5,753.44 L184.5,753.49" fill="none" stroke="#d42828" stroke-width="1.5"/>
<path d="M24.8,796.94 L25.8,796.94 L26.8,796.93 L27.8,796.92 L28.8,796.91 L29.8,796.90 L30.8,796.89 L31.8,796.88 L32.8,796.87 L33.8,796.86 L34.8,796.85 L35.8,796.83 L36.8,796.81 L37.8,796.80 L38.8,796.78 L39.8,796.76 L40.8,796.73 L41.8,796.71 L42.8,796.68 L43.8,796.65 L44.8,796.62 L45.8,796.59 L46.8,796.55 L47.8,796.52 L48.8,796.48 L49.8,796.43 L50.8,796.39 L51.8,796.34 L52.8,796.28 L53.8,796.23 L54.8,796.17 L55.8,796.10 L56.8,796.03 L57.8,795.96 L58.8,795.89 L59.8,795.81 L60.8,795.72 L61.8,795.63 L62.8,795.54 L63.8,795.44 L64.8,795.33 L65.8,795.22 L66.8,795.11 L67.8,794.99 L68.8,794.86 L69.8,794.73 L70.8,794.59 L71.8,794.45 L72.8,794.30 L73.8,794.15 L74.8,793.98 L75.8,793.82 L76.8,793.64 L77.8,793.47 L78.8,793.28 L79.8,793.09 L80.8,792.90 L81.8,792.69 L82.8,792.49 L83.8,792.28 L84.8,792.06 L85.8,791.84 L86.8,791.61 L87.8,791.38 L88.8,791.15 L89.8,790.91 L90.8,790.67 L91.8,790.42 L92.8,790.17 L93.8,789.92 L94.8,789.67 L95.8,789.42 L96.8,789.16 L97.8,788.91 L98.8,788.66 L99.8,788.40 L100.8,788.15 L101.8,787.90 L102.8,787.65 L103.8,787.40 L104.8,787.16 L105.8,786.92 L106.8,786.69 L107.8,786.46 L108.8,786.23 L109.8,786.02 L110.8,785.81 L111.8,785.60 L112.8,785.41 L113.8,785.22 L114.8,785.04 L115.8,784.87 L116.8,784.71 L117.8,784.56 L118.8,784.42 L119.8,784.30 L120.8,784.18 L121.8,784.08 L122.8,783.99 L123.8,783.91 L124.8,783.84 L125.8,783.79 L126.8,783.75 L127.8,783.72 L128.8,783.70 L129.8,783.70 L130.8,783.71 L131.8,783.74 L132.8,783.78 L133.8,783.83 L134.8,783.89 L135.8,783.97 L136.8,784.06 L137.8,784.16 L138.8,784.27 L139.8,784.40 L140.8,784.53 L141.8,784.68 L142.8,784.84 L143.8,785.00 L144.8,785.18 L145.8,785.36 L146.8,785.56 L147.8,785.76 L148.8,785.97 L149.8,786.19 L150.8,786.41 L151.8,786.64 L152.8,786.87 L153.8,787.11 L154.8,787.35 L155.8,787.59 L156.8,787.84 L157.8,788.09 L158.8,788.35 L159.8,788.60 L160.8,788.85 L161.8,789.11 L162.8,789.36 L163.8,789.62 L164.8,789.87 L165.8,790.12 L166.8,790.37 L167.8,790.61 L168.8,790.85 L169.8,791.09 L170.8,791.33 L171.8,791.56 L172.8,791.79 L173.8,792.01 L174.8,792.23 L175.8,792.44 L176.8,792.65 L177.8,792.85 L178.8,793.05 L179.8,793.24 L180.8,793.43 L181.8,793.61 L182.8,793.78 L183.8,793.95 L184.8,794.11 L185.8,794.27 L186.8,794.42 L187.8,794.56 L188.8,794.70 L189.8,794.83 L190.8,794.96 L191.8,795.08 L192.8,795.20 L193.8,795.31 L194.8,795.42 L195.8,795.52 L196.8,795.61 L197.8,795.70 L198.8,795.79 L199.8,795.87 L200.8,795.95 L201.8,796.02 L202.8,796.09 L203.8,796.15 L204.8,796.21 L205.8,796.27 L206.8,796.32 L207.8,796.37 L208.8,796.42 L209.8,796.47 L209.8,797.00 L24.8,797.00 Z" fill="url(#gr)" stroke="none"/>
<line x1="4.7" y1="797" x2="210.3" y2="797" stroke="#3d8045" stroke-width="1.3"/>
<path d="M4.7,796.75 L6.7,796.33 L8.7,796.90 L10.7,797.07 L12.7,797.41 L14.7,796.96 L16.7,796.22 L18.7,797.46 L20.7,796.27 L22.7,797.43 L24.7,796.42 L26.7,796.67 L28.7,797.38 L30.7,796.32 L32.7,796.31 L34.7,796.87 L36.7,797.17 L38.7,797.32 L40.7,797.04 L42.7,797.40 L44.7,796.61 L46.7,797.28 L48.7,795.82 L50.7,795.94 L52.7,796.33 L54.7,795.84 L56.7,796.41 L58.7,796.12 L60.7,795.77 L62.7,796.10 L64.7,795.44 L66.7,794.82 L68.7,794.68 L70.7,795.16 L72.7,794.95 L74.7,793.53 L76.7,794.22 L78.7,794.05 L80.7,792.95 L82.7,792.62 L84.7,791.60 L86.7,791.69 L88.7,791.17 L90.7,790.86 L92.7,789.44 L94.7,790.45 L96.7,789.21 L98.7,788.52 L100.7,788.65 L102.7,787.77 L104.7,787.17 L106.7,787.01 L108.7,785.56 L110.7,785.89 L112.7,785.29 L114.7,785.79 L116.7,785.40 L118.7,784.07 L120.7,784.15 L122.7,783.40 L124.7,783.74 L126.7,784.25 L128.7,784.34 L130.7,783.67 L132.7,783.48 L134.7,783.39 L136.7,784.24 L138.7,784.94 L140.7,783.93 L142.7,785.27 L144.7,784.40 L146.7,785.05 L148.7,785.51 L150.7,786.69 L152.7,786.56 L154.7,787.10 L156.7,788.01 L158.7,787.69 L160.7,789.20 L162.7,788.74 L164.7,789.86 L166.7,789.94 L168.7,790.35 L170.7,791.36 L172.7,791.67 L174.7,792.01 L176.7,792.49 L178.7,793.08 L180.7,792.86 L182.7,793.29 L184.7,794.31 L186.7,794.63 L188.7,794.74 L190.7,795.51 L192.7,795.37 L194.7,795.98 L196.7,795.18 L198.7,796.17 L200.7,796.44 L202.7,796.73 L204.7,795.91 L206.7,796.02 L208.7,797.09" fill="none" stroke="#6a6a6a" stroke-width="0.9"/>
<path d="M40.6,796.74 L41.6,796.71 L42.6,796.69 L43.6,796.66 L44.6,796.63 L45.6,796.59 L46.6,796.56 L47.6,796.52 L48.6,796.48 L49.6,796.44 L50.6,796.39 L51.6,796.34 L52.6,796.29 L53.6,796.24 L54.6,796.18 L55.6,796.11 L56.6,796.05 L57.6,795.97 L58.6,795.90 L59.6,795.82 L60.6,795.73 L61.6,795.65 L62.6,795.55 L63.6,795.45 L64.6,795.35 L65.6,795.24 L66.6,795.13 L67.6,795.01 L68.6,794.88 L69.6,794.75 L70.6,794.61 L71.6,794.47 L72.6,794.32 L73.6,794.17 L74.6,794.01 L75.6,793.84 L76.6,793.67 L77.6,793.49 L78.6,793.31 L79.6,793.12 L80.6,792.93 L81.6,792.72 L82.6,792.52 L83.6,792.31 L84.6,792.09 L85.6,791.87 L86.6,791.65 L87.6,791.42 L88.6,791.18 L89.6,790.94 L90.6,790.70 L91.6,790.46 L92.6,790.21 L93.6,789.96 L94.6,789.71 L95.6,789.46 L96.6,789.20 L97.6,788.95 L98.6,788.69 L99.6,788.44 L100.6,788.19 L101.6,787.94 L102.6,787.69 L103.6,787.44 L104.6,787.20 L105.6,786.96 L106.6,786.72 L107.6,786.49 L108.6,786.27 L109.6,786.05 L110.6,785.84 L111.6,785.63 L112.6,785.43 L113.6,785.25 L114.6,785.07 L115.6,784.90 L116.6,784.73 L117.6,784.58 L118.6,784.44 L119.6,784.32 L120.6,784.20 L121.6,784.09 L122.6,784.00 L123.6,783.92 L124.6,783.85 L125.6,783.79 L126.6,783.75 L127.6,783.72 L128.6,783.70 L129.6,783.70 L130.6,783.71 L131.6,783.73 L132.6,783.77 L133.6,783.82 L134.6,783.88 L135.6,783.96 L136.6,784.04 L137.6,784.14 L138.6,784.25 L139.6,784.38 L140.6,784.51 L141.6,784.66 L142.6,784.81 L143.6,784.98 L144.6,785.15 L145.6,785.34 L146.6,785.53 L147.6,785.73 L148.6,785.94 L149.6,786.15 L150.6,786.37 L151.6,786.60 L152.6,786.83 L153.6,787.07 L154.6,787.31 L155.6,787.56 L156.6,787.81 L157.6,788.06 L158.6,788.31 L159.6,788.56 L160.6,788.82 L161.6,789.07 L162.6,789.32 L163.6,789.58 L164.6,789.83 L165.6,790.08 L166.6,790.33 L167.6,790.58 L168.6,790.82 L169.6,791.06 L170.6,791.29 L171.6,791.53 L172.6,791.75 L173.6,791.98 L174.6,792.20 L175.6,792.41 L176.6,792.62 L177.6,792.82 L178.6,793.02 L179.6,793.21 L180.6,793.40 L181.6,793.58 L182.6,793.75 L183.6,793.92 L184.6,794.09 L185.6,794.24 L186.6,794.39 L187.6,794.54 L188.6,794.68 L189.6,794.81 L190.6,794.94 L191.6,795.06 L192.6,795.18 L193.6,795.29 L194.6,795.40 L195.6,795.50 L196.6,795.60 L197.6,795.69 L198.6,795.78 L199.6,795.86 L200.6,795.94 L201.6,796.01 L202.6,796.08 L203.6,796.14 L204.6,796.20 L205.6,796.26 L206.6,796.32 L207.6,796.37 L208.6,796.42 L209.6,796.46" fill="none" stroke="#d42828" stroke-width="1.5"/>
<path d="M88.1,835.86 L89.1,835.83 L90.1,835.78 L91.1,835.73 L92.1,835.67 L93.1,835.59 L94.1,835.50 L95.1,835.39 L96.1,835.26 L97.1,835.11 L98.1,834.93 L99.1,834.73 L100.1,834.48 L101.1,834.21 L102.1,833.89 L103.1,833.53 L104.1,833.11 L105.1,832.65 L106.1,832.13 L107.1,831.55 L108.1,830.91 L109.1,830.20 L110.1,829.43 L111.1,828.59 L112.1,827.68 L113.1,826.70 L114.1,825.65 L115.1,824.55 L116.1,823.38 L117.1,822.17 L118.1,820.91 L119.1,819.61 L120.1,818.28 L121.1,816.94 L122.1,815.59 L123.1,814.26 L124.1,812.94 L125.1,811.66 L126.1,810.43 L127.1,809.27 L128.1,808.19 L129.1,807.20 L130.1,806.32 L131.1,805.55 L132.1,804.92 L133.1,804.42 L134.1,804.06 L135.1,803.86 L136.1,803.80 L137.1,803.90 L138.1,804.15 L139.1,804.55 L140.1,805.09 L141.1,805.77 L142.1,806.57 L143.1,807.49 L144.1,808.50 L145.1,809.61 L146.1,810.80 L147.1,812.04 L148.1,813.33 L149.1,814.66 L150.1,816.00 L151.1,817.34 L152.1,818.68 L153.1,820.00 L154.1,821.29 L155.1,822.54 L156.1,823.74 L157.1,824.89 L158.1,825.97 L159.1,827.00 L160.1,827.96 L161.1,828.85 L162.1,829.67 L163.1,830.42 L164.1,831.11 L165.1,831.73 L166.1,832.29 L167.1,832.80 L168.1,833.24 L169.1,833.64 L170.1,833.99 L171.1,834.29 L172.1,834.56 L173.1,834.79 L174.1,834.99 L175.1,835.16 L176.1,835.30 L177.1,835.43 L178.1,835.53 L179.1,835.62 L180.1,835.69 L181.1,835.75 L182.1,835.80 L183.1,835.84 L183.1,836.00 L88.1,836.00 Z" fill="url(#gr)" stroke="none"/>
<line x1="4.7" y1="836" x2="210.3" y2="836" stroke="#3d8045" stroke-width="1.3"/>
<path d="M4.7,835.55 L6.7,836.80 L8.7,836.62 L10.7,835.41 L12.7,835.58 L14.7,836.36 L16.7,835.62 L18.7,835.36 L20.7,836.53 L22.7,835.87 L24.7,836.46 L26.7,835.40 L28.7,835.84 L30.7,836.30 L32.7,835.23 L34.7,835.52 L36.7,836.29 L38.7,836.66 L40.7,836.75 L42.7,835.38 L44.7,836.01 L46.7,836.41 L48.7,836.00 L50.7,836.30 L52.7,835.50 L54.7,835.31 L56.7,835.37 L58.7,835.26 L60.7,836.08 L62.7,836.02 L64.7,836.11 L66.7,835.43 L68.7,835.49 L70.7,835.52 L72.7,836.54 L74.7,836.78 L76.7,836.68 L78.7,835.34 L80.7,835.28 L82.7,836.68 L84.7,835.88 L86.7,836.32 L88.7,835.56 L90.7,835.70 L92.7,835.64 L94.7,835.32 L96.7,835.33 L98.7,834.02 L100.7,834.63 L102.7,834.21 L104.7,832.31 L106.7,831.69 L108.7,830.84 L110.7,828.74 L112.7,826.56 L114.7,824.41 L116.7,822.62 L118.7,819.29 L120.7,818.04 L122.7,815.21 L124.7,812.43 L126.7,810.25 L128.7,807.74 L130.7,805.65 L132.7,804.73 L134.7,803.92 L136.7,804.62 L138.7,804.88 L140.7,805.13 L142.7,807.81 L144.7,809.61 L146.7,812.04 L148.7,814.69 L150.7,816.72 L152.7,820.18 L154.7,822.71 L156.7,824.80 L158.7,827.07 L160.7,828.97 L162.7,830.01 L164.7,831.88 L166.7,831.94 L168.7,833.25 L170.7,834.14 L172.7,833.93 L174.7,834.87 L176.7,835.61 L178.7,835.79 L180.7,835.30 L182.7,836.54 L184.7,836.15 L186.7,835.67 L188.7,836.21 L190.7,836.09 L192.7,836.04 L194.7,835.81 L196.7,836.79 L198.7,836.22 L200.7,836.32 L202.7,836.42 L204.7,836.77 L206.7,835.24 L208.7,836.18" fill="none" stroke="#6a6a6a" stroke-width="0.9"/>
<path d="M95.3,835.36 L96.3,835.23 L97.3,835.07 L98.3,834.88 L99.3,834.67 L100.3,834.42 L101.3,834.13 L102.3,833.80 L103.3,833.43 L104.3,833.00 L105.3,832.53 L106.3,831.99 L107.3,831.40 L108.3,830.74 L109.3,830.01 L110.3,829.22 L111.3,828.36 L112.3,827.44 L113.3,826.44 L114.3,825.38 L115.3,824.26 L116.3,823.09 L117.3,821.86 L118.3,820.59 L119.3,819.28 L120.3,817.95 L121.3,816.60 L122.3,815.26 L123.3,813.93 L124.3,812.62 L125.3,811.35 L126.3,810.14 L127.3,808.99 L128.3,807.93 L129.3,806.97 L130.3,806.11 L131.3,805.38 L132.3,804.78 L133.3,804.31 L134.3,804.00 L135.3,803.83 L136.3,803.81 L137.3,803.95 L138.3,804.24 L139.3,804.67 L140.3,805.25 L141.3,805.96 L142.3,806.79 L143.3,807.73 L144.3,808.77 L145.3,809.90 L146.3,811.10 L147.3,812.36 L148.3,813.66 L149.3,814.99 L150.3,816.34 L151.3,817.68 L152.3,819.01 L153.3,820.33 L154.3,821.61 L155.3,822.84 L156.3,824.03 L157.3,825.16 L158.3,826.24 L159.3,827.24 L160.3,828.18 L161.3,829.06 L162.3,829.86 L163.3,830.60 L164.3,831.27 L165.3,831.88 L166.3,832.42 L167.3,832.91 L168.3,833.35 L169.3,833.73 L170.3,834.07 L171.3,834.36 L172.3,834.62 L173.3,834.84 L174.3,835.03 L175.3,835.20 L176.3,835.34" fill="none" stroke="#d42828" stroke-width="1.5"/>
<path d="M83.6,878.68 L84.6,878.66 L85.6,878.62 L86.6,878.59 L87.6,878.54 L88.6,878.49 L89.6,878.42 L90.6,878.35 L91.6,878.26 L92.6,878.16 L93.6,878.04 L94.6,877.91 L95.6,877.75 L96.6,877.57 L97.6,877.37 L98.6,877.14 L99.6,876.88 L100.6,876.58 L101.6,876.25 L102.6,875.89 L103.6,875.49 L104.6,875.04 L105.6,874.55 L106.6,874.02 L107.6,873.44 L108.6,872.81 L109.6,872.14 L110.6,871.41 L111.6,870.65 L112.6,869.84 L113.6,868.98 L114.6,868.09 L115.6,867.16 L116.6,866.20 L117.6,865.21 L118.6,864.20 L119.6,863.18 L120.6,862.16 L121.6,861.13 L122.6,860.12 L123.6,859.12 L124.6,858.15 L125.6,857.22 L126.6,856.34 L127.6,855.50 L128.6,854.74 L129.6,854.04 L130.6,853.42 L131.6,852.89 L132.6,852.45 L133.6,852.11 L134.6,851.87 L135.6,851.73 L136.6,851.70 L137.6,851.78 L138.6,851.95 L139.6,852.24 L140.6,852.62 L141.6,853.09 L142.6,853.66 L143.6,854.31 L144.6,855.04 L145.6,855.83 L146.6,856.68 L147.6,857.59 L148.6,858.54 L149.6,859.52 L150.6,860.52 L151.6,861.54 L152.6,862.57 L153.6,863.59 L154.6,864.61 L155.6,865.61 L156.6,866.59 L157.6,867.53 L158.6,868.45 L159.6,869.33 L160.6,870.17 L161.6,870.96 L162.6,871.71 L163.6,872.41 L164.6,873.07 L165.6,873.67 L166.6,874.24 L167.6,874.75 L168.6,875.22 L169.6,875.65 L170.6,876.04 L171.6,876.39 L172.6,876.70 L173.6,876.98 L174.6,877.23 L175.6,877.45 L176.6,877.65 L177.6,877.82 L178.6,877.96 L179.6,878.09 L180.6,878.20 L181.6,878.30 L182.6,878.38 L183.6,878.45 L184.6,878.51 L185.6,878.56 L186.6,878.60 L187.6,878.64 L188.6,878.67 L188.6,878.80 L83.6,878.80 Z" fill="url(#gr)" stroke="none"/>
<line x1="4.7" y1="878.8" x2="210.3" y2="878.8" stroke="#3d8045" stroke-width="1.3"/>
<path d="M4.7,879.18 L6.7,878.41 L8.7,878.64 L10.7,878.08 L12.7,878.31 L14.7,878.60 L16.7,878.16 L18.7,878.40 L20.7,879.45 L22.7,878.88 L24.7,878.81 L26.7,879.55 L28.7,878.91 L30.7,879.59 L32.7,879.02 L34.7,879.30 L36.7,878.12 L38.7,878.96 L40.7,879.21 L42.7,878.07 L44.7,879.49 L46.7,878.26 L48.7,878.75 L50.7,878.27 L52.7,878.79 L54.7,878.98 L56.7,878.09 L58.7,879.51 L60.7,878.67 L62.7,878.84 L64.7,878.96 L66.7,878.58 L68.7,878.45 L70.7,879.04 L72.7,878.89 L74.7,878.44 L76.7,879.12 L78.7,878.43 L80.7,877.96 L82.7,878.30 L84.7,877.92 L86.7,878.03 L88.7,878.89 L90.7,878.17 L92.7,878.79 L94.7,878.29 L96.7,876.83 L98.7,877.89 L100.7,877.26 L102.7,875.17 L104.7,875.64 L106.7,873.85 L108.7,872.71 L110.7,872.10 L112.7,869.34 L114.7,868.03 L116.7,866.80 L118.7,864.46 L120.7,862.00 L122.7,860.78 L124.7,858.56 L126.7,856.42 L128.7,854.05 L130.7,853.57 L132.7,852.34 L134.7,851.38 L136.7,850.99 L138.7,852.02 L140.7,852.06 L142.7,853.63 L144.7,855.38 L146.7,856.70 L148.7,858.25 L150.7,860.75 L152.7,862.54 L154.7,865.15 L156.7,866.73 L158.7,869.34 L160.7,870.97 L162.7,872.16 L164.7,872.71 L166.7,873.67 L168.7,875.90 L170.7,876.53 L172.7,876.93 L174.7,877.03 L176.7,877.30 L178.7,878.27 L180.7,878.32 L182.7,878.53 L184.7,878.73 L186.7,879.01 L188.7,878.17 L190.7,878.31 L192.7,879.51 L194.7,879.43 L196.7,879.38 L198.7,878.05 L200.7,878.09 L202.7,878.43 L204.7,878.68 L206.7,879.00 L208.7,878.16" fill="none" stroke="#6a6a6a" stroke-width="0.9"/>
<path d="M91.6,878.26 L92.6,878.16 L93.6,878.04 L94.6,877.91 L95.6,877.75 L96.6,877.57 L97.6,877.37 L98.6,877.14 L99.6,876.88 L100.6,876.58 L101.6,876.25 L102.6,875.89 L103.6,875.49 L104.6,875.04 L105.6,874.55 L106.6,874.02 L107.6,873.44 L108.6,872.81 L109.6,872.14 L110.6,871.41 L111.6,870.65 L112.6,869.84 L113.6,868.98 L114.6,868.09 L115.6,867.16 L116.6,866.20 L117.6,865.21 L118.6,864.20 L119.6,863.18 L120.6,862.16 L121.6,861.13 L122.6,860.12 L123.6,859.12 L124.6,858.15 L125.6,857.22 L126.6,856.34 L127.6,855.50 L128.6,854.74 L129.6,854.04 L130.6,853.42 L131.6,852.89 L132.6,852.45 L133.6,852.11 L134.6,851.87 L135.6,851.73 L136.6,851.70 L137.6,851.78 L138.6,851.95 L139.6,852.24 L140.6,852.62 L141.6,853.09 L142.6,853.66 L143.6,854.31 L144.6,855.04 L145.6,855.83 L146.6,856.68 L147.6,857.59 L148.6,858.54 L149.6,859.52 L150.6,860.52 L151.6,861.54 L152.6,862.57 L153.6,863.59 L154.6,864.61 L155.6,865.61 L156.6,866.59 L157.6,867.53 L158.6,868.45 L159.6,869.33 L160.6,870.17 L161.6,870.96 L162.6,871.71 L163.6,872.41 L164.6,873.07 L165.6,873.67 L166.6,874.24 L167.6,874.75 L168.6,875.22 L169.6,875.65 L170.6,876.04 L171.6,876.39 L172.6,876.70 L173.6,876.98 L174.6,877.23 L175.6,877.45 L176.6,877.65 L177.6,877.82 L178.6,877.96 L179.6,878.09 L180.6,878.20" fill="none" stroke="#d42828" stroke-width="1.5"/>
<line x1="137" y1="668" x2="137" y2="732" stroke="#555" stroke-width="0.6" stroke-dasharray="1,1.5"/>
</g>
<rect x="4.7" y="632.5" width="205.60000000000002" height="258.4" fill="none" stroke="#222" stroke-width="1.4"/>
<line x1="4.7" y1="890.9" x2="4.7" y2="892.4" stroke="#222" stroke-width="1"/>
<line x1="45.8" y1="890.9" x2="45.8" y2="892.4" stroke="#222" stroke-width="1"/>
<line x1="86.9" y1="890.9" x2="86.9" y2="892.4" stroke="#222" stroke-width="1"/>
<line x1="128.1" y1="890.9" x2="128.1" y2="892.4" stroke="#222" stroke-width="1"/>
<line x1="169.2" y1="890.9" x2="169.2" y2="892.4" stroke="#222" stroke-width="1"/>
<line x1="210.3" y1="890.9" x2="210.3" y2="892.4" stroke="#222" stroke-width="1"/>
<text x="4.7" y="901.1" font-size="9.5" text-anchor="middle" font-weight="bold">62</text>
<text x="45.8" y="901.1" font-size="9.5" text-anchor="middle" font-weight="bold">60</text>
<text x="86.9" y="901.1" font-size="9.5" text-anchor="middle" font-weight="bold">58</text>
<text x="128.1" y="901.1" font-size="9.5" text-anchor="middle" font-weight="bold">56</text>
<text x="169.2" y="901.1" font-size="9.5" text-anchor="middle" font-weight="bold">54</text>
<text x="210.3" y="901.1" font-size="9.5" text-anchor="middle" font-weight="bold">52</text>
<text x="62.4" y="912.0" font-size="12.2" text-anchor="start" font-weight="bold" textLength="103.6" lengthAdjust="spacingAndGlyphs">Binding Energy / eV</text>
<text x="10.4" y="647.4" font-size="14.2" text-anchor="start" font-weight="bold">Li 1s</text>
<text x="19.9" y="663.2" font-size="9.4" text-anchor="start" font-weight="bold">Pristine</text>
<text x="18.4" y="692.0" font-size="9.8" text-anchor="start" font-weight="bold">BL+1.5%DTD</text>
<text x="18.2" y="728.3" font-size="9.8" text-anchor="start" font-weight="bold">BL+1%DTD+0.5%PES</text>
<text x="18.2" y="771.4" font-size="9.8" text-anchor="start" font-weight="bold">BL+0.5%TMSB</text>
<text x="19.2" y="812.6" font-size="9.8" text-anchor="start" font-weight="bold">BL+0.5%TTSP</text>
<text x="19.2" y="855.4" font-size="9.8" text-anchor="start" font-weight="bold">BL+0.5%MMDS</text>
<text x="131.3" y="666.6" font-size="8.4" font-weight="bold" textLength="15" lengthAdjust="spacingAndGlyphs">Li 1s</text>
</svg>
</body></html>
